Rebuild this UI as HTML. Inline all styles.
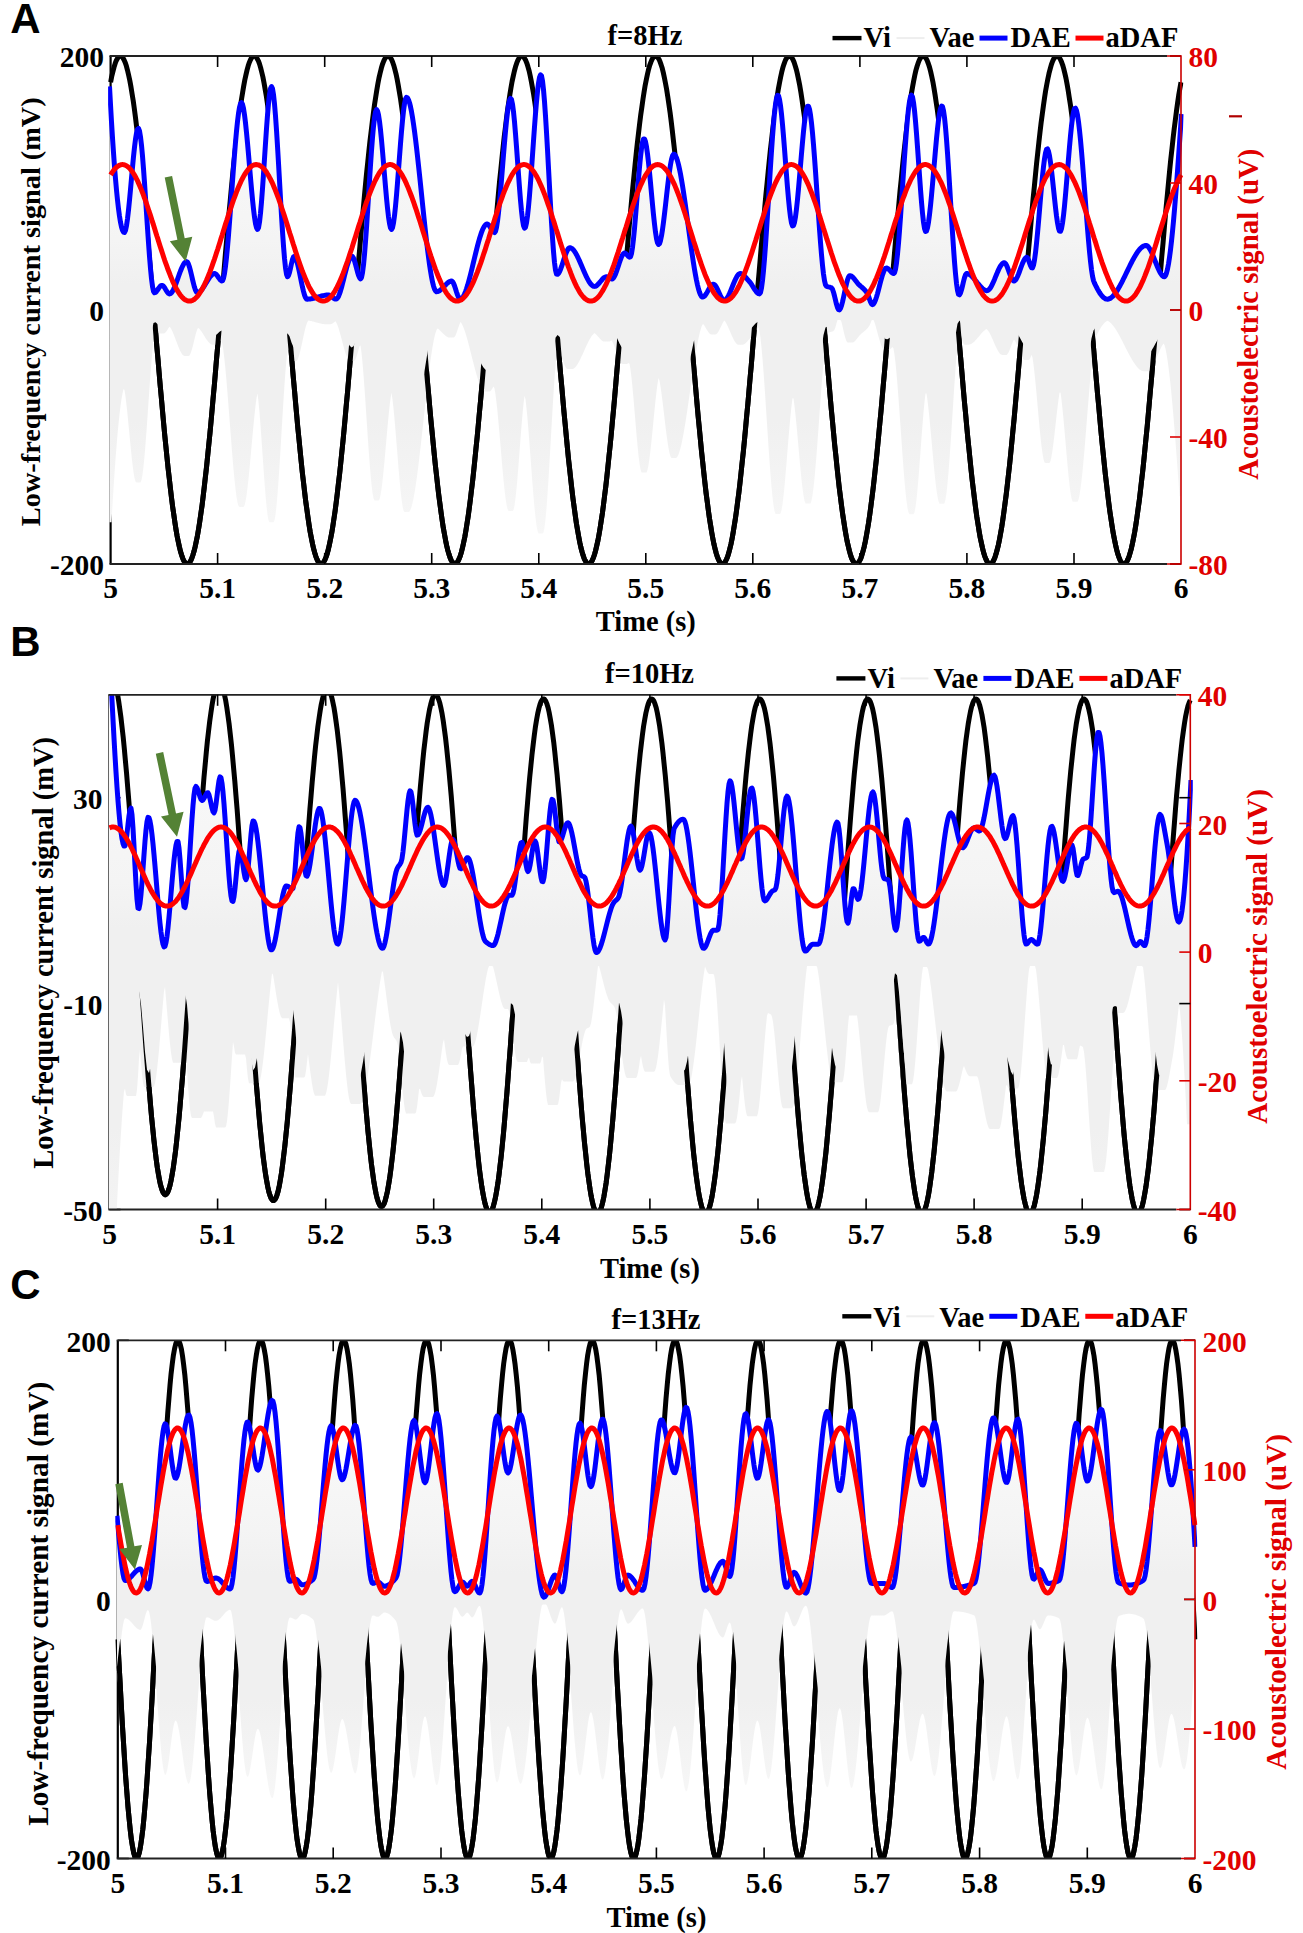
<!DOCTYPE html><html><head><meta charset="utf-8"><style>html,body{margin:0;padding:0;background:#fff;width:1303px;height:1933px;overflow:hidden}</style></head><body><svg width="1303" height="1933" viewBox="0 0 1303 1933" style="display:block">
<rect width="1303" height="1933" fill="#fff"/>
<clipPath id="clipA"><rect x="108.1" y="56.0" width="1075.4" height="508.0"/></clipPath>
<line x1="110.6" y1="56.0" x2="110.6" y2="564.0" stroke="#000" stroke-width="2.2"/>
<line x1="110.6" y1="56.0" x2="121.6" y2="56.0" stroke="#000" stroke-width="1.6"/>
<line x1="110.6" y1="310.0" x2="121.6" y2="310.0" stroke="#000" stroke-width="1.6"/>
<line x1="110.6" y1="564.0" x2="121.6" y2="564.0" stroke="#000" stroke-width="1.6"/>
<g clip-path="url(#clipA)">
<polyline points="110.6,82.2 111.7,76.5 112.9,71.6 114.0,67.3 115.1,63.7 116.2,60.7 117.4,58.5 118.5,57.0 119.6,56.1 120.8,56.0 121.9,56.7 123.0,58.0 124.1,60.0 125.3,62.7 126.4,66.1 127.5,70.3 128.6,75.0 129.8,80.5 130.9,86.5 132.0,93.3 133.2,100.6 134.3,108.5 135.4,116.9 136.5,125.9 137.7,135.5 138.8,145.5 139.9,156.0 141.1,166.9 142.2,178.2 143.3,189.9 144.4,201.9 145.6,214.2 146.7,226.8 147.8,239.6 148.9,252.6 150.1,265.8 151.2,279.1 152.3,292.5 153.5,305.9 154.6,319.4 155.7,332.8 156.8,346.2 158.0,359.4 159.1,372.6 160.2,385.5 161.4,398.2 162.5,410.7 163.6,422.9 164.7,434.8 165.9,446.4 167.0,457.5 168.1,468.2 169.3,478.5 170.4,488.4 171.5,497.7 172.6,506.5 173.8,514.7 174.9,522.4 176.0,529.5 177.1,535.9 178.3,541.8 179.4,546.9 180.5,551.5 181.7,555.3 182.8,558.4 183.9,560.9 185.0,562.6 186.2,563.7 187.3,564.0 188.4,563.6 189.6,562.5 190.7,560.7 191.8,558.2 192.9,555.0 194.1,551.1 195.2,546.5 196.3,541.3 197.5,535.4 198.6,528.9 199.7,521.8 200.8,514.1 202.0,505.8 203.1,496.9 204.2,487.6 205.3,477.7 206.5,467.4 207.6,456.6 208.7,445.4 209.9,433.8 211.0,421.9 212.1,409.7 213.2,397.2 214.4,384.4 215.5,371.5 216.6,358.3 217.8,345.1 218.9,331.7 220.0,318.3 221.1,304.8 222.3,291.4 223.4,278.0 224.5,264.7 225.6,251.5 226.8,238.5 227.9,225.7 229.0,213.1 230.2,200.9 231.3,188.9 232.4,177.2 233.5,165.9 234.7,155.1 235.8,144.6 236.9,134.7 238.1,125.2 239.2,116.2 240.3,107.8 241.4,99.9 242.6,92.7 243.7,86.0 244.8,80.0 246.0,74.6 247.1,69.9 248.2,65.8 249.3,62.5 250.5,59.8 251.6,57.8 252.7,56.6 253.8,56.0 255.0,56.2 256.1,57.1 257.2,58.7 258.4,60.9 259.5,63.9 260.6,67.6 261.7,72.0 262.9,77.0 264.0,82.7 265.1,89.0 266.3,95.9 267.4,103.5 268.5,111.6 269.6,120.3 270.8,129.5 271.9,139.2 273.0,149.4 274.1,160.0 275.3,171.1 276.4,182.5 277.5,194.3 278.7,206.5 279.8,218.9 280.9,231.6 282.0,244.5 283.2,257.6 284.3,270.8 285.4,284.1 286.6,297.5 287.7,311.0 288.8,324.4 289.9,337.8 291.1,351.2 292.2,364.4 293.3,377.4 294.5,390.3 295.6,403.0 296.7,415.3 297.8,427.4 299.0,439.2 300.1,450.6 301.2,461.6 302.3,472.2 303.5,482.3 304.6,491.9 305.7,501.1 306.9,509.6 308.0,517.7 309.1,525.1 310.2,532.0 311.4,538.2 312.5,543.8 313.6,548.7 314.8,553.0 315.9,556.6 317.0,559.4 318.1,561.6 319.3,563.1 320.4,563.9 321.5,563.9 322.6,563.3 323.8,561.9 324.9,559.9 326.0,557.1 327.2,553.6 328.3,549.5 329.4,544.6 330.5,539.2 331.7,533.1 332.8,526.3 333.9,519.0 335.1,511.0 336.2,502.5 337.3,493.5 338.4,483.9 339.6,473.9 340.7,463.4 341.8,452.4 343.0,441.1 344.1,429.4 345.2,417.4 346.3,405.0 347.5,392.4 348.6,379.6 349.7,366.6 350.8,353.4 352.0,340.1 353.1,326.7 354.2,313.2 355.4,299.8 356.5,286.3 357.6,273.0 358.7,259.7 359.9,246.6 361.0,233.7 362.1,221.0 363.3,208.5 364.4,196.3 365.5,184.5 366.6,172.9 367.8,161.8 368.9,151.1 370.0,140.8 371.2,131.0 372.3,121.7 373.4,113.0 374.5,104.8 375.7,97.1 376.8,90.1 377.9,83.7 379.0,77.9 380.2,72.8 381.3,68.3 382.4,64.5 383.6,61.4 384.7,59.0 385.8,57.3 386.9,56.3 388.1,56.0 389.2,56.4 390.3,57.6 391.5,59.4 392.6,62.0 393.7,65.2 394.8,69.2 396.0,73.8 397.1,79.0 398.2,85.0 399.3,91.5 400.5,98.7 401.6,106.4 402.7,114.8 403.9,123.6 405.0,133.0 406.1,142.9 407.2,153.3 408.4,164.1 409.5,175.3 410.6,186.9 411.8,198.8 412.9,211.1 414.0,223.6 415.1,236.4 416.3,249.4 417.4,262.5 418.5,275.8 419.7,289.1 420.8,302.6 421.9,316.0 423.0,329.5 424.2,342.8 425.3,356.1 426.4,369.3 427.5,382.3 428.7,395.1 429.8,407.6 430.9,419.9 432.1,431.9 433.2,443.5 434.3,454.8 435.4,465.6 436.6,476.0 437.7,486.0 438.8,495.4 440.0,504.3 441.1,512.7 442.2,520.5 443.3,527.8 444.5,534.4 445.6,540.4 446.7,545.7 447.8,550.4 449.0,554.4 450.1,557.7 451.2,560.3 452.4,562.3 453.5,563.5 454.6,564.0 455.7,563.8 456.9,562.9 458.0,561.2 459.1,558.9 460.3,555.9 461.4,552.1 462.5,547.7 463.6,542.7 464.8,537.0 465.9,530.6 467.0,523.6 468.2,516.0 469.3,507.9 470.4,499.2 471.5,489.9 472.7,480.2 473.8,470.0 474.9,459.3 476.0,448.2 477.2,436.8 478.3,424.9 479.4,412.8 480.6,400.3 481.7,387.6 482.8,374.7 483.9,361.6 485.1,348.4 486.2,335.0 487.3,321.6 488.5,308.2 489.6,294.7 490.7,281.3 491.8,268.0 493.0,254.8 494.1,241.8 495.2,228.9 496.4,216.3 497.5,203.9 498.6,191.8 499.7,180.1 500.9,168.7 502.0,157.7 503.1,147.2 504.2,137.1 505.4,127.5 506.5,118.4 507.6,109.8 508.8,101.8 509.9,94.4 511.0,87.6 512.1,81.4 513.3,75.9 514.4,71.0 515.5,66.8 516.7,63.2 517.8,60.4 518.9,58.3 520.0,56.8 521.2,56.1 522.3,56.1 523.4,56.8 524.5,58.2 525.7,60.3 526.8,63.1 527.9,66.6 529.1,70.8 530.2,75.7 531.3,81.2 532.4,87.4 533.6,94.1 534.7,101.5 535.8,109.5 537.0,118.0 538.1,127.1 539.2,136.7 540.3,146.8 541.5,157.3 542.6,168.3 543.7,179.6 544.9,191.3 546.0,203.4 547.1,215.8 548.2,228.4 549.4,241.2 550.5,254.3 551.6,267.5 552.7,280.8 553.9,294.2 555.0,307.6 556.1,321.1 557.3,334.5 558.4,347.8 559.5,361.1 560.6,374.2 561.8,387.1 562.9,399.8 564.0,412.3 565.2,424.4 566.3,436.3 567.4,447.8 568.5,458.9 569.7,469.6 570.8,479.8 571.9,489.6 573.0,498.8 574.2,507.5 575.3,515.7 576.4,523.3 577.6,530.3 578.7,536.7 579.8,542.5 580.9,547.5 582.1,552.0 583.2,555.7 584.3,558.8 585.5,561.1 586.6,562.8 587.7,563.8 588.8,564.0 590.0,563.5 591.1,562.3 592.2,560.4 593.4,557.8 594.5,554.5 595.6,550.6 596.7,545.9 597.9,540.6 599.0,534.6 600.1,528.1 601.2,520.8 602.4,513.1 603.5,504.7 604.6,495.8 605.8,486.4 606.9,476.4 608.0,466.0 609.1,455.2 610.3,444.0 611.4,432.4 612.5,420.4 613.7,408.1 614.8,395.6 615.9,382.8 617.0,369.8 618.2,356.7 619.3,343.4 620.4,330.0 621.5,316.6 622.7,303.1 623.8,289.7 624.9,276.3 626.1,263.0 627.2,249.9 628.3,236.9 629.4,224.1 630.6,211.6 631.7,199.3 632.8,187.4 634.0,175.8 635.1,164.6 636.2,153.7 637.3,143.4 638.5,133.4 639.6,124.0 640.7,115.1 641.9,106.8 643.0,99.0 644.1,91.8 645.2,85.2 646.4,79.3 647.5,74.0 648.6,69.3 649.7,65.4 650.9,62.1 652.0,59.5 653.1,57.6 654.3,56.5 655.4,56.0 656.5,56.3 657.6,57.2 658.8,58.9 659.9,61.3 661.0,64.4 662.2,68.1 663.3,72.6 664.4,77.7 665.5,83.4 666.7,89.8 667.8,96.8 668.9,104.4 670.1,112.6 671.2,121.4 672.3,130.6 673.4,140.4 674.6,150.7 675.7,161.4 676.8,172.5 677.9,184.0 679.1,195.8 680.2,208.0 681.3,220.5 682.5,233.2 683.6,246.1 684.7,259.2 685.8,272.4 687.0,285.8 688.1,299.2 689.2,312.7 690.4,326.1 691.5,339.5 692.6,352.8 693.7,366.0 694.9,379.1 696.0,391.9 697.1,404.5 698.2,416.9 699.4,428.9 700.5,440.6 701.6,452.0 702.8,462.9 703.9,473.5 705.0,483.5 706.1,493.1 707.3,502.2 708.4,510.7 709.5,518.6 710.7,526.0 711.8,532.8 712.9,538.9 714.0,544.4 715.2,549.3 716.3,553.5 717.4,557.0 718.6,559.8 719.7,561.9 720.8,563.2 721.9,563.9 723.1,563.9 724.2,563.2 725.3,561.7 726.4,559.5 727.6,556.7 728.7,553.1 729.8,548.9 731.0,544.0 732.1,538.4 733.2,532.2 734.3,525.4 735.5,518.0 736.6,510.0 737.7,501.4 738.9,492.3 740.0,482.7 741.1,472.6 742.2,462.0 743.4,451.0 744.5,439.7 745.6,427.9 746.7,415.8 747.9,403.5 749.0,390.8 750.1,378.0 751.3,364.9 752.4,351.7 753.5,338.4 754.6,325.0 755.8,311.5 756.9,298.1 758.0,284.7 759.2,271.3 760.3,258.1 761.4,245.0 762.5,232.1 763.7,219.4 764.8,207.0 765.9,194.8 767.1,183.0 768.2,171.5 769.3,160.4 770.4,149.8 771.6,139.6 772.7,129.8 773.8,120.6 774.9,111.9 776.1,103.8 777.2,96.2 778.3,89.3 779.5,82.9 780.6,77.2 781.7,72.2 782.8,67.8 784.0,64.1 785.1,61.0 786.2,58.7 787.4,57.1 788.5,56.2 789.6,56.0 790.7,56.5 791.9,57.8 793.0,59.7 794.1,62.3 795.2,65.7 796.4,69.7 797.5,74.4 798.6,79.8 799.8,85.8 800.9,92.4 802.0,99.6 803.1,107.5 804.3,115.8 805.4,124.8 806.5,134.3 807.7,144.2 808.8,154.6 809.9,165.5 811.0,176.7 812.2,188.4 813.3,200.4 814.4,212.6 815.6,225.2 816.7,238.0 817.8,251.0 818.9,264.2 820.1,277.4 821.2,290.8 822.3,304.3 823.4,317.7 824.6,331.1 825.7,344.5 826.8,357.8 828.0,370.9 829.1,383.9 830.2,396.7 831.3,409.2 832.5,421.4 833.6,433.3 834.7,444.9 835.9,456.1 837.0,466.9 838.1,477.3 839.2,487.2 840.4,496.6 841.5,505.4 842.6,513.7 843.8,521.5 844.9,528.6 846.0,535.2 847.1,541.1 848.3,546.3 849.4,550.9 850.5,554.9 851.6,558.1 852.8,560.6 853.9,562.5 855.0,563.6 856.2,564.0 857.3,563.7 858.4,562.7 859.5,561.0 860.7,558.6 861.8,555.4 862.9,551.6 864.1,547.1 865.2,542.0 866.3,536.2 867.4,529.8 868.6,522.7 869.7,515.1 870.8,506.8 871.9,498.1 873.1,488.8 874.2,479.0 875.3,468.7 876.5,458.0 877.6,446.8 878.7,435.3 879.8,423.4 881.0,411.2 882.1,398.8 883.2,386.0 884.4,373.1 885.5,360.0 886.6,346.7 887.7,333.4 888.9,319.9 890.0,306.5 891.1,293.0 892.3,279.7 893.4,266.3 894.5,253.2 895.6,240.1 896.8,227.3 897.9,214.7 899.0,202.4 900.1,190.3 901.3,178.7 902.4,167.3 903.5,156.4 904.7,145.9 905.8,135.9 906.9,126.3 908.0,117.3 909.2,108.8 910.3,100.9 911.4,93.5 912.6,86.8 913.7,80.7 914.8,75.2 915.9,70.4 917.1,66.3 918.2,62.9 919.3,60.1 920.4,58.0 921.6,56.7 922.7,56.1 923.8,56.1 925.0,56.9 926.1,58.4 927.2,60.6 928.3,63.5 929.5,67.1 930.6,71.4 931.7,76.3 932.9,81.9 934.0,88.2 935.1,95.0 936.2,102.5 937.4,110.5 938.5,119.1 939.6,128.3 940.8,137.9 941.9,148.1 943.0,158.7 944.1,169.7 945.3,181.1 946.4,192.8 947.5,204.9 948.6,217.3 949.8,230.0 950.9,242.8 952.0,255.9 953.2,269.1 954.3,282.5 955.4,295.9 956.5,309.3 957.7,322.8 958.8,336.2 959.9,349.5 961.1,362.7 962.2,375.8 963.3,388.7 964.4,401.4 965.6,413.8 966.7,425.9 967.8,437.7 969.0,449.2 970.1,460.2 971.2,470.9 972.3,481.0 973.5,490.7 974.6,499.9 975.7,508.6 976.8,516.7 978.0,524.2 979.1,531.2 980.2,537.5 981.4,543.1 982.5,548.1 983.6,552.5 984.7,556.1 985.9,559.1 987.0,561.4 988.1,563.0 989.3,563.8 990.4,564.0 991.5,563.4 992.6,562.1 993.8,560.1 994.9,557.5 996.0,554.1 997.1,550.0 998.3,545.3 999.4,539.9 1000.5,533.9 1001.7,527.2 1002.8,519.9 1003.9,512.0 1005.0,503.6 1006.2,494.6 1007.3,485.1 1008.4,475.2 1009.6,464.7 1010.7,453.8 1011.8,442.5 1012.9,430.9 1014.1,418.9 1015.2,406.6 1016.3,394.0 1017.5,381.2 1018.6,368.2 1019.7,355.0 1020.8,341.7 1022.0,328.3 1023.1,314.9 1024.2,301.4 1025.3,288.0 1026.5,274.7 1027.6,261.4 1028.7,248.3 1029.9,235.3 1031.0,222.6 1032.1,210.0 1033.2,197.8 1034.4,185.9 1035.5,174.4 1036.6,163.2 1037.8,152.4 1038.9,142.1 1040.0,132.2 1041.1,122.9 1042.3,114.0 1043.4,105.8 1044.5,98.1 1045.6,90.9 1046.8,84.4 1047.9,78.6 1049.0,73.4 1050.2,68.8 1051.3,64.9 1052.4,61.7 1053.5,59.2 1054.7,57.5 1055.8,56.4 1056.9,56.0 1058.1,56.3 1059.2,57.4 1060.3,59.2 1061.4,61.6 1062.6,64.8 1063.7,68.6 1064.8,73.2 1066.0,78.4 1067.1,84.2 1068.2,90.7 1069.3,97.8 1070.5,105.4 1071.6,113.7 1072.7,122.5 1073.8,131.8 1075.0,141.7 1076.1,152.0 1077.2,162.7 1078.4,173.9 1079.5,185.4 1080.6,197.3 1081.7,209.5 1082.9,222.0 1084.0,234.8 1085.1,247.7 1086.3,260.8 1087.4,274.1 1088.5,287.5 1089.6,300.9 1090.8,314.4 1091.9,327.8 1093.0,341.2 1094.1,354.5 1095.3,367.7 1096.4,380.7 1097.5,393.5 1098.7,406.1 1099.8,418.4 1100.9,430.4 1102.0,442.1 1103.2,453.4 1104.3,464.3 1105.4,474.7 1106.6,484.7 1107.7,494.3 1108.8,503.3 1109.9,511.7 1111.1,519.6 1112.2,526.9 1113.3,533.6 1114.5,539.7 1115.6,545.1 1116.7,549.8 1117.8,553.9 1119.0,557.3 1120.1,560.1 1121.2,562.1 1122.3,563.4 1123.5,564.0 1124.6,563.8 1125.7,563.0 1126.9,561.5 1128.0,559.2 1129.1,556.3 1130.2,552.6 1131.4,548.3 1132.5,543.3 1133.6,537.7 1134.8,531.4 1135.9,524.5 1137.0,517.0 1138.1,508.9 1139.3,500.3 1140.4,491.1 1141.5,481.4 1142.7,471.3 1143.8,460.7 1144.9,449.6 1146.0,438.2 1147.2,426.4 1148.3,414.3 1149.4,401.9 1150.5,389.2 1151.7,376.3 1152.8,363.3 1153.9,350.0 1155.1,336.7 1156.2,323.3 1157.3,309.9 1158.4,296.4 1159.6,283.0 1160.7,269.7 1161.8,256.4 1163.0,243.4 1164.1,230.5 1165.2,217.8 1166.3,205.4 1167.5,193.3 1168.6,181.5 1169.7,170.1 1170.8,159.1 1172.0,148.5 1173.1,138.3 1174.2,128.7 1175.4,119.5 1176.5,110.9 1177.6,102.8 1178.7,95.3 1179.9,88.4 1181.0,82.2" fill="none" stroke="#000" stroke-width="5" stroke-linejoin="round"/>
<linearGradient id="gA" gradientUnits="userSpaceOnUse" x1="0" y1="74.9" x2="0" y2="533.4"><stop offset="0" stop-color="#fbfbfb"/><stop offset="0.360" stop-color="#f4f4f4"/><stop offset="0.458" stop-color="#f0f0f0"/><stop offset="0.756" stop-color="#f0f0f0"/><stop offset="1" stop-color="#f7f7f7"/></linearGradient>
<polygon points="109.5,86.5 110.5,104.7 111.5,121.9 112.5,137.9 113.5,152.7 114.5,166.4 115.5,178.9 116.5,190.1 117.5,200.1 118.5,208.8 119.5,216.2 120.5,222.3 121.5,227.0 122.5,230.3 123.5,232.1 124.5,232.5 125.5,230.4 126.5,225.7 127.5,218.8 128.5,210.1 129.5,200.2 130.5,189.4 131.5,178.3 132.5,167.2 133.5,156.7 134.5,147.3 135.5,139.2 136.5,133.1 137.5,129.4 138.5,128.5 139.5,131.0 140.5,136.8 141.5,145.3 142.5,156.1 143.5,168.8 144.5,182.8 145.5,197.6 146.5,212.9 147.5,228.1 148.5,242.7 149.5,256.4 150.5,268.5 151.5,278.7 152.5,286.5 153.5,291.3 154.5,292.8 155.5,292.4 156.5,291.4 157.5,290.0 158.5,288.5 159.5,287.1 160.5,286.0 161.5,285.4 162.5,285.5 163.5,286.3 164.5,287.6 165.5,289.3 166.5,290.9 167.5,292.4 168.5,293.5 169.5,293.9 170.5,293.6 171.5,292.7 172.5,291.3 173.5,289.4 174.5,287.2 175.5,284.8 176.5,282.1 177.5,279.3 178.5,276.5 179.5,273.7 180.5,271.0 181.5,268.5 182.5,266.3 183.5,264.4 184.5,262.9 185.5,262.0 186.5,261.6 187.5,262.2 188.5,264.2 189.5,267.1 190.5,270.9 191.5,275.0 192.5,279.4 193.5,283.5 194.5,287.3 195.5,290.2 196.5,292.2 197.5,292.8 198.5,292.6 199.5,292.0 200.5,291.1 201.5,290.0 202.5,288.7 203.5,287.2 204.5,285.6 205.5,284.0 206.5,282.3 207.5,280.7 208.5,279.1 209.5,277.6 210.5,276.3 211.5,275.2 212.5,274.3 213.5,273.7 214.5,273.5 215.5,273.8 216.5,274.7 217.5,276.0 218.5,277.5 219.5,278.9 220.5,280.1 221.5,280.9 222.5,280.8 223.5,278.3 224.5,273.4 225.5,266.3 226.5,257.4 227.5,246.9 228.5,235.2 229.5,222.4 230.5,209.0 231.5,195.3 232.5,181.4 233.5,167.8 234.5,154.7 235.5,142.4 236.5,131.3 237.5,121.5 238.5,113.5 239.5,107.4 240.5,103.7 241.5,102.6 242.5,104.3 243.5,108.4 244.5,114.8 245.5,122.9 246.5,132.4 247.5,143.0 248.5,154.3 249.5,166.0 250.5,177.7 251.5,189.0 252.5,199.6 253.5,209.1 254.5,217.2 255.5,223.6 256.5,227.7 257.5,229.4 258.5,227.7 259.5,222.1 260.5,213.3 261.5,202.0 262.5,188.6 263.5,174.0 264.5,158.7 265.5,143.4 266.5,128.7 267.5,115.2 268.5,103.6 269.5,94.5 270.5,88.6 271.5,86.5 272.5,88.6 273.5,94.6 274.5,103.9 275.5,115.9 276.5,130.1 277.5,146.1 278.5,163.1 279.5,180.7 280.5,198.4 281.5,215.5 282.5,231.5 283.5,246.0 284.5,258.3 285.5,267.8 286.5,274.2 287.5,276.7 288.5,275.6 289.5,272.5 290.5,268.1 291.5,263.5 292.5,259.4 293.5,256.8 294.5,256.4 295.5,257.7 296.5,260.2 297.5,263.7 298.5,267.9 299.5,272.6 300.5,277.5 301.5,282.5 302.5,287.2 303.5,291.4 304.5,295.0 305.5,297.6 306.5,299.0 307.5,299.2 308.5,299.1 309.5,299.0 310.5,298.9 311.5,298.7 312.5,298.5 313.5,298.3 314.5,298.0 315.5,297.7 316.5,297.5 317.5,297.2 318.5,296.9 319.5,296.6 320.5,296.3 321.5,296.0 322.5,295.8 323.5,295.6 324.5,295.4 325.5,295.2 326.5,295.1 327.5,295.0 328.5,295.0 329.5,295.2 330.5,295.7 331.5,296.5 332.5,297.3 333.5,298.1 334.5,298.8 335.5,299.1 336.5,299.1 337.5,298.1 338.5,296.4 339.5,293.9 340.5,290.9 341.5,287.5 342.5,283.7 343.5,279.8 344.5,275.7 345.5,271.8 346.5,268.0 347.5,264.6 348.5,261.6 349.5,259.1 350.5,257.4 351.5,256.4 352.5,256.5 353.5,258.1 354.5,260.8 355.5,264.3 356.5,268.1 357.5,271.9 358.5,275.2 359.5,277.6 360.5,278.8 361.5,277.6 362.5,272.8 363.5,264.9 364.5,254.4 365.5,241.8 366.5,227.7 367.5,212.4 368.5,196.6 369.5,180.7 370.5,165.2 371.5,150.7 372.5,137.5 373.5,126.4 374.5,117.7 375.5,111.9 376.5,109.6 377.5,110.9 378.5,114.9 379.5,121.4 380.5,129.9 381.5,139.9 382.5,151.1 383.5,162.9 384.5,174.9 385.5,186.8 386.5,198.0 387.5,208.1 388.5,216.8 389.5,223.5 390.5,227.9 391.5,229.4 392.5,227.7 393.5,223.0 394.5,215.7 395.5,206.2 396.5,195.2 397.5,182.9 398.5,169.9 399.5,156.8 400.5,143.8 401.5,131.5 402.5,120.5 403.5,111.0 404.5,103.7 405.5,99.0 406.5,97.3 407.5,97.9 408.5,99.8 409.5,102.7 410.5,106.7 411.5,111.6 412.5,117.4 413.5,124.0 414.5,131.2 415.5,139.0 416.5,147.4 417.5,156.2 418.5,165.4 419.5,174.8 420.5,184.3 421.5,194.0 422.5,203.7 423.5,213.3 424.5,222.7 425.5,231.9 426.5,240.7 427.5,249.1 428.5,257.0 429.5,264.4 430.5,271.0 431.5,276.8 432.5,281.9 433.5,285.9 434.5,289.0 435.5,290.9 436.5,291.7 437.5,291.6 438.5,291.2 439.5,290.7 440.5,289.9 441.5,289.0 442.5,288.0 443.5,287.0 444.5,285.9 445.5,284.9 446.5,283.9 447.5,283.0 448.5,282.2 449.5,281.6 450.5,281.2 451.5,281.0 452.5,281.6 453.5,283.3 454.5,285.8 455.5,288.8 456.5,292.0 457.5,294.9 458.5,297.3 459.5,298.9 460.5,299.2 461.5,298.7 462.5,297.6 463.5,296.1 464.5,294.0 465.5,291.6 466.5,288.8 467.5,285.6 468.5,282.1 469.5,278.4 470.5,274.6 471.5,270.5 472.5,266.4 473.5,262.2 474.5,258.0 475.5,253.9 476.5,249.8 477.5,245.9 478.5,242.1 479.5,238.6 480.5,235.4 481.5,232.4 482.5,229.8 483.5,227.7 484.5,226.0 485.5,224.8 486.5,224.1 487.5,224.1 488.5,224.8 489.5,226.1 490.5,227.7 491.5,229.4 492.5,231.0 493.5,232.1 494.5,232.6 495.5,231.4 496.5,227.4 497.5,221.1 498.5,212.8 499.5,202.9 500.5,191.7 501.5,179.7 502.5,167.3 503.5,154.9 504.5,142.7 505.5,131.3 506.5,121.0 507.5,112.1 508.5,105.1 509.5,100.4 510.5,98.4 511.5,99.5 512.5,104.2 513.5,111.8 514.5,121.8 515.5,133.7 516.5,146.7 517.5,160.5 518.5,174.4 519.5,187.8 520.5,200.2 521.5,211.0 522.5,219.7 523.5,225.6 524.5,228.2 525.5,227.2 526.5,223.0 527.5,216.0 528.5,206.7 529.5,195.5 530.5,182.9 531.5,169.2 532.5,155.1 533.5,140.8 534.5,126.9 535.5,113.7 536.5,101.7 537.5,91.4 538.5,83.2 539.5,77.5 540.5,74.9 541.5,75.8 542.5,80.9 543.5,89.7 544.5,101.5 545.5,115.8 546.5,132.1 547.5,149.7 548.5,168.1 549.5,186.7 550.5,204.9 551.5,222.1 552.5,237.9 553.5,251.5 554.5,262.5 555.5,270.2 556.5,274.1 557.5,274.3 558.5,273.4 559.5,271.7 560.5,269.4 561.5,266.7 562.5,263.7 563.5,260.6 564.5,257.6 565.5,254.6 566.5,252.1 567.5,250.0 568.5,248.5 569.5,247.7 570.5,247.8 571.5,248.2 572.5,249.0 573.5,250.0 574.5,251.4 575.5,252.9 576.5,254.7 577.5,256.6 578.5,258.7 579.5,260.9 580.5,263.2 581.5,265.5 582.5,267.9 583.5,270.2 584.5,272.5 585.5,274.7 586.5,276.9 587.5,278.8 588.5,280.7 589.5,282.3 590.5,283.7 591.5,284.8 592.5,285.7 593.5,286.2 594.5,286.4 595.5,286.2 596.5,285.7 597.5,284.9 598.5,283.8 599.5,282.7 600.5,281.5 601.5,280.3 602.5,279.1 603.5,278.1 604.5,277.4 605.5,276.9 606.5,276.7 607.5,276.9 608.5,277.4 609.5,278.0 610.5,278.6 611.5,278.9 612.5,278.9 613.5,278.0 614.5,276.3 615.5,274.1 616.5,271.4 617.5,268.5 618.5,265.4 619.5,262.3 620.5,259.5 621.5,256.9 622.5,254.9 623.5,253.6 624.5,253.0 625.5,253.3 626.5,254.2 627.5,255.4 628.5,256.5 629.5,257.2 630.5,256.9 631.5,253.5 632.5,247.3 633.5,238.7 634.5,228.4 635.5,216.7 636.5,204.3 637.5,191.5 638.5,179.1 639.5,167.4 640.5,157.1 641.5,148.5 642.5,142.3 643.5,138.9 644.5,138.9 645.5,141.6 646.5,146.8 647.5,153.9 648.5,162.5 649.5,172.3 650.5,182.8 651.5,193.7 652.5,204.5 653.5,214.7 654.5,224.1 655.5,232.2 656.5,238.6 657.5,242.8 658.5,244.5 659.5,243.6 660.5,240.6 661.5,235.8 662.5,229.5 663.5,222.1 664.5,213.9 665.5,205.2 666.5,196.2 667.5,187.4 668.5,179.0 669.5,171.3 670.5,164.6 671.5,159.4 672.5,155.8 673.5,154.2 674.5,154.5 675.5,155.8 676.5,157.9 677.5,160.9 678.5,164.6 679.5,169.1 680.5,174.1 681.5,179.7 682.5,185.7 683.5,192.1 684.5,198.9 685.5,205.9 686.5,213.1 687.5,220.5 688.5,227.9 689.5,235.2 690.5,242.5 691.5,249.6 692.5,256.5 693.5,263.1 694.5,269.3 695.5,275.0 696.5,280.3 697.5,285.0 698.5,289.0 699.5,292.3 700.5,294.8 701.5,296.4 702.5,297.1 703.5,296.9 704.5,296.1 705.5,294.9 706.5,293.4 707.5,291.6 708.5,289.8 709.5,288.1 710.5,286.5 711.5,285.3 712.5,284.5 713.5,284.2 714.5,284.7 715.5,285.8 716.5,287.4 717.5,289.4 718.5,291.6 719.5,293.8 720.5,295.9 721.5,297.8 722.5,299.2 723.5,300.1 724.5,300.3 725.5,299.8 726.5,298.8 727.5,297.4 728.5,295.6 729.5,293.5 730.5,291.2 731.5,288.8 732.5,286.3 733.5,283.8 734.5,281.4 735.5,279.2 736.5,277.3 737.5,275.6 738.5,274.4 739.5,273.7 740.5,273.5 741.5,273.8 742.5,274.3 743.5,275.1 744.5,276.1 745.5,277.2 746.5,278.3 747.5,279.5 748.5,280.6 749.5,281.7 750.5,282.9 751.5,284.4 752.5,286.0 753.5,287.6 754.5,289.2 755.5,290.6 756.5,291.9 757.5,292.9 758.5,293.6 759.5,293.9 760.5,292.5 761.5,287.9 762.5,280.5 763.5,270.7 764.5,258.8 765.5,245.2 766.5,230.4 767.5,214.7 768.5,198.6 769.5,182.3 770.5,166.3 771.5,151.0 772.5,136.8 773.5,124.1 774.5,113.1 775.5,104.5 776.5,98.4 777.5,95.4 778.5,95.7 779.5,99.3 780.5,105.6 781.5,114.1 782.5,124.5 783.5,136.3 784.5,148.9 785.5,162.0 786.5,175.0 787.5,187.5 788.5,199.0 789.5,209.0 790.5,217.2 791.5,223.0 792.5,225.9 793.5,225.6 794.5,222.4 795.5,216.7 796.5,208.9 797.5,199.5 798.5,188.8 799.5,177.3 800.5,165.5 801.5,153.6 802.5,142.2 803.5,131.6 804.5,122.3 805.5,114.7 806.5,109.2 807.5,106.3 808.5,106.3 809.5,109.3 810.5,115.0 811.5,123.0 812.5,133.0 813.5,144.6 814.5,157.5 815.5,171.3 816.5,185.8 817.5,200.4 818.5,215.0 819.5,229.1 820.5,242.4 821.5,254.6 822.5,265.3 823.5,274.1 824.5,280.7 825.5,284.8 826.5,286.2 827.5,286.6 828.5,286.9 829.5,287.1 830.5,287.5 831.5,287.9 832.5,289.3 833.5,292.2 834.5,296.0 835.5,300.2 836.5,304.3 837.5,306.0 838.5,306.0 839.5,306.0 840.5,306.0 841.5,305.7 842.5,301.9 843.5,297.5 844.5,292.8 845.5,288.1 846.5,283.7 847.5,279.9 848.5,277.2 849.5,275.7 850.5,275.7 851.5,276.1 852.5,276.9 853.5,278.0 854.5,279.2 855.5,280.5 856.5,281.8 857.5,283.1 858.5,284.2 859.5,285.2 860.5,286.1 861.5,286.9 862.5,287.8 863.5,288.8 864.5,289.8 865.5,290.9 866.5,292.1 867.5,293.7 868.5,296.1 869.5,299.1 870.5,301.9 871.5,303.9 872.5,304.6 873.5,304.0 874.5,302.4 875.5,300.0 876.5,297.0 877.5,293.6 878.5,289.8 879.5,285.9 880.5,282.0 881.5,278.3 882.5,274.9 883.5,272.1 884.5,269.8 885.5,268.4 886.5,268.0 887.5,268.3 888.5,269.1 889.5,270.0 890.5,271.1 891.5,272.2 892.5,273.0 893.5,273.5 894.5,272.9 895.5,269.3 896.5,263.0 897.5,254.2 898.5,243.3 899.5,230.8 900.5,217.1 901.5,202.4 902.5,187.3 903.5,172.2 904.5,157.3 905.5,143.2 906.5,130.1 907.5,118.6 908.5,108.9 909.5,101.5 910.5,96.8 911.5,95.1 912.5,97.0 913.5,102.4 914.5,110.6 915.5,121.2 916.5,133.5 917.5,147.0 918.5,161.2 919.5,175.5 920.5,189.2 921.5,202.0 922.5,213.1 923.5,222.1 924.5,228.4 925.5,231.4 926.5,230.9 927.5,227.7 928.5,222.2 929.5,214.7 930.5,205.7 931.5,195.5 932.5,184.4 933.5,172.8 934.5,161.2 935.5,149.7 936.5,138.8 937.5,128.9 938.5,120.3 939.5,113.4 940.5,108.6 941.5,106.1 942.5,106.6 943.5,110.5 944.5,117.6 945.5,127.3 946.5,139.2 947.5,153.0 948.5,168.1 949.5,184.0 950.5,200.5 951.5,216.9 952.5,232.8 953.5,247.9 954.5,261.7 955.5,273.6 956.5,283.3 957.5,290.4 958.5,294.3 959.5,294.8 960.5,293.0 961.5,289.8 962.5,285.8 963.5,281.5 964.5,277.6 965.5,274.8 966.5,273.5 967.5,273.6 968.5,273.9 969.5,274.4 970.5,275.1 971.5,276.0 972.5,277.0 973.5,278.1 974.5,279.2 975.5,280.5 976.5,281.7 977.5,283.0 978.5,284.2 979.5,285.4 980.5,286.6 981.5,287.6 982.5,288.6 983.5,289.4 984.5,290.0 985.5,290.4 986.5,290.7 987.5,290.6 988.5,290.1 989.5,289.1 990.5,287.7 991.5,286.0 992.5,283.9 993.5,281.7 994.5,279.4 995.5,276.9 996.5,274.5 997.5,272.1 998.5,269.9 999.5,267.8 1000.5,266.0 1001.5,264.6 1002.5,263.5 1003.5,262.8 1004.5,262.8 1005.5,263.6 1006.5,265.3 1007.5,267.6 1008.5,270.3 1009.5,273.1 1010.5,275.8 1011.5,278.2 1012.5,280.0 1013.5,280.9 1014.5,280.9 1015.5,280.0 1016.5,278.5 1017.5,276.5 1018.5,274.1 1019.5,271.5 1020.5,268.7 1021.5,266.0 1022.5,263.4 1023.5,261.2 1024.5,259.3 1025.5,258.0 1026.5,257.3 1027.5,257.8 1028.5,259.9 1029.5,262.9 1030.5,265.7 1031.5,267.7 1032.5,267.9 1033.5,265.2 1034.5,260.0 1035.5,252.7 1036.5,243.6 1037.5,233.2 1038.5,222.0 1039.5,210.2 1040.5,198.4 1041.5,187.0 1042.5,176.3 1043.5,166.8 1044.5,158.9 1045.5,153.0 1046.5,149.5 1047.5,148.9 1048.5,151.2 1049.5,155.8 1050.5,162.3 1051.5,170.3 1052.5,179.2 1053.5,188.8 1054.5,198.3 1055.5,207.5 1056.5,215.9 1057.5,222.9 1058.5,228.1 1059.5,231.1 1060.5,231.3 1061.5,228.6 1062.5,223.1 1063.5,215.4 1064.5,205.9 1065.5,195.1 1066.5,183.3 1067.5,171.0 1068.5,158.7 1069.5,146.8 1070.5,135.7 1071.5,125.9 1072.5,117.9 1073.5,111.9 1074.5,108.6 1075.5,108.2 1076.5,110.5 1077.5,115.1 1078.5,121.8 1079.5,130.2 1080.5,140.1 1081.5,151.2 1082.5,163.3 1083.5,176.1 1084.5,189.2 1085.5,202.5 1086.5,215.6 1087.5,228.3 1088.5,240.4 1089.5,251.4 1090.5,261.3 1091.5,269.6 1092.5,276.1 1093.5,280.6 1094.5,283.1 1095.5,285.2 1096.5,287.2 1097.5,289.1 1098.5,290.9 1099.5,292.5 1100.5,294.0 1101.5,295.3 1102.5,296.5 1103.5,297.5 1104.5,298.2 1105.5,298.8 1106.5,299.1 1107.5,299.2 1108.5,299.0 1109.5,298.7 1110.5,298.2 1111.5,297.4 1112.5,296.6 1113.5,295.5 1114.5,294.3 1115.5,293.0 1116.5,291.5 1117.5,290.0 1118.5,288.3 1119.5,286.6 1120.5,284.7 1121.5,282.8 1122.5,280.9 1123.5,278.8 1124.5,276.8 1125.5,274.7 1126.5,272.7 1127.5,270.6 1128.5,268.5 1129.5,266.5 1130.5,264.4 1131.5,262.5 1132.5,260.5 1133.5,258.7 1134.5,256.9 1135.5,255.2 1136.5,253.6 1137.5,252.1 1138.5,250.8 1139.5,249.5 1140.5,248.4 1141.5,247.5 1142.5,246.7 1143.5,246.1 1144.5,245.7 1145.5,245.5 1146.5,245.6 1147.5,246.1 1148.5,247.1 1149.5,248.5 1150.5,250.2 1151.5,252.3 1152.5,254.5 1153.5,256.9 1154.5,259.4 1155.5,262.0 1156.5,264.5 1157.5,267.0 1158.5,269.3 1159.5,271.4 1160.5,273.2 1161.5,274.7 1162.5,275.9 1163.5,276.5 1164.5,276.7 1165.5,275.6 1166.5,273.0 1167.5,269.1 1168.5,263.9 1169.5,257.4 1170.5,249.8 1171.5,241.1 1172.5,231.4 1173.5,220.9 1174.5,209.5 1175.5,197.4 1176.5,184.7 1177.5,171.3 1178.5,157.5 1179.5,143.3 1180.5,128.8 1181.5,114.0 1181.5,496.2 1180.5,496.2 1179.5,496.2 1178.5,482.2 1177.5,468.4 1176.5,454.9 1175.5,441.7 1174.5,429.1 1173.5,417.0 1172.5,405.5 1171.5,394.7 1170.5,384.6 1169.5,375.5 1168.5,367.2 1167.5,360.0 1166.5,353.8 1165.5,348.8 1164.5,345.1 1163.5,343.5 1162.5,344.9 1161.5,346.7 1160.5,348.7 1159.5,350.9 1158.5,353.2 1157.5,355.6 1156.5,358.0 1155.5,360.4 1154.5,362.7 1153.5,364.9 1152.5,366.8 1151.5,368.4 1150.5,369.8 1149.5,370.7 1148.5,371.2 1147.5,371.2 1146.5,371.2 1145.5,371.2 1144.5,371.2 1143.5,371.2 1142.5,371.1 1141.5,370.7 1140.5,370.1 1139.5,369.4 1138.5,368.5 1137.5,367.4 1136.5,366.3 1135.5,365.0 1134.5,363.6 1133.5,362.0 1132.5,360.4 1131.5,358.7 1130.5,357.0 1129.5,355.2 1128.5,353.3 1127.5,351.4 1126.5,349.4 1125.5,347.4 1124.5,345.5 1123.5,343.5 1122.5,341.5 1121.5,339.6 1120.5,337.7 1119.5,335.8 1118.5,334.0 1117.5,332.3 1116.5,330.6 1115.5,329.0 1114.5,327.5 1113.5,326.2 1112.5,324.9 1111.5,323.8 1110.5,322.8 1109.5,321.9 1108.5,321.2 1107.5,320.7 1106.5,321.2 1105.5,321.9 1104.5,322.8 1103.5,323.9 1102.5,325.2 1101.5,326.6 1100.5,328.2 1099.5,329.9 1098.5,331.7 1097.5,333.6 1096.5,335.6 1095.5,337.9 1094.5,342.2 1093.5,348.4 1092.5,356.3 1091.5,365.6 1090.5,376.2 1089.5,387.6 1088.5,399.7 1087.5,412.1 1086.5,424.8 1085.5,437.2 1084.5,449.4 1083.5,460.8 1082.5,471.4 1081.5,480.8 1080.5,488.8 1079.5,495.1 1078.5,499.5 1077.5,501.7 1076.5,501.7 1075.5,501.7 1074.5,501.7 1073.5,501.7 1072.5,501.4 1071.5,498.2 1070.5,492.5 1069.5,484.9 1068.5,475.5 1067.5,465.0 1066.5,453.7 1065.5,442.0 1064.5,430.4 1063.5,419.2 1062.5,408.9 1061.5,399.8 1060.5,392.5 1059.5,392.8 1058.5,399.4 1057.5,407.4 1056.5,416.1 1055.5,425.2 1054.5,434.2 1053.5,442.7 1052.5,450.3 1051.5,456.5 1050.5,460.9 1049.5,463.0 1048.5,463.0 1047.5,463.0 1046.5,463.0 1045.5,463.0 1044.5,462.4 1043.5,459.2 1042.5,453.6 1041.5,446.1 1040.5,437.0 1039.5,426.9 1038.5,416.0 1037.5,404.8 1036.5,393.6 1035.5,382.9 1034.5,373.1 1033.5,364.5 1032.5,357.5 1031.5,354.8 1030.5,357.6 1029.5,359.6 1028.5,360.0 1027.5,360.0 1026.5,360.0 1025.5,360.0 1024.5,360.0 1023.5,359.4 1022.5,358.2 1021.5,356.4 1020.5,354.2 1019.5,351.8 1018.5,349.2 1017.5,346.6 1016.5,344.1 1015.5,341.8 1014.5,339.9 1013.5,340.2 1012.5,342.5 1011.5,345.0 1010.5,347.7 1009.5,350.3 1008.5,352.5 1007.5,354.1 1006.5,354.9 1005.5,354.9 1004.5,354.9 1003.5,354.9 1002.5,354.9 1001.5,354.8 1000.5,354.2 999.5,353.2 998.5,351.8 997.5,350.1 996.5,348.1 995.5,346.0 994.5,343.7 993.5,341.4 992.5,339.1 991.5,336.9 990.5,334.8 989.5,332.8 988.5,331.2 987.5,329.9 986.5,329.0 985.5,329.6 984.5,330.4 983.5,331.3 982.5,332.3 981.5,333.3 980.5,334.5 979.5,335.7 978.5,336.9 977.5,338.1 976.5,339.2 975.5,340.3 974.5,341.4 973.5,342.3 972.5,343.1 971.5,343.8 970.5,344.3 969.5,344.6 968.5,344.7 967.5,344.7 966.5,344.7 965.5,344.7 964.5,344.7 963.5,343.5 962.5,340.8 961.5,337.1 960.5,333.0 959.5,329.2 958.5,335.3 957.5,344.6 956.5,355.9 955.5,369.0 954.5,383.3 953.5,398.5 952.5,414.1 951.5,429.7 950.5,444.8 949.5,459.2 948.5,472.2 947.5,483.6 946.5,492.8 945.5,499.5 944.5,503.3 943.5,503.7 942.5,503.7 941.5,503.7 940.5,503.7 939.5,503.7 938.5,501.3 937.5,496.7 936.5,490.2 935.5,482.0 934.5,472.6 933.5,462.3 932.5,451.4 931.5,440.3 930.5,429.3 929.5,418.8 928.5,409.1 927.5,400.5 926.5,393.4 925.5,393.5 924.5,402.0 923.5,412.6 922.5,424.7 921.5,437.8 920.5,451.4 919.5,464.8 918.5,477.7 917.5,489.4 916.5,499.4 915.5,507.3 914.5,512.3 913.5,514.2 912.5,514.2 911.5,514.2 910.5,514.2 909.5,514.2 908.5,512.6 907.5,508.1 906.5,501.1 905.5,491.9 904.5,480.9 903.5,468.5 902.5,455.1 901.5,440.9 900.5,426.5 899.5,412.2 898.5,398.3 897.5,385.2 896.5,373.4 895.5,363.0 894.5,354.7 893.5,348.6 892.5,346.9 891.5,348.0 890.5,348.9 889.5,349.6 888.5,349.9 887.5,349.9 886.5,349.9 885.5,349.9 884.5,349.9 883.5,349.5 882.5,348.2 881.5,346.0 880.5,343.3 879.5,340.1 878.5,336.6 877.5,332.9 876.5,329.2 875.5,325.6 874.5,322.3 873.5,320.0 872.5,320.0 871.5,320.4 870.5,323.2 869.5,325.5 868.5,327.0 867.5,328.2 866.5,329.2 865.5,330.2 864.5,331.1 863.5,331.9 862.5,332.7 861.5,333.6 860.5,334.5 859.5,335.6 858.5,336.8 857.5,338.0 856.5,339.3 855.5,340.4 854.5,341.4 853.5,342.2 852.5,342.6 851.5,342.6 850.5,342.6 849.5,342.6 848.5,342.6 847.5,342.5 846.5,341.2 845.5,338.6 844.5,335.0 843.5,330.8 842.5,326.3 841.5,321.9 840.5,320.0 839.5,320.0 838.5,320.0 837.5,320.0 836.5,323.3 835.5,326.9 834.5,329.7 833.5,331.0 832.5,331.4 831.5,331.7 830.5,332.0 829.5,332.2 828.5,332.6 827.5,333.9 826.5,337.8 825.5,344.1 824.5,352.5 823.5,362.6 822.5,374.2 821.5,386.8 820.5,400.3 819.5,414.1 818.5,428.0 817.5,441.7 816.5,454.9 815.5,467.1 814.5,478.2 813.5,487.7 812.5,495.3 811.5,500.7 810.5,503.5 809.5,503.5 808.5,503.5 807.5,503.5 806.5,503.5 805.5,503.5 804.5,500.7 803.5,495.5 802.5,488.3 801.5,479.5 800.5,469.5 799.5,458.6 798.5,447.3 797.5,436.0 796.5,425.1 795.5,415.0 794.5,406.0 793.5,398.6 792.5,398.2 791.5,405.9 790.5,415.5 789.5,426.4 788.5,438.3 787.5,450.6 786.5,463.0 785.5,475.0 784.5,486.2 783.5,496.1 782.5,504.2 781.5,510.2 780.5,513.6 779.5,513.9 778.5,513.9 777.5,513.9 776.5,513.9 775.5,513.9 774.5,511.0 773.5,505.3 772.5,497.0 771.5,486.7 770.5,474.5 769.5,461.0 768.5,446.5 767.5,431.3 766.5,415.9 765.5,400.5 764.5,385.6 763.5,371.5 762.5,358.7 761.5,347.4 760.5,338.0 759.5,331.0 758.5,327.2 757.5,328.4 756.5,329.8 755.5,331.3 754.5,332.8 753.5,334.3 752.5,335.7 751.5,336.9 750.5,337.9 749.5,339.0 748.5,340.1 747.5,341.2 746.5,342.2 745.5,343.2 744.5,343.9 743.5,344.4 742.5,344.7 741.5,344.7 740.5,344.7 739.5,344.7 738.5,344.7 737.5,344.5 736.5,343.8 735.5,342.6 734.5,341.1 733.5,339.2 732.5,337.1 731.5,334.9 730.5,332.5 729.5,330.2 728.5,327.9 727.5,325.7 726.5,323.7 725.5,322.0 724.5,320.6 723.5,321.6 722.5,323.4 721.5,325.4 720.5,327.5 719.5,329.6 718.5,331.5 717.5,333.0 716.5,334.1 715.5,334.5 714.5,334.5 713.5,334.5 712.5,334.5 711.5,334.5 710.5,334.3 709.5,333.5 708.5,332.3 707.5,330.8 706.5,329.2 705.5,327.4 704.5,325.8 703.5,324.3 702.5,324.5 701.5,326.8 700.5,330.0 699.5,333.8 698.5,338.2 697.5,343.2 696.5,348.7 695.5,354.6 694.5,360.8 693.5,367.4 692.5,374.1 691.5,381.0 690.5,388.0 689.5,395.0 688.5,402.0 687.5,408.9 686.5,415.5 685.5,422.0 684.5,428.1 683.5,433.8 682.5,439.1 681.5,443.9 680.5,448.1 679.5,451.6 678.5,454.5 677.5,456.5 676.5,457.7 675.5,458.0 674.5,458.0 673.5,458.0 672.5,458.0 671.5,458.0 670.5,456.5 669.5,453.1 668.5,448.1 667.5,441.8 666.5,434.5 665.5,426.5 664.5,418.1 663.5,409.6 662.5,401.3 661.5,393.5 660.5,386.4 659.5,380.5 658.5,377.9 657.5,383.9 656.5,391.6 655.5,400.5 654.5,410.3 653.5,420.5 652.5,430.8 651.5,440.8 650.5,450.1 649.5,458.3 648.5,465.1 647.5,470.0 646.5,472.6 645.5,472.6 644.5,472.6 643.5,472.6 642.5,472.6 641.5,472.5 640.5,469.3 639.5,463.4 638.5,455.3 637.5,445.4 636.5,434.4 635.5,422.5 634.5,410.5 633.5,398.6 632.5,387.5 631.5,377.7 630.5,369.6 629.5,363.7 628.5,363.0 627.5,363.8 626.5,364.1 625.5,364.1 624.5,364.1 623.5,364.1 622.5,364.1 621.5,363.6 620.5,362.3 619.5,360.4 618.5,358.0 617.5,355.3 616.5,352.4 615.5,349.5 614.5,346.7 613.5,344.1 612.5,342.0 611.5,340.4 610.5,340.9 609.5,341.4 608.5,341.6 607.5,341.6 606.5,341.6 605.5,341.6 604.5,341.6 603.5,341.5 602.5,341.0 601.5,340.3 600.5,339.3 599.5,338.2 598.5,337.1 597.5,335.9 596.5,334.8 595.5,333.9 594.5,333.1 593.5,333.9 592.5,335.0 591.5,336.3 590.5,337.9 589.5,339.6 588.5,341.5 587.5,343.5 586.5,345.6 585.5,347.8 584.5,350.0 583.5,352.3 582.5,354.5 581.5,356.6 580.5,358.7 579.5,360.7 578.5,362.5 577.5,364.2 576.5,365.7 575.5,367.0 574.5,368.0 573.5,368.7 572.5,369.1 571.5,369.1 570.5,369.1 569.5,369.1 568.5,369.1 567.5,369.1 566.5,368.5 565.5,367.0 564.5,365.0 563.5,362.6 562.5,359.8 561.5,356.9 560.5,354.0 559.5,351.1 558.5,348.6 557.5,347.8 556.5,355.1 555.5,365.5 554.5,378.5 553.5,393.5 552.5,409.9 551.5,427.2 550.5,444.8 549.5,462.3 548.5,479.0 547.5,494.5 546.5,508.1 545.5,519.3 544.5,527.6 543.5,532.5 542.5,533.4 541.5,533.4 540.5,533.4 539.5,533.4 538.5,533.4 537.5,530.8 536.5,525.5 535.5,517.7 534.5,507.9 533.5,496.5 532.5,484.0 531.5,470.7 530.5,457.2 529.5,443.7 528.5,430.8 527.5,418.8 526.5,408.2 525.5,399.3 524.5,395.8 523.5,404.0 522.5,414.3 521.5,426.1 520.5,438.8 519.5,452.0 518.5,465.1 517.5,477.5 516.5,488.8 515.5,498.3 514.5,505.5 513.5,510.0 512.5,511.1 511.5,511.1 510.5,511.1 509.5,511.1 508.5,511.1 507.5,509.1 506.5,504.6 505.5,498.0 504.5,489.6 503.5,479.8 502.5,468.9 501.5,457.4 500.5,445.5 499.5,433.7 498.5,422.4 497.5,411.8 496.5,402.4 495.5,394.5 494.5,388.4 493.5,386.6 492.5,388.2 491.5,389.7 490.5,391.0 489.5,391.6 488.5,391.6 487.5,391.6 486.5,391.6 485.5,391.6 484.5,391.6 483.5,391.0 482.5,389.8 481.5,388.2 480.5,386.1 479.5,383.7 478.5,380.9 477.5,377.8 476.5,374.5 475.5,370.9 474.5,367.2 473.5,363.3 472.5,359.4 471.5,355.4 470.5,351.4 469.5,347.5 468.5,343.7 467.5,340.0 466.5,336.5 465.5,333.2 464.5,330.2 463.5,327.5 462.5,325.2 461.5,323.2 460.5,322.0 459.5,324.3 458.5,327.1 457.5,330.1 456.5,333.0 455.5,335.4 454.5,337.0 453.5,337.5 452.5,337.5 451.5,337.5 450.5,337.5 449.5,337.5 448.5,337.4 447.5,337.0 446.5,336.4 445.5,335.7 444.5,334.8 443.5,333.9 442.5,332.9 441.5,331.9 440.5,330.9 439.5,329.9 438.5,329.1 437.5,328.4 436.5,330.0 435.5,332.9 434.5,336.7 433.5,341.5 432.5,347.1 431.5,353.4 430.5,360.3 429.5,367.8 428.5,375.8 427.5,384.2 426.5,392.9 425.5,401.9 424.5,411.0 423.5,420.2 422.5,429.4 421.5,438.5 420.5,447.4 419.5,456.1 418.5,464.5 417.5,472.4 416.5,479.9 415.5,486.7 414.5,493.0 413.5,498.5 412.5,503.1 411.5,506.9 410.5,509.7 409.5,511.5 408.5,512.1 407.5,512.1 406.5,512.1 405.5,512.1 404.5,512.1 403.5,510.5 402.5,506.0 401.5,499.0 400.5,490.1 399.5,479.5 398.5,467.9 397.5,455.6 396.5,443.1 395.5,430.7 394.5,419.1 393.5,408.6 392.5,399.6 391.5,392.7 390.5,398.6 389.5,406.8 388.5,416.4 387.5,427.1 386.5,438.3 385.5,449.8 384.5,461.0 383.5,471.6 382.5,481.1 381.5,489.1 380.5,495.3 379.5,499.2 378.5,500.4 377.5,500.4 376.5,500.4 375.5,500.4 374.5,500.4 373.5,498.2 372.5,492.7 371.5,484.4 370.5,473.8 369.5,461.4 368.5,447.6 367.5,432.9 366.5,417.7 365.5,402.7 364.5,388.2 363.5,374.7 362.5,362.8 361.5,352.8 360.5,345.4 359.5,346.2 358.5,349.8 357.5,353.4 356.5,356.7 355.5,359.3 354.5,360.8 353.5,360.9 352.5,360.9 351.5,360.9 350.5,360.9 349.5,360.9 348.5,360.0 347.5,358.3 346.5,356.0 345.5,353.2 344.5,349.9 343.5,346.3 342.5,342.5 341.5,338.7 340.5,335.0 339.5,331.4 338.5,328.1 337.5,325.3 336.5,322.9 335.5,321.3 334.5,322.1 333.5,322.8 332.5,323.6 331.5,324.1 330.5,324.2 329.5,324.2 328.5,324.2 327.5,324.2 326.5,324.2 325.5,324.2 324.5,324.2 323.5,324.0 322.5,323.9 321.5,323.7 320.5,323.5 319.5,323.3 318.5,323.0 317.5,322.7 316.5,322.5 315.5,322.2 314.5,321.9 313.5,321.6 312.5,321.4 311.5,321.1 310.5,320.9 309.5,320.7 308.5,320.5 307.5,321.8 306.5,324.3 305.5,327.6 304.5,331.7 303.5,336.2 302.5,340.9 301.5,345.6 300.5,350.0 299.5,354.0 298.5,357.3 297.5,359.7 296.5,360.9 295.5,360.9 294.5,360.9 293.5,360.9 292.5,360.9 291.5,360.6 290.5,358.1 289.5,354.2 288.5,349.8 287.5,350.1 286.5,359.2 285.5,370.8 284.5,384.5 283.5,399.8 282.5,416.1 281.5,432.8 280.5,449.6 279.5,465.7 278.5,480.9 277.5,494.4 276.5,505.8 275.5,514.7 274.5,520.3 273.5,522.3 272.5,522.3 271.5,522.3 270.5,522.3 269.5,522.3 268.5,520.3 267.5,514.7 266.5,506.1 265.5,495.1 264.5,482.3 263.5,468.3 262.5,453.7 261.5,439.2 260.5,425.3 259.5,412.6 258.5,401.8 257.5,393.5 256.5,398.1 255.5,405.8 254.5,414.9 253.5,424.9 252.5,435.7 251.5,446.8 250.5,457.9 249.5,468.7 248.5,478.7 247.5,487.8 246.5,495.5 245.5,501.5 244.5,505.4 243.5,507.0 242.5,507.0 241.5,507.0 240.5,507.0 239.5,507.0 238.5,506.0 237.5,502.4 236.5,496.7 235.5,489.1 234.5,479.8 233.5,469.2 232.5,457.5 231.5,445.1 230.5,432.1 229.5,419.0 228.5,405.9 227.5,393.2 226.5,381.1 225.5,369.9 224.5,360.0 223.5,351.5 222.5,344.8 221.5,340.1 220.5,340.9 219.5,342.3 218.5,343.5 217.5,344.4 216.5,344.7 215.5,344.7 214.5,344.7 213.5,344.7 212.5,344.7 211.5,344.5 210.5,343.9 209.5,343.1 208.5,342.0 207.5,340.8 206.5,339.4 205.5,337.9 204.5,336.3 203.5,334.7 202.5,333.1 201.5,331.6 200.5,330.2 199.5,329.0 198.5,327.9 197.5,328.8 196.5,331.6 195.5,335.1 194.5,339.1 193.5,343.2 192.5,347.2 191.5,350.7 190.5,353.6 189.5,355.4 188.5,356.0 187.5,356.0 186.5,356.0 185.5,356.0 184.5,356.0 183.5,355.6 182.5,354.7 181.5,353.3 180.5,351.5 179.5,349.4 178.5,347.1 177.5,344.5 176.5,341.8 175.5,339.2 174.5,336.5 173.5,334.0 172.5,331.6 171.5,329.5 170.5,327.8 169.5,326.7 168.5,328.1 167.5,329.7 166.5,331.3 165.5,332.5 164.5,333.3 163.5,333.4 162.5,333.4 161.5,333.4 160.5,333.4 159.5,333.4 158.5,332.8 157.5,331.7 156.5,330.4 155.5,329.0 154.5,332.4 153.5,339.7 152.5,349.4 151.5,360.9 150.5,373.9 149.5,387.8 148.5,402.2 147.5,416.8 146.5,430.9 145.5,444.2 144.5,456.2 143.5,466.5 142.5,474.6 141.5,480.0 140.5,482.4 139.5,482.4 138.5,482.4 137.5,482.4 136.5,482.4 135.5,481.6 134.5,478.0 133.5,472.2 132.5,464.6 131.5,455.6 130.5,445.6 129.5,435.1 128.5,424.6 127.5,414.4 126.5,404.9 125.5,396.7 124.5,390.1 123.5,388.9 122.5,393.4 121.5,399.1 120.5,406.1 119.5,414.4 118.5,423.9 117.5,434.6 116.5,446.4 115.5,459.4 114.5,473.5 113.5,488.7 112.5,505.0 111.5,522.3 110.5,522.3 109.5,522.3" fill="url(#gA)" stroke="none"/>
<clipPath id="vcA"><polygon points="106.5,466.4 109.5,466.4 111.5,441.7 113.5,420.1 115.5,401.8 117.5,386.9 119.5,375.7 121.5,368.1 123.5,364.5 125.5,365.7 127.5,373.9 129.5,386.9 131.5,402.2 133.5,417.3 135.5,429.5 137.5,436.4 139.5,435.3 141.5,425.3 143.5,408.9 145.5,388.7 147.5,367.3 149.5,347.5 151.5,331.9 153.5,323.1 155.5,322.3 157.5,324.0 159.5,326.0 161.5,327.2 163.5,326.6 165.5,324.5 167.5,322.3 169.5,321.3 171.5,322.1 173.5,324.4 175.5,327.7 177.5,331.5 179.5,335.4 181.5,339.0 183.5,341.9 185.5,343.6 187.5,343.5 189.5,340.0 191.5,334.5 193.5,328.5 195.5,323.8 197.5,322.0 199.5,322.6 201.5,324.0 203.5,325.9 205.5,328.2 207.5,330.5 209.5,332.7 211.5,334.4 213.5,335.4 215.5,335.3 217.5,333.8 219.5,331.8 221.5,330.4 223.5,332.2 225.5,340.6 227.5,354.2 229.5,371.3 231.5,390.3 233.5,409.5 235.5,427.3 237.5,441.9 239.5,451.8 241.5,455.2 243.5,451.1 245.5,441.0 247.5,426.9 249.5,410.8 251.5,394.7 253.5,380.6 255.5,370.5 257.5,366.4 259.5,371.5 261.5,385.6 263.5,405.2 265.5,426.6 267.5,446.4 269.5,460.8 271.5,466.4 273.5,460.8 275.5,445.9 277.5,424.8 279.5,400.5 281.5,376.2 283.5,354.8 285.5,339.5 287.5,333.3 289.5,336.3 291.5,342.6 293.5,347.2 295.5,346.6 297.5,342.4 299.5,336.2 301.5,329.3 303.5,323.0 305.5,318.7 307.5,318.0 309.5,318.0 311.5,318.0 313.5,318.2 315.5,318.6 317.5,319.0 319.5,319.4 321.5,319.8 323.5,320.1 325.5,320.3 327.5,320.5 329.5,320.4 331.5,319.5 333.5,318.3 335.5,318.0 337.5,318.3 339.5,321.2 341.5,325.8 343.5,331.2 345.5,336.7 347.5,341.8 349.5,345.6 351.5,347.5 353.5,346.3 355.5,342.0 357.5,336.7 359.5,332.7 361.5,332.7 363.5,341.6 365.5,357.7 367.5,378.3 369.5,400.5 371.5,421.5 373.5,438.5 375.5,448.7 377.5,449.4 379.5,442.0 381.5,429.0 383.5,413.0 385.5,396.3 387.5,381.3 389.5,370.5 391.5,366.4 393.5,370.9 395.5,382.6 397.5,399.0 399.5,417.3 401.5,434.9 403.5,449.3 405.5,457.7 407.5,458.4 409.5,455.1 411.5,448.9 413.5,440.2 415.5,429.7 417.5,417.7 419.5,404.7 421.5,391.2 423.5,377.7 425.5,364.7 427.5,352.6 429.5,342.0 431.5,333.2 433.5,326.8 435.5,323.3 437.5,322.9 439.5,323.5 441.5,324.7 443.5,326.1 445.5,327.6 447.5,328.9 449.5,329.9 451.5,330.3 453.5,328.7 455.5,324.8 457.5,320.5 459.5,318.0 461.5,318.0 463.5,319.7 465.5,322.9 467.5,327.1 469.5,332.1 471.5,337.6 473.5,343.4 475.5,349.3 477.5,354.9 479.5,360.0 481.5,364.3 483.5,367.6 485.5,369.7 487.5,370.2 489.5,368.7 491.5,366.4 493.5,364.5 495.5,365.0 497.5,372.2 499.5,385.0 501.5,401.2 503.5,418.6 505.5,435.1 507.5,448.5 509.5,456.7 511.5,457.3 513.5,448.7 515.5,433.4 517.5,414.6 519.5,395.5 521.5,379.3 523.5,369.1 525.5,368.0 527.5,375.8 529.5,390.2 531.5,408.5 533.5,428.4 535.5,447.4 537.5,463.0 539.5,472.7 541.5,473.9 543.5,464.2 545.5,445.9 547.5,422.2 549.5,396.3 551.5,371.5 553.5,350.9 555.5,337.8 557.5,335.0 559.5,336.8 561.5,340.3 563.5,344.6 565.5,348.7 567.5,352.0 569.5,353.6 571.5,353.2 573.5,352.0 575.5,349.9 577.5,347.4 579.5,344.4 581.5,341.1 583.5,337.9 585.5,334.7 587.5,331.8 589.5,329.4 591.5,327.6 593.5,326.6 595.5,326.7 597.5,327.6 599.5,329.1 601.5,330.8 603.5,332.3 605.5,333.2 607.5,333.1 609.5,332.4 611.5,331.7 613.5,332.4 615.5,335.1 617.5,339.1 619.5,343.4 621.5,347.1 623.5,349.5 625.5,349.7 627.5,348.2 629.5,347.0 631.5,349.5 633.5,359.9 635.5,375.3 637.5,392.9 639.5,409.8 641.5,423.0 643.5,429.7 645.5,427.9 647.5,419.3 649.5,406.4 651.5,391.4 653.5,376.7 655.5,364.5 657.5,357.1 659.5,356.5 661.5,361.9 663.5,371.5 665.5,383.4 667.5,395.8 669.5,407.1 671.5,415.4 673.5,419.0 675.5,418.0 677.5,414.4 679.5,408.7 681.5,401.2 683.5,392.5 685.5,382.9 687.5,372.7 689.5,362.3 691.5,352.3 693.5,342.8 695.5,334.5 697.5,327.5 699.5,322.4 701.5,319.5 703.5,319.2 705.5,320.6 707.5,322.9 709.5,325.3 711.5,327.3 713.5,328.1 715.5,326.9 717.5,324.4 719.5,321.3 721.5,318.6 723.5,318.0 725.5,318.0 727.5,318.8 729.5,321.6 731.5,324.9 733.5,328.3 735.5,331.5 737.5,334.0 739.5,335.4 741.5,335.4 743.5,334.4 745.5,333.0 747.5,331.4 749.5,329.8 751.5,327.9 753.5,325.7 755.5,323.5 757.5,321.9 759.5,321.3 761.5,325.5 763.5,337.5 765.5,355.3 767.5,376.7 769.5,399.4 771.5,421.3 773.5,440.2 775.5,453.9 777.5,460.2 779.5,457.5 781.5,447.1 783.5,431.6 785.5,413.6 787.5,395.8 789.5,380.7 791.5,370.9 793.5,369.0 795.5,375.3 797.5,387.3 799.5,402.9 801.5,419.5 803.5,434.9 805.5,446.7 807.5,452.6 809.5,450.5 811.5,440.9 813.5,425.8 815.5,407.1 817.5,386.7 819.5,366.6 821.5,348.8 823.5,335.1 825.5,327.6 827.5,326.4 829.5,326.0 831.5,325.4 833.5,322.5 835.5,318.0 837.5,318.0 839.5,318.0 841.5,318.0 843.5,318.7 845.5,325.3 847.5,331.0 849.5,334.0 851.5,333.7 853.5,332.4 855.5,330.6 857.5,328.8 859.5,327.4 861.5,326.1 863.5,324.9 865.5,323.4 867.5,321.4 869.5,318.0 871.5,318.0 873.5,318.0 875.5,318.0 877.5,321.5 879.5,326.9 881.5,332.2 883.5,336.6 885.5,339.1 887.5,339.2 889.5,338.0 891.5,336.5 893.5,335.6 895.5,338.5 897.5,349.1 899.5,365.4 901.5,385.3 903.5,406.5 905.5,426.8 907.5,444.0 909.5,456.0 911.5,460.4 913.5,455.3 915.5,442.2 917.5,424.1 919.5,404.2 921.5,385.6 923.5,371.5 925.5,365.0 927.5,367.6 929.5,376.7 931.5,390.2 933.5,406.0 935.5,422.2 937.5,436.7 939.5,447.6 941.5,452.7 943.5,449.6 945.5,437.9 947.5,419.9 949.5,398.2 951.5,375.2 953.5,353.5 955.5,335.5 957.5,323.7 959.5,320.6 961.5,324.1 963.5,330.0 965.5,334.7 967.5,335.5 969.5,334.9 971.5,333.8 973.5,332.3 975.5,330.7 977.5,328.9 979.5,327.2 981.5,325.7 983.5,324.5 985.5,323.7 987.5,323.6 989.5,324.6 991.5,326.8 993.5,329.8 995.5,333.1 997.5,336.5 999.5,339.5 1001.5,341.8 1003.5,343.0 1005.5,342.5 1007.5,339.7 1009.5,335.8 1011.5,332.3 1013.5,330.4 1015.5,331.0 1017.5,333.5 1019.5,337.0 1021.5,340.8 1023.5,344.2 1025.5,346.4 1027.5,346.5 1029.5,343.0 1031.5,339.6 1033.5,341.4 1035.5,350.1 1037.5,363.7 1039.5,379.8 1041.5,396.1 1043.5,410.3 1045.5,419.9 1047.5,422.7 1049.5,418.0 1051.5,407.8 1053.5,394.9 1055.5,381.7 1057.5,371.0 1059.5,365.2 1061.5,367.0 1063.5,376.2 1065.5,390.4 1067.5,407.3 1069.5,424.2 1071.5,438.8 1073.5,448.7 1075.5,451.3 1077.5,446.4 1079.5,435.9 1081.5,421.1 1083.5,403.8 1085.5,385.3 1087.5,367.2 1089.5,351.0 1091.5,338.3 1093.5,330.6 1095.5,327.4 1097.5,324.6 1099.5,322.2 1101.5,320.3 1103.5,318.8 1105.5,318.0 1107.5,318.0 1109.5,318.0 1111.5,318.8 1113.5,320.1 1115.5,321.9 1117.5,324.0 1119.5,326.4 1121.5,329.0 1123.5,331.8 1125.5,334.7 1127.5,337.6 1129.5,340.5 1131.5,343.3 1133.5,345.9 1135.5,348.4 1137.5,350.5 1139.5,352.3 1141.5,353.7 1143.5,354.7 1145.5,355.1 1147.5,354.7 1149.5,353.1 1151.5,350.4 1153.5,347.2 1155.5,343.6 1157.5,340.1 1159.5,337.0 1161.5,334.7 1163.5,333.4 1165.5,334.1 1167.5,338.6 1169.5,346.8 1171.5,358.2 1173.5,372.4 1175.5,388.8 1177.5,407.1 1179.5,426.7 1181.5,447.2 1184.5,447.2 1184.5,567.0 106.5,567.0"/></clipPath>
<polyline clip-path="url(#vcA)" points="110.6,82.2 111.7,76.5 112.9,71.6 114.0,67.3 115.1,63.7 116.2,60.7 117.4,58.5 118.5,57.0 119.6,56.1 120.8,56.0 121.9,56.7 123.0,58.0 124.1,60.0 125.3,62.7 126.4,66.1 127.5,70.3 128.6,75.0 129.8,80.5 130.9,86.5 132.0,93.3 133.2,100.6 134.3,108.5 135.4,116.9 136.5,125.9 137.7,135.5 138.8,145.5 139.9,156.0 141.1,166.9 142.2,178.2 143.3,189.9 144.4,201.9 145.6,214.2 146.7,226.8 147.8,239.6 148.9,252.6 150.1,265.8 151.2,279.1 152.3,292.5 153.5,305.9 154.6,319.4 155.7,332.8 156.8,346.2 158.0,359.4 159.1,372.6 160.2,385.5 161.4,398.2 162.5,410.7 163.6,422.9 164.7,434.8 165.9,446.4 167.0,457.5 168.1,468.2 169.3,478.5 170.4,488.4 171.5,497.7 172.6,506.5 173.8,514.7 174.9,522.4 176.0,529.5 177.1,535.9 178.3,541.8 179.4,546.9 180.5,551.5 181.7,555.3 182.8,558.4 183.9,560.9 185.0,562.6 186.2,563.7 187.3,564.0 188.4,563.6 189.6,562.5 190.7,560.7 191.8,558.2 192.9,555.0 194.1,551.1 195.2,546.5 196.3,541.3 197.5,535.4 198.6,528.9 199.7,521.8 200.8,514.1 202.0,505.8 203.1,496.9 204.2,487.6 205.3,477.7 206.5,467.4 207.6,456.6 208.7,445.4 209.9,433.8 211.0,421.9 212.1,409.7 213.2,397.2 214.4,384.4 215.5,371.5 216.6,358.3 217.8,345.1 218.9,331.7 220.0,318.3 221.1,304.8 222.3,291.4 223.4,278.0 224.5,264.7 225.6,251.5 226.8,238.5 227.9,225.7 229.0,213.1 230.2,200.9 231.3,188.9 232.4,177.2 233.5,165.9 234.7,155.1 235.8,144.6 236.9,134.7 238.1,125.2 239.2,116.2 240.3,107.8 241.4,99.9 242.6,92.7 243.7,86.0 244.8,80.0 246.0,74.6 247.1,69.9 248.2,65.8 249.3,62.5 250.5,59.8 251.6,57.8 252.7,56.6 253.8,56.0 255.0,56.2 256.1,57.1 257.2,58.7 258.4,60.9 259.5,63.9 260.6,67.6 261.7,72.0 262.9,77.0 264.0,82.7 265.1,89.0 266.3,95.9 267.4,103.5 268.5,111.6 269.6,120.3 270.8,129.5 271.9,139.2 273.0,149.4 274.1,160.0 275.3,171.1 276.4,182.5 277.5,194.3 278.7,206.5 279.8,218.9 280.9,231.6 282.0,244.5 283.2,257.6 284.3,270.8 285.4,284.1 286.6,297.5 287.7,311.0 288.8,324.4 289.9,337.8 291.1,351.2 292.2,364.4 293.3,377.4 294.5,390.3 295.6,403.0 296.7,415.3 297.8,427.4 299.0,439.2 300.1,450.6 301.2,461.6 302.3,472.2 303.5,482.3 304.6,491.9 305.7,501.1 306.9,509.6 308.0,517.7 309.1,525.1 310.2,532.0 311.4,538.2 312.5,543.8 313.6,548.7 314.8,553.0 315.9,556.6 317.0,559.4 318.1,561.6 319.3,563.1 320.4,563.9 321.5,563.9 322.6,563.3 323.8,561.9 324.9,559.9 326.0,557.1 327.2,553.6 328.3,549.5 329.4,544.6 330.5,539.2 331.7,533.1 332.8,526.3 333.9,519.0 335.1,511.0 336.2,502.5 337.3,493.5 338.4,483.9 339.6,473.9 340.7,463.4 341.8,452.4 343.0,441.1 344.1,429.4 345.2,417.4 346.3,405.0 347.5,392.4 348.6,379.6 349.7,366.6 350.8,353.4 352.0,340.1 353.1,326.7 354.2,313.2 355.4,299.8 356.5,286.3 357.6,273.0 358.7,259.7 359.9,246.6 361.0,233.7 362.1,221.0 363.3,208.5 364.4,196.3 365.5,184.5 366.6,172.9 367.8,161.8 368.9,151.1 370.0,140.8 371.2,131.0 372.3,121.7 373.4,113.0 374.5,104.8 375.7,97.1 376.8,90.1 377.9,83.7 379.0,77.9 380.2,72.8 381.3,68.3 382.4,64.5 383.6,61.4 384.7,59.0 385.8,57.3 386.9,56.3 388.1,56.0 389.2,56.4 390.3,57.6 391.5,59.4 392.6,62.0 393.7,65.2 394.8,69.2 396.0,73.8 397.1,79.0 398.2,85.0 399.3,91.5 400.5,98.7 401.6,106.4 402.7,114.8 403.9,123.6 405.0,133.0 406.1,142.9 407.2,153.3 408.4,164.1 409.5,175.3 410.6,186.9 411.8,198.8 412.9,211.1 414.0,223.6 415.1,236.4 416.3,249.4 417.4,262.5 418.5,275.8 419.7,289.1 420.8,302.6 421.9,316.0 423.0,329.5 424.2,342.8 425.3,356.1 426.4,369.3 427.5,382.3 428.7,395.1 429.8,407.6 430.9,419.9 432.1,431.9 433.2,443.5 434.3,454.8 435.4,465.6 436.6,476.0 437.7,486.0 438.8,495.4 440.0,504.3 441.1,512.7 442.2,520.5 443.3,527.8 444.5,534.4 445.6,540.4 446.7,545.7 447.8,550.4 449.0,554.4 450.1,557.7 451.2,560.3 452.4,562.3 453.5,563.5 454.6,564.0 455.7,563.8 456.9,562.9 458.0,561.2 459.1,558.9 460.3,555.9 461.4,552.1 462.5,547.7 463.6,542.7 464.8,537.0 465.9,530.6 467.0,523.6 468.2,516.0 469.3,507.9 470.4,499.2 471.5,489.9 472.7,480.2 473.8,470.0 474.9,459.3 476.0,448.2 477.2,436.8 478.3,424.9 479.4,412.8 480.6,400.3 481.7,387.6 482.8,374.7 483.9,361.6 485.1,348.4 486.2,335.0 487.3,321.6 488.5,308.2 489.6,294.7 490.7,281.3 491.8,268.0 493.0,254.8 494.1,241.8 495.2,228.9 496.4,216.3 497.5,203.9 498.6,191.8 499.7,180.1 500.9,168.7 502.0,157.7 503.1,147.2 504.2,137.1 505.4,127.5 506.5,118.4 507.6,109.8 508.8,101.8 509.9,94.4 511.0,87.6 512.1,81.4 513.3,75.9 514.4,71.0 515.5,66.8 516.7,63.2 517.8,60.4 518.9,58.3 520.0,56.8 521.2,56.1 522.3,56.1 523.4,56.8 524.5,58.2 525.7,60.3 526.8,63.1 527.9,66.6 529.1,70.8 530.2,75.7 531.3,81.2 532.4,87.4 533.6,94.1 534.7,101.5 535.8,109.5 537.0,118.0 538.1,127.1 539.2,136.7 540.3,146.8 541.5,157.3 542.6,168.3 543.7,179.6 544.9,191.3 546.0,203.4 547.1,215.8 548.2,228.4 549.4,241.2 550.5,254.3 551.6,267.5 552.7,280.8 553.9,294.2 555.0,307.6 556.1,321.1 557.3,334.5 558.4,347.8 559.5,361.1 560.6,374.2 561.8,387.1 562.9,399.8 564.0,412.3 565.2,424.4 566.3,436.3 567.4,447.8 568.5,458.9 569.7,469.6 570.8,479.8 571.9,489.6 573.0,498.8 574.2,507.5 575.3,515.7 576.4,523.3 577.6,530.3 578.7,536.7 579.8,542.5 580.9,547.5 582.1,552.0 583.2,555.7 584.3,558.8 585.5,561.1 586.6,562.8 587.7,563.8 588.8,564.0 590.0,563.5 591.1,562.3 592.2,560.4 593.4,557.8 594.5,554.5 595.6,550.6 596.7,545.9 597.9,540.6 599.0,534.6 600.1,528.1 601.2,520.8 602.4,513.1 603.5,504.7 604.6,495.8 605.8,486.4 606.9,476.4 608.0,466.0 609.1,455.2 610.3,444.0 611.4,432.4 612.5,420.4 613.7,408.1 614.8,395.6 615.9,382.8 617.0,369.8 618.2,356.7 619.3,343.4 620.4,330.0 621.5,316.6 622.7,303.1 623.8,289.7 624.9,276.3 626.1,263.0 627.2,249.9 628.3,236.9 629.4,224.1 630.6,211.6 631.7,199.3 632.8,187.4 634.0,175.8 635.1,164.6 636.2,153.7 637.3,143.4 638.5,133.4 639.6,124.0 640.7,115.1 641.9,106.8 643.0,99.0 644.1,91.8 645.2,85.2 646.4,79.3 647.5,74.0 648.6,69.3 649.7,65.4 650.9,62.1 652.0,59.5 653.1,57.6 654.3,56.5 655.4,56.0 656.5,56.3 657.6,57.2 658.8,58.9 659.9,61.3 661.0,64.4 662.2,68.1 663.3,72.6 664.4,77.7 665.5,83.4 666.7,89.8 667.8,96.8 668.9,104.4 670.1,112.6 671.2,121.4 672.3,130.6 673.4,140.4 674.6,150.7 675.7,161.4 676.8,172.5 677.9,184.0 679.1,195.8 680.2,208.0 681.3,220.5 682.5,233.2 683.6,246.1 684.7,259.2 685.8,272.4 687.0,285.8 688.1,299.2 689.2,312.7 690.4,326.1 691.5,339.5 692.6,352.8 693.7,366.0 694.9,379.1 696.0,391.9 697.1,404.5 698.2,416.9 699.4,428.9 700.5,440.6 701.6,452.0 702.8,462.9 703.9,473.5 705.0,483.5 706.1,493.1 707.3,502.2 708.4,510.7 709.5,518.6 710.7,526.0 711.8,532.8 712.9,538.9 714.0,544.4 715.2,549.3 716.3,553.5 717.4,557.0 718.6,559.8 719.7,561.9 720.8,563.2 721.9,563.9 723.1,563.9 724.2,563.2 725.3,561.7 726.4,559.5 727.6,556.7 728.7,553.1 729.8,548.9 731.0,544.0 732.1,538.4 733.2,532.2 734.3,525.4 735.5,518.0 736.6,510.0 737.7,501.4 738.9,492.3 740.0,482.7 741.1,472.6 742.2,462.0 743.4,451.0 744.5,439.7 745.6,427.9 746.7,415.8 747.9,403.5 749.0,390.8 750.1,378.0 751.3,364.9 752.4,351.7 753.5,338.4 754.6,325.0 755.8,311.5 756.9,298.1 758.0,284.7 759.2,271.3 760.3,258.1 761.4,245.0 762.5,232.1 763.7,219.4 764.8,207.0 765.9,194.8 767.1,183.0 768.2,171.5 769.3,160.4 770.4,149.8 771.6,139.6 772.7,129.8 773.8,120.6 774.9,111.9 776.1,103.8 777.2,96.2 778.3,89.3 779.5,82.9 780.6,77.2 781.7,72.2 782.8,67.8 784.0,64.1 785.1,61.0 786.2,58.7 787.4,57.1 788.5,56.2 789.6,56.0 790.7,56.5 791.9,57.8 793.0,59.7 794.1,62.3 795.2,65.7 796.4,69.7 797.5,74.4 798.6,79.8 799.8,85.8 800.9,92.4 802.0,99.6 803.1,107.5 804.3,115.8 805.4,124.8 806.5,134.3 807.7,144.2 808.8,154.6 809.9,165.5 811.0,176.7 812.2,188.4 813.3,200.4 814.4,212.6 815.6,225.2 816.7,238.0 817.8,251.0 818.9,264.2 820.1,277.4 821.2,290.8 822.3,304.3 823.4,317.7 824.6,331.1 825.7,344.5 826.8,357.8 828.0,370.9 829.1,383.9 830.2,396.7 831.3,409.2 832.5,421.4 833.6,433.3 834.7,444.9 835.9,456.1 837.0,466.9 838.1,477.3 839.2,487.2 840.4,496.6 841.5,505.4 842.6,513.7 843.8,521.5 844.9,528.6 846.0,535.2 847.1,541.1 848.3,546.3 849.4,550.9 850.5,554.9 851.6,558.1 852.8,560.6 853.9,562.5 855.0,563.6 856.2,564.0 857.3,563.7 858.4,562.7 859.5,561.0 860.7,558.6 861.8,555.4 862.9,551.6 864.1,547.1 865.2,542.0 866.3,536.2 867.4,529.8 868.6,522.7 869.7,515.1 870.8,506.8 871.9,498.1 873.1,488.8 874.2,479.0 875.3,468.7 876.5,458.0 877.6,446.8 878.7,435.3 879.8,423.4 881.0,411.2 882.1,398.8 883.2,386.0 884.4,373.1 885.5,360.0 886.6,346.7 887.7,333.4 888.9,319.9 890.0,306.5 891.1,293.0 892.3,279.7 893.4,266.3 894.5,253.2 895.6,240.1 896.8,227.3 897.9,214.7 899.0,202.4 900.1,190.3 901.3,178.7 902.4,167.3 903.5,156.4 904.7,145.9 905.8,135.9 906.9,126.3 908.0,117.3 909.2,108.8 910.3,100.9 911.4,93.5 912.6,86.8 913.7,80.7 914.8,75.2 915.9,70.4 917.1,66.3 918.2,62.9 919.3,60.1 920.4,58.0 921.6,56.7 922.7,56.1 923.8,56.1 925.0,56.9 926.1,58.4 927.2,60.6 928.3,63.5 929.5,67.1 930.6,71.4 931.7,76.3 932.9,81.9 934.0,88.2 935.1,95.0 936.2,102.5 937.4,110.5 938.5,119.1 939.6,128.3 940.8,137.9 941.9,148.1 943.0,158.7 944.1,169.7 945.3,181.1 946.4,192.8 947.5,204.9 948.6,217.3 949.8,230.0 950.9,242.8 952.0,255.9 953.2,269.1 954.3,282.5 955.4,295.9 956.5,309.3 957.7,322.8 958.8,336.2 959.9,349.5 961.1,362.7 962.2,375.8 963.3,388.7 964.4,401.4 965.6,413.8 966.7,425.9 967.8,437.7 969.0,449.2 970.1,460.2 971.2,470.9 972.3,481.0 973.5,490.7 974.6,499.9 975.7,508.6 976.8,516.7 978.0,524.2 979.1,531.2 980.2,537.5 981.4,543.1 982.5,548.1 983.6,552.5 984.7,556.1 985.9,559.1 987.0,561.4 988.1,563.0 989.3,563.8 990.4,564.0 991.5,563.4 992.6,562.1 993.8,560.1 994.9,557.5 996.0,554.1 997.1,550.0 998.3,545.3 999.4,539.9 1000.5,533.9 1001.7,527.2 1002.8,519.9 1003.9,512.0 1005.0,503.6 1006.2,494.6 1007.3,485.1 1008.4,475.2 1009.6,464.7 1010.7,453.8 1011.8,442.5 1012.9,430.9 1014.1,418.9 1015.2,406.6 1016.3,394.0 1017.5,381.2 1018.6,368.2 1019.7,355.0 1020.8,341.7 1022.0,328.3 1023.1,314.9 1024.2,301.4 1025.3,288.0 1026.5,274.7 1027.6,261.4 1028.7,248.3 1029.9,235.3 1031.0,222.6 1032.1,210.0 1033.2,197.8 1034.4,185.9 1035.5,174.4 1036.6,163.2 1037.8,152.4 1038.9,142.1 1040.0,132.2 1041.1,122.9 1042.3,114.0 1043.4,105.8 1044.5,98.1 1045.6,90.9 1046.8,84.4 1047.9,78.6 1049.0,73.4 1050.2,68.8 1051.3,64.9 1052.4,61.7 1053.5,59.2 1054.7,57.5 1055.8,56.4 1056.9,56.0 1058.1,56.3 1059.2,57.4 1060.3,59.2 1061.4,61.6 1062.6,64.8 1063.7,68.6 1064.8,73.2 1066.0,78.4 1067.1,84.2 1068.2,90.7 1069.3,97.8 1070.5,105.4 1071.6,113.7 1072.7,122.5 1073.8,131.8 1075.0,141.7 1076.1,152.0 1077.2,162.7 1078.4,173.9 1079.5,185.4 1080.6,197.3 1081.7,209.5 1082.9,222.0 1084.0,234.8 1085.1,247.7 1086.3,260.8 1087.4,274.1 1088.5,287.5 1089.6,300.9 1090.8,314.4 1091.9,327.8 1093.0,341.2 1094.1,354.5 1095.3,367.7 1096.4,380.7 1097.5,393.5 1098.7,406.1 1099.8,418.4 1100.9,430.4 1102.0,442.1 1103.2,453.4 1104.3,464.3 1105.4,474.7 1106.6,484.7 1107.7,494.3 1108.8,503.3 1109.9,511.7 1111.1,519.6 1112.2,526.9 1113.3,533.6 1114.5,539.7 1115.6,545.1 1116.7,549.8 1117.8,553.9 1119.0,557.3 1120.1,560.1 1121.2,562.1 1122.3,563.4 1123.5,564.0 1124.6,563.8 1125.7,563.0 1126.9,561.5 1128.0,559.2 1129.1,556.3 1130.2,552.6 1131.4,548.3 1132.5,543.3 1133.6,537.7 1134.8,531.4 1135.9,524.5 1137.0,517.0 1138.1,508.9 1139.3,500.3 1140.4,491.1 1141.5,481.4 1142.7,471.3 1143.8,460.7 1144.9,449.6 1146.0,438.2 1147.2,426.4 1148.3,414.3 1149.4,401.9 1150.5,389.2 1151.7,376.3 1152.8,363.3 1153.9,350.0 1155.1,336.7 1156.2,323.3 1157.3,309.9 1158.4,296.4 1159.6,283.0 1160.7,269.7 1161.8,256.4 1163.0,243.4 1164.1,230.5 1165.2,217.8 1166.3,205.4 1167.5,193.3 1168.6,181.5 1169.7,170.1 1170.8,159.1 1172.0,148.5 1173.1,138.3 1174.2,128.7 1175.4,119.5 1176.5,110.9 1177.6,102.8 1178.7,95.3 1179.9,88.4 1181.0,82.2" fill="none" stroke="#000" stroke-width="5" stroke-linejoin="round"/>
<polyline points="109.5,86.5 110.5,104.7 111.5,121.9 112.5,137.9 113.5,152.7 114.5,166.4 115.5,178.9 116.5,190.1 117.5,200.1 118.5,208.8 119.5,216.2 120.5,222.3 121.5,227.0 122.5,230.3 123.5,232.1 124.5,232.5 125.5,230.4 126.5,225.7 127.5,218.8 128.5,210.1 129.5,200.2 130.5,189.4 131.5,178.3 132.5,167.2 133.5,156.7 134.5,147.3 135.5,139.2 136.5,133.1 137.5,129.4 138.5,128.5 139.5,131.0 140.5,136.8 141.5,145.3 142.5,156.1 143.5,168.8 144.5,182.8 145.5,197.6 146.5,212.9 147.5,228.1 148.5,242.7 149.5,256.4 150.5,268.5 151.5,278.7 152.5,286.5 153.5,291.3 154.5,292.8 155.5,292.4 156.5,291.4 157.5,290.0 158.5,288.5 159.5,287.1 160.5,286.0 161.5,285.4 162.5,285.5 163.5,286.3 164.5,287.6 165.5,289.3 166.5,290.9 167.5,292.4 168.5,293.5 169.5,293.9 170.5,293.6 171.5,292.7 172.5,291.3 173.5,289.4 174.5,287.2 175.5,284.8 176.5,282.1 177.5,279.3 178.5,276.5 179.5,273.7 180.5,271.0 181.5,268.5 182.5,266.3 183.5,264.4 184.5,262.9 185.5,262.0 186.5,261.6 187.5,262.2 188.5,264.2 189.5,267.1 190.5,270.9 191.5,275.0 192.5,279.4 193.5,283.5 194.5,287.3 195.5,290.2 196.5,292.2 197.5,292.8 198.5,292.6 199.5,292.0 200.5,291.1 201.5,290.0 202.5,288.7 203.5,287.2 204.5,285.6 205.5,284.0 206.5,282.3 207.5,280.7 208.5,279.1 209.5,277.6 210.5,276.3 211.5,275.2 212.5,274.3 213.5,273.7 214.5,273.5 215.5,273.8 216.5,274.7 217.5,276.0 218.5,277.5 219.5,278.9 220.5,280.1 221.5,280.9 222.5,280.8 223.5,278.3 224.5,273.4 225.5,266.3 226.5,257.4 227.5,246.9 228.5,235.2 229.5,222.4 230.5,209.0 231.5,195.3 232.5,181.4 233.5,167.8 234.5,154.7 235.5,142.4 236.5,131.3 237.5,121.5 238.5,113.5 239.5,107.4 240.5,103.7 241.5,102.6 242.5,104.3 243.5,108.4 244.5,114.8 245.5,122.9 246.5,132.4 247.5,143.0 248.5,154.3 249.5,166.0 250.5,177.7 251.5,189.0 252.5,199.6 253.5,209.1 254.5,217.2 255.5,223.6 256.5,227.7 257.5,229.4 258.5,227.7 259.5,222.1 260.5,213.3 261.5,202.0 262.5,188.6 263.5,174.0 264.5,158.7 265.5,143.4 266.5,128.7 267.5,115.2 268.5,103.6 269.5,94.5 270.5,88.6 271.5,86.5 272.5,88.6 273.5,94.6 274.5,103.9 275.5,115.9 276.5,130.1 277.5,146.1 278.5,163.1 279.5,180.7 280.5,198.4 281.5,215.5 282.5,231.5 283.5,246.0 284.5,258.3 285.5,267.8 286.5,274.2 287.5,276.7 288.5,275.6 289.5,272.5 290.5,268.1 291.5,263.5 292.5,259.4 293.5,256.8 294.5,256.4 295.5,257.7 296.5,260.2 297.5,263.7 298.5,267.9 299.5,272.6 300.5,277.5 301.5,282.5 302.5,287.2 303.5,291.4 304.5,295.0 305.5,297.6 306.5,299.0 307.5,299.2 308.5,299.1 309.5,299.0 310.5,298.9 311.5,298.7 312.5,298.5 313.5,298.3 314.5,298.0 315.5,297.7 316.5,297.5 317.5,297.2 318.5,296.9 319.5,296.6 320.5,296.3 321.5,296.0 322.5,295.8 323.5,295.6 324.5,295.4 325.5,295.2 326.5,295.1 327.5,295.0 328.5,295.0 329.5,295.2 330.5,295.7 331.5,296.5 332.5,297.3 333.5,298.1 334.5,298.8 335.5,299.1 336.5,299.1 337.5,298.1 338.5,296.4 339.5,293.9 340.5,290.9 341.5,287.5 342.5,283.7 343.5,279.8 344.5,275.7 345.5,271.8 346.5,268.0 347.5,264.6 348.5,261.6 349.5,259.1 350.5,257.4 351.5,256.4 352.5,256.5 353.5,258.1 354.5,260.8 355.5,264.3 356.5,268.1 357.5,271.9 358.5,275.2 359.5,277.6 360.5,278.8 361.5,277.6 362.5,272.8 363.5,264.9 364.5,254.4 365.5,241.8 366.5,227.7 367.5,212.4 368.5,196.6 369.5,180.7 370.5,165.2 371.5,150.7 372.5,137.5 373.5,126.4 374.5,117.7 375.5,111.9 376.5,109.6 377.5,110.9 378.5,114.9 379.5,121.4 380.5,129.9 381.5,139.9 382.5,151.1 383.5,162.9 384.5,174.9 385.5,186.8 386.5,198.0 387.5,208.1 388.5,216.8 389.5,223.5 390.5,227.9 391.5,229.4 392.5,227.7 393.5,223.0 394.5,215.7 395.5,206.2 396.5,195.2 397.5,182.9 398.5,169.9 399.5,156.8 400.5,143.8 401.5,131.5 402.5,120.5 403.5,111.0 404.5,103.7 405.5,99.0 406.5,97.3 407.5,97.9 408.5,99.8 409.5,102.7 410.5,106.7 411.5,111.6 412.5,117.4 413.5,124.0 414.5,131.2 415.5,139.0 416.5,147.4 417.5,156.2 418.5,165.4 419.5,174.8 420.5,184.3 421.5,194.0 422.5,203.7 423.5,213.3 424.5,222.7 425.5,231.9 426.5,240.7 427.5,249.1 428.5,257.0 429.5,264.4 430.5,271.0 431.5,276.8 432.5,281.9 433.5,285.9 434.5,289.0 435.5,290.9 436.5,291.7 437.5,291.6 438.5,291.2 439.5,290.7 440.5,289.9 441.5,289.0 442.5,288.0 443.5,287.0 444.5,285.9 445.5,284.9 446.5,283.9 447.5,283.0 448.5,282.2 449.5,281.6 450.5,281.2 451.5,281.0 452.5,281.6 453.5,283.3 454.5,285.8 455.5,288.8 456.5,292.0 457.5,294.9 458.5,297.3 459.5,298.9 460.5,299.2 461.5,298.7 462.5,297.6 463.5,296.1 464.5,294.0 465.5,291.6 466.5,288.8 467.5,285.6 468.5,282.1 469.5,278.4 470.5,274.6 471.5,270.5 472.5,266.4 473.5,262.2 474.5,258.0 475.5,253.9 476.5,249.8 477.5,245.9 478.5,242.1 479.5,238.6 480.5,235.4 481.5,232.4 482.5,229.8 483.5,227.7 484.5,226.0 485.5,224.8 486.5,224.1 487.5,224.1 488.5,224.8 489.5,226.1 490.5,227.7 491.5,229.4 492.5,231.0 493.5,232.1 494.5,232.6 495.5,231.4 496.5,227.4 497.5,221.1 498.5,212.8 499.5,202.9 500.5,191.7 501.5,179.7 502.5,167.3 503.5,154.9 504.5,142.7 505.5,131.3 506.5,121.0 507.5,112.1 508.5,105.1 509.5,100.4 510.5,98.4 511.5,99.5 512.5,104.2 513.5,111.8 514.5,121.8 515.5,133.7 516.5,146.7 517.5,160.5 518.5,174.4 519.5,187.8 520.5,200.2 521.5,211.0 522.5,219.7 523.5,225.6 524.5,228.2 525.5,227.2 526.5,223.0 527.5,216.0 528.5,206.7 529.5,195.5 530.5,182.9 531.5,169.2 532.5,155.1 533.5,140.8 534.5,126.9 535.5,113.7 536.5,101.7 537.5,91.4 538.5,83.2 539.5,77.5 540.5,74.9 541.5,75.8 542.5,80.9 543.5,89.7 544.5,101.5 545.5,115.8 546.5,132.1 547.5,149.7 548.5,168.1 549.5,186.7 550.5,204.9 551.5,222.1 552.5,237.9 553.5,251.5 554.5,262.5 555.5,270.2 556.5,274.1 557.5,274.3 558.5,273.4 559.5,271.7 560.5,269.4 561.5,266.7 562.5,263.7 563.5,260.6 564.5,257.6 565.5,254.6 566.5,252.1 567.5,250.0 568.5,248.5 569.5,247.7 570.5,247.8 571.5,248.2 572.5,249.0 573.5,250.0 574.5,251.4 575.5,252.9 576.5,254.7 577.5,256.6 578.5,258.7 579.5,260.9 580.5,263.2 581.5,265.5 582.5,267.9 583.5,270.2 584.5,272.5 585.5,274.7 586.5,276.9 587.5,278.8 588.5,280.7 589.5,282.3 590.5,283.7 591.5,284.8 592.5,285.7 593.5,286.2 594.5,286.4 595.5,286.2 596.5,285.7 597.5,284.9 598.5,283.8 599.5,282.7 600.5,281.5 601.5,280.3 602.5,279.1 603.5,278.1 604.5,277.4 605.5,276.9 606.5,276.7 607.5,276.9 608.5,277.4 609.5,278.0 610.5,278.6 611.5,278.9 612.5,278.9 613.5,278.0 614.5,276.3 615.5,274.1 616.5,271.4 617.5,268.5 618.5,265.4 619.5,262.3 620.5,259.5 621.5,256.9 622.5,254.9 623.5,253.6 624.5,253.0 625.5,253.3 626.5,254.2 627.5,255.4 628.5,256.5 629.5,257.2 630.5,256.9 631.5,253.5 632.5,247.3 633.5,238.7 634.5,228.4 635.5,216.7 636.5,204.3 637.5,191.5 638.5,179.1 639.5,167.4 640.5,157.1 641.5,148.5 642.5,142.3 643.5,138.9 644.5,138.9 645.5,141.6 646.5,146.8 647.5,153.9 648.5,162.5 649.5,172.3 650.5,182.8 651.5,193.7 652.5,204.5 653.5,214.7 654.5,224.1 655.5,232.2 656.5,238.6 657.5,242.8 658.5,244.5 659.5,243.6 660.5,240.6 661.5,235.8 662.5,229.5 663.5,222.1 664.5,213.9 665.5,205.2 666.5,196.2 667.5,187.4 668.5,179.0 669.5,171.3 670.5,164.6 671.5,159.4 672.5,155.8 673.5,154.2 674.5,154.5 675.5,155.8 676.5,157.9 677.5,160.9 678.5,164.6 679.5,169.1 680.5,174.1 681.5,179.7 682.5,185.7 683.5,192.1 684.5,198.9 685.5,205.9 686.5,213.1 687.5,220.5 688.5,227.9 689.5,235.2 690.5,242.5 691.5,249.6 692.5,256.5 693.5,263.1 694.5,269.3 695.5,275.0 696.5,280.3 697.5,285.0 698.5,289.0 699.5,292.3 700.5,294.8 701.5,296.4 702.5,297.1 703.5,296.9 704.5,296.1 705.5,294.9 706.5,293.4 707.5,291.6 708.5,289.8 709.5,288.1 710.5,286.5 711.5,285.3 712.5,284.5 713.5,284.2 714.5,284.7 715.5,285.8 716.5,287.4 717.5,289.4 718.5,291.6 719.5,293.8 720.5,295.9 721.5,297.8 722.5,299.2 723.5,300.1 724.5,300.3 725.5,299.8 726.5,298.8 727.5,297.4 728.5,295.6 729.5,293.5 730.5,291.2 731.5,288.8 732.5,286.3 733.5,283.8 734.5,281.4 735.5,279.2 736.5,277.3 737.5,275.6 738.5,274.4 739.5,273.7 740.5,273.5 741.5,273.8 742.5,274.3 743.5,275.1 744.5,276.1 745.5,277.2 746.5,278.3 747.5,279.5 748.5,280.6 749.5,281.7 750.5,282.9 751.5,284.4 752.5,286.0 753.5,287.6 754.5,289.2 755.5,290.6 756.5,291.9 757.5,292.9 758.5,293.6 759.5,293.9 760.5,292.5 761.5,287.9 762.5,280.5 763.5,270.7 764.5,258.8 765.5,245.2 766.5,230.4 767.5,214.7 768.5,198.6 769.5,182.3 770.5,166.3 771.5,151.0 772.5,136.8 773.5,124.1 774.5,113.1 775.5,104.5 776.5,98.4 777.5,95.4 778.5,95.7 779.5,99.3 780.5,105.6 781.5,114.1 782.5,124.5 783.5,136.3 784.5,148.9 785.5,162.0 786.5,175.0 787.5,187.5 788.5,199.0 789.5,209.0 790.5,217.2 791.5,223.0 792.5,225.9 793.5,225.6 794.5,222.4 795.5,216.7 796.5,208.9 797.5,199.5 798.5,188.8 799.5,177.3 800.5,165.5 801.5,153.6 802.5,142.2 803.5,131.6 804.5,122.3 805.5,114.7 806.5,109.2 807.5,106.3 808.5,106.3 809.5,109.3 810.5,115.0 811.5,123.0 812.5,133.0 813.5,144.6 814.5,157.5 815.5,171.3 816.5,185.8 817.5,200.4 818.5,215.0 819.5,229.1 820.5,242.4 821.5,254.6 822.5,265.3 823.5,274.1 824.5,280.7 825.5,284.8 826.5,286.2 827.5,286.6 828.5,286.9 829.5,287.1 830.5,287.5 831.5,287.9 832.5,289.3 833.5,292.2 834.5,296.0 835.5,300.2 836.5,304.3 837.5,307.6 838.5,309.6 839.5,309.9 840.5,308.4 841.5,305.7 842.5,301.9 843.5,297.5 844.5,292.8 845.5,288.1 846.5,283.7 847.5,279.9 848.5,277.2 849.5,275.7 850.5,275.7 851.5,276.1 852.5,276.9 853.5,278.0 854.5,279.2 855.5,280.5 856.5,281.8 857.5,283.1 858.5,284.2 859.5,285.2 860.5,286.1 861.5,286.9 862.5,287.8 863.5,288.8 864.5,289.8 865.5,290.9 866.5,292.1 867.5,293.7 868.5,296.1 869.5,299.1 870.5,301.9 871.5,303.9 872.5,304.6 873.5,304.0 874.5,302.4 875.5,300.0 876.5,297.0 877.5,293.6 878.5,289.8 879.5,285.9 880.5,282.0 881.5,278.3 882.5,274.9 883.5,272.1 884.5,269.8 885.5,268.4 886.5,268.0 887.5,268.3 888.5,269.1 889.5,270.0 890.5,271.1 891.5,272.2 892.5,273.0 893.5,273.5 894.5,272.9 895.5,269.3 896.5,263.0 897.5,254.2 898.5,243.3 899.5,230.8 900.5,217.1 901.5,202.4 902.5,187.3 903.5,172.2 904.5,157.3 905.5,143.2 906.5,130.1 907.5,118.6 908.5,108.9 909.5,101.5 910.5,96.8 911.5,95.1 912.5,97.0 913.5,102.4 914.5,110.6 915.5,121.2 916.5,133.5 917.5,147.0 918.5,161.2 919.5,175.5 920.5,189.2 921.5,202.0 922.5,213.1 923.5,222.1 924.5,228.4 925.5,231.4 926.5,230.9 927.5,227.7 928.5,222.2 929.5,214.7 930.5,205.7 931.5,195.5 932.5,184.4 933.5,172.8 934.5,161.2 935.5,149.7 936.5,138.8 937.5,128.9 938.5,120.3 939.5,113.4 940.5,108.6 941.5,106.1 942.5,106.6 943.5,110.5 944.5,117.6 945.5,127.3 946.5,139.2 947.5,153.0 948.5,168.1 949.5,184.0 950.5,200.5 951.5,216.9 952.5,232.8 953.5,247.9 954.5,261.7 955.5,273.6 956.5,283.3 957.5,290.4 958.5,294.3 959.5,294.8 960.5,293.0 961.5,289.8 962.5,285.8 963.5,281.5 964.5,277.6 965.5,274.8 966.5,273.5 967.5,273.6 968.5,273.9 969.5,274.4 970.5,275.1 971.5,276.0 972.5,277.0 973.5,278.1 974.5,279.2 975.5,280.5 976.5,281.7 977.5,283.0 978.5,284.2 979.5,285.4 980.5,286.6 981.5,287.6 982.5,288.6 983.5,289.4 984.5,290.0 985.5,290.4 986.5,290.7 987.5,290.6 988.5,290.1 989.5,289.1 990.5,287.7 991.5,286.0 992.5,283.9 993.5,281.7 994.5,279.4 995.5,276.9 996.5,274.5 997.5,272.1 998.5,269.9 999.5,267.8 1000.5,266.0 1001.5,264.6 1002.5,263.5 1003.5,262.8 1004.5,262.8 1005.5,263.6 1006.5,265.3 1007.5,267.6 1008.5,270.3 1009.5,273.1 1010.5,275.8 1011.5,278.2 1012.5,280.0 1013.5,280.9 1014.5,280.9 1015.5,280.0 1016.5,278.5 1017.5,276.5 1018.5,274.1 1019.5,271.5 1020.5,268.7 1021.5,266.0 1022.5,263.4 1023.5,261.2 1024.5,259.3 1025.5,258.0 1026.5,257.3 1027.5,257.8 1028.5,259.9 1029.5,262.9 1030.5,265.7 1031.5,267.7 1032.5,267.9 1033.5,265.2 1034.5,260.0 1035.5,252.7 1036.5,243.6 1037.5,233.2 1038.5,222.0 1039.5,210.2 1040.5,198.4 1041.5,187.0 1042.5,176.3 1043.5,166.8 1044.5,158.9 1045.5,153.0 1046.5,149.5 1047.5,148.9 1048.5,151.2 1049.5,155.8 1050.5,162.3 1051.5,170.3 1052.5,179.2 1053.5,188.8 1054.5,198.3 1055.5,207.5 1056.5,215.9 1057.5,222.9 1058.5,228.1 1059.5,231.1 1060.5,231.3 1061.5,228.6 1062.5,223.1 1063.5,215.4 1064.5,205.9 1065.5,195.1 1066.5,183.3 1067.5,171.0 1068.5,158.7 1069.5,146.8 1070.5,135.7 1071.5,125.9 1072.5,117.9 1073.5,111.9 1074.5,108.6 1075.5,108.2 1076.5,110.5 1077.5,115.1 1078.5,121.8 1079.5,130.2 1080.5,140.1 1081.5,151.2 1082.5,163.3 1083.5,176.1 1084.5,189.2 1085.5,202.5 1086.5,215.6 1087.5,228.3 1088.5,240.4 1089.5,251.4 1090.5,261.3 1091.5,269.6 1092.5,276.1 1093.5,280.6 1094.5,283.1 1095.5,285.2 1096.5,287.2 1097.5,289.1 1098.5,290.9 1099.5,292.5 1100.5,294.0 1101.5,295.3 1102.5,296.5 1103.5,297.5 1104.5,298.2 1105.5,298.8 1106.5,299.1 1107.5,299.2 1108.5,299.0 1109.5,298.7 1110.5,298.2 1111.5,297.4 1112.5,296.6 1113.5,295.5 1114.5,294.3 1115.5,293.0 1116.5,291.5 1117.5,290.0 1118.5,288.3 1119.5,286.6 1120.5,284.7 1121.5,282.8 1122.5,280.9 1123.5,278.8 1124.5,276.8 1125.5,274.7 1126.5,272.7 1127.5,270.6 1128.5,268.5 1129.5,266.5 1130.5,264.4 1131.5,262.5 1132.5,260.5 1133.5,258.7 1134.5,256.9 1135.5,255.2 1136.5,253.6 1137.5,252.1 1138.5,250.8 1139.5,249.5 1140.5,248.4 1141.5,247.5 1142.5,246.7 1143.5,246.1 1144.5,245.7 1145.5,245.5 1146.5,245.6 1147.5,246.1 1148.5,247.1 1149.5,248.5 1150.5,250.2 1151.5,252.3 1152.5,254.5 1153.5,256.9 1154.5,259.4 1155.5,262.0 1156.5,264.5 1157.5,267.0 1158.5,269.3 1159.5,271.4 1160.5,273.2 1161.5,274.7 1162.5,275.9 1163.5,276.5 1164.5,276.7 1165.5,275.6 1166.5,273.0 1167.5,269.1 1168.5,263.9 1169.5,257.4 1170.5,249.8 1171.5,241.1 1172.5,231.4 1173.5,220.9 1174.5,209.5 1175.5,197.4 1176.5,184.7 1177.5,171.3 1178.5,157.5 1179.5,143.3 1180.5,128.8 1181.5,114.0" fill="none" stroke="#0000ff" stroke-width="5" stroke-linejoin="round"/>
<polyline points="110.6,174.9 111.7,173.1 112.9,171.4 114.0,169.9 115.1,168.6 116.2,167.5 117.4,166.5 118.5,165.8 119.6,165.2 120.8,164.8 121.9,164.6 123.0,164.6 124.1,164.8 125.3,165.2 126.4,165.7 127.5,166.5 128.6,167.4 129.8,168.5 130.9,169.9 132.0,171.3 133.2,173.0 134.3,174.8 135.4,176.8 136.5,178.9 137.7,181.2 138.8,183.7 139.9,186.2 141.1,188.9 142.2,191.8 143.3,194.7 144.4,197.8 145.6,200.9 146.7,204.2 147.8,207.5 148.9,210.9 150.1,214.3 151.2,217.8 152.3,221.4 153.5,224.9 154.6,228.5 155.7,232.2 156.8,235.8 158.0,239.4 159.1,243.0 160.2,246.5 161.4,250.1 162.5,253.5 163.6,256.9 164.7,260.3 165.9,263.6 167.0,266.7 168.1,269.8 169.3,272.8 170.4,275.7 171.5,278.4 172.6,281.1 173.8,283.6 174.9,285.9 176.0,288.1 177.1,290.2 178.3,292.0 179.4,293.8 180.5,295.3 181.7,296.7 182.8,297.9 183.9,298.9 185.0,299.7 186.2,300.3 187.3,300.8 188.4,301.0 189.6,301.1 190.7,301.0 191.8,300.7 192.9,300.2 194.1,299.5 195.2,298.6 196.3,297.5 197.5,296.3 198.6,294.8 199.7,293.2 200.8,291.5 202.0,289.5 203.1,287.4 204.2,285.2 205.3,282.8 206.5,280.3 207.6,277.6 208.7,274.8 209.9,271.9 211.0,268.9 212.1,265.8 213.2,262.6 214.4,259.3 215.5,255.9 216.6,252.5 217.8,249.0 218.9,245.4 220.0,241.9 221.1,238.3 222.3,234.7 223.4,231.0 224.5,227.4 225.6,223.8 226.8,220.3 227.9,216.7 229.0,213.3 230.2,209.8 231.3,206.4 232.4,203.2 233.5,199.9 234.7,196.8 235.8,193.8 236.9,190.9 238.1,188.1 239.2,185.4 240.3,182.9 241.4,180.5 242.6,178.3 243.7,176.2 244.8,174.2 246.0,172.5 247.1,170.9 248.2,169.4 249.3,168.2 250.5,167.1 251.6,166.2 252.7,165.5 253.8,165.0 255.0,164.7 256.1,164.6 257.2,164.7 258.4,164.9 259.5,165.4 260.6,166.0 261.7,166.8 262.9,167.8 264.0,169.0 265.1,170.4 266.3,171.9 267.4,173.7 268.5,175.5 269.6,177.6 270.8,179.8 271.9,182.1 273.0,184.6 274.1,187.2 275.3,190.0 276.4,192.9 277.5,195.8 278.7,198.9 279.8,202.1 280.9,205.4 282.0,208.7 283.2,212.2 284.3,215.6 285.4,219.1 286.6,222.7 287.7,226.3 288.8,229.9 289.9,233.5 291.1,237.1 292.2,240.7 293.3,244.3 294.5,247.9 295.6,251.4 296.7,254.8 297.8,258.2 299.0,261.5 300.1,264.8 301.2,267.9 302.3,271.0 303.5,273.9 304.6,276.7 305.7,279.4 306.9,282.0 308.0,284.5 309.1,286.8 310.2,288.9 311.4,290.9 312.5,292.7 313.6,294.4 314.8,295.8 315.9,297.1 317.0,298.3 318.1,299.2 319.3,300.0 320.4,300.5 321.5,300.9 322.6,301.1 323.8,301.1 324.9,300.9 326.0,300.5 327.2,299.9 328.3,299.2 329.4,298.2 330.5,297.1 331.7,295.8 332.8,294.3 333.9,292.6 335.1,290.8 336.2,288.8 337.3,286.6 338.4,284.3 339.6,281.9 340.7,279.3 341.8,276.6 343.0,273.7 344.1,270.8 345.2,267.7 346.3,264.6 347.5,261.3 348.6,258.0 349.7,254.6 350.8,251.2 352.0,247.7 353.1,244.1 354.2,240.5 355.4,236.9 356.5,233.3 357.6,229.7 358.7,226.1 359.9,222.5 361.0,218.9 362.1,215.4 363.3,212.0 364.4,208.5 365.5,205.2 366.6,201.9 367.8,198.8 368.9,195.7 370.0,192.7 371.2,189.8 372.3,187.1 373.4,184.5 374.5,182.0 375.7,179.6 376.8,177.5 377.9,175.4 379.0,173.5 380.2,171.8 381.3,170.3 382.4,168.9 383.6,167.8 384.7,166.8 385.8,166.0 386.9,165.3 388.1,164.9 389.2,164.6 390.3,164.6 391.5,164.7 392.6,165.1 393.7,165.6 394.8,166.3 396.0,167.2 397.1,168.3 398.2,169.5 399.3,170.9 400.5,172.6 401.6,174.3 402.7,176.3 403.9,178.4 405.0,180.6 406.1,183.0 407.2,185.6 408.4,188.3 409.5,191.1 410.6,194.0 411.8,197.0 412.9,200.1 414.0,203.3 415.1,206.6 416.3,210.0 417.4,213.4 418.5,216.9 419.7,220.5 420.8,224.0 421.9,227.6 423.0,231.3 424.2,234.9 425.3,238.5 426.4,242.1 427.5,245.6 428.7,249.2 429.8,252.7 430.9,256.1 432.1,259.5 433.2,262.7 434.3,266.0 435.4,269.1 436.6,272.1 437.7,275.0 438.8,277.8 440.0,280.4 441.1,283.0 442.2,285.3 443.3,287.6 444.5,289.7 445.6,291.6 446.7,293.3 447.8,294.9 449.0,296.3 450.1,297.6 451.2,298.6 452.4,299.5 453.5,300.2 454.6,300.7 455.7,301.0 456.9,301.1 458.0,301.0 459.1,300.8 460.3,300.3 461.4,299.7 462.5,298.8 463.6,297.8 464.8,296.6 465.9,295.2 467.0,293.7 468.2,291.9 469.3,290.0 470.4,288.0 471.5,285.8 472.7,283.4 473.8,280.9 474.9,278.3 476.0,275.5 477.2,272.6 478.3,269.7 479.4,266.6 480.6,263.4 481.7,260.1 482.8,256.7 483.9,253.3 485.1,249.9 486.2,246.3 487.3,242.8 488.5,239.2 489.6,235.6 490.7,232.0 491.8,228.3 493.0,224.7 494.1,221.2 495.2,217.6 496.4,214.1 497.5,210.7 498.6,207.3 499.7,204.0 500.9,200.7 502.0,197.6 503.1,194.5 504.2,191.6 505.4,188.8 506.5,186.1 507.6,183.5 508.8,181.1 509.9,178.8 511.0,176.7 512.1,174.7 513.3,172.9 514.4,171.2 515.5,169.8 516.7,168.5 517.8,167.4 518.9,166.4 520.0,165.7 521.2,165.1 522.3,164.8 523.4,164.6 524.5,164.6 525.7,164.8 526.8,165.2 527.9,165.8 529.1,166.6 530.2,167.6 531.3,168.7 532.4,170.0 533.6,171.5 534.7,173.2 535.8,175.0 537.0,177.1 538.1,179.2 539.2,181.5 540.3,184.0 541.5,186.6 542.6,189.3 543.7,192.1 544.9,195.1 546.0,198.2 547.1,201.3 548.2,204.6 549.4,207.9 550.5,211.3 551.6,214.8 552.7,218.3 553.9,221.8 555.0,225.4 556.1,229.0 557.3,232.6 558.4,236.2 559.5,239.8 560.6,243.4 561.8,247.0 562.9,250.5 564.0,254.0 565.2,257.4 566.3,260.7 567.4,264.0 568.5,267.1 569.7,270.2 570.8,273.2 571.9,276.0 573.0,278.8 574.2,281.4 575.3,283.9 576.4,286.2 577.6,288.4 578.7,290.4 579.8,292.3 580.9,294.0 582.1,295.5 583.2,296.8 584.3,298.0 585.5,299.0 586.6,299.8 587.7,300.4 588.8,300.8 590.0,301.1 591.1,301.1 592.2,301.0 593.4,300.6 594.5,300.1 595.6,299.4 596.7,298.5 597.9,297.4 599.0,296.1 600.1,294.7 601.2,293.0 602.4,291.2 603.5,289.3 604.6,287.2 605.8,284.9 606.9,282.5 608.0,280.0 609.1,277.3 610.3,274.5 611.4,271.5 612.5,268.5 613.7,265.4 614.8,262.2 615.9,258.8 617.0,255.5 618.2,252.0 619.3,248.5 620.4,245.0 621.5,241.4 622.7,237.8 623.8,234.2 624.9,230.6 626.1,227.0 627.2,223.4 628.3,219.8 629.4,216.3 630.6,212.8 631.7,209.4 632.8,206.0 634.0,202.7 635.1,199.5 636.2,196.4 637.3,193.4 638.5,190.5 639.6,187.8 640.7,185.1 641.9,182.6 643.0,180.2 644.1,178.0 645.2,175.9 646.4,174.0 647.5,172.3 648.6,170.7 649.7,169.3 650.9,168.0 652.0,167.0 653.1,166.1 654.3,165.5 655.4,165.0 656.5,164.7 657.6,164.6 658.8,164.7 659.9,165.0 661.0,165.4 662.2,166.1 663.3,166.9 664.4,168.0 665.5,169.2 666.7,170.6 667.8,172.1 668.9,173.9 670.1,175.8 671.2,177.8 672.3,180.1 673.4,182.4 674.6,184.9 675.7,187.6 676.8,190.3 677.9,193.2 679.1,196.2 680.2,199.3 681.3,202.5 682.5,205.8 683.6,209.2 684.7,212.6 685.8,216.1 687.0,219.6 688.1,223.2 689.2,226.7 690.4,230.4 691.5,234.0 692.6,237.6 693.7,241.2 694.9,244.8 696.0,248.3 697.1,251.8 698.2,255.2 699.4,258.6 700.5,261.9 701.6,265.2 702.8,268.3 703.9,271.3 705.0,274.3 706.1,277.1 707.3,279.8 708.4,282.3 709.5,284.8 710.7,287.0 711.8,289.1 712.9,291.1 714.0,292.9 715.2,294.5 716.3,296.0 717.4,297.3 718.6,298.4 719.7,299.3 720.8,300.0 721.9,300.6 723.1,300.9 724.2,301.1 725.3,301.1 726.4,300.8 727.6,300.4 728.7,299.8 729.8,299.0 731.0,298.1 732.1,296.9 733.2,295.6 734.3,294.1 735.5,292.4 736.6,290.5 737.7,288.5 738.9,286.3 740.0,284.0 741.1,281.6 742.2,279.0 743.4,276.2 744.5,273.4 745.6,270.4 746.7,267.3 747.9,264.2 749.0,260.9 750.1,257.6 751.3,254.2 752.4,250.7 753.5,247.2 754.6,243.7 755.8,240.1 756.9,236.5 758.0,232.9 759.2,229.2 760.3,225.6 761.4,222.1 762.5,218.5 763.7,215.0 764.8,211.5 765.9,208.1 767.1,204.8 768.2,201.5 769.3,198.4 770.4,195.3 771.6,192.3 772.7,189.5 773.8,186.7 774.9,184.1 776.1,181.7 777.2,179.4 778.3,177.2 779.5,175.2 780.6,173.3 781.7,171.6 782.8,170.1 784.0,168.8 785.1,167.6 786.2,166.7 787.4,165.9 788.5,165.3 789.6,164.8 790.7,164.6 791.9,164.6 793.0,164.8 794.1,165.1 795.2,165.7 796.4,166.4 797.5,167.3 798.6,168.4 799.8,169.7 800.9,171.1 802.0,172.8 803.1,174.6 804.3,176.5 805.4,178.7 806.5,180.9 807.7,183.3 808.8,185.9 809.9,188.6 811.0,191.4 812.2,194.3 813.3,197.4 814.4,200.5 815.6,203.7 816.7,207.1 817.8,210.4 818.9,213.9 820.1,217.4 821.2,220.9 822.3,224.5 823.4,228.1 824.6,231.7 825.7,235.3 826.8,238.9 828.0,242.5 829.1,246.1 830.2,249.6 831.3,253.1 832.5,256.5 833.6,259.9 834.7,263.2 835.9,266.3 837.0,269.5 838.1,272.4 839.2,275.3 840.4,278.1 841.5,280.7 842.6,283.3 843.8,285.6 844.9,287.8 846.0,289.9 847.1,291.8 848.3,293.5 849.4,295.1 850.5,296.5 851.6,297.7 852.8,298.8 853.9,299.6 855.0,300.3 856.2,300.7 857.3,301.0 858.4,301.1 859.5,301.0 860.7,300.7 861.8,300.2 862.9,299.6 864.1,298.7 865.2,297.7 866.3,296.4 867.4,295.0 868.6,293.5 869.7,291.7 870.8,289.8 871.9,287.7 873.1,285.5 874.2,283.1 875.3,280.6 876.5,278.0 877.6,275.2 878.7,272.3 879.8,269.3 881.0,266.2 882.1,263.0 883.2,259.7 884.4,256.3 885.5,252.9 886.6,249.4 887.7,245.9 888.9,242.3 890.0,238.7 891.1,235.1 892.3,231.5 893.4,227.9 894.5,224.3 895.6,220.7 896.8,217.2 897.9,213.7 899.0,210.2 900.1,206.9 901.3,203.6 902.4,200.3 903.5,197.2 904.7,194.2 905.8,191.2 906.9,188.4 908.0,185.8 909.2,183.2 910.3,180.8 911.4,178.5 912.6,176.4 913.7,174.5 914.8,172.7 915.9,171.1 917.1,169.6 918.2,168.3 919.3,167.2 920.4,166.3 921.6,165.6 922.7,165.1 923.8,164.7 925.0,164.6 926.1,164.6 927.2,164.9 928.3,165.3 929.5,165.9 930.6,166.7 931.7,167.7 932.9,168.9 934.0,170.2 935.1,171.7 936.2,173.4 937.4,175.3 938.5,177.3 939.6,179.5 940.8,181.8 941.9,184.3 943.0,186.9 944.1,189.6 945.3,192.5 946.4,195.5 947.5,198.5 948.6,201.7 949.8,205.0 950.9,208.3 952.0,211.7 953.2,215.2 954.3,218.7 955.4,222.3 956.5,225.8 957.7,229.4 958.8,233.1 959.9,236.7 961.1,240.3 962.2,243.9 963.3,247.4 964.4,250.9 965.6,254.4 966.7,257.8 967.8,261.1 969.0,264.4 970.1,267.5 971.2,270.6 972.3,273.5 973.5,276.4 974.6,279.1 975.7,281.7 976.8,284.2 978.0,286.5 979.1,288.6 980.2,290.6 981.4,292.5 982.5,294.2 983.6,295.7 984.7,297.0 985.9,298.1 987.0,299.1 988.1,299.9 989.3,300.5 990.4,300.9 991.5,301.1 992.6,301.1 993.8,300.9 994.9,300.6 996.0,300.0 997.1,299.3 998.3,298.3 999.4,297.2 1000.5,295.9 1001.7,294.5 1002.8,292.8 1003.9,291.0 1005.0,289.0 1006.2,286.9 1007.3,284.6 1008.4,282.2 1009.6,279.6 1010.7,276.9 1011.8,274.1 1012.9,271.2 1014.1,268.1 1015.2,265.0 1016.3,261.7 1017.5,258.4 1018.6,255.0 1019.7,251.6 1020.8,248.1 1022.0,244.5 1023.1,241.0 1024.2,237.4 1025.3,233.8 1026.5,230.1 1027.6,226.5 1028.7,222.9 1029.9,219.4 1031.0,215.9 1032.1,212.4 1033.2,209.0 1034.4,205.6 1035.5,202.3 1036.6,199.1 1037.8,196.1 1038.9,193.1 1040.0,190.2 1041.1,187.4 1042.3,184.8 1043.4,182.3 1044.5,179.9 1045.6,177.7 1046.8,175.7 1047.9,173.8 1049.0,172.0 1050.2,170.5 1051.3,169.1 1052.4,167.9 1053.5,166.9 1054.7,166.0 1055.8,165.4 1056.9,164.9 1058.1,164.7 1059.2,164.6 1060.3,164.7 1061.4,165.0 1062.6,165.5 1063.7,166.2 1064.8,167.1 1066.0,168.1 1067.1,169.3 1068.2,170.8 1069.3,172.3 1070.5,174.1 1071.6,176.0 1072.7,178.1 1073.8,180.3 1075.0,182.7 1076.1,185.3 1077.2,187.9 1078.4,190.7 1079.5,193.6 1080.6,196.6 1081.7,199.7 1082.9,202.9 1084.0,206.2 1085.1,209.6 1086.3,213.0 1087.4,216.5 1088.5,220.0 1089.6,223.6 1090.8,227.2 1091.9,230.8 1093.0,234.4 1094.1,238.0 1095.3,241.6 1096.4,245.2 1097.5,248.7 1098.7,252.2 1099.8,255.7 1100.9,259.0 1102.0,262.3 1103.2,265.6 1104.3,268.7 1105.4,271.7 1106.6,274.6 1107.7,277.4 1108.8,280.1 1109.9,282.6 1111.1,285.0 1112.2,287.3 1113.3,289.4 1114.5,291.3 1115.6,293.1 1116.7,294.7 1117.8,296.2 1119.0,297.4 1120.1,298.5 1121.2,299.4 1122.3,300.1 1123.5,300.6 1124.6,301.0 1125.7,301.1 1126.9,301.1 1128.0,300.8 1129.1,300.4 1130.2,299.7 1131.4,298.9 1132.5,297.9 1133.6,296.8 1134.8,295.4 1135.9,293.9 1137.0,292.2 1138.1,290.3 1139.3,288.3 1140.4,286.1 1141.5,283.7 1142.7,281.2 1143.8,278.6 1144.9,275.9 1146.0,273.0 1147.2,270.0 1148.3,267.0 1149.4,263.8 1150.5,260.5 1151.7,257.2 1152.8,253.8 1153.9,250.3 1155.1,246.8 1156.2,243.2 1157.3,239.6 1158.4,236.0 1159.6,232.4 1160.7,228.8 1161.8,225.2 1163.0,221.6 1164.1,218.1 1165.2,214.6 1166.3,211.1 1167.5,207.7 1168.6,204.4 1169.7,201.1 1170.8,198.0 1172.0,194.9 1173.1,192.0 1174.2,189.1 1175.4,186.4 1176.5,183.8 1177.6,181.4 1178.7,179.1 1179.9,176.9 1181.0,174.9" fill="none" stroke="#ff0000" stroke-width="5" stroke-linejoin="round"/>
</g>
<polygon points="164.7,177.5 177.4,239.8 169.8,241.3 185.6,261.6 192.3,236.8 184.7,238.3 172.1,176.1" fill="#548235"/>
<path d="M109.5,56.0 L1167.0,56.0" fill="none" stroke="#222" stroke-width="1.8"/>
<path d="M109.5,564.0 L1167.0,564.0" fill="none" stroke="#222" stroke-width="1.8"/>
<path d="M1167.0,56.0 L1181.0,56.0 L1181.0,564.0 L1167.0,564.0" fill="none" stroke="#c00" stroke-width="1.6"/>
<line x1="217.6" y1="564.0" x2="217.6" y2="553.0" stroke="#000" stroke-width="1.6"/>
<line x1="217.6" y1="56.0" x2="217.6" y2="67.0" stroke="#000" stroke-width="1.6"/>
<line x1="324.7" y1="564.0" x2="324.7" y2="553.0" stroke="#000" stroke-width="1.6"/>
<line x1="324.7" y1="56.0" x2="324.7" y2="67.0" stroke="#000" stroke-width="1.6"/>
<line x1="431.7" y1="564.0" x2="431.7" y2="553.0" stroke="#000" stroke-width="1.6"/>
<line x1="431.7" y1="56.0" x2="431.7" y2="67.0" stroke="#000" stroke-width="1.6"/>
<line x1="538.8" y1="564.0" x2="538.8" y2="553.0" stroke="#000" stroke-width="1.6"/>
<line x1="538.8" y1="56.0" x2="538.8" y2="67.0" stroke="#000" stroke-width="1.6"/>
<line x1="645.8" y1="564.0" x2="645.8" y2="553.0" stroke="#000" stroke-width="1.6"/>
<line x1="645.8" y1="56.0" x2="645.8" y2="67.0" stroke="#000" stroke-width="1.6"/>
<line x1="752.8" y1="564.0" x2="752.8" y2="553.0" stroke="#000" stroke-width="1.6"/>
<line x1="752.8" y1="56.0" x2="752.8" y2="67.0" stroke="#000" stroke-width="1.6"/>
<line x1="859.9" y1="564.0" x2="859.9" y2="553.0" stroke="#000" stroke-width="1.6"/>
<line x1="859.9" y1="56.0" x2="859.9" y2="67.0" stroke="#000" stroke-width="1.6"/>
<line x1="966.9" y1="564.0" x2="966.9" y2="553.0" stroke="#000" stroke-width="1.6"/>
<line x1="966.9" y1="56.0" x2="966.9" y2="67.0" stroke="#000" stroke-width="1.6"/>
<line x1="1074.0" y1="564.0" x2="1074.0" y2="553.0" stroke="#000" stroke-width="1.6"/>
<line x1="1074.0" y1="56.0" x2="1074.0" y2="67.0" stroke="#000" stroke-width="1.6"/>
<line x1="1181.0" y1="56.0" x2="1170.0" y2="56.0" stroke="#000" stroke-width="1.6"/>
<line x1="1181.0" y1="310.0" x2="1170.0" y2="310.0" stroke="#000" stroke-width="1.6"/>
<line x1="1181.0" y1="564.0" x2="1170.0" y2="564.0" stroke="#000" stroke-width="1.6"/>
<line x1="1181.0" y1="56.0" x2="1170.0" y2="56.0" stroke="#d00" stroke-width="1.6"/>
<line x1="1181.0" y1="183.0" x2="1170.0" y2="183.0" stroke="#d00" stroke-width="1.6"/>
<line x1="1181.0" y1="310.0" x2="1170.0" y2="310.0" stroke="#d00" stroke-width="1.6"/>
<line x1="1181.0" y1="437.0" x2="1170.0" y2="437.0" stroke="#d00" stroke-width="1.6"/>
<line x1="1181.0" y1="564.0" x2="1170.0" y2="564.0" stroke="#d00" stroke-width="1.6"/>
<text x="110.6" y="598.0" font-family="'Liberation Serif', serif" font-weight="bold" font-size="29.5" text-anchor="middle">5</text>
<text x="217.6" y="598.0" font-family="'Liberation Serif', serif" font-weight="bold" font-size="29.5" text-anchor="middle">5.1</text>
<text x="324.7" y="598.0" font-family="'Liberation Serif', serif" font-weight="bold" font-size="29.5" text-anchor="middle">5.2</text>
<text x="431.7" y="598.0" font-family="'Liberation Serif', serif" font-weight="bold" font-size="29.5" text-anchor="middle">5.3</text>
<text x="538.8" y="598.0" font-family="'Liberation Serif', serif" font-weight="bold" font-size="29.5" text-anchor="middle">5.4</text>
<text x="645.8" y="598.0" font-family="'Liberation Serif', serif" font-weight="bold" font-size="29.5" text-anchor="middle">5.5</text>
<text x="752.8" y="598.0" font-family="'Liberation Serif', serif" font-weight="bold" font-size="29.5" text-anchor="middle">5.6</text>
<text x="859.9" y="598.0" font-family="'Liberation Serif', serif" font-weight="bold" font-size="29.5" text-anchor="middle">5.7</text>
<text x="966.9" y="598.0" font-family="'Liberation Serif', serif" font-weight="bold" font-size="29.5" text-anchor="middle">5.8</text>
<text x="1074.0" y="598.0" font-family="'Liberation Serif', serif" font-weight="bold" font-size="29.5" text-anchor="middle">5.9</text>
<text x="1181.0" y="598.0" font-family="'Liberation Serif', serif" font-weight="bold" font-size="29.5" text-anchor="middle">6</text>
<text x="104.1" y="67.3" font-family="'Liberation Serif', serif" font-weight="bold" font-size="29.5" text-anchor="end">200</text>
<text x="104.1" y="321.3" font-family="'Liberation Serif', serif" font-weight="bold" font-size="29.5" text-anchor="end">0</text>
<text x="104.1" y="575.3" font-family="'Liberation Serif', serif" font-weight="bold" font-size="29.5" text-anchor="end">-200</text>
<text x="1188.5" y="67.3" font-family="'Liberation Serif', serif" font-weight="bold" font-size="29.5" fill="#e00000">80</text>
<text x="1188.5" y="194.3" font-family="'Liberation Serif', serif" font-weight="bold" font-size="29.5" fill="#e00000">40</text>
<text x="1188.5" y="321.3" font-family="'Liberation Serif', serif" font-weight="bold" font-size="29.5" fill="#e00000">0</text>
<text x="1188.5" y="448.3" font-family="'Liberation Serif', serif" font-weight="bold" font-size="29.5" fill="#e00000">-40</text>
<text x="1188.5" y="575.3" font-family="'Liberation Serif', serif" font-weight="bold" font-size="29.5" fill="#e00000">-80</text>
<text x="645" y="44.5" font-family="'Liberation Serif', serif" font-weight="bold" font-size="28.5" text-anchor="middle">f=8Hz</text>
<text x="645.8" y="631" font-family="'Liberation Serif', serif" font-weight="bold" font-size="28.5" text-anchor="middle">Time (s)</text>
<text transform="translate(40.3,311.7) rotate(-90)" font-family="'Liberation Serif', serif" font-weight="bold" font-size="28.3" text-anchor="middle">Low-frequency current signal (mV)</text>
<text transform="translate(1257.6,314.2) rotate(-90)" font-family="'Liberation Serif', serif" font-weight="bold" font-size="28.8" fill="#e00000" text-anchor="middle">Acoustoelectric signal (uV)</text>
<line x1="832.5" y1="38.1" x2="861.5" y2="38.1" stroke="#000" stroke-width="4.4"/>
<text x="863.5" y="47.0" font-family="'Liberation Serif', serif" font-weight="bold" font-size="28.5">Vi</text>
<line x1="896.5" y1="38.1" x2="924.5" y2="38.1" stroke="#eee" stroke-width="2"/>
<text x="929.5" y="47.0" font-family="'Liberation Serif', serif" font-weight="bold" font-size="28.5">Vae</text>
<line x1="979.5" y1="38.1" x2="1007.5" y2="38.1" stroke="#00f" stroke-width="5"/>
<text x="1010.5" y="47.0" font-family="'Liberation Serif', serif" font-weight="bold" font-size="28.5">DAE</text>
<line x1="1075.5" y1="38.1" x2="1103.5" y2="38.1" stroke="#f00" stroke-width="5"/>
<text x="1105.5" y="47.0" font-family="'Liberation Serif', serif" font-weight="bold" font-size="28.5">aDAF</text>
<text x="10.2" y="32.5" font-family="'Liberation Sans', sans-serif" font-weight="bold" font-size="42">A</text>
<clipPath id="clipB"><rect x="107.0" y="694.8" width="1085.8" height="514.7"/></clipPath>
<line x1="109.5" y1="694.8" x2="109.5" y2="1209.5" stroke="#000" stroke-width="2.2"/>
<line x1="109.5" y1="797.7" x2="120.5" y2="797.7" stroke="#000" stroke-width="1.6"/>
<line x1="109.5" y1="1003.6" x2="120.5" y2="1003.6" stroke="#000" stroke-width="1.6"/>
<line x1="109.5" y1="1209.5" x2="120.5" y2="1209.5" stroke="#000" stroke-width="1.6"/>
<g clip-path="url(#clipB)">
<polyline points="109.5,678.2 110.6,677.1 111.8,677.2 112.9,678.3 114.1,680.6 115.2,684.0 116.3,688.5 117.5,694.1 118.6,700.7 119.7,708.4 120.9,717.1 122.0,726.7 123.2,737.2 124.3,748.6 125.4,760.8 126.6,773.7 127.7,787.4 128.9,801.7 130.0,816.6 131.1,832.1 132.3,848.0 133.4,864.2 134.6,880.8 135.7,897.6 136.8,914.6 138.0,931.7 139.1,948.8 140.2,965.8 141.4,982.7 142.5,999.4 143.7,1015.8 144.8,1031.9 145.9,1047.6 147.1,1062.8 148.2,1077.4 149.4,1091.4 150.5,1104.7 151.6,1117.3 152.8,1129.1 153.9,1140.0 155.1,1150.1 156.2,1159.2 157.3,1167.3 158.5,1174.5 159.6,1180.6 160.7,1185.6 161.9,1189.5 163.0,1192.4 164.2,1194.1 165.3,1194.7 166.4,1194.1 167.6,1192.5 168.7,1189.7 169.9,1185.8 171.0,1180.8 172.1,1174.8 173.3,1167.7 174.4,1159.6 175.6,1150.6 176.7,1140.6 177.8,1129.7 179.0,1118.0 180.1,1105.5 181.2,1092.3 182.4,1078.3 183.5,1063.8 184.7,1048.7 185.8,1033.2 186.9,1017.2 188.1,1000.9 189.2,984.3 190.4,967.5 191.5,950.6 192.6,933.6 193.8,916.6 194.9,899.8 196.1,883.1 197.2,866.7 198.3,850.6 199.5,834.8 200.6,819.6 201.7,804.8 202.9,790.7 204.0,777.1 205.2,764.3 206.3,752.3 207.4,741.1 208.6,730.8 209.7,721.4 210.9,712.9 212.0,705.4 213.1,699.0 214.3,693.6 215.4,689.3 216.6,686.1 217.7,684.0 218.8,683.0 220.0,683.2 221.1,684.4 222.2,686.8 223.4,690.4 224.5,695.0 225.7,700.6 226.8,707.4 227.9,715.1 229.1,723.9 230.2,733.6 231.4,744.2 232.5,755.7 233.6,768.0 234.8,781.0 235.9,794.7 237.1,809.1 238.2,824.1 239.3,839.6 240.5,855.5 241.6,871.8 242.7,888.4 243.9,905.2 245.0,922.2 246.2,939.3 247.3,956.4 248.4,973.4 249.6,990.3 250.7,1007.0 251.9,1023.4 253.0,1039.4 254.1,1055.0 255.3,1070.2 256.4,1084.7 257.6,1098.6 258.7,1111.9 259.8,1124.4 261.0,1136.1 262.1,1147.0 263.2,1156.9 264.4,1166.0 265.5,1174.0 266.7,1181.0 267.8,1187.0 268.9,1192.0 270.1,1195.8 271.2,1198.5 272.4,1200.1 273.5,1200.6 274.6,1199.9 275.8,1198.2 276.9,1195.3 278.1,1191.3 279.2,1186.2 280.3,1180.1 281.5,1172.9 282.6,1164.7 283.7,1155.5 284.9,1145.5 286.0,1134.5 287.2,1122.7 288.3,1110.1 289.4,1096.8 290.6,1082.8 291.7,1068.2 292.9,1053.1 294.0,1037.5 295.1,1021.5 296.3,1005.1 297.4,988.5 298.6,971.7 299.7,954.8 300.8,937.8 302.0,920.9 303.1,904.0 304.2,887.4 305.4,871.0 306.5,854.9 307.7,839.2 308.8,824.0 309.9,809.3 311.1,795.2 312.2,781.8 313.4,769.0 314.5,757.1 315.6,746.0 316.8,735.7 317.9,726.4 319.1,718.0 320.2,710.6 321.3,704.3 322.5,699.0 323.6,694.8 324.7,691.7 325.9,689.7 327.0,688.9 328.2,689.2 329.3,690.5 330.4,693.1 331.6,696.7 332.7,701.4 333.9,707.2 335.0,714.0 336.1,721.9 337.3,730.7 338.4,740.5 339.6,751.2 340.7,762.8 341.8,775.1 343.0,788.3 344.1,802.1 345.2,816.5 346.4,831.5 347.5,847.1 348.7,863.0 349.8,879.4 350.9,896.0 352.1,912.8 353.2,929.8 354.4,946.9 355.5,964.0 356.6,981.0 357.8,997.9 358.9,1014.6 360.1,1030.9 361.2,1046.9 362.3,1062.5 363.5,1077.6 364.6,1092.1 365.7,1105.9 366.9,1119.1 368.0,1131.5 369.2,1143.2 370.3,1153.9 371.4,1163.8 372.6,1172.7 373.7,1180.7 374.9,1187.6 376.0,1193.5 377.1,1198.3 378.3,1202.0 379.4,1204.6 380.6,1206.1 381.7,1206.5 382.8,1205.7 384.0,1203.8 385.1,1200.8 386.2,1196.7 387.4,1191.5 388.5,1185.3 389.7,1178.0 390.8,1169.7 391.9,1160.5 393.1,1150.3 394.2,1139.3 395.4,1127.4 396.5,1114.7 397.6,1101.4 398.8,1087.3 399.9,1072.7 401.1,1057.5 402.2,1041.8 403.3,1025.8 404.5,1009.4 405.6,992.8 406.7,975.9 407.9,959.0 409.0,942.0 410.2,925.1 411.3,908.3 412.4,891.6 413.6,875.3 414.7,859.2 415.9,843.6 417.0,828.4 418.1,813.8 419.3,799.7 420.4,786.4 421.6,773.7 422.7,761.8 423.8,750.8 425.0,740.7 426.1,731.4 427.2,723.2 428.4,715.9 429.5,709.6 430.7,704.5 431.8,700.4 432.9,697.4 434.1,695.5 435.2,694.8 436.4,695.2 437.5,696.7 438.6,699.3 439.8,703.0 440.9,707.9 442.1,713.8 443.2,720.7 444.3,728.7 445.5,737.6 446.6,747.5 447.7,758.3 448.9,769.9 450.0,782.3 451.2,795.5 452.3,809.4 453.4,823.9 454.6,839.0 455.7,854.6 456.9,870.6 458.0,886.9 459.1,903.6 460.3,920.5 461.4,937.5 462.6,954.6 463.7,971.7 464.8,988.7 466.0,1005.5 467.1,1022.1 468.2,1038.5 469.4,1054.4 470.5,1069.9 471.7,1085.0 472.8,1099.4 473.9,1113.2 475.1,1126.3 476.2,1138.6 477.4,1150.2 478.5,1160.9 479.6,1170.7 480.8,1179.5 481.9,1187.3 483.1,1194.2 484.2,1199.9 485.3,1204.6 486.5,1208.3 487.6,1210.8 488.7,1212.1 489.9,1212.4 491.0,1211.5 492.2,1209.5 493.3,1206.4 494.4,1202.2 495.6,1196.9 496.7,1190.5 497.9,1183.2 499.0,1174.8 500.1,1165.4 501.3,1155.2 502.4,1144.0 503.6,1132.1 504.7,1119.3 505.8,1105.9 507.0,1091.8 508.1,1077.1 509.2,1061.9 510.4,1046.2 511.5,1030.1 512.7,1013.6 513.8,996.9 514.9,980.0 516.1,963.0 517.2,945.9 518.4,928.9 519.5,912.1 520.6,895.4 521.8,879.0 522.9,862.9 524.1,847.3 525.2,832.1 526.3,817.4 527.5,803.4 528.6,790.0 529.7,777.4 530.9,765.6 532.0,754.5 533.2,744.4 534.3,735.2 535.4,727.0 536.6,719.7 537.7,713.6 538.9,708.4 540.0,704.4 541.1,701.4 542.3,699.6 543.4,698.9 544.6,699.4 545.7,700.9 546.8,703.6 548.0,707.4 549.1,712.2 550.2,718.2 551.4,725.2 552.5,733.2 553.7,742.1 554.8,752.1 555.9,762.9 557.1,774.5 558.2,787.0 559.4,800.2 560.5,814.1 561.6,828.6 562.8,843.6 563.9,859.2 565.1,875.1 566.2,891.5 567.3,908.1 568.5,924.9 569.6,941.9 570.7,958.9 571.9,976.0 573.0,992.9 574.2,1009.7 575.3,1026.2 576.4,1042.4 577.6,1058.3 578.7,1073.7 579.9,1088.6 581.0,1102.9 582.1,1116.6 583.3,1129.5 584.4,1141.8 585.6,1153.1 586.7,1163.7 587.8,1173.3 589.0,1182.0 590.1,1189.7 591.2,1196.3 592.4,1201.9 593.5,1206.5 594.7,1209.9 595.8,1212.2 596.9,1213.4 598.1,1213.5 599.2,1212.5 600.4,1210.3 601.5,1207.0 602.6,1202.6 603.8,1197.2 604.9,1190.6 606.1,1183.1 607.2,1174.5 608.3,1165.1 609.5,1154.6 610.6,1143.4 611.7,1131.3 612.9,1118.4 614.0,1104.8 615.2,1090.6 616.3,1075.8 617.4,1060.4 618.6,1044.6 619.7,1028.4 620.9,1011.9 622.0,995.2 623.1,978.3 624.3,961.3 625.4,944.2 626.6,927.3 627.7,910.4 628.8,893.7 630.0,877.4 631.1,861.3 632.2,845.7 633.4,830.6 634.5,816.0 635.7,802.0 636.8,788.7 637.9,776.2 639.1,764.4 640.2,753.5 641.4,743.4 642.5,734.3 643.6,726.2 644.8,719.1 645.9,713.0 647.1,708.0 648.2,704.0 649.3,701.2 650.5,699.5 651.6,698.9 652.7,699.5 653.9,701.1 655.0,703.9 656.2,707.8 657.3,712.8 658.4,718.8 659.6,725.9 660.7,734.0 661.9,743.1 663.0,753.1 664.1,764.0 665.3,775.7 666.4,788.3 667.6,801.5 668.7,815.5 669.8,830.0 671.0,845.1 672.1,860.7 673.2,876.8 674.4,893.1 675.5,909.8 676.7,926.6 677.8,943.6 678.9,960.6 680.1,977.7 681.2,994.6 682.4,1011.3 683.5,1027.8 684.6,1044.0 685.8,1059.8 686.9,1075.2 688.1,1090.0 689.2,1104.3 690.3,1117.9 691.5,1130.8 692.6,1142.9 693.7,1154.2 694.9,1164.7 696.0,1174.2 697.2,1182.8 698.3,1190.4 699.4,1196.9 700.6,1202.4 701.7,1206.9 702.9,1210.2 704.0,1212.4 705.1,1213.5 706.3,1213.5 707.4,1212.3 708.6,1210.0 709.7,1206.6 710.8,1202.1 712.0,1196.6 713.1,1189.9 714.2,1182.3 715.4,1173.6 716.5,1164.1 717.7,1153.5 718.8,1142.2 719.9,1130.0 721.1,1117.1 722.2,1103.4 723.4,1089.1 724.5,1074.3 725.6,1058.9 726.8,1043.0 727.9,1026.8 729.1,1010.3 730.2,993.5 731.3,976.6 732.5,959.6 733.6,942.5 734.7,925.6 735.9,908.7 737.0,892.1 738.2,875.7 739.3,859.7 740.4,844.2 741.6,829.1 742.7,814.6 743.9,800.7 745.0,787.4 746.1,775.0 747.3,763.3 748.4,752.4 749.6,742.5 750.7,733.5 751.8,725.4 753.0,718.4 754.1,712.4 755.2,707.5 756.4,703.7 757.5,701.0 758.7,699.4 759.8,698.9 760.9,699.6 762.1,701.4 763.2,704.3 764.4,708.3 765.5,713.3 766.6,719.5 767.8,726.7 768.9,734.9 770.1,744.1 771.2,754.2 772.3,765.1 773.5,777.0 774.6,789.6 775.7,802.9 776.9,816.9 778.0,831.5 779.2,846.7 780.3,862.3 781.4,878.4 782.6,894.8 783.7,911.5 784.9,928.3 786.0,945.3 787.1,962.3 788.3,979.4 789.4,996.3 790.6,1013.0 791.7,1029.5 792.8,1045.6 794.0,1061.4 795.1,1076.7 796.2,1091.5 797.4,1105.7 798.5,1119.2 799.7,1132.0 800.8,1144.1 801.9,1155.3 803.1,1165.7 804.2,1175.1 805.4,1183.6 806.5,1191.1 807.6,1197.5 808.8,1202.9 809.9,1207.2 811.1,1210.5 812.2,1212.6 813.3,1213.5 814.5,1213.4 815.6,1212.1 816.7,1209.7 817.9,1206.2 819.0,1201.6 820.2,1195.9 821.3,1189.2 822.4,1181.5 823.6,1172.7 824.7,1163.0 825.9,1152.5 827.0,1141.0 828.1,1128.7 829.3,1115.7 830.4,1102.0 831.6,1087.7 832.7,1072.7 833.8,1057.3 835.0,1041.4 836.1,1025.2 837.2,1008.6 838.4,991.8 839.5,974.9 840.7,957.9 841.8,940.8 842.9,923.9 844.1,907.0 845.2,890.4 846.4,874.1 847.5,858.2 848.6,842.6 849.8,827.6 850.9,813.2 852.1,799.3 853.2,786.2 854.3,773.8 855.5,762.2 856.6,751.4 857.7,741.5 858.9,732.6 860.0,724.7 861.2,717.8 862.3,711.9 863.4,707.1 864.6,703.4 865.7,700.8 866.9,699.3 868.0,698.9 869.1,699.7 870.3,701.6 871.4,704.6 872.6,708.7 873.7,713.9 874.8,720.2 876.0,727.5 877.1,735.8 878.2,745.0 879.4,755.2 880.5,766.3 881.7,778.2 882.8,790.9 883.9,804.3 885.1,818.3 886.2,833.0 887.4,848.2 888.5,863.9 889.6,880.0 890.8,896.4 891.9,913.1 893.1,930.0 894.2,947.0 895.3,964.0 896.5,981.0 897.6,997.9 898.7,1014.7 899.9,1031.1 901.0,1047.2 902.2,1063.0 903.3,1078.2 904.4,1092.9 905.6,1107.1 906.7,1120.5 907.9,1133.3 909.0,1145.3 910.1,1156.4 911.3,1166.7 912.4,1176.0 913.6,1184.4 914.7,1191.8 915.8,1198.1 917.0,1203.4 918.1,1207.6 919.2,1210.7 920.4,1212.7 921.5,1213.6 922.7,1213.3 923.8,1211.9 924.9,1209.4 926.1,1205.8 927.2,1201.1 928.4,1195.3 929.5,1188.5 930.6,1180.6 931.8,1171.8 932.9,1162.0 934.1,1151.3 935.2,1139.8 936.3,1127.5 937.5,1114.4 938.6,1100.6 939.7,1086.2 940.9,1071.2 942.0,1055.7 943.2,1039.8 944.3,1023.5 945.4,1006.9 946.6,990.1 947.7,973.2 948.9,956.2 950.0,939.1 951.1,922.2 952.3,905.4 953.4,888.8 954.6,872.5 955.7,856.6 956.8,841.1 958.0,826.1 959.1,811.7 960.2,798.0 961.4,784.9 962.5,772.6 963.7,761.0 964.8,750.4 965.9,740.6 967.1,731.8 968.2,724.0 969.4,717.1 970.5,711.4 971.6,706.7 972.8,703.1 973.9,700.6 975.1,699.2 976.2,699.0 977.3,699.8 978.5,701.8 979.6,705.0 980.7,709.2 981.9,714.5 983.0,720.9 984.2,728.2 985.3,736.6 986.4,746.0 987.6,756.3 988.7,767.4 989.9,779.4 991.0,792.2 992.1,805.6 993.3,819.8 994.4,834.5 995.6,849.8 996.7,865.5 997.8,881.6 999.0,898.1 1000.1,914.8 1001.2,931.7 1002.4,948.7 1003.5,965.7 1004.7,982.7 1005.8,999.6 1006.9,1016.3 1008.1,1032.7 1009.2,1048.8 1010.4,1064.5 1011.5,1079.7 1012.6,1094.4 1013.8,1108.5 1014.9,1121.8 1016.1,1134.5 1017.2,1146.4 1018.3,1157.5 1019.5,1167.6 1020.6,1176.9 1021.7,1185.2 1022.9,1192.5 1024.0,1198.7 1025.2,1203.9 1026.3,1208.0 1027.4,1211.0 1028.6,1212.8 1029.7,1213.6 1030.9,1213.2 1032.0,1211.7 1033.1,1209.1 1034.3,1205.4 1035.4,1200.6 1036.6,1194.7 1037.7,1187.7 1038.8,1179.8 1040.0,1170.9 1041.1,1161.0 1042.2,1150.2 1043.4,1138.6 1044.5,1126.2 1045.7,1113.0 1046.8,1099.2 1047.9,1084.7 1049.1,1069.7 1050.2,1054.2 1051.4,1038.2 1052.5,1021.9 1053.6,1005.3 1054.8,988.4 1055.9,971.5 1057.1,954.5 1058.2,937.4 1059.3,920.5 1060.5,903.7 1061.6,887.2 1062.7,870.9 1063.9,855.0 1065.0,839.6 1066.2,824.7 1067.3,810.3 1068.4,796.6 1069.6,783.6 1070.7,771.4 1071.9,759.9 1073.0,749.4 1074.1,739.7 1075.3,731.0 1076.4,723.2 1077.6,716.5 1078.7,710.9 1079.8,706.3 1081.0,702.8 1082.1,700.4 1083.2,699.1 1084.4,699.0 1085.5,700.0 1086.7,702.1 1087.8,705.3 1088.9,709.7 1090.1,715.1 1091.2,721.5 1092.4,729.0 1093.5,737.5 1094.6,747.0 1095.8,757.4 1096.9,768.6 1098.1,780.7 1099.2,793.5 1100.3,807.0 1101.5,821.2 1102.6,836.0 1103.7,851.3 1104.9,867.1 1106.0,883.3 1107.2,899.8 1108.3,916.5 1109.4,933.4 1110.6,950.4 1111.7,967.5 1112.9,984.4 1114.0,1001.3 1115.1,1018.0 1116.3,1034.4 1117.4,1050.4 1118.6,1066.1 1119.7,1081.2 1120.8,1095.8 1122.0,1109.8 1123.1,1123.1 1124.2,1135.7 1125.4,1147.6 1126.5,1158.5 1127.7,1168.6 1128.8,1177.8 1129.9,1185.9 1131.1,1193.1 1132.2,1199.3 1133.4,1204.3 1134.5,1208.3 1135.6,1211.2 1136.8,1213.0 1137.9,1213.6 1139.1,1213.1 1140.2,1211.5 1141.3,1208.8 1142.5,1204.9 1143.6,1200.0 1144.7,1194.0 1145.9,1187.0 1147.0,1178.9 1148.2,1169.9 1149.3,1160.0 1150.4,1149.1 1151.6,1137.4 1152.7,1124.9 1153.9,1111.7 1155.0,1097.8 1156.1,1083.2 1157.3,1068.2 1158.4,1052.6 1159.6,1036.6 1160.7,1020.2 1161.8,1003.6 1163.0,986.8 1164.1,969.8 1165.2,952.7 1166.4,935.7 1167.5,918.8 1168.7,902.0 1169.8,885.5 1170.9,869.3 1172.1,853.5 1173.2,838.1 1174.4,823.2 1175.5,808.9 1176.6,795.3 1177.8,782.4 1178.9,770.2 1180.1,758.8 1181.2,748.4 1182.3,738.8 1183.5,730.1 1184.6,722.5 1185.7,715.9 1186.9,710.3 1188.0,705.9 1189.2,702.5 1190.3,700.2" fill="none" stroke="#000" stroke-width="5" stroke-linejoin="round"/>
<linearGradient id="gB" gradientUnits="userSpaceOnUse" x1="0" y1="694.8" x2="0" y2="1304.3"><stop offset="0" stop-color="#fbfbfb"/><stop offset="0.307" stop-color="#f4f4f4"/><stop offset="0.381" stop-color="#f0f0f0"/><stop offset="0.711" stop-color="#f0f0f0"/><stop offset="1" stop-color="#f7f7f7"/></linearGradient>
<polygon points="109.0,600.0 110.0,641.2 111.0,677.4 112.0,700.0 113.0,719.5 114.0,738.1 115.0,755.6 116.0,772.0 117.0,787.1 118.0,800.7 119.0,812.9 120.0,823.4 121.0,832.1 122.0,838.8 123.0,843.5 124.0,846.1 125.0,846.0 126.0,841.5 127.0,833.7 128.0,824.5 129.0,815.9 130.0,809.8 131.0,808.2 132.0,814.6 133.0,828.1 134.0,845.9 135.0,865.5 136.0,884.2 137.0,899.3 138.0,908.1 139.0,908.6 140.0,903.5 141.0,894.4 142.0,882.4 143.0,868.8 144.0,854.8 145.0,841.4 146.0,830.0 147.0,821.5 148.0,817.4 149.0,817.8 150.0,821.1 151.0,826.8 152.0,834.5 153.0,843.8 154.0,854.4 155.0,865.9 156.0,877.8 157.0,889.9 158.0,901.7 159.0,913.0 160.0,923.2 161.0,932.1 162.0,939.2 163.0,944.2 164.0,946.8 165.0,946.4 166.0,942.7 167.0,936.3 168.0,927.6 169.0,917.3 170.0,905.9 171.0,893.9 172.0,882.0 173.0,870.6 174.0,860.3 175.0,851.6 176.0,845.2 177.0,841.5 178.0,841.5 179.0,847.9 180.0,859.2 181.0,873.0 182.0,887.1 183.0,899.1 184.0,906.6 185.0,907.5 186.0,902.8 187.0,893.6 188.0,881.2 189.0,866.4 190.0,850.5 191.0,834.3 192.0,818.9 193.0,805.4 194.0,794.8 195.0,788.2 196.0,786.4 197.0,787.7 198.0,790.3 199.0,793.6 200.0,796.8 201.0,799.3 202.0,800.4 203.0,799.9 204.0,798.3 205.0,796.3 206.0,794.4 207.0,793.0 208.0,792.8 209.0,794.9 210.0,798.8 211.0,803.5 212.0,808.1 213.0,811.5 214.0,812.9 215.0,810.4 216.0,804.2 217.0,796.0 218.0,787.6 219.0,780.6 220.0,776.8 221.0,777.8 222.0,783.1 223.0,792.1 224.0,803.8 225.0,817.5 226.0,832.4 227.0,847.6 228.0,862.4 229.0,876.0 230.0,887.5 231.0,896.1 232.0,901.0 233.0,901.4 234.0,896.7 235.0,888.4 236.0,878.0 237.0,867.2 238.0,857.9 239.0,851.5 240.0,849.8 241.0,852.6 242.0,858.4 243.0,865.4 244.0,872.3 245.0,877.6 246.0,879.7 247.0,876.7 248.0,868.8 249.0,858.0 250.0,846.0 251.0,834.6 252.0,825.6 253.0,821.0 254.0,821.3 255.0,823.9 256.0,828.5 257.0,834.7 258.0,842.3 259.0,851.1 260.0,860.7 261.0,871.0 262.0,881.6 263.0,892.3 264.0,902.8 265.0,912.9 266.0,922.3 267.0,930.8 268.0,938.0 269.0,943.8 270.0,947.8 271.0,948.1 272.0,948.1 273.0,948.0 274.0,944.9 275.0,940.7 276.0,935.6 277.0,929.9 278.0,923.7 279.0,917.3 280.0,910.9 281.0,904.8 282.0,899.2 283.0,894.3 284.0,890.3 285.0,887.5 286.0,886.0 287.0,886.0 288.0,886.4 289.0,887.1 290.0,887.8 291.0,888.5 292.0,888.9 293.0,888.4 294.0,881.9 295.0,870.7 296.0,857.0 297.0,843.5 298.0,832.6 299.0,826.8 300.0,827.7 301.0,833.5 302.0,842.3 303.0,852.5 304.0,862.6 305.0,870.9 306.0,875.8 307.0,876.2 308.0,874.0 309.0,869.9 310.0,864.3 311.0,857.6 312.0,850.2 313.0,842.4 314.0,834.6 315.0,827.2 316.0,820.5 317.0,814.9 318.0,810.8 319.0,808.6 320.0,808.6 321.0,810.9 322.0,815.3 323.0,821.4 324.0,829.1 325.0,838.0 326.0,847.9 327.0,858.5 328.0,869.5 329.0,880.7 330.0,891.8 331.0,902.5 332.0,912.6 333.0,921.7 334.0,929.6 335.0,936.1 336.0,940.9 337.0,943.6 338.0,944.1 339.0,941.9 340.0,937.3 341.0,930.6 342.0,922.2 343.0,912.3 344.0,901.3 345.0,889.5 346.0,877.2 347.0,864.8 348.0,852.6 349.0,841.0 350.0,830.1 351.0,820.5 352.0,812.4 353.0,806.1 354.0,802.0 355.0,800.3 356.0,800.8 357.0,802.4 358.0,805.0 359.0,808.5 360.0,812.9 361.0,818.1 362.0,823.9 363.0,830.3 364.0,837.3 365.0,844.6 366.0,852.3 367.0,860.2 368.0,868.3 369.0,876.4 370.0,884.5 371.0,892.5 372.0,900.3 373.0,907.8 374.0,915.0 375.0,921.7 376.0,927.8 377.0,933.3 378.0,938.1 379.0,942.1 380.0,945.2 381.0,947.3 382.0,948.1 383.0,948.1 384.0,946.1 385.0,942.6 386.0,937.8 387.0,932.0 388.0,925.3 389.0,918.1 390.0,910.6 391.0,902.9 392.0,895.4 393.0,888.4 394.0,881.9 395.0,876.3 396.0,871.9 397.0,868.8 398.0,866.9 399.0,865.5 400.0,864.2 401.0,862.3 402.0,858.6 403.0,851.6 404.0,842.3 405.0,831.6 406.0,820.5 407.0,810.0 408.0,800.8 409.0,794.1 410.0,790.8 411.0,791.9 412.0,797.2 413.0,805.4 414.0,814.9 415.0,824.0 416.0,831.2 417.0,835.1 418.0,834.9 419.0,833.3 420.0,830.7 421.0,827.3 422.0,823.5 423.0,819.5 424.0,815.6 425.0,812.2 426.0,809.5 427.0,807.8 428.0,807.3 429.0,808.6 430.0,811.3 431.0,815.4 432.0,820.6 433.0,826.7 434.0,833.4 435.0,840.6 436.0,847.9 437.0,855.1 438.0,862.1 439.0,868.6 440.0,874.4 441.0,879.2 442.0,882.8 443.0,884.9 444.0,885.4 445.0,883.3 446.0,878.7 447.0,872.4 448.0,865.1 449.0,857.5 450.0,850.5 451.0,844.6 452.0,840.7 453.0,839.4 454.0,841.0 455.0,844.8 456.0,849.9 457.0,855.5 458.0,861.0 459.0,865.5 460.0,868.3 461.0,868.7 462.0,867.6 463.0,865.8 464.0,863.4 465.0,861.1 466.0,859.1 467.0,857.8 468.0,857.7 469.0,859.0 470.0,861.5 471.0,865.1 472.0,869.7 473.0,875.0 474.0,881.0 475.0,887.4 476.0,894.1 477.0,900.9 478.0,907.7 479.0,914.3 480.0,920.6 481.0,926.3 482.0,931.4 483.0,935.6 484.0,938.9 485.0,940.9 486.0,941.9 487.0,942.8 488.0,943.5 489.0,944.2 490.0,944.8 491.0,945.2 492.0,945.5 493.0,945.6 494.0,945.0 495.0,943.5 496.0,941.0 497.0,937.8 498.0,934.1 499.0,929.8 500.0,925.3 501.0,920.7 502.0,916.0 503.0,911.5 504.0,907.2 505.0,903.4 506.0,900.2 507.0,897.6 508.0,896.0 509.0,895.3 510.0,895.3 511.0,895.3 512.0,895.3 513.0,893.4 514.0,889.0 515.0,882.7 516.0,875.2 517.0,867.1 518.0,859.2 519.0,852.1 520.0,846.4 521.0,843.0 522.0,842.4 523.0,845.4 524.0,851.1 525.0,857.9 526.0,864.6 527.0,869.6 528.0,871.6 529.0,869.9 530.0,865.5 531.0,859.5 532.0,852.9 533.0,846.9 534.0,842.5 535.0,840.8 536.0,842.8 537.0,847.9 538.0,855.0 539.0,863.0 540.0,870.8 541.0,877.3 542.0,881.3 543.0,881.6 544.0,877.4 545.0,869.5 546.0,859.0 547.0,846.8 548.0,834.2 549.0,822.0 550.0,811.5 551.0,803.6 552.0,799.4 553.0,799.9 554.0,804.7 555.0,812.5 556.0,821.5 557.0,830.4 558.0,837.7 559.0,841.8 560.0,841.9 561.0,840.3 562.0,837.8 563.0,834.5 564.0,831.1 565.0,827.8 566.0,825.0 567.0,823.2 568.0,822.7 569.0,823.8 570.0,826.1 571.0,829.5 572.0,833.7 573.0,838.6 574.0,844.0 575.0,849.5 576.0,855.0 577.0,860.3 578.0,865.2 579.0,869.4 580.0,872.8 581.0,875.0 582.0,876.0 583.0,876.4 584.0,876.7 585.0,877.7 586.0,881.1 587.0,886.7 588.0,894.0 589.0,902.4 590.0,911.6 591.0,920.9 592.0,929.9 593.0,938.1 594.0,944.9 595.0,948.1 596.0,948.1 597.0,948.1 598.0,948.1 599.0,948.1 600.0,947.9 601.0,945.2 602.0,942.1 603.0,938.6 604.0,934.9 605.0,931.0 606.0,927.0 607.0,923.0 608.0,919.1 609.0,915.4 610.0,911.9 611.0,908.7 612.0,906.0 613.0,903.8 614.0,902.2 615.0,901.1 616.0,900.3 617.0,899.4 618.0,898.3 619.0,896.1 620.0,892.1 621.0,886.6 622.0,879.9 623.0,872.4 624.0,864.5 625.0,856.5 626.0,848.7 627.0,841.5 628.0,835.4 629.0,830.5 630.0,827.3 631.0,826.2 632.0,827.7 633.0,831.8 634.0,837.6 635.0,844.5 636.0,851.9 637.0,858.8 638.0,864.6 639.0,868.7 640.0,870.2 641.0,868.9 642.0,865.5 643.0,860.6 644.0,854.8 645.0,848.6 646.0,842.6 647.0,837.6 648.0,834.0 649.0,832.5 650.0,833.5 651.0,836.6 652.0,841.7 653.0,848.4 654.0,856.3 655.0,865.2 656.0,874.8 657.0,884.7 658.0,894.7 659.0,904.5 660.0,913.6 661.0,921.9 662.0,928.9 663.0,934.5 664.0,938.3 665.0,940.0 666.0,937.6 667.0,928.9 668.0,915.4 669.0,898.8 670.0,880.8 671.0,863.1 672.0,847.4 673.0,835.4 674.0,828.8 675.0,826.9 676.0,825.2 677.0,823.8 678.0,822.5 679.0,821.4 680.0,820.5 681.0,819.8 682.0,819.4 683.0,819.2 684.0,819.7 685.0,821.8 686.0,825.4 687.0,830.5 688.0,836.8 689.0,844.0 690.0,852.1 691.0,860.9 692.0,870.1 693.0,879.5 694.0,889.0 695.0,898.5 696.0,907.6 697.0,916.3 698.0,924.3 699.0,931.5 700.0,937.7 701.0,942.6 702.0,946.1 703.0,948.1 704.0,948.1 705.0,947.4 706.0,945.7 707.0,943.3 708.0,940.7 709.0,937.9 710.0,935.3 711.0,932.9 712.0,931.2 713.0,930.3 714.0,930.2 715.0,930.2 716.0,930.2 717.0,930.2 718.0,929.5 719.0,924.4 720.0,914.9 721.0,902.0 722.0,886.6 723.0,869.7 724.0,851.9 725.0,834.4 726.0,818.0 727.0,803.5 728.0,791.9 729.0,784.0 730.0,780.8 731.0,782.2 732.0,786.8 733.0,793.8 734.0,802.6 735.0,812.6 736.0,823.0 737.0,833.3 738.0,842.6 739.0,850.5 740.0,856.1 741.0,858.8 742.0,858.1 743.0,853.8 744.0,846.9 745.0,838.0 746.0,828.1 747.0,817.7 748.0,807.8 749.0,799.1 750.0,792.4 751.0,788.5 752.0,788.1 753.0,791.4 754.0,797.8 755.0,806.7 756.0,817.5 757.0,829.6 758.0,842.4 759.0,855.3 760.0,867.7 761.0,878.9 762.0,888.5 763.0,895.7 764.0,900.0 765.0,900.9 766.0,900.3 767.0,899.1 768.0,897.5 769.0,895.8 770.0,894.0 771.0,892.5 772.0,891.3 773.0,890.7 774.0,890.3 775.0,889.8 776.0,887.6 777.0,882.2 778.0,874.4 779.0,864.7 780.0,853.8 781.0,842.3 782.0,830.8 783.0,820.0 784.0,810.5 785.0,802.9 786.0,797.9 787.0,796.1 788.0,797.5 789.0,801.3 790.0,807.4 791.0,815.3 792.0,824.8 793.0,835.6 794.0,847.3 795.0,859.7 796.0,872.4 797.0,885.1 798.0,897.6 799.0,909.5 800.0,920.5 801.0,930.2 802.0,938.5 803.0,944.9 804.0,948.1 805.0,948.1 806.0,948.1 807.0,948.1 808.0,948.1 809.0,947.7 810.0,946.4 811.0,945.2 812.0,944.4 813.0,944.2 814.0,944.2 815.0,944.2 816.0,944.2 817.0,944.2 818.0,944.2 819.0,943.8 820.0,941.7 821.0,937.9 822.0,932.6 823.0,926.0 824.0,918.4 825.0,909.9 826.0,900.8 827.0,891.3 828.0,881.6 829.0,872.0 830.0,862.6 831.0,853.7 832.0,845.4 833.0,838.1 834.0,831.9 835.0,827.0 836.0,823.7 837.0,822.1 838.0,823.3 839.0,829.1 840.0,838.6 841.0,850.8 842.0,864.7 843.0,879.1 844.0,893.0 845.0,905.4 846.0,915.3 847.0,921.5 848.0,923.1 849.0,919.1 850.0,911.3 851.0,902.0 852.0,893.8 853.0,888.8 854.0,888.8 855.0,891.2 856.0,894.6 857.0,897.7 858.0,899.4 859.0,898.6 860.0,895.1 861.0,889.3 862.0,881.7 863.0,872.6 864.0,862.5 865.0,851.8 866.0,840.8 867.0,830.1 868.0,819.9 869.0,810.7 870.0,802.9 871.0,796.9 872.0,793.2 873.0,792.0 874.0,794.3 875.0,799.8 876.0,807.9 877.0,817.8 878.0,828.8 879.0,840.2 880.0,851.3 881.0,861.4 882.0,869.7 883.0,875.7 884.0,878.4 885.0,878.9 886.0,879.1 887.0,879.4 888.0,879.7 889.0,881.5 890.0,887.1 891.0,895.4 892.0,905.1 893.0,914.8 894.0,923.1 895.0,928.6 896.0,930.1 897.0,926.5 898.0,918.7 899.0,907.6 900.0,894.2 901.0,879.6 902.0,864.6 903.0,850.3 904.0,837.7 905.0,827.8 906.0,821.6 907.0,820.0 908.0,823.0 909.0,829.9 910.0,839.7 911.0,851.8 912.0,865.5 913.0,879.9 914.0,894.4 915.0,908.2 916.0,920.5 917.0,930.6 918.0,937.7 919.0,941.2 920.0,941.1 921.0,939.9 922.0,938.4 923.0,937.4 924.0,937.4 925.0,938.8 926.0,940.8 927.0,942.8 928.0,944.1 929.0,943.9 930.0,942.3 931.0,939.3 932.0,935.1 933.0,929.9 934.0,923.7 935.0,916.7 936.0,909.1 937.0,901.0 938.0,892.5 939.0,883.8 940.0,875.0 941.0,866.3 942.0,857.8 943.0,849.6 944.0,841.9 945.0,834.8 946.0,828.4 947.0,823.0 948.0,818.5 949.0,815.3 950.0,813.4 951.0,812.9 952.0,813.9 953.0,816.1 954.0,819.2 955.0,823.0 956.0,827.3 957.0,831.7 958.0,836.0 959.0,840.0 960.0,843.5 961.0,846.0 962.0,847.5 963.0,847.7 964.0,846.9 965.0,845.5 966.0,843.4 967.0,841.0 968.0,838.4 969.0,835.8 970.0,833.3 971.0,831.1 972.0,829.4 973.0,828.3 974.0,828.0 975.0,828.4 976.0,829.0 977.0,829.8 978.0,830.5 979.0,831.0 980.0,830.7 981.0,829.1 982.0,826.3 983.0,822.5 984.0,817.9 985.0,812.7 986.0,807.1 987.0,801.4 988.0,795.7 989.0,790.4 990.0,785.5 991.0,781.3 992.0,778.1 993.0,775.9 994.0,775.2 995.0,776.6 996.0,780.6 997.0,786.4 998.0,793.7 999.0,801.9 1000.0,810.3 1001.0,818.6 1002.0,826.1 1003.0,832.3 1004.0,836.7 1005.0,838.6 1006.0,838.0 1007.0,835.5 1008.0,831.8 1009.0,827.4 1010.0,823.0 1011.0,819.2 1012.0,816.6 1013.0,815.7 1014.0,818.2 1015.0,824.3 1016.0,833.4 1017.0,844.8 1018.0,857.9 1019.0,872.0 1020.0,886.5 1021.0,900.6 1022.0,913.9 1023.0,925.5 1024.0,934.8 1025.0,941.3 1026.0,944.1 1027.0,943.9 1028.0,942.8 1029.0,941.4 1030.0,940.2 1031.0,939.5 1032.0,939.7 1033.0,940.5 1034.0,941.5 1035.0,942.6 1036.0,943.6 1037.0,944.2 1038.0,943.9 1039.0,940.6 1040.0,934.6 1041.0,926.3 1042.0,916.2 1043.0,904.9 1044.0,892.7 1045.0,880.3 1046.0,868.0 1047.0,856.4 1048.0,846.1 1049.0,837.4 1050.0,830.9 1051.0,827.0 1052.0,826.3 1053.0,828.3 1054.0,832.3 1055.0,837.9 1056.0,844.6 1057.0,851.9 1058.0,859.4 1059.0,866.4 1060.0,872.6 1061.0,877.5 1062.0,880.6 1063.0,881.3 1064.0,879.7 1065.0,876.1 1066.0,871.1 1067.0,865.3 1068.0,859.4 1069.0,853.8 1070.0,849.2 1071.0,846.1 1072.0,845.1 1073.0,848.2 1074.0,854.8 1075.0,863.0 1076.0,870.5 1077.0,875.2 1078.0,875.5 1079.0,873.1 1080.0,869.3 1081.0,865.0 1082.0,861.3 1083.0,859.2 1084.0,858.7 1085.0,858.4 1086.0,858.0 1087.0,857.0 1088.0,852.2 1089.0,843.4 1090.0,831.6 1091.0,817.7 1092.0,802.4 1093.0,786.8 1094.0,771.6 1095.0,757.7 1096.0,746.0 1097.0,737.3 1098.0,732.5 1099.0,732.4 1100.0,736.2 1101.0,743.4 1102.0,753.3 1103.0,765.4 1104.0,779.3 1105.0,794.3 1106.0,809.9 1107.0,825.6 1108.0,840.8 1109.0,855.1 1110.0,867.8 1111.0,878.4 1112.0,886.5 1113.0,891.3 1114.0,892.6 1115.0,892.3 1116.0,891.9 1117.0,891.4 1118.0,891.2 1119.0,891.7 1120.0,893.0 1121.0,895.2 1122.0,897.9 1123.0,901.3 1124.0,905.1 1125.0,909.2 1126.0,913.5 1127.0,918.0 1128.0,922.5 1129.0,926.9 1130.0,931.0 1131.0,934.9 1132.0,938.3 1133.0,941.2 1134.0,943.5 1135.0,945.0 1136.0,945.7 1137.0,945.3 1138.0,944.0 1139.0,942.6 1140.0,941.6 1141.0,941.7 1142.0,942.9 1143.0,944.3 1144.0,945.5 1145.0,945.4 1146.0,942.6 1147.0,937.1 1148.0,929.3 1149.0,919.7 1150.0,908.6 1151.0,896.5 1152.0,883.9 1153.0,871.1 1154.0,858.7 1155.0,846.9 1156.0,836.4 1157.0,827.4 1158.0,820.5 1159.0,816.0 1160.0,814.4 1161.0,815.4 1162.0,818.2 1163.0,822.2 1164.0,827.2 1165.0,832.8 1166.0,838.4 1167.0,843.7 1168.0,849.5 1169.0,856.6 1170.0,864.7 1171.0,873.4 1172.0,882.3 1173.0,891.1 1174.0,899.5 1175.0,907.0 1176.0,913.4 1177.0,918.3 1178.0,921.2 1179.0,922.0 1180.0,920.4 1181.0,916.6 1182.0,910.8 1183.0,902.9 1184.0,893.2 1185.0,881.7 1186.0,868.5 1187.0,853.6 1188.0,837.2 1189.0,819.5 1190.0,800.3 1191.0,780.0 1191.0,1124.3 1190.0,1124.3 1189.0,1124.3 1188.0,1124.3 1187.0,1124.3 1186.0,1104.0 1185.0,1084.8 1184.0,1067.1 1183.0,1050.7 1182.0,1035.8 1181.0,1022.6 1180.0,1011.1 1179.0,1004.8 1178.0,1013.2 1177.0,1022.0 1176.0,1030.9 1175.0,1039.6 1174.0,1047.7 1173.0,1054.8 1172.0,1060.6 1171.0,1065.9 1170.0,1071.5 1169.0,1077.1 1168.0,1082.1 1167.0,1086.1 1166.0,1088.9 1165.0,1089.9 1164.0,1089.9 1163.0,1089.9 1162.0,1089.9 1161.0,1089.9 1160.0,1089.9 1159.0,1089.9 1158.0,1089.9 1157.0,1089.9 1156.0,1089.9 1155.0,1088.3 1154.0,1083.8 1153.0,1076.9 1152.0,1067.9 1151.0,1057.4 1150.0,1045.6 1149.0,1033.2 1148.0,1020.4 1147.0,1007.8 1146.0,995.7 1145.0,984.6 1144.0,975.0 1143.0,967.2 1142.0,966.1 1141.0,966.1 1140.0,966.1 1139.0,966.1 1138.0,966.1 1137.0,966.1 1136.0,969.4 1135.0,973.3 1134.0,977.4 1133.0,981.8 1132.0,986.3 1131.0,990.8 1130.0,995.1 1129.0,999.2 1128.0,1003.0 1127.0,1006.4 1126.0,1009.1 1125.0,1011.3 1124.0,1012.6 1123.0,1013.1 1122.0,1013.1 1121.0,1013.1 1120.0,1013.1 1119.0,1013.1 1118.0,1013.1 1117.0,1017.8 1116.0,1025.9 1115.0,1036.5 1114.0,1049.2 1113.0,1063.5 1112.0,1078.7 1111.0,1094.4 1110.0,1110.0 1109.0,1125.0 1108.0,1138.9 1107.0,1151.0 1106.0,1160.9 1105.0,1168.1 1104.0,1171.9 1103.0,1171.9 1102.0,1171.9 1101.0,1171.9 1100.0,1171.9 1099.0,1171.9 1098.0,1171.9 1097.0,1171.9 1096.0,1171.9 1095.0,1171.9 1094.0,1171.8 1093.0,1167.0 1092.0,1158.3 1091.0,1146.6 1090.0,1132.7 1089.0,1117.5 1088.0,1101.9 1087.0,1086.6 1086.0,1072.7 1085.0,1060.9 1084.0,1052.1 1083.0,1047.3 1082.0,1046.3 1081.0,1045.9 1080.0,1045.6 1079.0,1049.5 1078.0,1056.1 1077.0,1059.2 1076.0,1059.2 1075.0,1059.2 1074.0,1059.2 1073.0,1059.2 1072.0,1059.2 1071.0,1059.2 1070.0,1059.2 1069.0,1059.2 1068.0,1059.2 1067.0,1058.2 1066.0,1055.1 1065.0,1050.5 1064.0,1044.9 1063.0,1044.9 1062.0,1052.4 1061.0,1059.7 1060.0,1066.4 1059.0,1072.0 1058.0,1076.0 1057.0,1078.0 1056.0,1078.0 1055.0,1078.0 1054.0,1078.0 1053.0,1078.0 1052.0,1078.0 1051.0,1078.0 1050.0,1078.0 1049.0,1078.0 1048.0,1078.0 1047.0,1077.3 1046.0,1073.4 1045.0,1066.9 1044.0,1058.2 1043.0,1047.9 1042.0,1036.3 1041.0,1024.0 1040.0,1011.6 1039.0,999.4 1038.0,988.1 1037.0,978.0 1036.0,969.7 1035.0,966.1 1034.0,966.1 1033.0,966.1 1032.0,966.1 1031.0,966.1 1030.0,966.1 1029.0,969.5 1028.0,978.8 1027.0,990.4 1026.0,1003.7 1025.0,1017.8 1024.0,1032.3 1023.0,1046.4 1022.0,1059.5 1021.0,1070.9 1020.0,1080.0 1019.0,1086.1 1018.0,1088.6 1017.0,1088.6 1016.0,1088.6 1015.0,1088.6 1014.0,1088.6 1013.0,1088.6 1012.0,1088.6 1011.0,1088.6 1010.0,1088.6 1009.0,1088.6 1008.0,1087.7 1007.0,1085.1 1006.0,1085.7 1005.0,1094.0 1004.0,1102.4 1003.0,1110.6 1002.0,1117.9 1001.0,1123.7 1000.0,1127.7 999.0,1129.1 998.0,1129.1 997.0,1129.1 996.0,1129.1 995.0,1129.1 994.0,1129.1 993.0,1129.1 992.0,1129.1 991.0,1129.1 990.0,1129.1 989.0,1128.4 988.0,1126.2 987.0,1123.0 986.0,1118.8 985.0,1113.9 984.0,1108.6 983.0,1102.9 982.0,1097.2 981.0,1091.6 980.0,1086.4 979.0,1081.8 978.0,1078.0 977.0,1076.3 976.0,1076.3 975.0,1076.3 974.0,1076.3 973.0,1076.3 972.0,1076.3 971.0,1076.3 970.0,1076.3 969.0,1076.0 968.0,1074.9 967.0,1073.2 966.0,1071.0 965.0,1068.5 964.0,1065.9 963.0,1068.3 962.0,1072.6 961.0,1077.0 960.0,1081.3 959.0,1085.1 958.0,1088.2 957.0,1090.4 956.0,1091.4 955.0,1091.4 954.0,1091.4 953.0,1091.4 952.0,1091.4 951.0,1091.4 950.0,1091.4 949.0,1091.4 948.0,1091.4 947.0,1091.4 946.0,1090.9 945.0,1089.0 944.0,1085.8 943.0,1081.3 942.0,1075.9 941.0,1069.5 940.0,1062.4 939.0,1054.7 938.0,1046.5 937.0,1038.0 936.0,1029.3 935.0,1020.5 934.0,1011.8 933.0,1003.3 932.0,995.2 931.0,987.6 930.0,980.6 929.0,974.4 928.0,969.2 927.0,966.9 926.0,966.9 925.0,966.9 924.0,966.9 923.0,966.9 922.0,973.7 921.0,983.8 920.0,996.1 919.0,1009.9 918.0,1024.4 917.0,1038.8 916.0,1052.5 915.0,1064.6 914.0,1074.4 913.0,1081.3 912.0,1084.3 911.0,1084.3 910.0,1084.3 909.0,1084.3 908.0,1084.3 907.0,1084.3 906.0,1084.3 905.0,1084.3 904.0,1084.3 903.0,1084.3 902.0,1082.7 901.0,1076.5 900.0,1066.6 899.0,1054.0 898.0,1039.7 897.0,1024.7 896.0,1010.1 895.0,1017.2 894.0,1022.8 893.0,1024.6 892.0,1024.9 891.0,1025.2 890.0,1025.4 889.0,1025.9 888.0,1028.6 887.0,1034.6 886.0,1042.9 885.0,1053.0 884.0,1064.1 883.0,1075.5 882.0,1086.5 881.0,1096.4 880.0,1104.5 879.0,1110.0 878.0,1112.3 877.0,1112.3 876.0,1112.3 875.0,1112.3 874.0,1112.3 873.0,1112.3 872.0,1112.3 871.0,1112.3 870.0,1112.3 869.0,1112.3 868.0,1111.1 867.0,1107.4 866.0,1101.4 865.0,1093.6 864.0,1084.4 863.0,1074.2 862.0,1063.5 861.0,1052.5 860.0,1041.8 859.0,1031.7 858.0,1022.6 857.0,1015.5 856.0,1015.5 855.0,1015.5 854.0,1015.5 853.0,1015.5 852.0,1015.5 851.0,1015.5 850.0,1015.5 849.0,1015.5 848.0,1025.2 847.0,1039.6 846.0,1053.5 845.0,1065.7 844.0,1075.2 843.0,1081.0 842.0,1082.2 841.0,1082.2 840.0,1082.2 839.0,1082.2 838.0,1082.2 837.0,1082.2 836.0,1082.2 835.0,1082.2 834.0,1082.2 833.0,1082.2 832.0,1080.6 831.0,1077.3 830.0,1072.4 829.0,1066.2 828.0,1058.9 827.0,1050.6 826.0,1041.7 825.0,1032.3 824.0,1022.7 823.0,1013.0 822.0,1003.5 821.0,994.4 820.0,985.9 819.0,978.3 818.0,971.7 817.0,966.4 816.0,966.1 815.0,966.1 814.0,966.1 813.0,966.1 812.0,966.1 811.0,966.1 810.0,966.1 809.0,966.1 808.0,966.1 807.0,966.1 806.0,974.1 805.0,983.8 804.0,994.8 803.0,1006.7 802.0,1019.2 801.0,1031.9 800.0,1044.6 799.0,1057.0 798.0,1068.7 797.0,1079.5 796.0,1089.0 795.0,1096.9 794.0,1103.0 793.0,1106.8 792.0,1108.2 791.0,1108.2 790.0,1108.2 789.0,1108.2 788.0,1108.2 787.0,1108.2 786.0,1108.2 785.0,1108.2 784.0,1108.2 783.0,1108.2 782.0,1106.4 781.0,1101.4 780.0,1093.8 779.0,1084.3 778.0,1073.5 777.0,1062.0 776.0,1050.5 775.0,1039.6 774.0,1029.9 773.0,1022.1 772.0,1016.7 771.0,1014.5 770.0,1014.0 769.0,1013.6 768.0,1013.0 767.0,1015.8 766.0,1025.4 765.0,1036.6 764.0,1049.0 763.0,1061.9 762.0,1074.7 761.0,1086.8 760.0,1097.6 759.0,1106.5 758.0,1112.9 757.0,1116.2 756.0,1116.2 755.0,1116.2 754.0,1116.2 753.0,1116.2 752.0,1116.2 751.0,1116.2 750.0,1116.2 749.0,1116.2 748.0,1116.2 747.0,1115.8 746.0,1111.9 745.0,1105.2 744.0,1096.5 743.0,1086.6 742.0,1076.2 741.0,1081.3 740.0,1091.7 739.0,1101.7 738.0,1110.5 737.0,1117.5 736.0,1122.1 735.0,1123.5 734.0,1123.5 733.0,1123.5 732.0,1123.5 731.0,1123.5 730.0,1123.5 729.0,1123.5 728.0,1123.5 727.0,1123.5 726.0,1123.5 725.0,1120.3 724.0,1112.4 723.0,1100.8 722.0,1086.3 721.0,1069.9 720.0,1052.4 719.0,1034.6 718.0,1017.7 717.0,1002.3 716.0,989.4 715.0,979.9 714.0,974.8 713.0,974.1 712.0,974.1 711.0,974.1 710.0,974.1 709.0,974.0 708.0,973.1 707.0,971.4 706.0,969.0 705.0,966.6 704.0,972.8 703.0,980.0 702.0,988.0 701.0,996.7 700.0,1005.8 699.0,1015.3 698.0,1024.8 697.0,1034.2 696.0,1043.4 695.0,1052.2 694.0,1060.3 693.0,1067.5 692.0,1073.8 691.0,1078.9 690.0,1082.5 689.0,1084.6 688.0,1085.1 687.0,1085.1 686.0,1085.1 685.0,1085.1 684.0,1085.1 683.0,1085.1 682.0,1085.1 681.0,1085.1 680.0,1085.1 679.0,1085.1 678.0,1084.9 677.0,1084.5 676.0,1083.8 675.0,1082.9 674.0,1081.8 673.0,1080.5 672.0,1079.1 671.0,1077.4 670.0,1075.5 669.0,1068.9 668.0,1056.9 667.0,1041.2 666.0,1023.5 665.0,1005.5 664.0,999.8 663.0,1009.6 662.0,1019.6 661.0,1029.5 660.0,1039.1 659.0,1048.0 658.0,1055.9 657.0,1062.6 656.0,1067.7 655.0,1070.8 654.0,1071.8 653.0,1071.8 652.0,1071.8 651.0,1071.8 650.0,1071.8 649.0,1071.8 648.0,1071.8 647.0,1071.8 646.0,1071.8 645.0,1071.8 644.0,1070.3 643.0,1066.7 642.0,1061.7 641.0,1055.7 640.0,1059.8 639.0,1066.7 638.0,1072.5 637.0,1076.6 636.0,1078.1 635.0,1078.1 634.0,1078.1 633.0,1078.1 632.0,1078.1 631.0,1078.1 630.0,1078.1 629.0,1078.1 628.0,1078.1 627.0,1078.1 626.0,1077.0 625.0,1073.8 624.0,1068.9 623.0,1062.8 622.0,1055.6 621.0,1047.8 620.0,1039.8 619.0,1031.9 618.0,1024.4 617.0,1017.7 616.0,1012.2 615.0,1008.2 614.0,1006.0 613.0,1004.9 612.0,1004.0 611.0,1003.2 610.0,1002.1 609.0,1000.5 608.0,998.3 607.0,995.6 606.0,992.4 605.0,988.9 604.0,985.2 603.0,981.3 602.0,977.3 601.0,973.3 600.0,969.4 599.0,966.1 598.0,966.2 597.0,974.4 596.0,983.4 595.0,992.7 594.0,1001.9 593.0,1010.3 592.0,1017.6 591.0,1023.2 590.0,1026.6 589.0,1027.6 588.0,1027.9 587.0,1028.3 586.0,1029.3 585.0,1031.5 584.0,1034.9 583.0,1039.1 582.0,1044.0 581.0,1049.3 580.0,1054.8 579.0,1060.3 578.0,1065.7 577.0,1070.6 576.0,1074.8 575.0,1078.2 574.0,1080.5 573.0,1081.6 572.0,1081.6 571.0,1081.6 570.0,1081.6 569.0,1081.6 568.0,1081.6 567.0,1081.6 566.0,1081.6 565.0,1081.6 564.0,1081.6 563.0,1081.1 562.0,1079.3 561.0,1082.8 560.0,1091.8 559.0,1099.6 558.0,1104.4 557.0,1104.9 556.0,1104.9 555.0,1104.9 554.0,1104.9 553.0,1104.9 552.0,1104.9 551.0,1104.9 550.0,1104.9 549.0,1104.9 548.0,1104.9 547.0,1100.7 546.0,1092.8 545.0,1082.3 544.0,1070.1 543.0,1057.5 542.0,1056.4 541.0,1061.5 540.0,1063.5 539.0,1063.5 538.0,1063.5 537.0,1063.5 536.0,1063.5 535.0,1063.5 534.0,1063.5 533.0,1063.5 532.0,1063.5 531.0,1063.5 530.0,1061.8 529.0,1057.4 528.0,1058.9 527.0,1061.9 526.0,1061.9 525.0,1061.9 524.0,1061.9 523.0,1061.9 522.0,1061.9 521.0,1061.9 520.0,1061.9 519.0,1061.9 518.0,1061.9 517.0,1061.3 516.0,1057.9 515.0,1052.2 514.0,1045.1 513.0,1037.2 512.0,1029.1 511.0,1021.6 510.0,1015.3 509.0,1010.9 508.0,1009.0 507.0,1009.0 506.0,1009.0 505.0,1009.0 504.0,1008.3 503.0,1006.7 502.0,1004.1 501.0,1000.9 500.0,997.1 499.0,992.8 498.0,988.3 497.0,983.6 496.0,979.0 495.0,974.5 494.0,970.2 493.0,966.5 492.0,966.1 491.0,966.1 490.0,966.1 489.0,966.1 488.0,968.7 487.0,972.9 486.0,978.0 485.0,983.7 484.0,990.0 483.0,996.6 482.0,1003.4 481.0,1010.2 480.0,1016.9 479.0,1023.3 478.0,1029.3 477.0,1034.6 476.0,1039.2 475.0,1042.8 474.0,1045.3 473.0,1046.6 472.0,1046.6 471.0,1046.6 470.0,1046.6 469.0,1046.6 468.0,1046.6 467.0,1046.6 466.0,1046.6 465.0,1046.6 464.0,1046.6 463.0,1046.5 462.0,1048.8 461.0,1054.4 460.0,1059.5 459.0,1063.3 458.0,1064.9 457.0,1064.9 456.0,1064.9 455.0,1064.9 454.0,1064.9 453.0,1064.9 452.0,1064.9 451.0,1064.9 450.0,1064.9 449.0,1064.9 448.0,1063.6 447.0,1059.7 446.0,1053.8 445.0,1046.8 444.0,1039.2 443.0,1042.2 442.0,1049.2 441.0,1056.4 440.0,1063.7 439.0,1070.9 438.0,1077.6 437.0,1083.7 436.0,1088.9 435.0,1093.0 434.0,1095.7 433.0,1097.0 432.0,1097.0 431.0,1097.0 430.0,1097.0 429.0,1097.0 428.0,1097.0 427.0,1097.0 426.0,1097.0 425.0,1097.0 424.0,1097.0 423.0,1096.5 422.0,1094.8 421.0,1092.1 420.0,1088.7 419.0,1089.4 418.0,1098.9 417.0,1107.1 416.0,1112.4 415.0,1113.5 414.0,1113.5 413.0,1113.5 412.0,1113.5 411.0,1113.5 410.0,1113.5 409.0,1113.5 408.0,1113.5 407.0,1113.5 406.0,1113.5 405.0,1110.2 404.0,1103.5 403.0,1094.3 402.0,1083.8 401.0,1072.7 400.0,1062.0 399.0,1052.7 398.0,1045.7 397.0,1042.0 396.0,1040.1 395.0,1038.8 394.0,1037.4 393.0,1035.5 392.0,1032.4 391.0,1028.0 390.0,1022.4 389.0,1015.9 388.0,1008.9 387.0,1001.4 386.0,993.7 385.0,986.2 384.0,979.0 383.0,972.3 382.0,971.0 381.0,976.5 380.0,982.6 379.0,989.3 378.0,996.5 377.0,1004.0 376.0,1011.8 375.0,1019.8 374.0,1027.9 373.0,1036.0 372.0,1044.1 371.0,1052.0 370.0,1059.7 369.0,1067.0 368.0,1074.0 367.0,1080.4 366.0,1086.2 365.0,1091.4 364.0,1095.8 363.0,1099.3 362.0,1101.9 361.0,1103.5 360.0,1104.0 359.0,1104.0 358.0,1104.0 357.0,1104.0 356.0,1104.0 355.0,1104.0 354.0,1104.0 353.0,1104.0 352.0,1104.0 351.0,1104.0 350.0,1102.3 349.0,1098.2 348.0,1091.9 347.0,1083.8 346.0,1074.2 345.0,1063.3 344.0,1051.7 343.0,1039.5 342.0,1027.1 341.0,1014.8 340.0,1003.0 339.0,992.0 338.0,982.6 337.0,991.7 336.0,1001.8 335.0,1012.5 334.0,1023.6 333.0,1034.8 332.0,1045.8 331.0,1056.4 330.0,1066.3 329.0,1075.2 328.0,1082.9 327.0,1089.0 326.0,1093.4 325.0,1095.7 324.0,1095.7 323.0,1095.7 322.0,1095.7 321.0,1095.7 320.0,1095.7 319.0,1095.7 318.0,1095.7 317.0,1095.7 316.0,1095.7 315.0,1095.7 314.0,1093.5 313.0,1089.4 312.0,1083.8 311.0,1077.1 310.0,1069.7 309.0,1061.9 308.0,1054.1 307.0,1062.0 306.0,1070.8 305.0,1076.6 304.0,1077.5 303.0,1077.5 302.0,1077.5 301.0,1077.5 300.0,1077.5 299.0,1077.5 298.0,1077.5 297.0,1077.5 296.0,1077.5 295.0,1077.5 294.0,1071.7 293.0,1060.8 292.0,1047.3 291.0,1033.6 290.0,1022.4 289.0,1018.3 288.0,1018.3 287.0,1018.3 286.0,1018.3 285.0,1018.3 284.0,1018.3 283.0,1018.3 282.0,1018.3 281.0,1016.8 280.0,1014.0 279.0,1010.0 278.0,1005.1 277.0,999.5 276.0,993.4 275.0,987.0 274.0,980.6 273.0,974.4 272.0,973.5 271.0,982.0 270.0,991.4 269.0,1001.5 268.0,1012.0 267.0,1022.7 266.0,1033.3 265.0,1043.6 264.0,1053.2 263.0,1062.0 262.0,1069.6 261.0,1075.8 260.0,1080.4 259.0,1083.0 258.0,1083.3 257.0,1083.3 256.0,1083.3 255.0,1083.3 254.0,1083.3 253.0,1083.3 252.0,1083.3 251.0,1083.3 250.0,1083.3 249.0,1083.3 248.0,1078.7 247.0,1069.7 246.0,1058.3 245.0,1054.5 244.0,1054.5 243.0,1054.5 242.0,1054.5 241.0,1054.5 240.0,1054.5 239.0,1054.5 238.0,1054.5 237.0,1054.5 236.0,1054.5 235.0,1052.8 234.0,1046.4 233.0,1041.9 232.0,1056.7 231.0,1071.9 230.0,1086.8 229.0,1100.5 228.0,1112.2 227.0,1121.2 226.0,1126.5 225.0,1127.5 224.0,1127.5 223.0,1127.5 222.0,1127.5 221.0,1127.5 220.0,1127.5 219.0,1127.5 218.0,1127.5 217.0,1127.5 216.0,1127.5 215.0,1123.7 214.0,1116.7 213.0,1111.5 212.0,1111.5 211.0,1111.5 210.0,1111.5 209.0,1111.5 208.0,1111.5 207.0,1111.5 206.0,1111.5 205.0,1111.5 204.0,1111.5 203.0,1114.0 202.0,1116.6 201.0,1117.9 200.0,1117.9 199.0,1117.9 198.0,1117.9 197.0,1117.9 196.0,1117.9 195.0,1117.9 194.0,1117.9 193.0,1117.9 192.0,1117.9 191.0,1116.1 190.0,1109.5 189.0,1098.9 188.0,1085.4 187.0,1070.0 186.0,1053.8 185.0,1045.1 184.0,1056.4 183.0,1062.8 182.0,1062.8 181.0,1062.8 180.0,1062.8 179.0,1062.8 178.0,1062.8 177.0,1062.8 176.0,1062.8 175.0,1062.8 174.0,1062.8 173.0,1062.8 172.0,1059.1 171.0,1052.7 170.0,1044.0 169.0,1033.7 168.0,1022.3 167.0,1010.4 166.0,998.4 165.0,987.0 164.0,991.3 163.0,1002.6 162.0,1014.4 161.0,1026.5 160.0,1038.4 159.0,1049.9 158.0,1060.5 157.0,1069.8 156.0,1077.5 155.0,1083.2 154.0,1086.5 153.0,1086.9 152.0,1086.9 151.0,1086.9 150.0,1086.9 149.0,1086.9 148.0,1086.9 147.0,1086.9 146.0,1086.9 145.0,1086.9 144.0,1086.9 143.0,1082.8 142.0,1074.3 141.0,1062.9 140.0,1049.5 139.0,1058.4 138.0,1076.2 137.0,1089.7 136.0,1096.1 135.0,1096.1 134.0,1096.1 133.0,1096.1 132.0,1096.1 131.0,1096.1 130.0,1096.1 129.0,1096.1 128.0,1096.1 127.0,1096.1 126.0,1094.5 125.0,1088.4 124.0,1091.4 123.0,1103.6 122.0,1117.2 121.0,1132.3 120.0,1148.7 119.0,1166.2 118.0,1184.8 117.0,1204.3 116.0,1226.9 115.0,1263.1 114.0,1304.3 113.0,1304.3 112.0,1304.3 111.0,1304.3 110.0,1304.3 109.0,1304.3" fill="url(#gB)" stroke="none"/>
<clipPath id="vcB"><polygon points="106.0,1269.1 109.0,1269.1 111.0,1199.5 113.0,1161.5 115.0,1129.1 117.0,1100.7 119.0,1077.5 121.0,1060.2 123.0,1049.9 125.0,1047.6 127.0,1058.8 129.0,1074.8 131.0,1081.7 133.0,1063.8 135.0,1030.1 137.0,999.7 139.0,991.3 141.0,1004.2 143.0,1027.1 145.0,1051.8 147.0,1069.7 149.0,1073.1 151.0,1064.9 153.0,1049.6 155.0,1029.8 157.0,1008.2 159.0,987.4 161.0,972.1 163.0,972.1 165.0,972.1 167.0,972.1 169.0,983.5 171.0,1004.5 173.0,1025.6 175.0,1042.6 177.0,1051.7 179.0,1046.0 181.0,1023.4 183.0,999.9 185.0,992.3 187.0,1004.8 189.0,1029.3 191.0,1058.3 193.0,1084.2 195.0,1099.7 197.0,1100.1 199.0,1094.9 201.0,1089.7 203.0,1089.2 205.0,1092.4 207.0,1095.4 209.0,1093.7 211.0,1085.9 213.0,1078.7 215.0,1079.7 217.0,1092.6 219.0,1106.5 221.0,1109.1 223.0,1096.2 225.0,1073.3 227.0,1046.2 229.0,1020.7 231.0,1002.6 233.0,997.8 235.0,1009.6 237.0,1028.6 239.0,1042.7 241.0,1041.7 243.0,1030.2 245.0,1019.2 247.0,1020.1 249.0,1036.9 251.0,1058.0 253.0,1070.2 255.0,1067.6 257.0,1057.9 259.0,1043.1 261.0,1025.2 263.0,1006.0 265.0,987.4 267.0,972.1 269.0,972.1 271.0,972.1 273.0,972.1 275.0,972.1 277.0,972.2 279.0,983.5 281.0,994.7 283.0,1004.2 285.0,1010.4 287.0,1011.7 289.0,1010.7 291.0,1009.4 293.0,1009.6 295.0,1025.5 297.0,1050.0 299.0,1065.0 301.0,1059.0 303.0,1041.8 305.0,1025.3 307.0,1020.5 309.0,1026.2 311.0,1037.2 313.0,1050.9 315.0,1064.6 317.0,1075.7 319.0,1081.3 321.0,1079.3 323.0,1069.8 325.0,1054.9 327.0,1036.4 329.0,1016.4 331.0,996.8 333.0,979.6 335.0,972.1 337.0,972.1 339.0,972.1 341.0,972.1 343.0,988.0 345.0,1008.6 347.0,1030.7 349.0,1052.2 351.0,1070.6 353.0,1083.6 355.0,1088.8 357.0,1087.0 359.0,1081.4 361.0,1072.8 363.0,1061.8 365.0,1048.9 367.0,1034.9 369.0,1020.3 371.0,1005.8 373.0,992.1 375.0,979.6 377.0,972.1 379.0,972.1 381.0,972.1 383.0,972.1 385.0,972.1 387.0,972.1 389.0,982.8 391.0,996.5 393.0,1009.6 395.0,1020.4 397.0,1027.2 399.0,1030.1 401.0,1033.0 403.0,1042.6 405.0,1060.6 407.0,1080.1 409.0,1094.4 411.0,1096.4 413.0,1084.2 415.0,1067.5 417.0,1057.5 419.0,1059.1 421.0,1064.5 423.0,1071.5 425.0,1078.1 427.0,1082.1 429.0,1081.4 431.0,1075.2 433.0,1065.0 435.0,1052.6 437.0,1039.5 439.0,1027.3 441.0,1017.8 443.0,1012.6 445.0,1014.1 447.0,1023.9 449.0,1037.3 451.0,1049.0 453.0,1053.6 455.0,1048.8 457.0,1039.1 459.0,1030.1 461.0,1027.3 463.0,1029.9 465.0,1034.1 467.0,1037.0 469.0,1036.0 471.0,1030.5 473.0,1021.6 475.0,1010.4 477.0,998.2 479.0,986.2 481.0,975.4 483.0,972.1 485.0,972.1 487.0,972.1 489.0,972.1 491.0,972.1 493.0,972.1 495.0,972.1 497.0,972.1 499.0,972.2 501.0,980.5 503.0,988.7 505.0,996.0 507.0,1001.2 509.0,1003.3 511.0,1003.3 513.0,1005.0 515.0,1014.6 517.0,1028.7 519.0,1042.2 521.0,1050.4 523.0,1048.2 525.0,1036.9 527.0,1026.4 529.0,1026.2 531.0,1035.6 533.0,1046.9 535.0,1052.4 537.0,1046.0 539.0,1032.4 541.0,1019.5 543.0,1015.6 545.0,1026.5 547.0,1046.9 549.0,1069.2 551.0,1085.8 553.0,1089.2 555.0,1077.9 557.0,1061.7 559.0,1051.5 561.0,1052.8 563.0,1058.0 565.0,1064.1 567.0,1068.2 569.0,1067.7 571.0,1062.6 573.0,1054.3 575.0,1044.5 577.0,1034.8 579.0,1026.6 581.0,1021.6 583.0,1020.4 585.0,1019.2 587.0,1011.1 589.0,996.9 591.0,980.2 593.0,972.1 595.0,972.1 597.0,972.1 599.0,972.1 601.0,972.1 603.0,972.1 605.0,972.1 607.0,978.4 609.0,985.3 611.0,991.2 613.0,995.7 615.0,998.1 617.0,999.6 619.0,1002.6 621.0,1011.1 623.0,1023.9 625.0,1038.3 627.0,1051.7 629.0,1061.6 631.0,1065.5 633.0,1060.5 635.0,1049.0 637.0,1036.2 639.0,1027.3 641.0,1027.0 643.0,1034.5 645.0,1045.4 647.0,1055.2 649.0,1059.8 651.0,1056.1 653.0,1045.6 655.0,1030.4 657.0,1012.8 659.0,995.1 661.0,979.4 663.0,972.1 665.0,972.1 667.0,973.1 669.0,1000.2 671.0,1032.3 673.0,1057.2 675.0,1064.9 677.0,1067.7 679.0,1069.8 681.0,1071.2 683.0,1071.8 685.0,1069.5 687.0,1061.6 689.0,1049.5 691.0,1034.3 693.0,1017.5 695.0,1000.5 697.0,984.4 699.0,972.1 701.0,972.1 703.0,972.1 705.0,972.1 707.0,972.1 709.0,972.1 711.0,972.1 713.0,972.1 715.0,972.1 717.0,972.1 719.0,977.2 721.0,997.3 723.0,1026.4 725.0,1058.1 727.0,1086.0 729.0,1103.5 731.0,1105.1 733.0,1094.7 735.0,1077.7 737.0,1059.1 739.0,1043.7 741.0,1036.1 743.0,1040.6 745.0,1054.9 747.0,1073.1 749.0,1089.9 751.0,1099.4 753.0,1096.8 755.0,1083.1 757.0,1062.4 759.0,1039.3 761.0,1018.0 763.0,1003.0 765.0,998.3 767.0,999.9 769.0,1002.9 771.0,1005.9 773.0,1007.4 775.0,1008.3 777.0,1015.1 779.0,1030.8 781.0,1051.0 783.0,1071.1 785.0,1086.5 787.0,1092.6 789.0,1087.9 791.0,1075.3 793.0,1057.1 795.0,1035.4 797.0,1012.5 799.0,990.6 801.0,972.1 803.0,972.1 805.0,972.1 807.0,972.1 809.0,972.1 811.0,972.1 813.0,972.1 815.0,972.1 817.0,972.1 819.0,972.1 821.0,972.1 823.0,975.7 825.0,990.2 827.0,1006.9 829.0,1024.3 831.0,1040.8 833.0,1054.8 835.0,1064.8 837.0,1069.2 839.0,1062.9 841.0,1043.3 843.0,1017.9 845.0,994.2 847.0,979.7 849.0,981.9 851.0,997.3 853.0,1009.2 855.0,1007.0 857.0,1001.1 859.0,1000.4 861.0,1008.7 863.0,1023.7 865.0,1042.5 867.0,1062.0 869.0,1079.5 871.0,1091.9 873.0,1096.3 875.0,1089.3 877.0,1073.1 879.0,1052.9 881.0,1033.8 883.0,1021.0 885.0,1018.1 887.0,1017.6 889.0,1015.8 891.0,1003.2 893.0,985.8 895.0,973.3 897.0,975.2 899.0,992.2 901.0,1017.5 903.0,1043.8 905.0,1064.1 907.0,1071.1 909.0,1062.2 911.0,1042.4 913.0,1017.2 915.0,991.7 917.0,972.1 919.0,972.1 921.0,972.1 923.0,972.1 925.0,972.1 927.0,972.1 929.0,972.1 931.0,972.1 933.0,972.2 935.0,984.0 937.0,998.2 939.0,1013.6 941.0,1029.4 943.0,1044.5 945.0,1057.8 947.0,1068.4 949.0,1075.3 951.0,1077.4 953.0,1074.6 955.0,1068.4 957.0,1060.6 959.0,1053.1 961.0,1047.6 963.0,1046.1 965.0,1048.2 967.0,1052.2 969.0,1056.9 971.0,1061.1 973.0,1063.6 975.0,1063.6 977.0,1062.2 979.0,1061.2 981.0,1062.9 983.0,1068.8 985.0,1077.7 987.0,1087.8 989.0,1097.8 991.0,1105.9 993.0,1110.7 995.0,1110.1 997.0,1101.3 999.0,1087.4 1001.0,1072.3 1003.0,1060.0 1005.0,1054.3 1007.0,1057.1 1009.0,1064.4 1011.0,1071.8 1013.0,1074.9 1015.0,1067.2 1017.0,1048.8 1019.0,1024.3 1021.0,998.5 1023.0,976.2 1025.0,972.1 1027.0,972.1 1029.0,972.1 1031.0,972.1 1033.0,972.1 1035.0,972.1 1037.0,972.1 1039.0,972.1 1041.0,975.4 1043.0,994.7 1045.0,1016.8 1047.0,1038.3 1049.0,1055.4 1051.0,1064.8 1053.0,1063.6 1055.0,1054.9 1057.0,1042.3 1059.0,1029.3 1061.0,1019.3 1063.0,1015.9 1065.0,1020.6 1067.0,1030.3 1069.0,1040.7 1071.0,1047.6 1073.0,1045.7 1075.0,1032.4 1077.0,1021.4 1079.0,1023.3 1081.0,1030.6 1083.0,1035.8 1085.0,1036.6 1087.0,1037.8 1089.0,1050.0 1091.0,1073.2 1093.0,1101.0 1095.0,1127.2 1097.0,1145.5 1099.0,1149.9 1101.0,1140.1 1103.0,1120.2 1105.0,1094.2 1107.0,1066.1 1109.0,1039.5 1111.0,1018.5 1113.0,1006.9 1115.0,1006.0 1117.0,1006.8 1119.0,1006.6 1121.0,1003.4 1123.0,997.9 1125.0,990.8 1127.0,982.9 1129.0,974.9 1131.0,972.1 1133.0,972.1 1135.0,972.1 1137.0,972.1 1139.0,972.1 1141.0,972.1 1143.0,972.1 1145.0,972.1 1147.0,972.1 1149.0,981.4 1151.0,1002.2 1153.0,1025.1 1155.0,1046.8 1157.0,1064.4 1159.0,1074.7 1161.0,1075.2 1163.0,1069.1 1165.0,1059.6 1167.0,1049.8 1169.0,1038.1 1171.0,1023.0 1173.0,1007.1 1175.0,992.7 1177.0,982.6 1179.0,979.3 1181.0,984.1 1183.0,996.4 1185.0,1015.6 1187.0,1040.8 1189.0,1071.6 1191.0,1107.1 1194.0,1107.1 1194.0,1212.5 106.0,1212.5"/></clipPath>
<polyline clip-path="url(#vcB)" points="109.5,678.2 110.6,677.1 111.8,677.2 112.9,678.3 114.1,680.6 115.2,684.0 116.3,688.5 117.5,694.1 118.6,700.7 119.7,708.4 120.9,717.1 122.0,726.7 123.2,737.2 124.3,748.6 125.4,760.8 126.6,773.7 127.7,787.4 128.9,801.7 130.0,816.6 131.1,832.1 132.3,848.0 133.4,864.2 134.6,880.8 135.7,897.6 136.8,914.6 138.0,931.7 139.1,948.8 140.2,965.8 141.4,982.7 142.5,999.4 143.7,1015.8 144.8,1031.9 145.9,1047.6 147.1,1062.8 148.2,1077.4 149.4,1091.4 150.5,1104.7 151.6,1117.3 152.8,1129.1 153.9,1140.0 155.1,1150.1 156.2,1159.2 157.3,1167.3 158.5,1174.5 159.6,1180.6 160.7,1185.6 161.9,1189.5 163.0,1192.4 164.2,1194.1 165.3,1194.7 166.4,1194.1 167.6,1192.5 168.7,1189.7 169.9,1185.8 171.0,1180.8 172.1,1174.8 173.3,1167.7 174.4,1159.6 175.6,1150.6 176.7,1140.6 177.8,1129.7 179.0,1118.0 180.1,1105.5 181.2,1092.3 182.4,1078.3 183.5,1063.8 184.7,1048.7 185.8,1033.2 186.9,1017.2 188.1,1000.9 189.2,984.3 190.4,967.5 191.5,950.6 192.6,933.6 193.8,916.6 194.9,899.8 196.1,883.1 197.2,866.7 198.3,850.6 199.5,834.8 200.6,819.6 201.7,804.8 202.9,790.7 204.0,777.1 205.2,764.3 206.3,752.3 207.4,741.1 208.6,730.8 209.7,721.4 210.9,712.9 212.0,705.4 213.1,699.0 214.3,693.6 215.4,689.3 216.6,686.1 217.7,684.0 218.8,683.0 220.0,683.2 221.1,684.4 222.2,686.8 223.4,690.4 224.5,695.0 225.7,700.6 226.8,707.4 227.9,715.1 229.1,723.9 230.2,733.6 231.4,744.2 232.5,755.7 233.6,768.0 234.8,781.0 235.9,794.7 237.1,809.1 238.2,824.1 239.3,839.6 240.5,855.5 241.6,871.8 242.7,888.4 243.9,905.2 245.0,922.2 246.2,939.3 247.3,956.4 248.4,973.4 249.6,990.3 250.7,1007.0 251.9,1023.4 253.0,1039.4 254.1,1055.0 255.3,1070.2 256.4,1084.7 257.6,1098.6 258.7,1111.9 259.8,1124.4 261.0,1136.1 262.1,1147.0 263.2,1156.9 264.4,1166.0 265.5,1174.0 266.7,1181.0 267.8,1187.0 268.9,1192.0 270.1,1195.8 271.2,1198.5 272.4,1200.1 273.5,1200.6 274.6,1199.9 275.8,1198.2 276.9,1195.3 278.1,1191.3 279.2,1186.2 280.3,1180.1 281.5,1172.9 282.6,1164.7 283.7,1155.5 284.9,1145.5 286.0,1134.5 287.2,1122.7 288.3,1110.1 289.4,1096.8 290.6,1082.8 291.7,1068.2 292.9,1053.1 294.0,1037.5 295.1,1021.5 296.3,1005.1 297.4,988.5 298.6,971.7 299.7,954.8 300.8,937.8 302.0,920.9 303.1,904.0 304.2,887.4 305.4,871.0 306.5,854.9 307.7,839.2 308.8,824.0 309.9,809.3 311.1,795.2 312.2,781.8 313.4,769.0 314.5,757.1 315.6,746.0 316.8,735.7 317.9,726.4 319.1,718.0 320.2,710.6 321.3,704.3 322.5,699.0 323.6,694.8 324.7,691.7 325.9,689.7 327.0,688.9 328.2,689.2 329.3,690.5 330.4,693.1 331.6,696.7 332.7,701.4 333.9,707.2 335.0,714.0 336.1,721.9 337.3,730.7 338.4,740.5 339.6,751.2 340.7,762.8 341.8,775.1 343.0,788.3 344.1,802.1 345.2,816.5 346.4,831.5 347.5,847.1 348.7,863.0 349.8,879.4 350.9,896.0 352.1,912.8 353.2,929.8 354.4,946.9 355.5,964.0 356.6,981.0 357.8,997.9 358.9,1014.6 360.1,1030.9 361.2,1046.9 362.3,1062.5 363.5,1077.6 364.6,1092.1 365.7,1105.9 366.9,1119.1 368.0,1131.5 369.2,1143.2 370.3,1153.9 371.4,1163.8 372.6,1172.7 373.7,1180.7 374.9,1187.6 376.0,1193.5 377.1,1198.3 378.3,1202.0 379.4,1204.6 380.6,1206.1 381.7,1206.5 382.8,1205.7 384.0,1203.8 385.1,1200.8 386.2,1196.7 387.4,1191.5 388.5,1185.3 389.7,1178.0 390.8,1169.7 391.9,1160.5 393.1,1150.3 394.2,1139.3 395.4,1127.4 396.5,1114.7 397.6,1101.4 398.8,1087.3 399.9,1072.7 401.1,1057.5 402.2,1041.8 403.3,1025.8 404.5,1009.4 405.6,992.8 406.7,975.9 407.9,959.0 409.0,942.0 410.2,925.1 411.3,908.3 412.4,891.6 413.6,875.3 414.7,859.2 415.9,843.6 417.0,828.4 418.1,813.8 419.3,799.7 420.4,786.4 421.6,773.7 422.7,761.8 423.8,750.8 425.0,740.7 426.1,731.4 427.2,723.2 428.4,715.9 429.5,709.6 430.7,704.5 431.8,700.4 432.9,697.4 434.1,695.5 435.2,694.8 436.4,695.2 437.5,696.7 438.6,699.3 439.8,703.0 440.9,707.9 442.1,713.8 443.2,720.7 444.3,728.7 445.5,737.6 446.6,747.5 447.7,758.3 448.9,769.9 450.0,782.3 451.2,795.5 452.3,809.4 453.4,823.9 454.6,839.0 455.7,854.6 456.9,870.6 458.0,886.9 459.1,903.6 460.3,920.5 461.4,937.5 462.6,954.6 463.7,971.7 464.8,988.7 466.0,1005.5 467.1,1022.1 468.2,1038.5 469.4,1054.4 470.5,1069.9 471.7,1085.0 472.8,1099.4 473.9,1113.2 475.1,1126.3 476.2,1138.6 477.4,1150.2 478.5,1160.9 479.6,1170.7 480.8,1179.5 481.9,1187.3 483.1,1194.2 484.2,1199.9 485.3,1204.6 486.5,1208.3 487.6,1210.8 488.7,1212.1 489.9,1212.4 491.0,1211.5 492.2,1209.5 493.3,1206.4 494.4,1202.2 495.6,1196.9 496.7,1190.5 497.9,1183.2 499.0,1174.8 500.1,1165.4 501.3,1155.2 502.4,1144.0 503.6,1132.1 504.7,1119.3 505.8,1105.9 507.0,1091.8 508.1,1077.1 509.2,1061.9 510.4,1046.2 511.5,1030.1 512.7,1013.6 513.8,996.9 514.9,980.0 516.1,963.0 517.2,945.9 518.4,928.9 519.5,912.1 520.6,895.4 521.8,879.0 522.9,862.9 524.1,847.3 525.2,832.1 526.3,817.4 527.5,803.4 528.6,790.0 529.7,777.4 530.9,765.6 532.0,754.5 533.2,744.4 534.3,735.2 535.4,727.0 536.6,719.7 537.7,713.6 538.9,708.4 540.0,704.4 541.1,701.4 542.3,699.6 543.4,698.9 544.6,699.4 545.7,700.9 546.8,703.6 548.0,707.4 549.1,712.2 550.2,718.2 551.4,725.2 552.5,733.2 553.7,742.1 554.8,752.1 555.9,762.9 557.1,774.5 558.2,787.0 559.4,800.2 560.5,814.1 561.6,828.6 562.8,843.6 563.9,859.2 565.1,875.1 566.2,891.5 567.3,908.1 568.5,924.9 569.6,941.9 570.7,958.9 571.9,976.0 573.0,992.9 574.2,1009.7 575.3,1026.2 576.4,1042.4 577.6,1058.3 578.7,1073.7 579.9,1088.6 581.0,1102.9 582.1,1116.6 583.3,1129.5 584.4,1141.8 585.6,1153.1 586.7,1163.7 587.8,1173.3 589.0,1182.0 590.1,1189.7 591.2,1196.3 592.4,1201.9 593.5,1206.5 594.7,1209.9 595.8,1212.2 596.9,1213.4 598.1,1213.5 599.2,1212.5 600.4,1210.3 601.5,1207.0 602.6,1202.6 603.8,1197.2 604.9,1190.6 606.1,1183.1 607.2,1174.5 608.3,1165.1 609.5,1154.6 610.6,1143.4 611.7,1131.3 612.9,1118.4 614.0,1104.8 615.2,1090.6 616.3,1075.8 617.4,1060.4 618.6,1044.6 619.7,1028.4 620.9,1011.9 622.0,995.2 623.1,978.3 624.3,961.3 625.4,944.2 626.6,927.3 627.7,910.4 628.8,893.7 630.0,877.4 631.1,861.3 632.2,845.7 633.4,830.6 634.5,816.0 635.7,802.0 636.8,788.7 637.9,776.2 639.1,764.4 640.2,753.5 641.4,743.4 642.5,734.3 643.6,726.2 644.8,719.1 645.9,713.0 647.1,708.0 648.2,704.0 649.3,701.2 650.5,699.5 651.6,698.9 652.7,699.5 653.9,701.1 655.0,703.9 656.2,707.8 657.3,712.8 658.4,718.8 659.6,725.9 660.7,734.0 661.9,743.1 663.0,753.1 664.1,764.0 665.3,775.7 666.4,788.3 667.6,801.5 668.7,815.5 669.8,830.0 671.0,845.1 672.1,860.7 673.2,876.8 674.4,893.1 675.5,909.8 676.7,926.6 677.8,943.6 678.9,960.6 680.1,977.7 681.2,994.6 682.4,1011.3 683.5,1027.8 684.6,1044.0 685.8,1059.8 686.9,1075.2 688.1,1090.0 689.2,1104.3 690.3,1117.9 691.5,1130.8 692.6,1142.9 693.7,1154.2 694.9,1164.7 696.0,1174.2 697.2,1182.8 698.3,1190.4 699.4,1196.9 700.6,1202.4 701.7,1206.9 702.9,1210.2 704.0,1212.4 705.1,1213.5 706.3,1213.5 707.4,1212.3 708.6,1210.0 709.7,1206.6 710.8,1202.1 712.0,1196.6 713.1,1189.9 714.2,1182.3 715.4,1173.6 716.5,1164.1 717.7,1153.5 718.8,1142.2 719.9,1130.0 721.1,1117.1 722.2,1103.4 723.4,1089.1 724.5,1074.3 725.6,1058.9 726.8,1043.0 727.9,1026.8 729.1,1010.3 730.2,993.5 731.3,976.6 732.5,959.6 733.6,942.5 734.7,925.6 735.9,908.7 737.0,892.1 738.2,875.7 739.3,859.7 740.4,844.2 741.6,829.1 742.7,814.6 743.9,800.7 745.0,787.4 746.1,775.0 747.3,763.3 748.4,752.4 749.6,742.5 750.7,733.5 751.8,725.4 753.0,718.4 754.1,712.4 755.2,707.5 756.4,703.7 757.5,701.0 758.7,699.4 759.8,698.9 760.9,699.6 762.1,701.4 763.2,704.3 764.4,708.3 765.5,713.3 766.6,719.5 767.8,726.7 768.9,734.9 770.1,744.1 771.2,754.2 772.3,765.1 773.5,777.0 774.6,789.6 775.7,802.9 776.9,816.9 778.0,831.5 779.2,846.7 780.3,862.3 781.4,878.4 782.6,894.8 783.7,911.5 784.9,928.3 786.0,945.3 787.1,962.3 788.3,979.4 789.4,996.3 790.6,1013.0 791.7,1029.5 792.8,1045.6 794.0,1061.4 795.1,1076.7 796.2,1091.5 797.4,1105.7 798.5,1119.2 799.7,1132.0 800.8,1144.1 801.9,1155.3 803.1,1165.7 804.2,1175.1 805.4,1183.6 806.5,1191.1 807.6,1197.5 808.8,1202.9 809.9,1207.2 811.1,1210.5 812.2,1212.6 813.3,1213.5 814.5,1213.4 815.6,1212.1 816.7,1209.7 817.9,1206.2 819.0,1201.6 820.2,1195.9 821.3,1189.2 822.4,1181.5 823.6,1172.7 824.7,1163.0 825.9,1152.5 827.0,1141.0 828.1,1128.7 829.3,1115.7 830.4,1102.0 831.6,1087.7 832.7,1072.7 833.8,1057.3 835.0,1041.4 836.1,1025.2 837.2,1008.6 838.4,991.8 839.5,974.9 840.7,957.9 841.8,940.8 842.9,923.9 844.1,907.0 845.2,890.4 846.4,874.1 847.5,858.2 848.6,842.6 849.8,827.6 850.9,813.2 852.1,799.3 853.2,786.2 854.3,773.8 855.5,762.2 856.6,751.4 857.7,741.5 858.9,732.6 860.0,724.7 861.2,717.8 862.3,711.9 863.4,707.1 864.6,703.4 865.7,700.8 866.9,699.3 868.0,698.9 869.1,699.7 870.3,701.6 871.4,704.6 872.6,708.7 873.7,713.9 874.8,720.2 876.0,727.5 877.1,735.8 878.2,745.0 879.4,755.2 880.5,766.3 881.7,778.2 882.8,790.9 883.9,804.3 885.1,818.3 886.2,833.0 887.4,848.2 888.5,863.9 889.6,880.0 890.8,896.4 891.9,913.1 893.1,930.0 894.2,947.0 895.3,964.0 896.5,981.0 897.6,997.9 898.7,1014.7 899.9,1031.1 901.0,1047.2 902.2,1063.0 903.3,1078.2 904.4,1092.9 905.6,1107.1 906.7,1120.5 907.9,1133.3 909.0,1145.3 910.1,1156.4 911.3,1166.7 912.4,1176.0 913.6,1184.4 914.7,1191.8 915.8,1198.1 917.0,1203.4 918.1,1207.6 919.2,1210.7 920.4,1212.7 921.5,1213.6 922.7,1213.3 923.8,1211.9 924.9,1209.4 926.1,1205.8 927.2,1201.1 928.4,1195.3 929.5,1188.5 930.6,1180.6 931.8,1171.8 932.9,1162.0 934.1,1151.3 935.2,1139.8 936.3,1127.5 937.5,1114.4 938.6,1100.6 939.7,1086.2 940.9,1071.2 942.0,1055.7 943.2,1039.8 944.3,1023.5 945.4,1006.9 946.6,990.1 947.7,973.2 948.9,956.2 950.0,939.1 951.1,922.2 952.3,905.4 953.4,888.8 954.6,872.5 955.7,856.6 956.8,841.1 958.0,826.1 959.1,811.7 960.2,798.0 961.4,784.9 962.5,772.6 963.7,761.0 964.8,750.4 965.9,740.6 967.1,731.8 968.2,724.0 969.4,717.1 970.5,711.4 971.6,706.7 972.8,703.1 973.9,700.6 975.1,699.2 976.2,699.0 977.3,699.8 978.5,701.8 979.6,705.0 980.7,709.2 981.9,714.5 983.0,720.9 984.2,728.2 985.3,736.6 986.4,746.0 987.6,756.3 988.7,767.4 989.9,779.4 991.0,792.2 992.1,805.6 993.3,819.8 994.4,834.5 995.6,849.8 996.7,865.5 997.8,881.6 999.0,898.1 1000.1,914.8 1001.2,931.7 1002.4,948.7 1003.5,965.7 1004.7,982.7 1005.8,999.6 1006.9,1016.3 1008.1,1032.7 1009.2,1048.8 1010.4,1064.5 1011.5,1079.7 1012.6,1094.4 1013.8,1108.5 1014.9,1121.8 1016.1,1134.5 1017.2,1146.4 1018.3,1157.5 1019.5,1167.6 1020.6,1176.9 1021.7,1185.2 1022.9,1192.5 1024.0,1198.7 1025.2,1203.9 1026.3,1208.0 1027.4,1211.0 1028.6,1212.8 1029.7,1213.6 1030.9,1213.2 1032.0,1211.7 1033.1,1209.1 1034.3,1205.4 1035.4,1200.6 1036.6,1194.7 1037.7,1187.7 1038.8,1179.8 1040.0,1170.9 1041.1,1161.0 1042.2,1150.2 1043.4,1138.6 1044.5,1126.2 1045.7,1113.0 1046.8,1099.2 1047.9,1084.7 1049.1,1069.7 1050.2,1054.2 1051.4,1038.2 1052.5,1021.9 1053.6,1005.3 1054.8,988.4 1055.9,971.5 1057.1,954.5 1058.2,937.4 1059.3,920.5 1060.5,903.7 1061.6,887.2 1062.7,870.9 1063.9,855.0 1065.0,839.6 1066.2,824.7 1067.3,810.3 1068.4,796.6 1069.6,783.6 1070.7,771.4 1071.9,759.9 1073.0,749.4 1074.1,739.7 1075.3,731.0 1076.4,723.2 1077.6,716.5 1078.7,710.9 1079.8,706.3 1081.0,702.8 1082.1,700.4 1083.2,699.1 1084.4,699.0 1085.5,700.0 1086.7,702.1 1087.8,705.3 1088.9,709.7 1090.1,715.1 1091.2,721.5 1092.4,729.0 1093.5,737.5 1094.6,747.0 1095.8,757.4 1096.9,768.6 1098.1,780.7 1099.2,793.5 1100.3,807.0 1101.5,821.2 1102.6,836.0 1103.7,851.3 1104.9,867.1 1106.0,883.3 1107.2,899.8 1108.3,916.5 1109.4,933.4 1110.6,950.4 1111.7,967.5 1112.9,984.4 1114.0,1001.3 1115.1,1018.0 1116.3,1034.4 1117.4,1050.4 1118.6,1066.1 1119.7,1081.2 1120.8,1095.8 1122.0,1109.8 1123.1,1123.1 1124.2,1135.7 1125.4,1147.6 1126.5,1158.5 1127.7,1168.6 1128.8,1177.8 1129.9,1185.9 1131.1,1193.1 1132.2,1199.3 1133.4,1204.3 1134.5,1208.3 1135.6,1211.2 1136.8,1213.0 1137.9,1213.6 1139.1,1213.1 1140.2,1211.5 1141.3,1208.8 1142.5,1204.9 1143.6,1200.0 1144.7,1194.0 1145.9,1187.0 1147.0,1178.9 1148.2,1169.9 1149.3,1160.0 1150.4,1149.1 1151.6,1137.4 1152.7,1124.9 1153.9,1111.7 1155.0,1097.8 1156.1,1083.2 1157.3,1068.2 1158.4,1052.6 1159.6,1036.6 1160.7,1020.2 1161.8,1003.6 1163.0,986.8 1164.1,969.8 1165.2,952.7 1166.4,935.7 1167.5,918.8 1168.7,902.0 1169.8,885.5 1170.9,869.3 1172.1,853.5 1173.2,838.1 1174.4,823.2 1175.5,808.9 1176.6,795.3 1177.8,782.4 1178.9,770.2 1180.1,758.8 1181.2,748.4 1182.3,738.8 1183.5,730.1 1184.6,722.5 1185.7,715.9 1186.9,710.3 1188.0,705.9 1189.2,702.5 1190.3,700.2" fill="none" stroke="#000" stroke-width="5" stroke-linejoin="round"/>
<polyline points="109.0,600.0 110.0,641.2 111.0,677.4 112.0,700.0 113.0,719.5 114.0,738.1 115.0,755.6 116.0,772.0 117.0,787.1 118.0,800.7 119.0,812.9 120.0,823.4 121.0,832.1 122.0,838.8 123.0,843.5 124.0,846.1 125.0,846.0 126.0,841.5 127.0,833.7 128.0,824.5 129.0,815.9 130.0,809.8 131.0,808.2 132.0,814.6 133.0,828.1 134.0,845.9 135.0,865.5 136.0,884.2 137.0,899.3 138.0,908.1 139.0,908.6 140.0,903.5 141.0,894.4 142.0,882.4 143.0,868.8 144.0,854.8 145.0,841.4 146.0,830.0 147.0,821.5 148.0,817.4 149.0,817.8 150.0,821.1 151.0,826.8 152.0,834.5 153.0,843.8 154.0,854.4 155.0,865.9 156.0,877.8 157.0,889.9 158.0,901.7 159.0,913.0 160.0,923.2 161.0,932.1 162.0,939.2 163.0,944.2 164.0,946.8 165.0,946.4 166.0,942.7 167.0,936.3 168.0,927.6 169.0,917.3 170.0,905.9 171.0,893.9 172.0,882.0 173.0,870.6 174.0,860.3 175.0,851.6 176.0,845.2 177.0,841.5 178.0,841.5 179.0,847.9 180.0,859.2 181.0,873.0 182.0,887.1 183.0,899.1 184.0,906.6 185.0,907.5 186.0,902.8 187.0,893.6 188.0,881.2 189.0,866.4 190.0,850.5 191.0,834.3 192.0,818.9 193.0,805.4 194.0,794.8 195.0,788.2 196.0,786.4 197.0,787.7 198.0,790.3 199.0,793.6 200.0,796.8 201.0,799.3 202.0,800.4 203.0,799.9 204.0,798.3 205.0,796.3 206.0,794.4 207.0,793.0 208.0,792.8 209.0,794.9 210.0,798.8 211.0,803.5 212.0,808.1 213.0,811.5 214.0,812.9 215.0,810.4 216.0,804.2 217.0,796.0 218.0,787.6 219.0,780.6 220.0,776.8 221.0,777.8 222.0,783.1 223.0,792.1 224.0,803.8 225.0,817.5 226.0,832.4 227.0,847.6 228.0,862.4 229.0,876.0 230.0,887.5 231.0,896.1 232.0,901.0 233.0,901.4 234.0,896.7 235.0,888.4 236.0,878.0 237.0,867.2 238.0,857.9 239.0,851.5 240.0,849.8 241.0,852.6 242.0,858.4 243.0,865.4 244.0,872.3 245.0,877.6 246.0,879.7 247.0,876.7 248.0,868.8 249.0,858.0 250.0,846.0 251.0,834.6 252.0,825.6 253.0,821.0 254.0,821.3 255.0,823.9 256.0,828.5 257.0,834.7 258.0,842.3 259.0,851.1 260.0,860.7 261.0,871.0 262.0,881.6 263.0,892.3 264.0,902.8 265.0,912.9 266.0,922.3 267.0,930.8 268.0,938.0 269.0,943.8 270.0,947.8 271.0,949.8 272.0,949.7 273.0,948.0 274.0,944.9 275.0,940.7 276.0,935.6 277.0,929.9 278.0,923.7 279.0,917.3 280.0,910.9 281.0,904.8 282.0,899.2 283.0,894.3 284.0,890.3 285.0,887.5 286.0,886.0 287.0,886.0 288.0,886.4 289.0,887.1 290.0,887.8 291.0,888.5 292.0,888.9 293.0,888.4 294.0,881.9 295.0,870.7 296.0,857.0 297.0,843.5 298.0,832.6 299.0,826.8 300.0,827.7 301.0,833.5 302.0,842.3 303.0,852.5 304.0,862.6 305.0,870.9 306.0,875.8 307.0,876.2 308.0,874.0 309.0,869.9 310.0,864.3 311.0,857.6 312.0,850.2 313.0,842.4 314.0,834.6 315.0,827.2 316.0,820.5 317.0,814.9 318.0,810.8 319.0,808.6 320.0,808.6 321.0,810.9 322.0,815.3 323.0,821.4 324.0,829.1 325.0,838.0 326.0,847.9 327.0,858.5 328.0,869.5 329.0,880.7 330.0,891.8 331.0,902.5 332.0,912.6 333.0,921.7 334.0,929.6 335.0,936.1 336.0,940.9 337.0,943.6 338.0,944.1 339.0,941.9 340.0,937.3 341.0,930.6 342.0,922.2 343.0,912.3 344.0,901.3 345.0,889.5 346.0,877.2 347.0,864.8 348.0,852.6 349.0,841.0 350.0,830.1 351.0,820.5 352.0,812.4 353.0,806.1 354.0,802.0 355.0,800.3 356.0,800.8 357.0,802.4 358.0,805.0 359.0,808.5 360.0,812.9 361.0,818.1 362.0,823.9 363.0,830.3 364.0,837.3 365.0,844.6 366.0,852.3 367.0,860.2 368.0,868.3 369.0,876.4 370.0,884.5 371.0,892.5 372.0,900.3 373.0,907.8 374.0,915.0 375.0,921.7 376.0,927.8 377.0,933.3 378.0,938.1 379.0,942.1 380.0,945.2 381.0,947.3 382.0,948.3 383.0,948.1 384.0,946.1 385.0,942.6 386.0,937.8 387.0,932.0 388.0,925.3 389.0,918.1 390.0,910.6 391.0,902.9 392.0,895.4 393.0,888.4 394.0,881.9 395.0,876.3 396.0,871.9 397.0,868.8 398.0,866.9 399.0,865.5 400.0,864.2 401.0,862.3 402.0,858.6 403.0,851.6 404.0,842.3 405.0,831.6 406.0,820.5 407.0,810.0 408.0,800.8 409.0,794.1 410.0,790.8 411.0,791.9 412.0,797.2 413.0,805.4 414.0,814.9 415.0,824.0 416.0,831.2 417.0,835.1 418.0,834.9 419.0,833.3 420.0,830.7 421.0,827.3 422.0,823.5 423.0,819.5 424.0,815.6 425.0,812.2 426.0,809.5 427.0,807.8 428.0,807.3 429.0,808.6 430.0,811.3 431.0,815.4 432.0,820.6 433.0,826.7 434.0,833.4 435.0,840.6 436.0,847.9 437.0,855.1 438.0,862.1 439.0,868.6 440.0,874.4 441.0,879.2 442.0,882.8 443.0,884.9 444.0,885.4 445.0,883.3 446.0,878.7 447.0,872.4 448.0,865.1 449.0,857.5 450.0,850.5 451.0,844.6 452.0,840.7 453.0,839.4 454.0,841.0 455.0,844.8 456.0,849.9 457.0,855.5 458.0,861.0 459.0,865.5 460.0,868.3 461.0,868.7 462.0,867.6 463.0,865.8 464.0,863.4 465.0,861.1 466.0,859.1 467.0,857.8 468.0,857.7 469.0,859.0 470.0,861.5 471.0,865.1 472.0,869.7 473.0,875.0 474.0,881.0 475.0,887.4 476.0,894.1 477.0,900.9 478.0,907.7 479.0,914.3 480.0,920.6 481.0,926.3 482.0,931.4 483.0,935.6 484.0,938.9 485.0,940.9 486.0,941.9 487.0,942.8 488.0,943.5 489.0,944.2 490.0,944.8 491.0,945.2 492.0,945.5 493.0,945.6 494.0,945.0 495.0,943.5 496.0,941.0 497.0,937.8 498.0,934.1 499.0,929.8 500.0,925.3 501.0,920.7 502.0,916.0 503.0,911.5 504.0,907.2 505.0,903.4 506.0,900.2 507.0,897.6 508.0,896.0 509.0,895.3 510.0,895.3 511.0,895.3 512.0,895.3 513.0,893.4 514.0,889.0 515.0,882.7 516.0,875.2 517.0,867.1 518.0,859.2 519.0,852.1 520.0,846.4 521.0,843.0 522.0,842.4 523.0,845.4 524.0,851.1 525.0,857.9 526.0,864.6 527.0,869.6 528.0,871.6 529.0,869.9 530.0,865.5 531.0,859.5 532.0,852.9 533.0,846.9 534.0,842.5 535.0,840.8 536.0,842.8 537.0,847.9 538.0,855.0 539.0,863.0 540.0,870.8 541.0,877.3 542.0,881.3 543.0,881.6 544.0,877.4 545.0,869.5 546.0,859.0 547.0,846.8 548.0,834.2 549.0,822.0 550.0,811.5 551.0,803.6 552.0,799.4 553.0,799.9 554.0,804.7 555.0,812.5 556.0,821.5 557.0,830.4 558.0,837.7 559.0,841.8 560.0,841.9 561.0,840.3 562.0,837.8 563.0,834.5 564.0,831.1 565.0,827.8 566.0,825.0 567.0,823.2 568.0,822.7 569.0,823.8 570.0,826.1 571.0,829.5 572.0,833.7 573.0,838.6 574.0,844.0 575.0,849.5 576.0,855.0 577.0,860.3 578.0,865.2 579.0,869.4 580.0,872.8 581.0,875.0 582.0,876.0 583.0,876.4 584.0,876.7 585.0,877.7 586.0,881.1 587.0,886.7 588.0,894.0 589.0,902.4 590.0,911.6 591.0,920.9 592.0,929.9 593.0,938.1 594.0,944.9 595.0,949.8 596.0,952.4 597.0,952.5 598.0,951.6 599.0,950.0 600.0,947.9 601.0,945.2 602.0,942.1 603.0,938.6 604.0,934.9 605.0,931.0 606.0,927.0 607.0,923.0 608.0,919.1 609.0,915.4 610.0,911.9 611.0,908.7 612.0,906.0 613.0,903.8 614.0,902.2 615.0,901.1 616.0,900.3 617.0,899.4 618.0,898.3 619.0,896.1 620.0,892.1 621.0,886.6 622.0,879.9 623.0,872.4 624.0,864.5 625.0,856.5 626.0,848.7 627.0,841.5 628.0,835.4 629.0,830.5 630.0,827.3 631.0,826.2 632.0,827.7 633.0,831.8 634.0,837.6 635.0,844.5 636.0,851.9 637.0,858.8 638.0,864.6 639.0,868.7 640.0,870.2 641.0,868.9 642.0,865.5 643.0,860.6 644.0,854.8 645.0,848.6 646.0,842.6 647.0,837.6 648.0,834.0 649.0,832.5 650.0,833.5 651.0,836.6 652.0,841.7 653.0,848.4 654.0,856.3 655.0,865.2 656.0,874.8 657.0,884.7 658.0,894.7 659.0,904.5 660.0,913.6 661.0,921.9 662.0,928.9 663.0,934.5 664.0,938.3 665.0,940.0 666.0,937.6 667.0,928.9 668.0,915.4 669.0,898.8 670.0,880.8 671.0,863.1 672.0,847.4 673.0,835.4 674.0,828.8 675.0,826.9 676.0,825.2 677.0,823.8 678.0,822.5 679.0,821.4 680.0,820.5 681.0,819.8 682.0,819.4 683.0,819.2 684.0,819.7 685.0,821.8 686.0,825.4 687.0,830.5 688.0,836.8 689.0,844.0 690.0,852.1 691.0,860.9 692.0,870.1 693.0,879.5 694.0,889.0 695.0,898.5 696.0,907.6 697.0,916.3 698.0,924.3 699.0,931.5 700.0,937.7 701.0,942.6 702.0,946.1 703.0,948.1 704.0,948.3 705.0,947.4 706.0,945.7 707.0,943.3 708.0,940.7 709.0,937.9 710.0,935.3 711.0,932.9 712.0,931.2 713.0,930.3 714.0,930.2 715.0,930.2 716.0,930.2 717.0,930.2 718.0,929.5 719.0,924.4 720.0,914.9 721.0,902.0 722.0,886.6 723.0,869.7 724.0,851.9 725.0,834.4 726.0,818.0 727.0,803.5 728.0,791.9 729.0,784.0 730.0,780.8 731.0,782.2 732.0,786.8 733.0,793.8 734.0,802.6 735.0,812.6 736.0,823.0 737.0,833.3 738.0,842.6 739.0,850.5 740.0,856.1 741.0,858.8 742.0,858.1 743.0,853.8 744.0,846.9 745.0,838.0 746.0,828.1 747.0,817.7 748.0,807.8 749.0,799.1 750.0,792.4 751.0,788.5 752.0,788.1 753.0,791.4 754.0,797.8 755.0,806.7 756.0,817.5 757.0,829.6 758.0,842.4 759.0,855.3 760.0,867.7 761.0,878.9 762.0,888.5 763.0,895.7 764.0,900.0 765.0,900.9 766.0,900.3 767.0,899.1 768.0,897.5 769.0,895.8 770.0,894.0 771.0,892.5 772.0,891.3 773.0,890.7 774.0,890.3 775.0,889.8 776.0,887.6 777.0,882.2 778.0,874.4 779.0,864.7 780.0,853.8 781.0,842.3 782.0,830.8 783.0,820.0 784.0,810.5 785.0,802.9 786.0,797.9 787.0,796.1 788.0,797.5 789.0,801.3 790.0,807.4 791.0,815.3 792.0,824.8 793.0,835.6 794.0,847.3 795.0,859.7 796.0,872.4 797.0,885.1 798.0,897.6 799.0,909.5 800.0,920.5 801.0,930.2 802.0,938.5 803.0,944.9 804.0,949.3 805.0,951.1 806.0,951.0 807.0,950.2 808.0,949.0 809.0,947.7 810.0,946.4 811.0,945.2 812.0,944.4 813.0,944.2 814.0,944.2 815.0,944.2 816.0,944.2 817.0,944.2 818.0,944.2 819.0,943.8 820.0,941.7 821.0,937.9 822.0,932.6 823.0,926.0 824.0,918.4 825.0,909.9 826.0,900.8 827.0,891.3 828.0,881.6 829.0,872.0 830.0,862.6 831.0,853.7 832.0,845.4 833.0,838.1 834.0,831.9 835.0,827.0 836.0,823.7 837.0,822.1 838.0,823.3 839.0,829.1 840.0,838.6 841.0,850.8 842.0,864.7 843.0,879.1 844.0,893.0 845.0,905.4 846.0,915.3 847.0,921.5 848.0,923.1 849.0,919.1 850.0,911.3 851.0,902.0 852.0,893.8 853.0,888.8 854.0,888.8 855.0,891.2 856.0,894.6 857.0,897.7 858.0,899.4 859.0,898.6 860.0,895.1 861.0,889.3 862.0,881.7 863.0,872.6 864.0,862.5 865.0,851.8 866.0,840.8 867.0,830.1 868.0,819.9 869.0,810.7 870.0,802.9 871.0,796.9 872.0,793.2 873.0,792.0 874.0,794.3 875.0,799.8 876.0,807.9 877.0,817.8 878.0,828.8 879.0,840.2 880.0,851.3 881.0,861.4 882.0,869.7 883.0,875.7 884.0,878.4 885.0,878.9 886.0,879.1 887.0,879.4 888.0,879.7 889.0,881.5 890.0,887.1 891.0,895.4 892.0,905.1 893.0,914.8 894.0,923.1 895.0,928.6 896.0,930.1 897.0,926.5 898.0,918.7 899.0,907.6 900.0,894.2 901.0,879.6 902.0,864.6 903.0,850.3 904.0,837.7 905.0,827.8 906.0,821.6 907.0,820.0 908.0,823.0 909.0,829.9 910.0,839.7 911.0,851.8 912.0,865.5 913.0,879.9 914.0,894.4 915.0,908.2 916.0,920.5 917.0,930.6 918.0,937.7 919.0,941.2 920.0,941.1 921.0,939.9 922.0,938.4 923.0,937.4 924.0,937.4 925.0,938.8 926.0,940.8 927.0,942.8 928.0,944.1 929.0,943.9 930.0,942.3 931.0,939.3 932.0,935.1 933.0,929.9 934.0,923.7 935.0,916.7 936.0,909.1 937.0,901.0 938.0,892.5 939.0,883.8 940.0,875.0 941.0,866.3 942.0,857.8 943.0,849.6 944.0,841.9 945.0,834.8 946.0,828.4 947.0,823.0 948.0,818.5 949.0,815.3 950.0,813.4 951.0,812.9 952.0,813.9 953.0,816.1 954.0,819.2 955.0,823.0 956.0,827.3 957.0,831.7 958.0,836.0 959.0,840.0 960.0,843.5 961.0,846.0 962.0,847.5 963.0,847.7 964.0,846.9 965.0,845.5 966.0,843.4 967.0,841.0 968.0,838.4 969.0,835.8 970.0,833.3 971.0,831.1 972.0,829.4 973.0,828.3 974.0,828.0 975.0,828.4 976.0,829.0 977.0,829.8 978.0,830.5 979.0,831.0 980.0,830.7 981.0,829.1 982.0,826.3 983.0,822.5 984.0,817.9 985.0,812.7 986.0,807.1 987.0,801.4 988.0,795.7 989.0,790.4 990.0,785.5 991.0,781.3 992.0,778.1 993.0,775.9 994.0,775.2 995.0,776.6 996.0,780.6 997.0,786.4 998.0,793.7 999.0,801.9 1000.0,810.3 1001.0,818.6 1002.0,826.1 1003.0,832.3 1004.0,836.7 1005.0,838.6 1006.0,838.0 1007.0,835.5 1008.0,831.8 1009.0,827.4 1010.0,823.0 1011.0,819.2 1012.0,816.6 1013.0,815.7 1014.0,818.2 1015.0,824.3 1016.0,833.4 1017.0,844.8 1018.0,857.9 1019.0,872.0 1020.0,886.5 1021.0,900.6 1022.0,913.9 1023.0,925.5 1024.0,934.8 1025.0,941.3 1026.0,944.1 1027.0,943.9 1028.0,942.8 1029.0,941.4 1030.0,940.2 1031.0,939.5 1032.0,939.7 1033.0,940.5 1034.0,941.5 1035.0,942.6 1036.0,943.6 1037.0,944.2 1038.0,943.9 1039.0,940.6 1040.0,934.6 1041.0,926.3 1042.0,916.2 1043.0,904.9 1044.0,892.7 1045.0,880.3 1046.0,868.0 1047.0,856.4 1048.0,846.1 1049.0,837.4 1050.0,830.9 1051.0,827.0 1052.0,826.3 1053.0,828.3 1054.0,832.3 1055.0,837.9 1056.0,844.6 1057.0,851.9 1058.0,859.4 1059.0,866.4 1060.0,872.6 1061.0,877.5 1062.0,880.6 1063.0,881.3 1064.0,879.7 1065.0,876.1 1066.0,871.1 1067.0,865.3 1068.0,859.4 1069.0,853.8 1070.0,849.2 1071.0,846.1 1072.0,845.1 1073.0,848.2 1074.0,854.8 1075.0,863.0 1076.0,870.5 1077.0,875.2 1078.0,875.5 1079.0,873.1 1080.0,869.3 1081.0,865.0 1082.0,861.3 1083.0,859.2 1084.0,858.7 1085.0,858.4 1086.0,858.0 1087.0,857.0 1088.0,852.2 1089.0,843.4 1090.0,831.6 1091.0,817.7 1092.0,802.4 1093.0,786.8 1094.0,771.6 1095.0,757.7 1096.0,746.0 1097.0,737.3 1098.0,732.5 1099.0,732.4 1100.0,736.2 1101.0,743.4 1102.0,753.3 1103.0,765.4 1104.0,779.3 1105.0,794.3 1106.0,809.9 1107.0,825.6 1108.0,840.8 1109.0,855.1 1110.0,867.8 1111.0,878.4 1112.0,886.5 1113.0,891.3 1114.0,892.6 1115.0,892.3 1116.0,891.9 1117.0,891.4 1118.0,891.2 1119.0,891.7 1120.0,893.0 1121.0,895.2 1122.0,897.9 1123.0,901.3 1124.0,905.1 1125.0,909.2 1126.0,913.5 1127.0,918.0 1128.0,922.5 1129.0,926.9 1130.0,931.0 1131.0,934.9 1132.0,938.3 1133.0,941.2 1134.0,943.5 1135.0,945.0 1136.0,945.7 1137.0,945.3 1138.0,944.0 1139.0,942.6 1140.0,941.6 1141.0,941.7 1142.0,942.9 1143.0,944.3 1144.0,945.5 1145.0,945.4 1146.0,942.6 1147.0,937.1 1148.0,929.3 1149.0,919.7 1150.0,908.6 1151.0,896.5 1152.0,883.9 1153.0,871.1 1154.0,858.7 1155.0,846.9 1156.0,836.4 1157.0,827.4 1158.0,820.5 1159.0,816.0 1160.0,814.4 1161.0,815.4 1162.0,818.2 1163.0,822.2 1164.0,827.2 1165.0,832.8 1166.0,838.4 1167.0,843.7 1168.0,849.5 1169.0,856.6 1170.0,864.7 1171.0,873.4 1172.0,882.3 1173.0,891.1 1174.0,899.5 1175.0,907.0 1176.0,913.4 1177.0,918.3 1178.0,921.2 1179.0,922.0 1180.0,920.4 1181.0,916.6 1182.0,910.8 1183.0,902.9 1184.0,893.2 1185.0,881.7 1186.0,868.5 1187.0,853.6 1188.0,837.2 1189.0,819.5 1190.0,800.3 1191.0,780.0" fill="none" stroke="#0000ff" stroke-width="5" stroke-linejoin="round"/>
<polyline points="109.5,827.8 110.6,827.4 111.8,827.1 112.9,827.0 114.1,827.1 115.2,827.3 116.3,827.8 117.5,828.4 118.6,829.1 119.7,830.1 120.9,831.1 122.0,832.4 123.2,833.8 124.3,835.3 125.4,837.0 126.6,838.8 127.7,840.7 128.9,842.8 130.0,844.9 131.1,847.1 132.3,849.5 133.4,851.9 134.6,854.3 135.7,856.8 136.8,859.4 138.0,862.0 139.1,864.6 140.2,867.2 141.4,869.8 142.5,872.4 143.7,875.0 144.8,877.5 145.9,880.0 147.1,882.5 148.2,884.8 149.4,887.1 150.5,889.3 151.6,891.4 152.8,893.4 153.9,895.2 155.1,897.0 156.2,898.6 157.3,900.1 158.5,901.4 159.6,902.6 160.7,903.6 161.9,904.4 163.0,905.1 164.2,905.6 165.3,906.0 166.4,906.1 167.6,906.1 168.7,906.0 169.9,905.6 171.0,905.1 172.1,904.4 173.3,903.5 174.4,902.5 175.6,901.4 176.7,900.0 177.8,898.6 179.0,896.9 180.1,895.2 181.2,893.3 182.4,891.3 183.5,889.2 184.7,887.0 185.8,884.8 186.9,882.4 188.1,880.0 189.2,877.5 190.4,874.9 191.5,872.4 192.6,869.8 193.8,867.1 194.9,864.5 196.1,861.9 197.2,859.3 198.3,856.8 199.5,854.2 200.6,851.8 201.7,849.4 202.9,847.1 204.0,844.8 205.2,842.7 206.3,840.7 207.4,838.7 208.6,836.9 209.7,835.3 210.9,833.7 212.0,832.4 213.1,831.1 214.3,830.0 215.4,829.1 216.6,828.4 217.7,827.8 218.8,827.3 220.0,827.1 221.1,827.0 222.2,827.1 223.4,827.4 224.5,827.8 225.7,828.4 226.8,829.2 227.9,830.2 229.1,831.3 230.2,832.5 231.4,833.9 232.5,835.5 233.6,837.2 234.8,839.0 235.9,840.9 237.1,843.0 238.2,845.1 239.3,847.4 240.5,849.7 241.6,852.1 242.7,854.6 243.9,857.1 245.0,859.6 246.2,862.2 247.3,864.8 248.4,867.5 249.6,870.1 250.7,872.7 251.9,875.3 253.0,877.8 254.1,880.3 255.3,882.7 256.4,885.1 257.6,887.3 258.7,889.5 259.8,891.6 261.0,893.6 262.1,895.4 263.2,897.2 264.4,898.8 265.5,900.2 266.7,901.5 267.8,902.7 268.9,903.7 270.1,904.5 271.2,905.2 272.4,905.7 273.5,906.0 274.6,906.1 275.8,906.1 276.9,905.9 278.1,905.6 279.2,905.0 280.3,904.3 281.5,903.4 282.6,902.4 283.7,901.2 284.9,899.9 286.0,898.4 287.2,896.8 288.3,895.0 289.4,893.1 290.6,891.1 291.7,889.0 292.9,886.8 294.0,884.5 295.1,882.2 296.3,879.7 297.4,877.2 298.6,874.7 299.7,872.1 300.8,869.5 302.0,866.9 303.1,864.3 304.2,861.6 305.4,859.1 306.5,856.5 307.7,854.0 308.8,851.5 309.9,849.2 311.1,846.8 312.2,844.6 313.4,842.5 314.5,840.5 315.6,838.6 316.8,836.8 317.9,835.1 319.1,833.6 320.2,832.2 321.3,831.0 322.5,829.9 323.6,829.0 324.7,828.3 325.9,827.7 327.0,827.3 328.2,827.1 329.3,827.0 330.4,827.1 331.6,827.4 332.7,827.9 333.9,828.5 335.0,829.3 336.1,830.3 337.3,831.4 338.4,832.7 339.6,834.1 340.7,835.6 341.8,837.3 343.0,839.2 344.1,841.1 345.2,843.2 346.4,845.3 347.5,847.6 348.7,849.9 349.8,852.3 350.9,854.8 352.1,857.3 353.2,859.9 354.4,862.5 355.5,865.1 356.6,867.7 357.8,870.3 358.9,872.9 360.1,875.5 361.2,878.0 362.3,880.5 363.5,882.9 364.6,885.3 365.7,887.6 366.9,889.7 368.0,891.8 369.2,893.8 370.3,895.6 371.4,897.3 372.6,898.9 373.7,900.3 374.9,901.6 376.0,902.8 377.1,903.7 378.3,904.6 379.4,905.2 380.6,905.7 381.7,906.0 382.8,906.1 384.0,906.1 385.1,905.9 386.2,905.5 387.4,905.0 388.5,904.2 389.7,903.4 390.8,902.3 391.9,901.1 393.1,899.7 394.2,898.2 395.4,896.6 396.5,894.8 397.6,892.9 398.8,890.9 399.9,888.8 401.1,886.6 402.2,884.3 403.3,881.9 404.5,879.5 405.6,877.0 406.7,874.4 407.9,871.8 409.0,869.2 410.2,866.6 411.3,864.0 412.4,861.4 413.6,858.8 414.7,856.3 415.9,853.7 417.0,851.3 418.1,848.9 419.3,846.6 420.4,844.4 421.6,842.3 422.7,840.3 423.8,838.4 425.0,836.6 426.1,835.0 427.2,833.5 428.4,832.1 429.5,830.9 430.7,829.8 431.8,828.9 432.9,828.2 434.1,827.7 435.2,827.3 436.4,827.1 437.5,827.0 438.6,827.2 439.8,827.5 440.9,827.9 442.1,828.6 443.2,829.4 444.3,830.4 445.5,831.5 446.6,832.8 447.7,834.2 448.9,835.8 450.0,837.5 451.2,839.4 452.3,841.3 453.4,843.4 454.6,845.6 455.7,847.8 456.9,850.2 458.0,852.6 459.1,855.1 460.3,857.6 461.4,860.2 462.6,862.8 463.7,865.4 464.8,868.0 466.0,870.6 467.1,873.2 468.2,875.8 469.4,878.3 470.5,880.8 471.7,883.2 472.8,885.5 473.9,887.8 475.1,889.9 476.2,892.0 477.4,894.0 478.5,895.8 479.6,897.5 480.8,899.1 481.9,900.5 483.1,901.8 484.2,902.9 485.3,903.8 486.5,904.6 487.6,905.3 488.7,905.7 489.9,906.0 491.0,906.1 492.2,906.1 493.3,905.9 494.4,905.5 495.6,904.9 496.7,904.2 497.9,903.3 499.0,902.2 500.1,901.0 501.3,899.6 502.4,898.1 503.6,896.4 504.7,894.7 505.8,892.7 507.0,890.7 508.1,888.6 509.2,886.4 510.4,884.1 511.5,881.7 512.7,879.2 513.8,876.7 514.9,874.2 516.1,871.6 517.2,869.0 518.4,866.4 519.5,863.7 520.6,861.1 521.8,858.5 522.9,856.0 524.1,853.5 525.2,851.1 526.3,848.7 527.5,846.4 528.6,844.2 529.7,842.1 530.9,840.1 532.0,838.2 533.2,836.4 534.3,834.8 535.4,833.3 536.6,832.0 537.7,830.8 538.9,829.7 540.0,828.9 541.1,828.2 542.3,827.6 543.4,827.2 544.6,827.0 545.7,827.0 546.8,827.2 548.0,827.5 549.1,828.0 550.2,828.7 551.4,829.5 552.5,830.5 553.7,831.6 554.8,832.9 555.9,834.4 557.1,836.0 558.2,837.7 559.4,839.5 560.5,841.5 561.6,843.6 562.8,845.8 563.9,848.0 565.1,850.4 566.2,852.8 567.3,855.3 568.5,857.8 569.6,860.4 570.7,863.0 571.9,865.6 573.0,868.3 574.2,870.9 575.3,873.5 576.4,876.0 577.6,878.5 578.7,881.0 579.9,883.4 581.0,885.7 582.1,888.0 583.3,890.2 584.4,892.2 585.6,894.1 586.7,896.0 587.8,897.6 589.0,899.2 590.1,900.6 591.2,901.9 592.4,903.0 593.5,903.9 594.7,904.7 595.8,905.3 596.9,905.8 598.1,906.0 599.2,906.1 600.4,906.1 601.5,905.8 602.6,905.4 603.8,904.8 604.9,904.1 606.1,903.2 607.2,902.1 608.3,900.8 609.5,899.5 610.6,897.9 611.7,896.3 612.9,894.5 614.0,892.5 615.2,890.5 616.3,888.4 617.4,886.1 618.6,883.8 619.7,881.4 620.9,879.0 622.0,876.5 623.1,873.9 624.3,871.3 625.4,868.7 626.6,866.1 627.7,863.5 628.8,860.9 630.0,858.3 631.1,855.7 632.2,853.3 633.4,850.8 634.5,848.5 635.7,846.2 636.8,844.0 637.9,841.9 639.1,839.9 640.2,838.0 641.4,836.3 642.5,834.6 643.6,833.2 644.8,831.8 645.9,830.7 647.1,829.6 648.2,828.8 649.3,828.1 650.5,827.6 651.6,827.2 652.7,827.0 653.9,827.0 655.0,827.2 656.2,827.5 657.3,828.0 658.4,828.7 659.6,829.6 660.7,830.6 661.9,831.7 663.0,833.1 664.1,834.5 665.3,836.1 666.4,837.9 667.6,839.7 668.7,841.7 669.8,843.8 671.0,846.0 672.1,848.3 673.2,850.6 674.4,853.1 675.5,855.6 676.7,858.1 677.8,860.7 678.9,863.3 680.1,865.9 681.2,868.5 682.4,871.1 683.5,873.7 684.6,876.3 685.8,878.8 686.9,881.3 688.1,883.7 689.2,886.0 690.3,888.2 691.5,890.4 692.6,892.4 693.7,894.3 694.9,896.1 696.0,897.8 697.2,899.3 698.3,900.7 699.4,902.0 700.6,903.1 701.7,904.0 702.9,904.8 704.0,905.4 705.1,905.8 706.3,906.1 707.4,906.1 708.6,906.1 709.7,905.8 710.8,905.4 712.0,904.8 713.1,904.0 714.2,903.1 715.4,902.0 716.5,900.7 717.7,899.3 718.8,897.8 719.9,896.1 721.1,894.3 722.2,892.3 723.4,890.3 724.5,888.2 725.6,885.9 726.8,883.6 727.9,881.2 729.1,878.7 730.2,876.2 731.3,873.6 732.5,871.1 733.6,868.4 734.7,865.8 735.9,863.2 737.0,860.6 738.2,858.0 739.3,855.5 740.4,853.0 741.6,850.6 742.7,848.2 743.9,845.9 745.0,843.8 746.1,841.7 747.3,839.7 748.4,837.8 749.6,836.1 750.7,834.5 751.8,833.0 753.0,831.7 754.1,830.6 755.2,829.5 756.4,828.7 757.5,828.0 758.7,827.5 759.8,827.2 760.9,827.0 762.1,827.0 763.2,827.2 764.4,827.6 765.5,828.1 766.6,828.8 767.8,829.7 768.9,830.7 770.1,831.9 771.2,833.2 772.3,834.7 773.5,836.3 774.6,838.1 775.7,839.9 776.9,841.9 778.0,844.0 779.2,846.2 780.3,848.5 781.4,850.9 782.6,853.3 783.7,855.8 784.9,858.4 786.0,860.9 787.1,863.5 788.3,866.2 789.4,868.8 790.6,871.4 791.7,874.0 792.8,876.5 794.0,879.0 795.1,881.5 796.2,883.9 797.4,886.2 798.5,888.4 799.7,890.6 800.8,892.6 801.9,894.5 803.1,896.3 804.2,898.0 805.4,899.5 806.5,900.9 807.6,902.1 808.8,903.2 809.9,904.1 811.1,904.8 812.2,905.4 813.3,905.8 814.5,906.1 815.6,906.1 816.7,906.0 817.9,905.8 819.0,905.3 820.2,904.7 821.3,903.9 822.4,903.0 823.6,901.8 824.7,900.6 825.9,899.2 827.0,897.6 828.1,895.9 829.3,894.1 830.4,892.1 831.6,890.1 832.7,887.9 833.8,885.7 835.0,883.4 836.1,880.9 837.2,878.5 838.4,876.0 839.5,873.4 840.7,870.8 841.8,868.2 842.9,865.6 844.1,862.9 845.2,860.4 846.4,857.8 847.5,855.2 848.6,852.8 849.8,850.3 850.9,848.0 852.1,845.7 853.2,843.5 854.3,841.5 855.5,839.5 856.6,837.6 857.7,835.9 858.9,834.3 860.0,832.9 861.2,831.6 862.3,830.4 863.4,829.5 864.6,828.6 865.7,828.0 866.9,827.5 868.0,827.2 869.1,827.0 870.3,827.1 871.4,827.3 872.6,827.6 873.7,828.2 874.8,828.9 876.0,829.8 877.1,830.8 878.2,832.0 879.4,833.3 880.5,834.8 881.7,836.5 882.8,838.2 883.9,840.1 885.1,842.1 886.2,844.2 887.4,846.5 888.5,848.7 889.6,851.1 890.8,853.6 891.9,856.1 893.1,858.6 894.2,861.2 895.3,863.8 896.5,866.4 897.6,869.0 898.7,871.6 899.9,874.2 901.0,876.8 902.2,879.3 903.3,881.7 904.4,884.1 905.6,886.4 906.7,888.7 907.9,890.8 909.0,892.8 910.1,894.7 911.3,896.5 912.4,898.1 913.6,899.6 914.7,901.0 915.8,902.2 917.0,903.3 918.1,904.2 919.2,904.9 920.4,905.5 921.5,905.9 922.7,906.1 923.8,906.1 924.9,906.0 926.1,905.7 927.2,905.3 928.4,904.6 929.5,903.8 930.6,902.8 931.8,901.7 932.9,900.4 934.1,899.0 935.2,897.4 936.3,895.7 937.5,893.9 938.6,891.9 939.7,889.9 940.9,887.7 942.0,885.5 943.2,883.1 944.3,880.7 945.4,878.2 946.6,875.7 947.7,873.1 948.9,870.5 950.0,867.9 951.1,865.3 952.3,862.7 953.4,860.1 954.6,857.5 955.7,855.0 956.8,852.5 958.0,850.1 959.1,847.8 960.2,845.5 961.4,843.3 962.5,841.3 963.7,839.3 964.8,837.5 965.9,835.8 967.1,834.2 968.2,832.8 969.4,831.5 970.5,830.3 971.6,829.4 972.8,828.6 973.9,827.9 975.1,827.4 976.2,827.1 977.3,827.0 978.5,827.1 979.6,827.3 980.7,827.7 981.9,828.2 983.0,829.0 984.2,829.9 985.3,830.9 986.4,832.1 987.6,833.5 988.7,835.0 989.9,836.6 991.0,838.4 992.1,840.3 993.3,842.3 994.4,844.5 995.6,846.7 996.7,849.0 997.8,851.4 999.0,853.8 1000.1,856.3 1001.2,858.9 1002.4,861.5 1003.5,864.1 1004.7,866.7 1005.8,869.3 1006.9,871.9 1008.1,874.5 1009.2,877.0 1010.4,879.5 1011.5,882.0 1012.6,884.4 1013.8,886.7 1014.9,888.9 1016.1,891.0 1017.2,893.0 1018.3,894.9 1019.5,896.7 1020.6,898.3 1021.7,899.8 1022.9,901.1 1024.0,902.3 1025.2,903.4 1026.3,904.3 1027.4,905.0 1028.6,905.5 1029.7,905.9 1030.9,906.1 1032.0,906.1 1033.1,906.0 1034.3,905.7 1035.4,905.2 1036.6,904.5 1037.7,903.7 1038.8,902.7 1040.0,901.6 1041.1,900.3 1042.2,898.9 1043.4,897.3 1044.5,895.6 1045.7,893.7 1046.8,891.7 1047.9,889.7 1049.1,887.5 1050.2,885.2 1051.4,882.9 1052.5,880.5 1053.6,878.0 1054.8,875.4 1055.9,872.9 1057.1,870.3 1058.2,867.7 1059.3,865.0 1060.5,862.4 1061.6,859.8 1062.7,857.3 1063.9,854.7 1065.0,852.3 1066.2,849.9 1067.3,847.5 1068.4,845.3 1069.6,843.1 1070.7,841.1 1071.9,839.1 1073.0,837.3 1074.1,835.6 1075.3,834.0 1076.4,832.6 1077.6,831.3 1078.7,830.2 1079.8,829.3 1081.0,828.5 1082.1,827.9 1083.2,827.4 1084.4,827.1 1085.5,827.0 1086.7,827.1 1087.8,827.3 1088.9,827.7 1090.1,828.3 1091.2,829.0 1092.4,830.0 1093.5,831.0 1094.6,832.3 1095.8,833.6 1096.9,835.2 1098.1,836.8 1099.2,838.6 1100.3,840.5 1101.5,842.5 1102.6,844.7 1103.7,846.9 1104.9,849.2 1106.0,851.6 1107.2,854.1 1108.3,856.6 1109.4,859.1 1110.6,861.7 1111.7,864.3 1112.9,866.9 1114.0,869.6 1115.1,872.2 1116.3,874.7 1117.4,877.3 1118.6,879.8 1119.7,882.2 1120.8,884.6 1122.0,886.9 1123.1,889.1 1124.2,891.2 1125.4,893.2 1126.5,895.1 1127.7,896.8 1128.8,898.4 1129.9,899.9 1131.1,901.3 1132.2,902.4 1133.4,903.5 1134.5,904.3 1135.6,905.0 1136.8,905.6 1137.9,905.9 1139.1,906.1 1140.2,906.1 1141.3,906.0 1142.5,905.6 1143.6,905.1 1144.7,904.5 1145.9,903.6 1147.0,902.6 1148.2,901.5 1149.3,900.2 1150.4,898.7 1151.6,897.1 1152.7,895.4 1153.9,893.5 1155.0,891.5 1156.1,889.5 1157.3,887.3 1158.4,885.0 1159.6,882.6 1160.7,880.2 1161.8,877.7 1163.0,875.2 1164.1,872.6 1165.2,870.0 1166.4,867.4 1167.5,864.8 1168.7,862.2 1169.8,859.6 1170.9,857.0 1172.1,854.5 1173.2,852.0 1174.4,849.6 1175.5,847.3 1176.6,845.1 1177.8,842.9 1178.9,840.9 1180.1,838.9 1181.2,837.1 1182.3,835.4 1183.5,833.9 1184.6,832.5 1185.7,831.2 1186.9,830.1 1188.0,829.2 1189.2,828.4 1190.3,827.8" fill="none" stroke="#ff0000" stroke-width="5" stroke-linejoin="round"/>
</g>
<polygon points="155.8,753.7 168.6,815.0 161.0,816.5 177.0,836.7 183.6,811.8 176.0,813.4 163.2,752.1" fill="#548235"/>
<path d="M108.4,694.8 L1176.3,694.8" fill="none" stroke="#222" stroke-width="1.8"/>
<path d="M108.4,1209.5 L1176.3,1209.5" fill="none" stroke="#222" stroke-width="1.8"/>
<path d="M1176.3,694.8 L1190.3,694.8 L1190.3,1209.5 L1176.3,1209.5" fill="none" stroke="#c00" stroke-width="1.6"/>
<line x1="217.6" y1="1209.5" x2="217.6" y2="1198.5" stroke="#000" stroke-width="1.6"/>
<line x1="217.6" y1="694.8" x2="217.6" y2="705.8" stroke="#000" stroke-width="1.6"/>
<line x1="325.7" y1="1209.5" x2="325.7" y2="1198.5" stroke="#000" stroke-width="1.6"/>
<line x1="325.7" y1="694.8" x2="325.7" y2="705.8" stroke="#000" stroke-width="1.6"/>
<line x1="433.7" y1="1209.5" x2="433.7" y2="1198.5" stroke="#000" stroke-width="1.6"/>
<line x1="433.7" y1="694.8" x2="433.7" y2="705.8" stroke="#000" stroke-width="1.6"/>
<line x1="541.8" y1="1209.5" x2="541.8" y2="1198.5" stroke="#000" stroke-width="1.6"/>
<line x1="541.8" y1="694.8" x2="541.8" y2="705.8" stroke="#000" stroke-width="1.6"/>
<line x1="649.9" y1="1209.5" x2="649.9" y2="1198.5" stroke="#000" stroke-width="1.6"/>
<line x1="649.9" y1="694.8" x2="649.9" y2="705.8" stroke="#000" stroke-width="1.6"/>
<line x1="758.0" y1="1209.5" x2="758.0" y2="1198.5" stroke="#000" stroke-width="1.6"/>
<line x1="758.0" y1="694.8" x2="758.0" y2="705.8" stroke="#000" stroke-width="1.6"/>
<line x1="866.1" y1="1209.5" x2="866.1" y2="1198.5" stroke="#000" stroke-width="1.6"/>
<line x1="866.1" y1="694.8" x2="866.1" y2="705.8" stroke="#000" stroke-width="1.6"/>
<line x1="974.1" y1="1209.5" x2="974.1" y2="1198.5" stroke="#000" stroke-width="1.6"/>
<line x1="974.1" y1="694.8" x2="974.1" y2="705.8" stroke="#000" stroke-width="1.6"/>
<line x1="1082.2" y1="1209.5" x2="1082.2" y2="1198.5" stroke="#000" stroke-width="1.6"/>
<line x1="1082.2" y1="694.8" x2="1082.2" y2="705.8" stroke="#000" stroke-width="1.6"/>
<line x1="1190.3" y1="797.7" x2="1179.3" y2="797.7" stroke="#000" stroke-width="1.6"/>
<line x1="1190.3" y1="1003.6" x2="1179.3" y2="1003.6" stroke="#000" stroke-width="1.6"/>
<line x1="1190.3" y1="1209.5" x2="1179.3" y2="1209.5" stroke="#000" stroke-width="1.6"/>
<line x1="1190.3" y1="694.8" x2="1179.3" y2="694.8" stroke="#d00" stroke-width="1.6"/>
<line x1="1190.3" y1="823.5" x2="1179.3" y2="823.5" stroke="#d00" stroke-width="1.6"/>
<line x1="1190.3" y1="952.1" x2="1179.3" y2="952.1" stroke="#d00" stroke-width="1.6"/>
<line x1="1190.3" y1="1080.8" x2="1179.3" y2="1080.8" stroke="#d00" stroke-width="1.6"/>
<line x1="1190.3" y1="1209.5" x2="1179.3" y2="1209.5" stroke="#d00" stroke-width="1.6"/>
<text x="109.5" y="1243.5" font-family="'Liberation Serif', serif" font-weight="bold" font-size="29.5" text-anchor="middle">5</text>
<text x="217.6" y="1243.5" font-family="'Liberation Serif', serif" font-weight="bold" font-size="29.5" text-anchor="middle">5.1</text>
<text x="325.7" y="1243.5" font-family="'Liberation Serif', serif" font-weight="bold" font-size="29.5" text-anchor="middle">5.2</text>
<text x="433.7" y="1243.5" font-family="'Liberation Serif', serif" font-weight="bold" font-size="29.5" text-anchor="middle">5.3</text>
<text x="541.8" y="1243.5" font-family="'Liberation Serif', serif" font-weight="bold" font-size="29.5" text-anchor="middle">5.4</text>
<text x="649.9" y="1243.5" font-family="'Liberation Serif', serif" font-weight="bold" font-size="29.5" text-anchor="middle">5.5</text>
<text x="758.0" y="1243.5" font-family="'Liberation Serif', serif" font-weight="bold" font-size="29.5" text-anchor="middle">5.6</text>
<text x="866.1" y="1243.5" font-family="'Liberation Serif', serif" font-weight="bold" font-size="29.5" text-anchor="middle">5.7</text>
<text x="974.1" y="1243.5" font-family="'Liberation Serif', serif" font-weight="bold" font-size="29.5" text-anchor="middle">5.8</text>
<text x="1082.2" y="1243.5" font-family="'Liberation Serif', serif" font-weight="bold" font-size="29.5" text-anchor="middle">5.9</text>
<text x="1190.3" y="1243.5" font-family="'Liberation Serif', serif" font-weight="bold" font-size="29.5" text-anchor="middle">6</text>
<text x="102.5" y="809.0" font-family="'Liberation Serif', serif" font-weight="bold" font-size="29.5" text-anchor="end">30</text>
<text x="102.5" y="1014.9" font-family="'Liberation Serif', serif" font-weight="bold" font-size="29.5" text-anchor="end">-10</text>
<text x="102.5" y="1220.8" font-family="'Liberation Serif', serif" font-weight="bold" font-size="29.5" text-anchor="end">-50</text>
<text x="1197.8" y="706.1" font-family="'Liberation Serif', serif" font-weight="bold" font-size="29.5" fill="#e00000">40</text>
<text x="1197.8" y="834.8" font-family="'Liberation Serif', serif" font-weight="bold" font-size="29.5" fill="#e00000">20</text>
<text x="1197.8" y="963.4" font-family="'Liberation Serif', serif" font-weight="bold" font-size="29.5" fill="#e00000">0</text>
<text x="1197.8" y="1092.1" font-family="'Liberation Serif', serif" font-weight="bold" font-size="29.5" fill="#e00000">-20</text>
<text x="1197.8" y="1220.8" font-family="'Liberation Serif', serif" font-weight="bold" font-size="29.5" fill="#e00000">-40</text>
<text x="649.5" y="683.3" font-family="'Liberation Serif', serif" font-weight="bold" font-size="28.5" text-anchor="middle">f=10Hz</text>
<text x="649.9" y="1277.6" font-family="'Liberation Serif', serif" font-weight="bold" font-size="28.5" text-anchor="middle">Time (s)</text>
<text transform="translate(53.3,952.9) rotate(-90)" font-family="'Liberation Serif', serif" font-weight="bold" font-size="28.5" text-anchor="middle">Low-frequency current signal (mV)</text>
<text transform="translate(1266.5,956.4) rotate(-90)" font-family="'Liberation Serif', serif" font-weight="bold" font-size="29.1" fill="#e00000" text-anchor="middle">Acoustoelectric signal (uV)</text>
<line x1="836.4" y1="678.4" x2="865.4" y2="678.4" stroke="#000" stroke-width="4.4"/>
<text x="867.4" y="687.7" font-family="'Liberation Serif', serif" font-weight="bold" font-size="28.5">Vi</text>
<line x1="900.4" y1="678.4" x2="928.4" y2="678.4" stroke="#eee" stroke-width="2"/>
<text x="933.4" y="687.7" font-family="'Liberation Serif', serif" font-weight="bold" font-size="28.5">Vae</text>
<line x1="983.4" y1="678.4" x2="1011.4" y2="678.4" stroke="#00f" stroke-width="5"/>
<text x="1014.4" y="687.7" font-family="'Liberation Serif', serif" font-weight="bold" font-size="28.5">DAE</text>
<line x1="1079.4" y1="678.4" x2="1107.4" y2="678.4" stroke="#f00" stroke-width="5"/>
<text x="1109.4" y="687.7" font-family="'Liberation Serif', serif" font-weight="bold" font-size="28.5">aDAF</text>
<text x="10.2" y="656.2" font-family="'Liberation Sans', sans-serif" font-weight="bold" font-size="42">B</text>
<clipPath id="clipC"><rect x="115.3" y="1340.3" width="1082.2" height="518.2"/></clipPath>
<line x1="117.8" y1="1340.3" x2="117.8" y2="1858.5" stroke="#000" stroke-width="2.2"/>
<line x1="117.8" y1="1340.3" x2="128.8" y2="1340.3" stroke="#000" stroke-width="1.6"/>
<line x1="117.8" y1="1599.4" x2="128.8" y2="1599.4" stroke="#000" stroke-width="1.6"/>
<line x1="117.8" y1="1858.5" x2="128.8" y2="1858.5" stroke="#000" stroke-width="1.6"/>
<g clip-path="url(#clipC)">
<polyline points="117.8,1639.3 118.9,1661.1 120.1,1682.6 121.2,1703.3 122.3,1723.4 123.5,1742.5 124.6,1760.5 125.7,1777.3 126.9,1792.9 128.0,1807.0 129.2,1819.5 130.3,1830.5 131.4,1839.7 132.6,1847.1 133.7,1852.7 134.8,1856.5 136.0,1858.3 137.1,1858.2 138.2,1856.2 139.4,1852.3 140.5,1846.5 141.6,1838.9 142.8,1829.5 143.9,1818.5 145.0,1805.7 146.2,1791.5 147.3,1775.9 148.4,1758.9 149.6,1740.8 150.7,1721.6 151.9,1701.5 153.0,1680.6 154.1,1659.2 155.3,1637.3 156.4,1615.1 157.5,1592.8 158.7,1570.6 159.8,1548.5 160.9,1526.9 162.1,1505.8 163.2,1485.3 164.3,1465.8 165.5,1447.2 166.6,1429.7 167.7,1413.5 168.9,1398.7 170.0,1385.3 171.1,1373.6 172.3,1363.5 173.4,1355.2 174.6,1348.6 175.7,1344.0 176.8,1341.2 178.0,1340.3 179.1,1341.3 180.2,1344.3 181.4,1349.2 182.5,1355.9 183.6,1364.4 184.8,1374.6 185.9,1386.5 187.0,1400.0 188.2,1414.9 189.3,1431.3 190.4,1448.8 191.6,1467.5 192.7,1487.2 193.9,1507.7 195.0,1528.8 196.1,1550.5 197.3,1572.6 198.4,1594.8 199.5,1617.1 200.7,1639.3 201.8,1661.1 202.9,1682.6 204.1,1703.3 205.2,1723.4 206.3,1742.5 207.5,1760.5 208.6,1777.3 209.7,1792.9 210.9,1807.0 212.0,1819.5 213.1,1830.5 214.3,1839.7 215.4,1847.1 216.6,1852.7 217.7,1856.5 218.8,1858.3 220.0,1858.2 221.1,1856.2 222.2,1852.3 223.4,1846.5 224.5,1838.9 225.6,1829.5 226.8,1818.5 227.9,1805.7 229.0,1791.5 230.2,1775.9 231.3,1758.9 232.4,1740.8 233.6,1721.6 234.7,1701.5 235.8,1680.6 237.0,1659.2 238.1,1637.3 239.3,1615.1 240.4,1592.8 241.5,1570.6 242.7,1548.5 243.8,1526.9 244.9,1505.8 246.1,1485.3 247.2,1465.8 248.3,1447.2 249.5,1429.7 250.6,1413.5 251.7,1398.7 252.9,1385.3 254.0,1373.6 255.1,1363.5 256.3,1355.2 257.4,1348.6 258.6,1344.0 259.7,1341.2 260.8,1340.3 262.0,1341.3 263.1,1344.3 264.2,1349.2 265.4,1355.9 266.5,1364.4 267.6,1374.6 268.8,1386.5 269.9,1400.0 271.0,1414.9 272.2,1431.3 273.3,1448.8 274.4,1467.5 275.6,1487.2 276.7,1507.7 277.8,1528.8 279.0,1550.5 280.1,1572.6 281.3,1594.8 282.4,1617.1 283.5,1639.3 284.7,1661.1 285.8,1682.6 286.9,1703.3 288.1,1723.4 289.2,1742.5 290.3,1760.5 291.5,1777.3 292.6,1792.9 293.7,1807.0 294.9,1819.5 296.0,1830.5 297.1,1839.7 298.3,1847.1 299.4,1852.7 300.5,1856.5 301.7,1858.3 302.8,1858.2 304.0,1856.2 305.1,1852.3 306.2,1846.5 307.4,1838.9 308.5,1829.5 309.6,1818.5 310.8,1805.7 311.9,1791.5 313.0,1775.9 314.2,1758.9 315.3,1740.8 316.4,1721.6 317.6,1701.5 318.7,1680.6 319.8,1659.2 321.0,1637.3 322.1,1615.1 323.3,1592.8 324.4,1570.6 325.5,1548.5 326.7,1526.9 327.8,1505.8 328.9,1485.3 330.1,1465.8 331.2,1447.2 332.3,1429.7 333.5,1413.5 334.6,1398.7 335.7,1385.3 336.9,1373.6 338.0,1363.5 339.1,1355.2 340.3,1348.6 341.4,1344.0 342.5,1341.2 343.7,1340.3 344.8,1341.3 346.0,1344.3 347.1,1349.2 348.2,1355.9 349.4,1364.4 350.5,1374.6 351.6,1386.5 352.8,1400.0 353.9,1414.9 355.0,1431.3 356.2,1448.8 357.3,1467.5 358.4,1487.2 359.6,1507.7 360.7,1528.8 361.8,1550.5 363.0,1572.6 364.1,1594.8 365.2,1617.1 366.4,1639.3 367.5,1661.1 368.7,1682.6 369.8,1703.3 370.9,1723.4 372.1,1742.5 373.2,1760.5 374.3,1777.3 375.5,1792.9 376.6,1807.0 377.7,1819.5 378.9,1830.5 380.0,1839.7 381.1,1847.1 382.3,1852.7 383.4,1856.5 384.5,1858.3 385.7,1858.2 386.8,1856.2 388.0,1852.3 389.1,1846.5 390.2,1838.9 391.4,1829.5 392.5,1818.5 393.6,1805.7 394.8,1791.5 395.9,1775.9 397.0,1758.9 398.2,1740.8 399.3,1721.6 400.4,1701.5 401.6,1680.6 402.7,1659.2 403.8,1637.3 405.0,1615.1 406.1,1592.8 407.2,1570.6 408.4,1548.5 409.5,1526.9 410.7,1505.8 411.8,1485.3 412.9,1465.8 414.1,1447.2 415.2,1429.7 416.3,1413.5 417.5,1398.7 418.6,1385.3 419.7,1373.6 420.9,1363.5 422.0,1355.2 423.1,1348.6 424.3,1344.0 425.4,1341.2 426.5,1340.3 427.7,1341.3 428.8,1344.3 429.9,1349.2 431.1,1355.9 432.2,1364.4 433.4,1374.6 434.5,1386.5 435.6,1400.0 436.8,1414.9 437.9,1431.3 439.0,1448.8 440.2,1467.5 441.3,1487.2 442.4,1507.7 443.6,1528.8 444.7,1550.5 445.8,1572.6 447.0,1594.8 448.1,1617.1 449.2,1639.3 450.4,1661.1 451.5,1682.6 452.7,1703.3 453.8,1723.4 454.9,1742.5 456.1,1760.5 457.2,1777.3 458.3,1792.9 459.5,1807.0 460.6,1819.5 461.7,1830.5 462.9,1839.7 464.0,1847.1 465.1,1852.7 466.3,1856.5 467.4,1858.3 468.5,1858.2 469.7,1856.2 470.8,1852.3 471.9,1846.5 473.1,1838.9 474.2,1829.5 475.4,1818.5 476.5,1805.7 477.6,1791.5 478.8,1775.9 479.9,1758.9 481.0,1740.8 482.2,1721.6 483.3,1701.5 484.4,1680.6 485.6,1659.2 486.7,1637.3 487.8,1615.1 489.0,1592.8 490.1,1570.6 491.2,1548.5 492.4,1526.9 493.5,1505.8 494.6,1485.3 495.8,1465.8 496.9,1447.2 498.1,1429.7 499.2,1413.5 500.3,1398.7 501.5,1385.3 502.6,1373.6 503.7,1363.5 504.9,1355.2 506.0,1348.6 507.1,1344.0 508.3,1341.2 509.4,1340.3 510.5,1341.3 511.7,1344.3 512.8,1349.2 513.9,1355.9 515.1,1364.4 516.2,1374.6 517.4,1386.5 518.5,1400.0 519.6,1414.9 520.8,1431.3 521.9,1448.8 523.0,1467.5 524.2,1487.2 525.3,1507.7 526.4,1528.8 527.6,1550.5 528.7,1572.6 529.8,1594.8 531.0,1617.1 532.1,1639.3 533.2,1661.1 534.4,1682.6 535.5,1703.3 536.6,1723.4 537.8,1742.5 538.9,1760.5 540.1,1777.3 541.2,1792.9 542.3,1807.0 543.5,1819.5 544.6,1830.5 545.7,1839.7 546.9,1847.1 548.0,1852.7 549.1,1856.5 550.3,1858.3 551.4,1858.2 552.5,1856.2 553.7,1852.3 554.8,1846.5 555.9,1838.9 557.1,1829.5 558.2,1818.5 559.3,1805.7 560.5,1791.5 561.6,1775.9 562.8,1758.9 563.9,1740.8 565.0,1721.6 566.2,1701.5 567.3,1680.6 568.4,1659.2 569.6,1637.3 570.7,1615.1 571.8,1592.8 573.0,1570.6 574.1,1548.5 575.2,1526.9 576.4,1505.8 577.5,1485.3 578.6,1465.8 579.8,1447.2 580.9,1429.7 582.1,1413.5 583.2,1398.7 584.3,1385.3 585.5,1373.6 586.6,1363.5 587.7,1355.2 588.9,1348.6 590.0,1344.0 591.1,1341.2 592.3,1340.3 593.4,1341.3 594.5,1344.3 595.7,1349.2 596.8,1355.9 597.9,1364.4 599.1,1374.6 600.2,1386.5 601.3,1400.0 602.5,1414.9 603.6,1431.3 604.8,1448.8 605.9,1467.5 607.0,1487.2 608.2,1507.7 609.3,1528.8 610.4,1550.5 611.6,1572.6 612.7,1594.8 613.8,1617.1 615.0,1639.3 616.1,1661.1 617.2,1682.6 618.4,1703.3 619.5,1723.4 620.6,1742.5 621.8,1760.5 622.9,1777.3 624.0,1792.9 625.2,1807.0 626.3,1819.5 627.5,1830.5 628.6,1839.7 629.7,1847.1 630.9,1852.7 632.0,1856.5 633.1,1858.3 634.3,1858.2 635.4,1856.2 636.5,1852.3 637.7,1846.5 638.8,1838.9 639.9,1829.5 641.1,1818.5 642.2,1805.7 643.3,1791.5 644.5,1775.9 645.6,1758.9 646.8,1740.8 647.9,1721.6 649.0,1701.5 650.2,1680.6 651.3,1659.2 652.4,1637.3 653.6,1615.1 654.7,1592.8 655.8,1570.6 657.0,1548.5 658.1,1526.9 659.2,1505.8 660.4,1485.3 661.5,1465.8 662.6,1447.2 663.8,1429.7 664.9,1413.5 666.0,1398.7 667.2,1385.3 668.3,1373.6 669.5,1363.5 670.6,1355.2 671.7,1348.6 672.9,1344.0 674.0,1341.2 675.1,1340.3 676.3,1341.3 677.4,1344.3 678.5,1349.2 679.7,1355.9 680.8,1364.4 681.9,1374.6 683.1,1386.5 684.2,1400.0 685.3,1414.9 686.5,1431.3 687.6,1448.8 688.8,1467.5 689.9,1487.2 691.0,1507.7 692.2,1528.8 693.3,1550.5 694.4,1572.6 695.6,1594.8 696.7,1617.1 697.8,1639.3 699.0,1661.1 700.1,1682.6 701.2,1703.3 702.4,1723.4 703.5,1742.5 704.6,1760.5 705.8,1777.3 706.9,1792.9 708.0,1807.0 709.2,1819.5 710.3,1830.5 711.5,1839.7 712.6,1847.1 713.7,1852.7 714.9,1856.5 716.0,1858.3 717.1,1858.2 718.3,1856.2 719.4,1852.3 720.5,1846.5 721.7,1838.9 722.8,1829.5 723.9,1818.5 725.1,1805.7 726.2,1791.5 727.3,1775.9 728.5,1758.9 729.6,1740.8 730.7,1721.6 731.9,1701.5 733.0,1680.6 734.2,1659.2 735.3,1637.3 736.4,1615.1 737.6,1592.8 738.7,1570.6 739.8,1548.5 741.0,1526.9 742.1,1505.8 743.2,1485.3 744.4,1465.8 745.5,1447.2 746.6,1429.7 747.8,1413.5 748.9,1398.7 750.0,1385.3 751.2,1373.6 752.3,1363.5 753.5,1355.2 754.6,1348.6 755.7,1344.0 756.9,1341.2 758.0,1340.3 759.1,1341.3 760.3,1344.3 761.4,1349.2 762.5,1355.9 763.7,1364.4 764.8,1374.6 765.9,1386.5 767.1,1400.0 768.2,1414.9 769.3,1431.3 770.5,1448.8 771.6,1467.5 772.7,1487.2 773.9,1507.7 775.0,1528.8 776.2,1550.5 777.3,1572.6 778.4,1594.8 779.6,1617.1 780.7,1639.3 781.8,1661.1 783.0,1682.6 784.1,1703.3 785.2,1723.4 786.4,1742.5 787.5,1760.5 788.6,1777.3 789.8,1792.9 790.9,1807.0 792.0,1819.5 793.2,1830.5 794.3,1839.7 795.4,1847.1 796.6,1852.7 797.7,1856.5 798.9,1858.3 800.0,1858.2 801.1,1856.2 802.3,1852.3 803.4,1846.5 804.5,1838.9 805.7,1829.5 806.8,1818.5 807.9,1805.7 809.1,1791.5 810.2,1775.9 811.3,1758.9 812.5,1740.8 813.6,1721.6 814.7,1701.5 815.9,1680.6 817.0,1659.2 818.2,1637.3 819.3,1615.1 820.4,1592.8 821.6,1570.6 822.7,1548.5 823.8,1526.9 825.0,1505.8 826.1,1485.3 827.2,1465.8 828.4,1447.2 829.5,1429.7 830.6,1413.5 831.8,1398.7 832.9,1385.3 834.0,1373.6 835.2,1363.5 836.3,1355.2 837.4,1348.6 838.6,1344.0 839.7,1341.2 840.9,1340.3 842.0,1341.3 843.1,1344.3 844.3,1349.2 845.4,1355.9 846.5,1364.4 847.7,1374.6 848.8,1386.5 849.9,1400.0 851.1,1414.9 852.2,1431.3 853.3,1448.8 854.5,1467.5 855.6,1487.2 856.7,1507.7 857.9,1528.8 859.0,1550.5 860.1,1572.6 861.3,1594.8 862.4,1617.1 863.6,1639.3 864.7,1661.1 865.8,1682.6 867.0,1703.3 868.1,1723.4 869.2,1742.5 870.4,1760.5 871.5,1777.3 872.6,1792.9 873.8,1807.0 874.9,1819.5 876.0,1830.5 877.2,1839.7 878.3,1847.1 879.4,1852.7 880.6,1856.5 881.7,1858.3 882.9,1858.2 884.0,1856.2 885.1,1852.3 886.3,1846.5 887.4,1838.9 888.5,1829.5 889.7,1818.5 890.8,1805.7 891.9,1791.5 893.1,1775.9 894.2,1758.9 895.3,1740.8 896.5,1721.6 897.6,1701.5 898.7,1680.6 899.9,1659.2 901.0,1637.3 902.1,1615.1 903.3,1592.8 904.4,1570.6 905.6,1548.5 906.7,1526.9 907.8,1505.8 909.0,1485.3 910.1,1465.8 911.2,1447.2 912.4,1429.7 913.5,1413.5 914.6,1398.7 915.8,1385.3 916.9,1373.6 918.0,1363.5 919.2,1355.2 920.3,1348.6 921.4,1344.0 922.6,1341.2 923.7,1340.3 924.8,1341.3 926.0,1344.3 927.1,1349.2 928.3,1355.9 929.4,1364.4 930.5,1374.6 931.7,1386.5 932.8,1400.0 933.9,1414.9 935.1,1431.3 936.2,1448.8 937.3,1467.5 938.5,1487.2 939.6,1507.7 940.7,1528.8 941.9,1550.5 943.0,1572.6 944.1,1594.8 945.3,1617.1 946.4,1639.3 947.6,1661.1 948.7,1682.6 949.8,1703.3 951.0,1723.4 952.1,1742.5 953.2,1760.5 954.4,1777.3 955.5,1792.9 956.6,1807.0 957.8,1819.5 958.9,1830.5 960.0,1839.7 961.2,1847.1 962.3,1852.7 963.4,1856.5 964.6,1858.3 965.7,1858.2 966.8,1856.2 968.0,1852.3 969.1,1846.5 970.3,1838.9 971.4,1829.5 972.5,1818.5 973.7,1805.7 974.8,1791.5 975.9,1775.9 977.1,1758.9 978.2,1740.8 979.3,1721.6 980.5,1701.5 981.6,1680.6 982.7,1659.2 983.9,1637.3 985.0,1615.1 986.1,1592.8 987.3,1570.6 988.4,1548.5 989.5,1526.9 990.7,1505.8 991.8,1485.3 993.0,1465.8 994.1,1447.2 995.2,1429.7 996.4,1413.5 997.5,1398.7 998.6,1385.3 999.8,1373.6 1000.9,1363.5 1002.0,1355.2 1003.2,1348.6 1004.3,1344.0 1005.4,1341.2 1006.6,1340.3 1007.7,1341.3 1008.8,1344.3 1010.0,1349.2 1011.1,1355.9 1012.3,1364.4 1013.4,1374.6 1014.5,1386.5 1015.7,1400.0 1016.8,1414.9 1017.9,1431.3 1019.1,1448.8 1020.2,1467.5 1021.3,1487.2 1022.5,1507.7 1023.6,1528.8 1024.7,1550.5 1025.9,1572.6 1027.0,1594.8 1028.1,1617.1 1029.3,1639.3 1030.4,1661.1 1031.5,1682.6 1032.7,1703.3 1033.8,1723.4 1035.0,1742.5 1036.1,1760.5 1037.2,1777.3 1038.4,1792.9 1039.5,1807.0 1040.6,1819.5 1041.8,1830.5 1042.9,1839.7 1044.0,1847.1 1045.2,1852.7 1046.3,1856.5 1047.4,1858.3 1048.6,1858.2 1049.7,1856.2 1050.8,1852.3 1052.0,1846.5 1053.1,1838.9 1054.2,1829.5 1055.4,1818.5 1056.5,1805.7 1057.7,1791.5 1058.8,1775.9 1059.9,1758.9 1061.1,1740.8 1062.2,1721.6 1063.3,1701.5 1064.5,1680.6 1065.6,1659.2 1066.7,1637.3 1067.9,1615.1 1069.0,1592.8 1070.1,1570.6 1071.3,1548.5 1072.4,1526.9 1073.5,1505.8 1074.7,1485.3 1075.8,1465.8 1077.0,1447.2 1078.1,1429.7 1079.2,1413.5 1080.4,1398.7 1081.5,1385.3 1082.6,1373.6 1083.8,1363.5 1084.9,1355.2 1086.0,1348.6 1087.2,1344.0 1088.3,1341.2 1089.4,1340.3 1090.6,1341.3 1091.7,1344.3 1092.8,1349.2 1094.0,1355.9 1095.1,1364.4 1096.2,1374.6 1097.4,1386.5 1098.5,1400.0 1099.7,1414.9 1100.8,1431.3 1101.9,1448.8 1103.1,1467.5 1104.2,1487.2 1105.3,1507.7 1106.5,1528.8 1107.6,1550.5 1108.7,1572.6 1109.9,1594.8 1111.0,1617.1 1112.1,1639.3 1113.3,1661.1 1114.4,1682.6 1115.5,1703.3 1116.7,1723.4 1117.8,1742.5 1118.9,1760.5 1120.1,1777.3 1121.2,1792.9 1122.4,1807.0 1123.5,1819.5 1124.6,1830.5 1125.8,1839.7 1126.9,1847.1 1128.0,1852.7 1129.2,1856.5 1130.3,1858.3 1131.4,1858.2 1132.6,1856.2 1133.7,1852.3 1134.8,1846.5 1136.0,1838.9 1137.1,1829.5 1138.2,1818.5 1139.4,1805.7 1140.5,1791.5 1141.7,1775.9 1142.8,1758.9 1143.9,1740.8 1145.1,1721.6 1146.2,1701.5 1147.3,1680.6 1148.5,1659.2 1149.6,1637.3 1150.7,1615.1 1151.9,1592.8 1153.0,1570.6 1154.1,1548.5 1155.3,1526.9 1156.4,1505.8 1157.5,1485.3 1158.7,1465.8 1159.8,1447.2 1160.9,1429.7 1162.1,1413.5 1163.2,1398.7 1164.4,1385.3 1165.5,1373.6 1166.6,1363.5 1167.8,1355.2 1168.9,1348.6 1170.0,1344.0 1171.2,1341.2 1172.3,1340.3 1173.4,1341.3 1174.6,1344.3 1175.7,1349.2 1176.8,1355.9 1178.0,1364.4 1179.1,1374.6 1180.2,1386.5 1181.4,1400.0 1182.5,1414.9 1183.6,1431.3 1184.8,1448.8 1185.9,1467.5 1187.1,1487.2 1188.2,1507.7 1189.3,1528.8 1190.5,1550.5 1191.6,1572.6 1192.7,1594.8 1193.9,1617.1 1195.0,1639.3" fill="none" stroke="#000" stroke-width="5" stroke-linejoin="round"/>
<linearGradient id="gC" gradientUnits="userSpaceOnUse" x1="0" y1="1400.5" x2="0" y2="1798.3"><stop offset="0" stop-color="#fbfbfb"/><stop offset="0.324" stop-color="#f4f4f4"/><stop offset="0.437" stop-color="#f0f0f0"/><stop offset="0.750" stop-color="#f0f0f0"/><stop offset="1" stop-color="#f7f7f7"/></linearGradient>
<polygon points="117.0,1515.7 118.0,1526.8 119.0,1537.9 120.0,1548.6 121.0,1558.5 122.0,1567.0 123.0,1573.8 124.0,1578.5 125.0,1580.5 126.0,1580.5 127.0,1580.1 128.0,1579.6 129.0,1578.8 130.0,1577.8 131.0,1576.8 132.0,1575.7 133.0,1574.5 134.0,1573.4 135.0,1572.3 136.0,1571.3 137.0,1570.4 138.0,1569.7 139.0,1569.2 140.0,1568.9 141.0,1569.3 142.0,1571.2 143.0,1574.3 144.0,1578.1 145.0,1582.0 146.0,1585.5 147.0,1588.0 148.0,1588.9 149.0,1587.3 150.0,1582.8 151.0,1575.7 152.0,1566.5 153.0,1555.5 154.0,1543.1 155.0,1529.7 156.0,1515.6 157.0,1501.3 158.0,1487.2 159.0,1473.5 160.0,1460.8 161.0,1449.3 162.0,1439.5 163.0,1431.8 164.0,1426.5 165.0,1423.9 166.0,1424.5 167.0,1427.8 168.0,1433.1 169.0,1439.9 170.0,1447.5 171.0,1455.5 172.0,1463.1 173.0,1469.7 174.0,1474.9 175.0,1477.9 176.0,1478.2 177.0,1476.4 178.0,1472.8 179.0,1467.8 180.0,1461.7 181.0,1454.9 182.0,1447.7 183.0,1440.5 184.0,1433.6 185.0,1427.2 186.0,1421.9 187.0,1417.8 188.0,1415.4 189.0,1415.0 190.0,1417.4 191.0,1422.4 192.0,1429.6 193.0,1438.9 194.0,1449.7 195.0,1461.8 196.0,1474.9 197.0,1488.5 198.0,1502.4 199.0,1516.1 200.0,1529.4 201.0,1542.0 202.0,1553.4 203.0,1563.3 204.0,1571.4 205.0,1577.3 206.0,1580.8 207.0,1581.5 208.0,1581.3 209.0,1581.0 210.0,1580.5 211.0,1579.9 212.0,1579.4 213.0,1578.9 214.0,1578.4 215.0,1578.1 216.0,1578.0 217.0,1578.2 218.0,1578.6 219.0,1579.3 220.0,1580.1 221.0,1581.1 222.0,1582.2 223.0,1583.4 224.0,1584.5 225.0,1585.7 226.0,1586.7 227.0,1587.6 228.0,1588.3 229.0,1588.8 230.0,1589.0 231.0,1588.0 232.0,1583.9 233.0,1577.3 234.0,1568.3 235.0,1557.5 236.0,1545.2 237.0,1531.8 238.0,1517.7 239.0,1503.2 240.0,1488.8 241.0,1474.9 242.0,1461.8 243.0,1449.9 244.0,1439.6 245.0,1431.3 246.0,1425.4 247.0,1422.2 248.0,1422.1 249.0,1424.6 250.0,1429.0 251.0,1434.7 252.0,1441.4 253.0,1448.4 254.0,1455.2 255.0,1461.3 256.0,1466.2 257.0,1469.3 258.0,1470.1 259.0,1468.7 260.0,1465.8 261.0,1461.4 262.0,1455.9 263.0,1449.6 264.0,1442.8 265.0,1435.6 266.0,1428.4 267.0,1421.5 268.0,1415.2 269.0,1409.6 270.0,1405.1 271.0,1402.0 272.0,1400.5 273.0,1401.3 274.0,1405.2 275.0,1412.1 276.0,1421.5 277.0,1432.9 278.0,1445.9 279.0,1460.2 280.0,1475.3 281.0,1490.9 282.0,1506.4 283.0,1521.5 284.0,1535.8 285.0,1548.8 286.0,1560.2 287.0,1569.6 288.0,1576.5 289.0,1580.4 290.0,1581.3 291.0,1581.1 292.0,1580.7 293.0,1580.2 294.0,1579.7 295.0,1579.4 296.0,1579.3 297.0,1579.8 298.0,1580.8 299.0,1582.0 300.0,1583.3 301.0,1584.3 302.0,1584.8 303.0,1584.8 304.0,1584.6 305.0,1584.4 306.0,1584.0 307.0,1583.6 308.0,1583.1 309.0,1582.5 310.0,1581.8 311.0,1581.1 312.0,1580.3 313.0,1579.5 314.0,1577.8 315.0,1573.7 316.0,1567.5 317.0,1559.4 318.0,1549.9 319.0,1539.1 320.0,1527.4 321.0,1515.1 322.0,1502.5 323.0,1489.9 324.0,1477.7 325.0,1466.0 326.0,1455.3 327.0,1445.7 328.0,1437.7 329.0,1431.5 330.0,1427.5 331.0,1425.9 332.0,1426.9 333.0,1430.1 334.0,1435.0 335.0,1441.2 336.0,1448.1 337.0,1455.4 338.0,1462.5 339.0,1468.9 340.0,1474.3 341.0,1478.0 342.0,1479.7 343.0,1479.2 344.0,1477.0 345.0,1473.4 346.0,1468.7 347.0,1463.2 348.0,1457.2 349.0,1450.9 350.0,1444.8 351.0,1439.0 352.0,1433.8 353.0,1429.7 354.0,1426.7 355.0,1425.3 356.0,1426.0 357.0,1429.5 358.0,1435.6 359.0,1443.8 360.0,1453.9 361.0,1465.4 362.0,1478.0 363.0,1491.3 364.0,1505.0 365.0,1518.6 366.0,1531.9 367.0,1544.4 368.0,1555.8 369.0,1565.7 370.0,1573.8 371.0,1579.6 372.0,1582.8 373.0,1583.4 374.0,1583.2 375.0,1582.8 376.0,1582.4 377.0,1582.1 378.0,1582.0 379.0,1582.3 380.0,1583.0 381.0,1584.0 382.0,1584.9 383.0,1585.7 384.0,1586.2 385.0,1586.2 386.0,1586.0 387.0,1585.7 388.0,1585.2 389.0,1584.7 390.0,1584.0 391.0,1583.2 392.0,1582.3 393.0,1581.3 394.0,1580.2 395.0,1579.1 396.0,1577.9 397.0,1575.4 398.0,1570.5 399.0,1563.7 400.0,1555.0 401.0,1545.0 402.0,1533.8 403.0,1521.7 404.0,1509.2 405.0,1496.4 406.0,1483.6 407.0,1471.3 408.0,1459.6 409.0,1448.9 410.0,1439.4 411.0,1431.6 412.0,1425.6 413.0,1421.7 414.0,1420.4 415.0,1421.8 416.0,1425.8 417.0,1431.8 418.0,1439.1 419.0,1447.3 420.0,1455.7 421.0,1463.9 422.0,1471.2 423.0,1477.2 424.0,1481.2 425.0,1482.6 426.0,1481.2 427.0,1477.3 428.0,1471.5 429.0,1464.2 430.0,1455.9 431.0,1447.2 432.0,1438.5 433.0,1430.4 434.0,1423.3 435.0,1417.8 436.0,1414.4 437.0,1413.6 438.0,1415.8 439.0,1420.8 440.0,1428.4 441.0,1438.1 442.0,1449.5 443.0,1462.4 444.0,1476.2 445.0,1490.8 446.0,1505.6 447.0,1520.3 448.0,1534.6 449.0,1548.1 450.0,1560.4 451.0,1571.2 452.0,1580.1 453.0,1586.7 454.0,1590.7 455.0,1591.7 456.0,1591.1 457.0,1589.7 458.0,1588.0 459.0,1586.1 460.0,1584.3 461.0,1582.9 462.0,1582.1 463.0,1582.2 464.0,1583.1 465.0,1584.3 466.0,1585.5 467.0,1586.2 468.0,1585.9 469.0,1584.8 470.0,1583.3 471.0,1582.0 472.0,1581.3 473.0,1581.8 474.0,1583.1 475.0,1585.1 476.0,1587.4 477.0,1589.7 478.0,1591.6 479.0,1592.8 480.0,1592.9 481.0,1590.3 482.0,1584.6 483.0,1576.2 484.0,1565.7 485.0,1553.5 486.0,1539.8 487.0,1525.2 488.0,1510.0 489.0,1494.7 490.0,1479.6 491.0,1465.3 492.0,1452.0 493.0,1440.2 494.0,1430.3 495.0,1422.7 496.0,1417.9 497.0,1416.2 498.0,1417.5 499.0,1421.1 500.0,1426.6 501.0,1433.2 502.0,1440.7 503.0,1448.4 504.0,1455.9 505.0,1462.5 506.0,1468.0 507.0,1471.6 508.0,1472.9 509.0,1471.8 510.0,1468.9 511.0,1464.5 512.0,1458.9 513.0,1452.5 514.0,1445.6 515.0,1438.7 516.0,1432.0 517.0,1426.0 518.0,1420.9 519.0,1417.2 520.0,1415.2 521.0,1415.1 522.0,1417.1 523.0,1420.7 524.0,1425.9 525.0,1432.5 526.0,1440.4 527.0,1449.3 528.0,1459.1 529.0,1469.6 530.0,1480.6 531.0,1492.1 532.0,1503.7 533.0,1515.4 534.0,1526.9 535.0,1538.1 536.0,1548.9 537.0,1559.0 538.0,1568.3 539.0,1576.6 540.0,1583.7 541.0,1589.5 542.0,1593.8 543.0,1595.4 544.0,1595.4 545.0,1595.4 546.0,1595.1 547.0,1593.0 548.0,1590.4 549.0,1587.5 550.0,1584.5 551.0,1581.6 552.0,1579.1 553.0,1577.0 554.0,1575.6 555.0,1575.1 556.0,1576.0 557.0,1578.5 558.0,1581.8 559.0,1585.4 560.0,1588.6 561.0,1590.9 562.0,1591.7 563.0,1589.9 564.0,1585.4 565.0,1578.4 566.0,1569.5 567.0,1558.8 568.0,1546.8 569.0,1533.7 570.0,1520.0 571.0,1506.0 572.0,1492.1 573.0,1478.5 574.0,1465.6 575.0,1453.9 576.0,1443.5 577.0,1434.9 578.0,1428.4 579.0,1424.4 580.0,1423.2 581.0,1425.0 582.0,1429.3 583.0,1435.5 584.0,1443.1 585.0,1451.5 586.0,1460.1 587.0,1468.4 588.0,1475.8 589.0,1481.7 590.0,1485.5 591.0,1486.7 592.0,1485.0 593.0,1480.9 594.0,1475.0 595.0,1467.6 596.0,1459.3 597.0,1450.7 598.0,1442.2 599.0,1434.3 600.0,1427.5 601.0,1422.5 602.0,1419.5 603.0,1419.2 604.0,1421.8 605.0,1426.9 606.0,1434.3 607.0,1443.6 608.0,1454.4 609.0,1466.5 610.0,1479.6 611.0,1493.2 612.0,1507.0 613.0,1520.8 614.0,1534.2 615.0,1546.9 616.0,1558.6 617.0,1568.8 618.0,1577.4 619.0,1583.9 620.0,1588.0 621.0,1589.5 622.0,1588.7 623.0,1586.5 624.0,1583.6 625.0,1580.4 626.0,1577.6 627.0,1575.7 628.0,1575.1 629.0,1575.4 630.0,1576.0 631.0,1576.9 632.0,1578.0 633.0,1579.3 634.0,1580.7 635.0,1582.2 636.0,1583.8 637.0,1585.2 638.0,1586.6 639.0,1587.9 640.0,1588.9 641.0,1589.7 642.0,1590.2 643.0,1590.2 644.0,1588.3 645.0,1583.7 646.0,1576.9 647.0,1568.1 648.0,1557.8 649.0,1546.1 650.0,1533.4 651.0,1520.1 652.0,1506.4 653.0,1492.7 654.0,1479.2 655.0,1466.4 656.0,1454.5 657.0,1443.8 658.0,1434.7 659.0,1427.5 660.0,1422.5 661.0,1419.9 662.0,1420.0 663.0,1421.9 664.0,1425.1 665.0,1429.4 666.0,1434.6 667.0,1440.3 668.0,1446.3 669.0,1452.3 670.0,1458.0 671.0,1463.2 672.0,1467.5 673.0,1470.7 674.0,1472.6 675.0,1472.7 676.0,1470.3 677.0,1465.8 678.0,1459.5 679.0,1452.0 680.0,1443.9 681.0,1435.5 682.0,1427.4 683.0,1420.0 684.0,1413.9 685.0,1409.5 686.0,1407.4 687.0,1408.1 688.0,1411.6 689.0,1417.6 690.0,1426.0 691.0,1436.2 692.0,1447.9 693.0,1460.9 694.0,1474.8 695.0,1489.3 696.0,1503.9 697.0,1518.5 698.0,1532.6 699.0,1545.9 700.0,1558.0 701.0,1568.8 702.0,1577.7 703.0,1584.5 704.0,1588.8 705.0,1590.3 706.0,1590.0 707.0,1589.3 708.0,1588.1 709.0,1586.6 710.0,1584.8 711.0,1582.7 712.0,1580.5 713.0,1578.1 714.0,1575.7 715.0,1573.3 716.0,1570.9 717.0,1568.7 718.0,1566.6 719.0,1564.8 720.0,1563.3 721.0,1562.2 722.0,1561.5 723.0,1561.3 724.0,1562.3 725.0,1564.7 726.0,1567.7 727.0,1571.0 728.0,1573.9 729.0,1575.9 730.0,1576.4 731.0,1573.9 732.0,1568.0 733.0,1559.4 734.0,1548.4 735.0,1535.6 736.0,1521.5 737.0,1506.5 738.0,1491.2 739.0,1475.9 740.0,1461.3 741.0,1447.8 742.0,1435.9 743.0,1426.0 744.0,1418.7 745.0,1414.4 746.0,1413.6 747.0,1415.7 748.0,1420.0 749.0,1426.1 750.0,1433.4 751.0,1441.4 752.0,1449.7 753.0,1457.8 754.0,1465.1 755.0,1471.3 756.0,1475.8 757.0,1478.2 758.0,1477.9 759.0,1475.1 760.0,1470.2 761.0,1463.9 762.0,1456.5 763.0,1448.7 764.0,1440.8 765.0,1433.5 766.0,1427.3 767.0,1422.6 768.0,1420.0 769.0,1420.1 770.0,1423.0 771.0,1428.5 772.0,1436.3 773.0,1445.9 774.0,1457.1 775.0,1469.5 776.0,1482.8 777.0,1496.6 778.0,1510.6 779.0,1524.4 780.0,1537.7 781.0,1550.1 782.0,1561.3 783.0,1570.9 784.0,1578.7 785.0,1584.2 786.0,1587.1 787.0,1587.3 788.0,1585.9 789.0,1583.6 790.0,1580.7 791.0,1577.7 792.0,1575.0 793.0,1573.0 794.0,1572.3 795.0,1572.7 796.0,1573.9 797.0,1575.6 798.0,1577.8 799.0,1580.2 800.0,1582.8 801.0,1585.4 802.0,1587.9 803.0,1590.0 804.0,1591.7 805.0,1592.8 806.0,1593.1 807.0,1591.7 808.0,1588.2 809.0,1582.8 810.0,1575.6 811.0,1567.1 812.0,1557.2 813.0,1546.4 814.0,1534.7 815.0,1522.5 816.0,1509.9 817.0,1497.2 818.0,1484.5 819.0,1472.2 820.0,1460.4 821.0,1449.4 822.0,1439.3 823.0,1430.5 824.0,1423.0 825.0,1417.2 826.0,1413.3 827.0,1411.5 828.0,1412.1 829.0,1415.5 830.0,1421.1 831.0,1428.4 832.0,1437.0 833.0,1446.3 834.0,1455.9 835.0,1465.2 836.0,1473.8 837.0,1481.1 838.0,1486.7 839.0,1490.1 840.0,1490.6 841.0,1488.1 842.0,1482.9 843.0,1475.5 844.0,1466.6 845.0,1456.8 846.0,1446.7 847.0,1436.8 848.0,1427.7 849.0,1420.0 850.0,1414.3 851.0,1411.1 852.0,1411.0 853.0,1413.5 854.0,1418.1 855.0,1424.7 856.0,1433.0 857.0,1442.7 858.0,1453.6 859.0,1465.3 860.0,1477.8 861.0,1490.6 862.0,1503.5 863.0,1516.3 864.0,1528.8 865.0,1540.5 866.0,1551.4 867.0,1561.1 868.0,1569.4 869.0,1576.0 870.0,1580.6 871.0,1583.1 872.0,1583.4 873.0,1583.4 874.0,1583.4 875.0,1583.4 876.0,1583.4 877.0,1583.4 878.0,1583.4 879.0,1583.4 880.0,1583.4 881.0,1583.4 882.0,1583.4 883.0,1583.4 884.0,1583.4 885.0,1583.6 886.0,1584.1 887.0,1584.7 888.0,1585.4 889.0,1586.1 890.0,1586.8 891.0,1587.3 892.0,1587.5 893.0,1586.7 894.0,1583.6 895.0,1578.4 896.0,1571.4 897.0,1562.8 898.0,1553.0 899.0,1542.3 900.0,1530.8 901.0,1518.9 902.0,1506.8 903.0,1494.9 904.0,1483.4 905.0,1472.5 906.0,1462.6 907.0,1453.9 908.0,1446.7 909.0,1441.3 910.0,1438.0 911.0,1437.0 912.0,1438.2 913.0,1441.1 914.0,1445.4 915.0,1450.6 916.0,1456.5 917.0,1462.7 918.0,1468.8 919.0,1474.4 920.0,1479.2 921.0,1482.8 922.0,1484.9 923.0,1485.1 924.0,1482.9 925.0,1478.6 926.0,1472.7 927.0,1465.6 928.0,1457.9 929.0,1449.9 930.0,1442.2 931.0,1435.1 932.0,1429.2 933.0,1424.9 934.0,1422.7 935.0,1423.0 936.0,1425.7 937.0,1430.5 938.0,1437.3 939.0,1445.7 940.0,1455.5 941.0,1466.4 942.0,1478.2 943.0,1490.5 944.0,1503.1 945.0,1515.8 946.0,1528.2 947.0,1540.1 948.0,1551.3 949.0,1561.5 950.0,1570.3 951.0,1577.6 952.0,1583.1 953.0,1586.5 954.0,1587.5 955.0,1587.5 956.0,1587.5 957.0,1587.4 958.0,1587.3 959.0,1587.2 960.0,1587.1 961.0,1587.0 962.0,1586.8 963.0,1586.7 964.0,1586.5 965.0,1586.3 966.0,1586.0 967.0,1585.8 968.0,1585.5 969.0,1585.2 970.0,1584.9 971.0,1584.6 972.0,1584.2 973.0,1583.9 974.0,1583.5 975.0,1582.3 976.0,1578.8 977.0,1573.1 978.0,1565.7 979.0,1556.7 980.0,1546.3 981.0,1535.0 982.0,1522.9 983.0,1510.4 984.0,1497.6 985.0,1484.9 986.0,1472.5 987.0,1460.8 988.0,1449.9 989.0,1440.1 990.0,1431.8 991.0,1425.1 992.0,1420.4 993.0,1417.9 994.0,1417.9 995.0,1420.0 996.0,1423.8 997.0,1429.0 998.0,1435.3 999.0,1442.4 1000.0,1449.7 1001.0,1457.1 1002.0,1464.2 1003.0,1470.6 1004.0,1475.9 1005.0,1479.9 1006.0,1482.2 1007.0,1482.4 1008.0,1479.8 1009.0,1475.0 1010.0,1468.4 1011.0,1460.5 1012.0,1452.1 1013.0,1443.6 1014.0,1435.5 1015.0,1428.5 1016.0,1423.0 1017.0,1419.7 1018.0,1419.2 1019.0,1422.0 1020.0,1428.1 1021.0,1436.8 1022.0,1447.8 1023.0,1460.6 1024.0,1474.6 1025.0,1489.3 1026.0,1504.4 1027.0,1519.4 1028.0,1533.7 1029.0,1546.8 1030.0,1558.4 1031.0,1567.8 1032.0,1574.8 1033.0,1578.6 1034.0,1579.2 1035.0,1578.0 1036.0,1576.1 1037.0,1573.7 1038.0,1571.6 1039.0,1570.0 1040.0,1569.6 1041.0,1570.4 1042.0,1572.0 1043.0,1574.2 1044.0,1576.6 1045.0,1579.1 1046.0,1581.2 1047.0,1582.7 1048.0,1583.4 1049.0,1583.4 1050.0,1583.3 1051.0,1583.2 1052.0,1583.0 1053.0,1582.8 1054.0,1582.5 1055.0,1582.2 1056.0,1581.9 1057.0,1581.5 1058.0,1581.1 1059.0,1580.6 1060.0,1579.0 1061.0,1574.6 1062.0,1567.9 1063.0,1559.1 1064.0,1548.7 1065.0,1537.0 1066.0,1524.3 1067.0,1511.0 1068.0,1497.5 1069.0,1484.1 1070.0,1471.2 1071.0,1459.1 1072.0,1448.2 1073.0,1438.8 1074.0,1431.3 1075.0,1426.1 1076.0,1423.4 1077.0,1423.7 1078.0,1426.5 1079.0,1431.4 1080.0,1437.8 1081.0,1445.1 1082.0,1453.0 1083.0,1460.8 1084.0,1468.0 1085.0,1474.1 1086.0,1478.6 1087.0,1481.0 1088.0,1480.8 1089.0,1478.6 1090.0,1474.6 1091.0,1469.2 1092.0,1462.8 1093.0,1455.6 1094.0,1447.9 1095.0,1440.2 1096.0,1432.6 1097.0,1425.6 1098.0,1419.4 1099.0,1414.5 1100.0,1411.0 1101.0,1409.3 1102.0,1410.0 1103.0,1413.9 1104.0,1420.5 1105.0,1429.6 1106.0,1440.6 1107.0,1453.2 1108.0,1467.0 1109.0,1481.6 1110.0,1496.6 1111.0,1511.6 1112.0,1526.1 1113.0,1539.8 1114.0,1552.3 1115.0,1563.2 1116.0,1572.1 1117.0,1578.5 1118.0,1582.1 1119.0,1582.9 1120.0,1583.3 1121.0,1583.6 1122.0,1583.9 1123.0,1584.2 1124.0,1584.4 1125.0,1584.6 1126.0,1584.8 1127.0,1584.9 1128.0,1585.0 1129.0,1585.0 1130.0,1585.0 1131.0,1584.9 1132.0,1584.8 1133.0,1584.6 1134.0,1584.4 1135.0,1584.2 1136.0,1583.9 1137.0,1583.5 1138.0,1583.1 1139.0,1582.7 1140.0,1582.2 1141.0,1581.7 1142.0,1581.2 1143.0,1580.6 1144.0,1579.6 1145.0,1576.1 1146.0,1570.1 1147.0,1562.0 1148.0,1552.0 1149.0,1540.7 1150.0,1528.3 1151.0,1515.3 1152.0,1502.1 1153.0,1488.9 1154.0,1476.1 1155.0,1464.3 1156.0,1453.6 1157.0,1444.5 1158.0,1437.4 1159.0,1432.6 1160.0,1430.5 1161.0,1431.2 1162.0,1434.1 1163.0,1438.8 1164.0,1444.8 1165.0,1451.6 1166.0,1458.8 1167.0,1466.0 1168.0,1472.6 1169.0,1478.3 1170.0,1482.5 1171.0,1484.8 1172.0,1484.8 1173.0,1482.9 1174.0,1479.3 1175.0,1474.4 1176.0,1468.6 1177.0,1462.2 1178.0,1455.5 1179.0,1448.9 1180.0,1442.7 1181.0,1437.3 1182.0,1433.0 1183.0,1430.2 1184.0,1429.2 1185.0,1430.4 1186.0,1434.1 1187.0,1439.9 1188.0,1447.8 1189.0,1457.6 1190.0,1469.1 1191.0,1482.2 1192.0,1496.7 1193.0,1512.4 1194.0,1529.2 1195.0,1546.9 1195.0,1651.9 1194.0,1669.6 1193.0,1686.4 1192.0,1702.1 1191.0,1716.6 1190.0,1729.7 1189.0,1741.2 1188.0,1751.0 1187.0,1758.9 1186.0,1764.7 1185.0,1768.4 1184.0,1769.6 1183.0,1768.6 1182.0,1765.8 1181.0,1761.5 1180.0,1756.1 1179.0,1749.9 1178.0,1743.3 1177.0,1736.6 1176.0,1730.2 1175.0,1724.4 1174.0,1719.5 1173.0,1715.9 1172.0,1714.0 1171.0,1714.0 1170.0,1716.3 1169.0,1720.5 1168.0,1726.2 1167.0,1732.8 1166.0,1740.0 1165.0,1747.2 1164.0,1754.0 1163.0,1760.0 1162.0,1764.7 1161.0,1767.6 1160.0,1768.3 1159.0,1766.2 1158.0,1761.4 1157.0,1754.3 1156.0,1745.2 1155.0,1734.5 1154.0,1722.7 1153.0,1709.9 1152.0,1696.7 1151.0,1683.5 1150.0,1670.5 1149.0,1658.1 1148.0,1646.8 1147.0,1636.8 1146.0,1628.7 1145.0,1622.7 1144.0,1619.2 1143.0,1618.2 1142.0,1617.6 1141.0,1617.1 1140.0,1616.6 1139.0,1616.1 1138.0,1615.7 1137.0,1615.3 1136.0,1614.9 1135.0,1614.6 1134.0,1614.4 1133.0,1614.2 1132.0,1614.0 1131.0,1613.9 1130.0,1613.8 1129.0,1613.8 1128.0,1613.8 1127.0,1613.9 1126.0,1614.0 1125.0,1614.2 1124.0,1614.4 1123.0,1614.6 1122.0,1614.9 1121.0,1615.2 1120.0,1615.5 1119.0,1615.9 1118.0,1616.7 1117.0,1620.3 1116.0,1626.7 1115.0,1635.6 1114.0,1646.5 1113.0,1659.0 1112.0,1672.7 1111.0,1687.2 1110.0,1702.2 1109.0,1717.2 1108.0,1731.8 1107.0,1745.6 1106.0,1758.2 1105.0,1769.2 1104.0,1778.3 1103.0,1784.9 1102.0,1788.8 1101.0,1789.5 1100.0,1787.8 1099.0,1784.3 1098.0,1779.4 1097.0,1773.2 1096.0,1766.2 1095.0,1758.6 1094.0,1750.9 1093.0,1743.2 1092.0,1736.0 1091.0,1729.6 1090.0,1724.2 1089.0,1720.2 1088.0,1718.0 1087.0,1717.8 1086.0,1720.2 1085.0,1724.7 1084.0,1730.8 1083.0,1738.0 1082.0,1745.8 1081.0,1753.7 1080.0,1761.0 1079.0,1767.4 1078.0,1772.3 1077.0,1775.1 1076.0,1775.4 1075.0,1772.7 1074.0,1767.5 1073.0,1760.0 1072.0,1750.6 1071.0,1739.7 1070.0,1727.6 1069.0,1714.7 1068.0,1701.3 1067.0,1687.8 1066.0,1674.5 1065.0,1661.8 1064.0,1650.1 1063.0,1639.7 1062.0,1630.9 1061.0,1624.2 1060.0,1619.8 1059.0,1618.2 1058.0,1617.7 1057.0,1617.3 1056.0,1616.9 1055.0,1616.6 1054.0,1616.3 1053.0,1616.0 1052.0,1615.8 1051.0,1615.6 1050.0,1615.5 1049.0,1615.4 1048.0,1615.4 1047.0,1616.1 1046.0,1617.6 1045.0,1619.7 1044.0,1622.2 1043.0,1624.6 1042.0,1626.8 1041.0,1628.4 1040.0,1629.2 1039.0,1628.8 1038.0,1627.2 1037.0,1625.1 1036.0,1622.7 1035.0,1620.8 1034.0,1619.6 1033.0,1620.2 1032.0,1624.0 1031.0,1631.0 1030.0,1640.4 1029.0,1652.0 1028.0,1665.1 1027.0,1679.4 1026.0,1694.4 1025.0,1709.5 1024.0,1724.2 1023.0,1738.2 1022.0,1751.0 1021.0,1762.0 1020.0,1770.7 1019.0,1776.8 1018.0,1779.6 1017.0,1779.1 1016.0,1775.8 1015.0,1770.3 1014.0,1763.3 1013.0,1755.2 1012.0,1746.7 1011.0,1738.3 1010.0,1730.4 1009.0,1723.8 1008.0,1719.0 1007.0,1716.4 1006.0,1716.6 1005.0,1718.9 1004.0,1722.9 1003.0,1728.2 1002.0,1734.6 1001.0,1741.7 1000.0,1749.1 999.0,1756.4 998.0,1763.5 997.0,1769.8 996.0,1775.0 995.0,1778.8 994.0,1780.9 993.0,1780.9 992.0,1778.4 991.0,1773.7 990.0,1767.0 989.0,1758.7 988.0,1748.9 987.0,1738.0 986.0,1726.3 985.0,1713.9 984.0,1701.2 983.0,1688.4 982.0,1675.9 981.0,1663.8 980.0,1652.5 979.0,1642.1 978.0,1633.1 977.0,1625.7 976.0,1620.0 975.0,1616.5 974.0,1615.3 973.0,1614.9 972.0,1614.6 971.0,1614.2 970.0,1613.9 969.0,1613.6 968.0,1613.3 967.0,1613.0 966.0,1612.8 965.0,1612.5 964.0,1612.3 963.0,1612.1 962.0,1612.0 961.0,1611.8 960.0,1611.7 959.0,1611.6 958.0,1611.5 957.0,1611.4 956.0,1611.3 955.0,1611.3 954.0,1611.3 953.0,1612.3 952.0,1615.7 951.0,1621.2 950.0,1628.5 949.0,1637.3 948.0,1647.5 947.0,1658.7 946.0,1670.6 945.0,1683.0 944.0,1695.7 943.0,1708.3 942.0,1720.6 941.0,1732.4 940.0,1743.3 939.0,1753.1 938.0,1761.5 937.0,1768.3 936.0,1773.1 935.0,1775.8 934.0,1776.1 933.0,1773.9 932.0,1769.6 931.0,1763.7 930.0,1756.6 929.0,1748.9 928.0,1740.9 927.0,1733.2 926.0,1726.1 925.0,1720.2 924.0,1715.9 923.0,1713.7 922.0,1713.9 921.0,1716.0 920.0,1719.6 919.0,1724.4 918.0,1730.0 917.0,1736.1 916.0,1742.3 915.0,1748.2 914.0,1753.4 913.0,1757.7 912.0,1760.6 911.0,1761.8 910.0,1760.8 909.0,1757.5 908.0,1752.1 907.0,1744.9 906.0,1736.2 905.0,1726.3 904.0,1715.4 903.0,1703.9 902.0,1692.0 901.0,1679.9 900.0,1668.0 899.0,1656.5 898.0,1645.8 897.0,1636.0 896.0,1627.4 895.0,1620.4 894.0,1615.2 893.0,1612.1 892.0,1611.3 891.0,1611.5 890.0,1612.0 889.0,1612.7 888.0,1613.4 887.0,1614.1 886.0,1614.7 885.0,1615.2 884.0,1615.4 883.0,1615.4 882.0,1615.4 881.0,1615.4 880.0,1615.4 879.0,1615.4 878.0,1615.4 877.0,1615.4 876.0,1615.4 875.0,1615.4 874.0,1615.4 873.0,1615.4 872.0,1615.4 871.0,1615.7 870.0,1618.2 869.0,1622.8 868.0,1629.4 867.0,1637.7 866.0,1647.4 865.0,1658.3 864.0,1670.0 863.0,1682.5 862.0,1695.3 861.0,1708.2 860.0,1721.0 859.0,1733.5 858.0,1745.2 857.0,1756.1 856.0,1765.8 855.0,1774.1 854.0,1780.7 853.0,1785.3 852.0,1787.8 851.0,1787.7 850.0,1784.5 849.0,1778.8 848.0,1771.1 847.0,1762.0 846.0,1752.1 845.0,1742.0 844.0,1732.2 843.0,1723.3 842.0,1715.9 841.0,1710.7 840.0,1708.2 839.0,1708.7 838.0,1712.1 837.0,1717.7 836.0,1725.0 835.0,1733.6 834.0,1742.9 833.0,1752.5 832.0,1761.8 831.0,1770.4 830.0,1777.7 829.0,1783.3 828.0,1786.7 827.0,1787.3 826.0,1785.5 825.0,1781.6 824.0,1775.8 823.0,1768.3 822.0,1759.5 821.0,1749.4 820.0,1738.4 819.0,1726.6 818.0,1714.3 817.0,1701.6 816.0,1688.9 815.0,1676.3 814.0,1664.1 813.0,1652.4 812.0,1641.6 811.0,1631.7 810.0,1623.2 809.0,1616.0 808.0,1610.6 807.0,1607.1 806.0,1605.7 805.0,1606.0 804.0,1607.1 803.0,1608.8 802.0,1610.9 801.0,1613.4 800.0,1616.0 799.0,1618.6 798.0,1621.0 797.0,1623.2 796.0,1624.9 795.0,1626.1 794.0,1626.5 793.0,1625.8 792.0,1623.8 791.0,1621.1 790.0,1618.1 789.0,1615.2 788.0,1612.9 787.0,1611.5 786.0,1611.7 785.0,1614.6 784.0,1620.1 783.0,1627.9 782.0,1637.5 781.0,1648.7 780.0,1661.1 779.0,1674.4 778.0,1688.2 777.0,1702.2 776.0,1716.0 775.0,1729.3 774.0,1741.7 773.0,1752.9 772.0,1762.5 771.0,1770.3 770.0,1775.8 769.0,1778.7 768.0,1778.8 767.0,1776.2 766.0,1771.5 765.0,1765.3 764.0,1758.0 763.0,1750.1 762.0,1742.3 761.0,1734.9 760.0,1728.6 759.0,1723.7 758.0,1720.9 757.0,1720.6 756.0,1723.0 755.0,1727.5 754.0,1733.7 753.0,1741.0 752.0,1749.1 751.0,1757.4 750.0,1765.4 749.0,1772.7 748.0,1778.8 747.0,1783.1 746.0,1785.2 745.0,1784.4 744.0,1780.1 743.0,1772.8 742.0,1762.9 741.0,1751.0 740.0,1737.5 739.0,1722.9 738.0,1707.6 737.0,1692.3 736.0,1677.3 735.0,1663.2 734.0,1650.4 733.0,1639.4 732.0,1630.8 731.0,1624.9 730.0,1622.4 729.0,1622.9 728.0,1624.9 727.0,1627.8 726.0,1631.1 725.0,1634.1 724.0,1636.5 723.0,1637.5 722.0,1637.3 721.0,1636.6 720.0,1635.5 719.0,1634.0 718.0,1632.2 717.0,1630.1 716.0,1627.9 715.0,1625.5 714.0,1623.1 713.0,1620.7 712.0,1618.3 711.0,1616.1 710.0,1614.0 709.0,1612.2 708.0,1610.7 707.0,1609.5 706.0,1608.8 705.0,1608.5 704.0,1610.0 703.0,1614.3 702.0,1621.1 701.0,1630.0 700.0,1640.8 699.0,1652.9 698.0,1666.2 697.0,1680.3 696.0,1694.9 695.0,1709.5 694.0,1724.0 693.0,1737.9 692.0,1750.9 691.0,1762.6 690.0,1772.8 689.0,1781.2 688.0,1787.2 687.0,1790.7 686.0,1791.4 685.0,1789.3 684.0,1784.9 683.0,1778.8 682.0,1771.4 681.0,1763.3 680.0,1754.9 679.0,1746.8 678.0,1739.3 677.0,1733.0 676.0,1728.5 675.0,1726.1 674.0,1726.2 673.0,1728.1 672.0,1731.3 671.0,1735.6 670.0,1740.8 669.0,1746.5 668.0,1752.5 667.0,1758.5 666.0,1764.2 665.0,1769.4 664.0,1773.7 663.0,1776.9 662.0,1778.8 661.0,1778.9 660.0,1776.3 659.0,1771.3 658.0,1764.1 657.0,1755.0 656.0,1744.3 655.0,1732.4 654.0,1719.6 653.0,1706.1 652.0,1692.4 651.0,1678.7 650.0,1665.4 649.0,1652.7 648.0,1641.0 647.0,1630.7 646.0,1621.9 645.0,1615.1 644.0,1610.5 643.0,1608.6 642.0,1608.6 641.0,1609.1 640.0,1609.9 639.0,1610.9 638.0,1612.2 637.0,1613.6 636.0,1615.0 635.0,1616.6 634.0,1618.1 633.0,1619.5 632.0,1620.8 631.0,1621.9 630.0,1622.8 629.0,1623.4 628.0,1623.7 627.0,1623.1 626.0,1621.2 625.0,1618.4 624.0,1615.2 623.0,1612.3 622.0,1610.1 621.0,1609.3 620.0,1610.8 619.0,1614.9 618.0,1621.4 617.0,1630.0 616.0,1640.2 615.0,1651.9 614.0,1664.6 613.0,1678.0 612.0,1691.8 611.0,1705.6 610.0,1719.2 609.0,1732.3 608.0,1744.4 607.0,1755.2 606.0,1764.5 605.0,1771.9 604.0,1777.0 603.0,1779.6 602.0,1779.3 601.0,1776.3 600.0,1771.3 599.0,1764.5 598.0,1756.6 597.0,1748.1 596.0,1739.5 595.0,1731.2 594.0,1723.8 593.0,1717.9 592.0,1713.8 591.0,1712.1 590.0,1713.3 589.0,1717.1 588.0,1723.0 587.0,1730.4 586.0,1738.7 585.0,1747.3 584.0,1755.7 583.0,1763.3 582.0,1769.5 581.0,1773.8 580.0,1775.6 579.0,1774.4 578.0,1770.4 577.0,1763.9 576.0,1755.3 575.0,1744.9 574.0,1733.2 573.0,1720.3 572.0,1706.7 571.0,1692.8 570.0,1678.8 569.0,1665.1 568.0,1652.0 567.0,1640.0 566.0,1629.3 565.0,1620.4 564.0,1613.4 563.0,1608.9 562.0,1607.1 561.0,1607.9 560.0,1610.2 559.0,1613.4 558.0,1617.0 557.0,1620.3 556.0,1622.8 555.0,1623.7 554.0,1623.2 553.0,1621.8 552.0,1619.7 551.0,1617.2 550.0,1614.3 549.0,1611.3 548.0,1608.4 547.0,1605.8 546.0,1604.4 545.0,1604.4 544.0,1604.4 543.0,1604.4 542.0,1605.0 541.0,1609.3 540.0,1615.1 539.0,1622.2 538.0,1630.5 537.0,1639.8 536.0,1649.9 535.0,1660.7 534.0,1671.9 533.0,1683.4 532.0,1695.1 531.0,1706.7 530.0,1718.2 529.0,1729.2 528.0,1739.7 527.0,1749.5 526.0,1758.4 525.0,1766.3 524.0,1772.9 523.0,1778.1 522.0,1781.7 521.0,1783.7 520.0,1783.6 519.0,1781.6 518.0,1777.9 517.0,1772.8 516.0,1766.8 515.0,1760.1 514.0,1753.2 513.0,1746.3 512.0,1739.9 511.0,1734.3 510.0,1729.9 509.0,1727.0 508.0,1725.9 507.0,1727.2 506.0,1730.8 505.0,1736.3 504.0,1742.9 503.0,1750.4 502.0,1758.1 501.0,1765.6 500.0,1772.2 499.0,1777.7 498.0,1781.3 497.0,1782.6 496.0,1780.9 495.0,1776.1 494.0,1768.5 493.0,1758.6 492.0,1746.8 491.0,1733.5 490.0,1719.2 489.0,1704.1 488.0,1688.8 487.0,1673.6 486.0,1659.0 485.0,1645.3 484.0,1633.1 483.0,1622.6 482.0,1614.2 481.0,1608.5 480.0,1605.9 479.0,1606.0 478.0,1607.2 477.0,1609.1 476.0,1611.4 475.0,1613.7 474.0,1615.7 473.0,1617.0 472.0,1617.5 471.0,1616.8 470.0,1615.5 469.0,1614.0 468.0,1612.9 467.0,1612.6 466.0,1613.3 465.0,1614.5 464.0,1615.7 463.0,1616.6 462.0,1616.7 461.0,1615.9 460.0,1614.5 459.0,1612.7 458.0,1610.8 457.0,1609.1 456.0,1607.7 455.0,1607.1 454.0,1608.1 453.0,1612.1 452.0,1618.7 451.0,1627.6 450.0,1638.4 449.0,1650.7 448.0,1664.2 447.0,1678.5 446.0,1693.2 445.0,1708.0 444.0,1722.6 443.0,1736.4 442.0,1749.3 441.0,1760.7 440.0,1770.4 439.0,1778.0 438.0,1783.0 437.0,1785.2 436.0,1784.4 435.0,1781.0 434.0,1775.5 433.0,1768.4 432.0,1760.3 431.0,1751.6 430.0,1742.9 429.0,1734.6 428.0,1727.3 427.0,1721.5 426.0,1717.6 425.0,1716.2 424.0,1717.6 423.0,1721.6 422.0,1727.6 421.0,1734.9 420.0,1743.1 419.0,1751.5 418.0,1759.7 417.0,1767.0 416.0,1773.0 415.0,1777.0 414.0,1778.4 413.0,1777.1 412.0,1773.2 411.0,1767.2 410.0,1759.4 409.0,1749.9 408.0,1739.2 407.0,1727.5 406.0,1715.2 405.0,1702.4 404.0,1689.6 403.0,1677.1 402.0,1665.0 401.0,1653.8 400.0,1643.8 399.0,1635.1 398.0,1628.3 397.0,1623.4 396.0,1620.9 395.0,1619.7 394.0,1618.6 393.0,1617.5 392.0,1616.5 391.0,1615.6 390.0,1614.8 389.0,1614.1 388.0,1613.6 387.0,1613.1 386.0,1612.8 385.0,1612.6 384.0,1612.6 383.0,1613.1 382.0,1613.9 381.0,1614.8 380.0,1615.8 379.0,1616.5 378.0,1616.8 377.0,1616.7 376.0,1616.4 375.0,1616.0 374.0,1615.6 373.0,1615.4 372.0,1616.0 371.0,1619.2 370.0,1625.0 369.0,1633.1 368.0,1643.0 367.0,1654.4 366.0,1666.9 365.0,1680.2 364.0,1693.8 363.0,1707.5 362.0,1720.8 361.0,1733.4 360.0,1744.9 359.0,1755.0 358.0,1763.2 357.0,1769.3 356.0,1772.8 355.0,1773.5 354.0,1772.1 353.0,1769.1 352.0,1765.0 351.0,1759.8 350.0,1754.0 349.0,1747.9 348.0,1741.6 347.0,1735.6 346.0,1730.1 345.0,1725.4 344.0,1721.8 343.0,1719.6 342.0,1719.1 341.0,1720.8 340.0,1724.5 339.0,1729.9 338.0,1736.3 337.0,1743.4 336.0,1750.7 335.0,1757.6 334.0,1763.8 333.0,1768.7 332.0,1771.9 331.0,1772.9 330.0,1771.3 329.0,1767.3 328.0,1761.1 327.0,1753.1 326.0,1743.5 325.0,1732.8 324.0,1721.1 323.0,1708.9 322.0,1696.3 321.0,1683.7 320.0,1671.4 319.0,1659.7 318.0,1648.9 317.0,1639.4 316.0,1631.3 315.0,1625.1 314.0,1621.0 313.0,1619.3 312.0,1618.5 311.0,1617.7 310.0,1617.0 309.0,1616.3 308.0,1615.7 307.0,1615.2 306.0,1614.8 305.0,1614.4 304.0,1614.2 303.0,1614.0 302.0,1614.0 301.0,1614.5 300.0,1615.5 299.0,1616.8 298.0,1618.0 297.0,1619.0 296.0,1619.5 295.0,1619.4 294.0,1619.1 293.0,1618.6 292.0,1618.1 291.0,1617.7 290.0,1617.5 289.0,1618.4 288.0,1622.3 287.0,1629.2 286.0,1638.6 285.0,1650.0 284.0,1663.0 283.0,1677.3 282.0,1692.4 281.0,1708.0 280.0,1723.5 279.0,1738.6 278.0,1752.9 277.0,1765.9 276.0,1777.3 275.0,1786.7 274.0,1793.6 273.0,1797.5 272.0,1798.3 271.0,1796.8 270.0,1793.7 269.0,1789.2 268.0,1783.6 267.0,1777.3 266.0,1770.4 265.0,1763.2 264.0,1756.0 263.0,1749.2 262.0,1742.9 261.0,1737.4 260.0,1733.0 259.0,1730.1 258.0,1728.7 257.0,1729.5 256.0,1732.6 255.0,1737.5 254.0,1743.6 253.0,1750.4 252.0,1757.4 251.0,1764.1 250.0,1769.8 249.0,1774.2 248.0,1776.7 247.0,1776.6 246.0,1773.4 245.0,1767.5 244.0,1759.2 243.0,1748.9 242.0,1737.0 241.0,1723.9 240.0,1710.0 239.0,1695.6 238.0,1681.1 237.0,1667.0 236.0,1653.6 235.0,1641.3 234.0,1630.5 233.0,1621.5 232.0,1614.9 231.0,1610.8 230.0,1609.8 229.0,1610.0 228.0,1610.5 227.0,1611.2 226.0,1612.1 225.0,1613.1 224.0,1614.3 223.0,1615.4 222.0,1616.6 221.0,1617.7 220.0,1618.7 219.0,1619.5 218.0,1620.2 217.0,1620.6 216.0,1620.8 215.0,1620.7 214.0,1620.4 213.0,1619.9 212.0,1619.4 211.0,1618.9 210.0,1618.3 209.0,1617.8 208.0,1617.5 207.0,1617.3 206.0,1618.0 205.0,1621.5 204.0,1627.4 203.0,1635.5 202.0,1645.4 201.0,1656.8 200.0,1669.4 199.0,1682.7 198.0,1696.4 197.0,1710.3 196.0,1723.9 195.0,1737.0 194.0,1749.1 193.0,1759.9 192.0,1769.2 191.0,1776.4 190.0,1781.4 189.0,1783.8 188.0,1783.4 187.0,1781.0 186.0,1776.9 185.0,1771.6 184.0,1765.2 183.0,1758.3 182.0,1751.1 181.0,1743.9 180.0,1737.1 179.0,1731.0 178.0,1726.0 177.0,1722.4 176.0,1720.6 175.0,1720.9 174.0,1723.9 173.0,1729.1 172.0,1735.7 171.0,1743.3 170.0,1751.3 169.0,1758.9 168.0,1765.7 167.0,1771.0 166.0,1774.3 165.0,1774.9 164.0,1772.3 163.0,1767.0 162.0,1759.3 161.0,1749.5 160.0,1738.0 159.0,1725.3 158.0,1711.6 157.0,1697.5 156.0,1683.2 155.0,1669.1 154.0,1655.7 153.0,1643.3 152.0,1632.3 151.0,1623.1 150.0,1616.0 149.0,1611.5 148.0,1609.9 147.0,1610.8 146.0,1613.3 145.0,1616.8 144.0,1620.7 143.0,1624.5 142.0,1627.6 141.0,1629.5 140.0,1629.9 139.0,1629.6 138.0,1629.1 137.0,1628.4 136.0,1627.5 135.0,1626.5 134.0,1625.4 133.0,1624.3 132.0,1623.1 131.0,1622.0 130.0,1621.0 129.0,1620.0 128.0,1619.2 127.0,1618.7 126.0,1618.3 125.0,1618.3 124.0,1620.3 123.0,1625.0 122.0,1631.8 121.0,1640.3 120.0,1650.2 119.0,1660.9 118.0,1672.0 117.0,1683.1" fill="url(#gC)" stroke="none"/>
<clipPath id="vcC"><polygon points="114.0,1666.4 117.0,1666.4 119.0,1648.6 121.0,1632.2 123.0,1623.4 125.0,1623.4 127.0,1623.4 129.0,1623.4 131.0,1623.4 133.0,1623.4 135.0,1623.4 137.0,1623.4 139.0,1623.6 141.0,1623.5 143.0,1623.4 145.0,1623.4 147.0,1623.4 149.0,1623.4 151.0,1623.4 153.0,1634.5 155.0,1655.2 157.0,1677.8 159.0,1700.1 161.0,1719.5 163.0,1733.5 165.0,1739.8 167.0,1736.7 169.0,1727.0 171.0,1714.6 173.0,1703.1 175.0,1696.6 177.0,1697.8 179.0,1704.7 181.0,1715.0 183.0,1726.5 185.0,1737.1 187.0,1744.7 189.0,1746.9 191.0,1741.0 193.0,1727.8 195.0,1709.4 197.0,1688.1 199.0,1666.0 201.0,1645.4 203.0,1628.3 205.0,1623.4 207.0,1623.4 209.0,1623.4 211.0,1623.4 213.0,1623.4 215.0,1623.4 217.0,1623.4 219.0,1623.4 221.0,1623.4 223.0,1623.4 225.0,1623.4 227.0,1623.4 229.0,1623.4 231.0,1623.4 233.0,1623.4 235.0,1632.9 237.0,1653.5 239.0,1676.3 241.0,1699.0 243.0,1719.0 245.0,1733.9 247.0,1741.2 249.0,1739.3 251.0,1731.1 253.0,1720.2 255.0,1709.9 257.0,1703.5 259.0,1703.9 261.0,1709.8 263.0,1719.2 265.0,1730.4 267.0,1741.7 269.0,1751.3 271.0,1757.3 273.0,1757.9 275.0,1749.2 277.0,1732.6 279.0,1710.8 281.0,1686.2 283.0,1661.7 285.0,1639.9 287.0,1623.4 289.0,1623.4 291.0,1623.4 293.0,1623.4 295.0,1623.4 297.0,1623.4 299.0,1623.4 301.0,1623.4 303.0,1623.4 305.0,1623.4 307.0,1623.4 309.0,1623.4 311.0,1623.4 313.0,1623.4 315.0,1623.4 317.0,1631.4 319.0,1647.6 321.0,1666.8 323.0,1687.0 325.0,1706.1 327.0,1722.3 329.0,1733.7 331.0,1738.2 333.0,1734.8 335.0,1726.0 337.0,1714.6 339.0,1703.8 341.0,1696.5 343.0,1695.5 345.0,1700.2 347.0,1708.4 349.0,1718.2 351.0,1727.7 353.0,1735.2 355.0,1738.7 357.0,1735.3 359.0,1723.9 361.0,1706.6 363.0,1685.9 365.0,1664.0 367.0,1643.4 369.0,1626.4 371.0,1623.4 373.0,1623.4 375.0,1623.4 377.0,1623.4 379.0,1623.4 381.0,1623.4 383.0,1623.4 385.0,1623.4 387.0,1623.4 389.0,1623.4 391.0,1623.4 393.0,1623.4 395.0,1623.4 397.0,1623.4 399.0,1628.0 401.0,1642.9 403.0,1661.5 405.0,1681.8 407.0,1701.9 409.0,1719.8 411.0,1733.7 413.0,1741.5 415.0,1741.4 417.0,1733.5 419.0,1721.1 421.0,1707.8 423.0,1697.2 425.0,1692.8 427.0,1697.1 429.0,1707.6 431.0,1721.2 433.0,1734.6 435.0,1744.7 437.0,1748.1 439.0,1742.3 441.0,1728.5 443.0,1709.0 445.0,1686.3 447.0,1662.7 449.0,1640.4 451.0,1623.4 453.0,1623.4 455.0,1623.4 457.0,1623.4 459.0,1623.4 461.0,1623.4 463.0,1623.4 465.0,1623.4 467.0,1623.4 469.0,1623.4 471.0,1623.4 473.0,1623.4 475.0,1623.4 477.0,1623.4 479.0,1623.4 481.0,1623.4 483.0,1623.4 485.0,1636.1 487.0,1658.8 489.0,1683.2 491.0,1706.7 493.0,1726.8 495.0,1740.7 497.0,1746.0 499.0,1742.0 501.0,1732.3 503.0,1720.2 505.0,1708.9 507.0,1701.7 509.0,1701.4 511.0,1707.3 513.0,1716.9 515.0,1728.0 517.0,1738.1 519.0,1745.2 521.0,1746.8 523.0,1742.4 525.0,1732.9 527.0,1719.5 529.0,1703.2 531.0,1685.3 533.0,1666.6 535.0,1648.4 537.0,1631.7 539.0,1623.4 541.0,1623.4 543.0,1623.4 545.0,1623.4 547.0,1623.4 549.0,1623.4 551.0,1623.4 553.0,1623.4 555.0,1623.4 557.0,1623.4 559.0,1623.4 561.0,1623.4 563.0,1623.4 565.0,1623.4 567.0,1631.9 569.0,1651.9 571.0,1674.1 573.0,1696.1 575.0,1715.8 577.0,1731.0 579.0,1739.4 581.0,1738.9 583.0,1730.5 585.0,1717.7 587.0,1704.2 589.0,1693.6 591.0,1689.6 593.0,1694.2 595.0,1704.9 597.0,1718.4 599.0,1731.5 601.0,1741.0 603.0,1743.5 605.0,1737.4 607.0,1724.1 609.0,1705.7 611.0,1684.4 613.0,1662.3 615.0,1641.4 617.0,1623.9 619.0,1623.4 621.0,1623.4 623.0,1623.4 625.0,1623.4 627.0,1623.4 629.0,1623.4 631.0,1623.4 633.0,1623.4 635.0,1623.4 637.0,1623.4 639.0,1623.4 641.0,1623.4 643.0,1623.4 645.0,1623.4 647.0,1624.4 649.0,1642.1 651.0,1662.9 653.0,1684.8 655.0,1705.8 657.0,1723.9 659.0,1736.9 661.0,1743.0 663.0,1741.4 665.0,1735.4 667.0,1726.7 669.0,1717.1 671.0,1708.4 673.0,1702.3 675.0,1700.8 677.0,1706.3 679.0,1717.3 681.0,1730.5 683.0,1742.9 685.0,1751.3 687.0,1752.5 689.0,1744.8 691.0,1730.0 693.0,1710.2 695.0,1687.5 697.0,1664.1 699.0,1642.2 701.0,1623.9 703.0,1623.4 705.0,1623.4 707.0,1623.4 709.0,1623.4 711.0,1623.4 713.0,1623.4 715.0,1623.4 717.0,1624.0 719.0,1627.1 721.0,1629.2 723.0,1629.9 725.0,1627.2 727.0,1623.4 729.0,1623.4 731.0,1623.4 733.0,1631.4 735.0,1650.4 737.0,1673.7 739.0,1698.2 741.0,1720.7 743.0,1738.1 745.0,1747.4 747.0,1746.3 749.0,1738.1 751.0,1725.8 753.0,1712.7 755.0,1701.9 757.0,1696.4 759.0,1698.8 761.0,1707.8 763.0,1720.0 765.0,1732.1 767.0,1740.8 769.0,1742.9 771.0,1736.1 773.0,1722.2 775.0,1703.3 777.0,1681.6 779.0,1659.4 781.0,1638.9 783.0,1623.4 785.0,1623.4 787.0,1623.4 789.0,1623.4 791.0,1623.4 793.0,1623.4 795.0,1623.4 797.0,1623.4 799.0,1623.4 801.0,1623.4 803.0,1623.4 805.0,1623.4 807.0,1623.4 809.0,1623.4 811.0,1625.3 813.0,1641.8 815.0,1660.9 817.0,1681.2 819.0,1701.2 821.0,1719.4 823.0,1734.6 825.0,1745.1 827.0,1749.7 829.0,1746.5 831.0,1736.2 833.0,1721.9 835.0,1706.7 837.0,1694.0 839.0,1686.9 841.0,1688.4 843.0,1698.5 845.0,1713.4 847.0,1729.5 849.0,1742.9 851.0,1750.0 853.0,1748.1 855.0,1739.1 857.0,1724.8 859.0,1706.6 861.0,1686.5 863.0,1665.9 865.0,1646.5 867.0,1630.0 869.0,1623.4 871.0,1623.4 873.0,1623.4 875.0,1623.4 877.0,1623.4 879.0,1623.4 881.0,1623.4 883.0,1623.4 885.0,1623.4 887.0,1623.4 889.0,1623.4 891.0,1623.4 893.0,1623.4 895.0,1623.4 897.0,1628.6 899.0,1645.1 901.0,1663.8 903.0,1683.0 905.0,1700.9 907.0,1715.8 909.0,1725.8 911.0,1729.3 913.0,1726.0 915.0,1718.4 917.0,1708.8 919.0,1699.4 921.0,1692.7 923.0,1690.8 925.0,1696.1 927.0,1706.4 929.0,1719.0 931.0,1730.8 933.0,1739.0 935.0,1740.6 937.0,1734.5 939.0,1722.3 941.0,1705.8 943.0,1686.5 945.0,1666.3 947.0,1646.8 949.0,1629.7 951.0,1623.4 953.0,1623.4 955.0,1623.4 957.0,1623.4 959.0,1623.4 961.0,1623.4 963.0,1623.4 965.0,1623.4 967.0,1623.4 969.0,1623.4 971.0,1623.4 973.0,1623.4 975.0,1623.4 977.0,1623.4 979.0,1633.6 981.0,1650.9 983.0,1670.6 985.0,1691.0 987.0,1710.3 989.0,1726.8 991.0,1738.8 993.0,1744.6 995.0,1743.0 997.0,1735.7 999.0,1725.0 1001.0,1713.2 1003.0,1702.5 1005.0,1695.0 1007.0,1693.0 1009.0,1698.9 1011.0,1710.5 1013.0,1724.1 1015.0,1736.2 1017.0,1743.1 1019.0,1741.3 1021.0,1729.4 1023.0,1710.5 1025.0,1687.4 1027.0,1663.4 1029.0,1641.5 1031.0,1624.6 1033.0,1623.4 1035.0,1623.4 1037.0,1623.4 1039.0,1623.4 1041.0,1623.4 1043.0,1623.4 1045.0,1623.4 1047.0,1623.4 1049.0,1623.4 1051.0,1623.4 1053.0,1623.4 1055.0,1623.4 1057.0,1623.4 1059.0,1623.4 1061.0,1623.4 1063.0,1631.6 1065.0,1649.3 1067.0,1670.1 1069.0,1691.6 1071.0,1711.6 1073.0,1727.9 1075.0,1738.1 1077.0,1740.0 1079.0,1733.8 1081.0,1722.8 1083.0,1710.3 1085.0,1699.6 1087.0,1694.1 1089.0,1696.1 1091.0,1703.5 1093.0,1714.5 1095.0,1726.8 1097.0,1738.4 1099.0,1747.4 1101.0,1751.5 1103.0,1747.8 1105.0,1735.3 1107.0,1716.3 1109.0,1693.6 1111.0,1669.7 1113.0,1647.1 1115.0,1628.4 1117.0,1623.4 1119.0,1623.4 1121.0,1623.4 1123.0,1623.4 1125.0,1623.4 1127.0,1623.4 1129.0,1623.4 1131.0,1623.4 1133.0,1623.4 1135.0,1623.4 1137.0,1623.4 1139.0,1623.4 1141.0,1623.4 1143.0,1623.4 1145.0,1623.4 1147.0,1629.4 1149.0,1646.4 1151.0,1666.6 1153.0,1687.8 1155.0,1707.5 1157.0,1723.3 1159.0,1732.9 1161.0,1734.0 1163.0,1727.9 1165.0,1717.6 1167.0,1706.1 1169.0,1696.3 1171.0,1691.1 1173.0,1692.6 1175.0,1699.4 1177.0,1709.2 1179.0,1719.8 1181.0,1729.1 1183.0,1734.7 1185.0,1734.6 1187.0,1727.0 1189.0,1712.8 1191.0,1693.2 1193.0,1669.0 1195.0,1641.4 1198.0,1641.4 1198.0,1861.5 114.0,1861.5"/></clipPath>
<polyline clip-path="url(#vcC)" points="117.8,1639.3 118.9,1661.1 120.1,1682.6 121.2,1703.3 122.3,1723.4 123.5,1742.5 124.6,1760.5 125.7,1777.3 126.9,1792.9 128.0,1807.0 129.2,1819.5 130.3,1830.5 131.4,1839.7 132.6,1847.1 133.7,1852.7 134.8,1856.5 136.0,1858.3 137.1,1858.2 138.2,1856.2 139.4,1852.3 140.5,1846.5 141.6,1838.9 142.8,1829.5 143.9,1818.5 145.0,1805.7 146.2,1791.5 147.3,1775.9 148.4,1758.9 149.6,1740.8 150.7,1721.6 151.9,1701.5 153.0,1680.6 154.1,1659.2 155.3,1637.3 156.4,1615.1 157.5,1592.8 158.7,1570.6 159.8,1548.5 160.9,1526.9 162.1,1505.8 163.2,1485.3 164.3,1465.8 165.5,1447.2 166.6,1429.7 167.7,1413.5 168.9,1398.7 170.0,1385.3 171.1,1373.6 172.3,1363.5 173.4,1355.2 174.6,1348.6 175.7,1344.0 176.8,1341.2 178.0,1340.3 179.1,1341.3 180.2,1344.3 181.4,1349.2 182.5,1355.9 183.6,1364.4 184.8,1374.6 185.9,1386.5 187.0,1400.0 188.2,1414.9 189.3,1431.3 190.4,1448.8 191.6,1467.5 192.7,1487.2 193.9,1507.7 195.0,1528.8 196.1,1550.5 197.3,1572.6 198.4,1594.8 199.5,1617.1 200.7,1639.3 201.8,1661.1 202.9,1682.6 204.1,1703.3 205.2,1723.4 206.3,1742.5 207.5,1760.5 208.6,1777.3 209.7,1792.9 210.9,1807.0 212.0,1819.5 213.1,1830.5 214.3,1839.7 215.4,1847.1 216.6,1852.7 217.7,1856.5 218.8,1858.3 220.0,1858.2 221.1,1856.2 222.2,1852.3 223.4,1846.5 224.5,1838.9 225.6,1829.5 226.8,1818.5 227.9,1805.7 229.0,1791.5 230.2,1775.9 231.3,1758.9 232.4,1740.8 233.6,1721.6 234.7,1701.5 235.8,1680.6 237.0,1659.2 238.1,1637.3 239.3,1615.1 240.4,1592.8 241.5,1570.6 242.7,1548.5 243.8,1526.9 244.9,1505.8 246.1,1485.3 247.2,1465.8 248.3,1447.2 249.5,1429.7 250.6,1413.5 251.7,1398.7 252.9,1385.3 254.0,1373.6 255.1,1363.5 256.3,1355.2 257.4,1348.6 258.6,1344.0 259.7,1341.2 260.8,1340.3 262.0,1341.3 263.1,1344.3 264.2,1349.2 265.4,1355.9 266.5,1364.4 267.6,1374.6 268.8,1386.5 269.9,1400.0 271.0,1414.9 272.2,1431.3 273.3,1448.8 274.4,1467.5 275.6,1487.2 276.7,1507.7 277.8,1528.8 279.0,1550.5 280.1,1572.6 281.3,1594.8 282.4,1617.1 283.5,1639.3 284.7,1661.1 285.8,1682.6 286.9,1703.3 288.1,1723.4 289.2,1742.5 290.3,1760.5 291.5,1777.3 292.6,1792.9 293.7,1807.0 294.9,1819.5 296.0,1830.5 297.1,1839.7 298.3,1847.1 299.4,1852.7 300.5,1856.5 301.7,1858.3 302.8,1858.2 304.0,1856.2 305.1,1852.3 306.2,1846.5 307.4,1838.9 308.5,1829.5 309.6,1818.5 310.8,1805.7 311.9,1791.5 313.0,1775.9 314.2,1758.9 315.3,1740.8 316.4,1721.6 317.6,1701.5 318.7,1680.6 319.8,1659.2 321.0,1637.3 322.1,1615.1 323.3,1592.8 324.4,1570.6 325.5,1548.5 326.7,1526.9 327.8,1505.8 328.9,1485.3 330.1,1465.8 331.2,1447.2 332.3,1429.7 333.5,1413.5 334.6,1398.7 335.7,1385.3 336.9,1373.6 338.0,1363.5 339.1,1355.2 340.3,1348.6 341.4,1344.0 342.5,1341.2 343.7,1340.3 344.8,1341.3 346.0,1344.3 347.1,1349.2 348.2,1355.9 349.4,1364.4 350.5,1374.6 351.6,1386.5 352.8,1400.0 353.9,1414.9 355.0,1431.3 356.2,1448.8 357.3,1467.5 358.4,1487.2 359.6,1507.7 360.7,1528.8 361.8,1550.5 363.0,1572.6 364.1,1594.8 365.2,1617.1 366.4,1639.3 367.5,1661.1 368.7,1682.6 369.8,1703.3 370.9,1723.4 372.1,1742.5 373.2,1760.5 374.3,1777.3 375.5,1792.9 376.6,1807.0 377.7,1819.5 378.9,1830.5 380.0,1839.7 381.1,1847.1 382.3,1852.7 383.4,1856.5 384.5,1858.3 385.7,1858.2 386.8,1856.2 388.0,1852.3 389.1,1846.5 390.2,1838.9 391.4,1829.5 392.5,1818.5 393.6,1805.7 394.8,1791.5 395.9,1775.9 397.0,1758.9 398.2,1740.8 399.3,1721.6 400.4,1701.5 401.6,1680.6 402.7,1659.2 403.8,1637.3 405.0,1615.1 406.1,1592.8 407.2,1570.6 408.4,1548.5 409.5,1526.9 410.7,1505.8 411.8,1485.3 412.9,1465.8 414.1,1447.2 415.2,1429.7 416.3,1413.5 417.5,1398.7 418.6,1385.3 419.7,1373.6 420.9,1363.5 422.0,1355.2 423.1,1348.6 424.3,1344.0 425.4,1341.2 426.5,1340.3 427.7,1341.3 428.8,1344.3 429.9,1349.2 431.1,1355.9 432.2,1364.4 433.4,1374.6 434.5,1386.5 435.6,1400.0 436.8,1414.9 437.9,1431.3 439.0,1448.8 440.2,1467.5 441.3,1487.2 442.4,1507.7 443.6,1528.8 444.7,1550.5 445.8,1572.6 447.0,1594.8 448.1,1617.1 449.2,1639.3 450.4,1661.1 451.5,1682.6 452.7,1703.3 453.8,1723.4 454.9,1742.5 456.1,1760.5 457.2,1777.3 458.3,1792.9 459.5,1807.0 460.6,1819.5 461.7,1830.5 462.9,1839.7 464.0,1847.1 465.1,1852.7 466.3,1856.5 467.4,1858.3 468.5,1858.2 469.7,1856.2 470.8,1852.3 471.9,1846.5 473.1,1838.9 474.2,1829.5 475.4,1818.5 476.5,1805.7 477.6,1791.5 478.8,1775.9 479.9,1758.9 481.0,1740.8 482.2,1721.6 483.3,1701.5 484.4,1680.6 485.6,1659.2 486.7,1637.3 487.8,1615.1 489.0,1592.8 490.1,1570.6 491.2,1548.5 492.4,1526.9 493.5,1505.8 494.6,1485.3 495.8,1465.8 496.9,1447.2 498.1,1429.7 499.2,1413.5 500.3,1398.7 501.5,1385.3 502.6,1373.6 503.7,1363.5 504.9,1355.2 506.0,1348.6 507.1,1344.0 508.3,1341.2 509.4,1340.3 510.5,1341.3 511.7,1344.3 512.8,1349.2 513.9,1355.9 515.1,1364.4 516.2,1374.6 517.4,1386.5 518.5,1400.0 519.6,1414.9 520.8,1431.3 521.9,1448.8 523.0,1467.5 524.2,1487.2 525.3,1507.7 526.4,1528.8 527.6,1550.5 528.7,1572.6 529.8,1594.8 531.0,1617.1 532.1,1639.3 533.2,1661.1 534.4,1682.6 535.5,1703.3 536.6,1723.4 537.8,1742.5 538.9,1760.5 540.1,1777.3 541.2,1792.9 542.3,1807.0 543.5,1819.5 544.6,1830.5 545.7,1839.7 546.9,1847.1 548.0,1852.7 549.1,1856.5 550.3,1858.3 551.4,1858.2 552.5,1856.2 553.7,1852.3 554.8,1846.5 555.9,1838.9 557.1,1829.5 558.2,1818.5 559.3,1805.7 560.5,1791.5 561.6,1775.9 562.8,1758.9 563.9,1740.8 565.0,1721.6 566.2,1701.5 567.3,1680.6 568.4,1659.2 569.6,1637.3 570.7,1615.1 571.8,1592.8 573.0,1570.6 574.1,1548.5 575.2,1526.9 576.4,1505.8 577.5,1485.3 578.6,1465.8 579.8,1447.2 580.9,1429.7 582.1,1413.5 583.2,1398.7 584.3,1385.3 585.5,1373.6 586.6,1363.5 587.7,1355.2 588.9,1348.6 590.0,1344.0 591.1,1341.2 592.3,1340.3 593.4,1341.3 594.5,1344.3 595.7,1349.2 596.8,1355.9 597.9,1364.4 599.1,1374.6 600.2,1386.5 601.3,1400.0 602.5,1414.9 603.6,1431.3 604.8,1448.8 605.9,1467.5 607.0,1487.2 608.2,1507.7 609.3,1528.8 610.4,1550.5 611.6,1572.6 612.7,1594.8 613.8,1617.1 615.0,1639.3 616.1,1661.1 617.2,1682.6 618.4,1703.3 619.5,1723.4 620.6,1742.5 621.8,1760.5 622.9,1777.3 624.0,1792.9 625.2,1807.0 626.3,1819.5 627.5,1830.5 628.6,1839.7 629.7,1847.1 630.9,1852.7 632.0,1856.5 633.1,1858.3 634.3,1858.2 635.4,1856.2 636.5,1852.3 637.7,1846.5 638.8,1838.9 639.9,1829.5 641.1,1818.5 642.2,1805.7 643.3,1791.5 644.5,1775.9 645.6,1758.9 646.8,1740.8 647.9,1721.6 649.0,1701.5 650.2,1680.6 651.3,1659.2 652.4,1637.3 653.6,1615.1 654.7,1592.8 655.8,1570.6 657.0,1548.5 658.1,1526.9 659.2,1505.8 660.4,1485.3 661.5,1465.8 662.6,1447.2 663.8,1429.7 664.9,1413.5 666.0,1398.7 667.2,1385.3 668.3,1373.6 669.5,1363.5 670.6,1355.2 671.7,1348.6 672.9,1344.0 674.0,1341.2 675.1,1340.3 676.3,1341.3 677.4,1344.3 678.5,1349.2 679.7,1355.9 680.8,1364.4 681.9,1374.6 683.1,1386.5 684.2,1400.0 685.3,1414.9 686.5,1431.3 687.6,1448.8 688.8,1467.5 689.9,1487.2 691.0,1507.7 692.2,1528.8 693.3,1550.5 694.4,1572.6 695.6,1594.8 696.7,1617.1 697.8,1639.3 699.0,1661.1 700.1,1682.6 701.2,1703.3 702.4,1723.4 703.5,1742.5 704.6,1760.5 705.8,1777.3 706.9,1792.9 708.0,1807.0 709.2,1819.5 710.3,1830.5 711.5,1839.7 712.6,1847.1 713.7,1852.7 714.9,1856.5 716.0,1858.3 717.1,1858.2 718.3,1856.2 719.4,1852.3 720.5,1846.5 721.7,1838.9 722.8,1829.5 723.9,1818.5 725.1,1805.7 726.2,1791.5 727.3,1775.9 728.5,1758.9 729.6,1740.8 730.7,1721.6 731.9,1701.5 733.0,1680.6 734.2,1659.2 735.3,1637.3 736.4,1615.1 737.6,1592.8 738.7,1570.6 739.8,1548.5 741.0,1526.9 742.1,1505.8 743.2,1485.3 744.4,1465.8 745.5,1447.2 746.6,1429.7 747.8,1413.5 748.9,1398.7 750.0,1385.3 751.2,1373.6 752.3,1363.5 753.5,1355.2 754.6,1348.6 755.7,1344.0 756.9,1341.2 758.0,1340.3 759.1,1341.3 760.3,1344.3 761.4,1349.2 762.5,1355.9 763.7,1364.4 764.8,1374.6 765.9,1386.5 767.1,1400.0 768.2,1414.9 769.3,1431.3 770.5,1448.8 771.6,1467.5 772.7,1487.2 773.9,1507.7 775.0,1528.8 776.2,1550.5 777.3,1572.6 778.4,1594.8 779.6,1617.1 780.7,1639.3 781.8,1661.1 783.0,1682.6 784.1,1703.3 785.2,1723.4 786.4,1742.5 787.5,1760.5 788.6,1777.3 789.8,1792.9 790.9,1807.0 792.0,1819.5 793.2,1830.5 794.3,1839.7 795.4,1847.1 796.6,1852.7 797.7,1856.5 798.9,1858.3 800.0,1858.2 801.1,1856.2 802.3,1852.3 803.4,1846.5 804.5,1838.9 805.7,1829.5 806.8,1818.5 807.9,1805.7 809.1,1791.5 810.2,1775.9 811.3,1758.9 812.5,1740.8 813.6,1721.6 814.7,1701.5 815.9,1680.6 817.0,1659.2 818.2,1637.3 819.3,1615.1 820.4,1592.8 821.6,1570.6 822.7,1548.5 823.8,1526.9 825.0,1505.8 826.1,1485.3 827.2,1465.8 828.4,1447.2 829.5,1429.7 830.6,1413.5 831.8,1398.7 832.9,1385.3 834.0,1373.6 835.2,1363.5 836.3,1355.2 837.4,1348.6 838.6,1344.0 839.7,1341.2 840.9,1340.3 842.0,1341.3 843.1,1344.3 844.3,1349.2 845.4,1355.9 846.5,1364.4 847.7,1374.6 848.8,1386.5 849.9,1400.0 851.1,1414.9 852.2,1431.3 853.3,1448.8 854.5,1467.5 855.6,1487.2 856.7,1507.7 857.9,1528.8 859.0,1550.5 860.1,1572.6 861.3,1594.8 862.4,1617.1 863.6,1639.3 864.7,1661.1 865.8,1682.6 867.0,1703.3 868.1,1723.4 869.2,1742.5 870.4,1760.5 871.5,1777.3 872.6,1792.9 873.8,1807.0 874.9,1819.5 876.0,1830.5 877.2,1839.7 878.3,1847.1 879.4,1852.7 880.6,1856.5 881.7,1858.3 882.9,1858.2 884.0,1856.2 885.1,1852.3 886.3,1846.5 887.4,1838.9 888.5,1829.5 889.7,1818.5 890.8,1805.7 891.9,1791.5 893.1,1775.9 894.2,1758.9 895.3,1740.8 896.5,1721.6 897.6,1701.5 898.7,1680.6 899.9,1659.2 901.0,1637.3 902.1,1615.1 903.3,1592.8 904.4,1570.6 905.6,1548.5 906.7,1526.9 907.8,1505.8 909.0,1485.3 910.1,1465.8 911.2,1447.2 912.4,1429.7 913.5,1413.5 914.6,1398.7 915.8,1385.3 916.9,1373.6 918.0,1363.5 919.2,1355.2 920.3,1348.6 921.4,1344.0 922.6,1341.2 923.7,1340.3 924.8,1341.3 926.0,1344.3 927.1,1349.2 928.3,1355.9 929.4,1364.4 930.5,1374.6 931.7,1386.5 932.8,1400.0 933.9,1414.9 935.1,1431.3 936.2,1448.8 937.3,1467.5 938.5,1487.2 939.6,1507.7 940.7,1528.8 941.9,1550.5 943.0,1572.6 944.1,1594.8 945.3,1617.1 946.4,1639.3 947.6,1661.1 948.7,1682.6 949.8,1703.3 951.0,1723.4 952.1,1742.5 953.2,1760.5 954.4,1777.3 955.5,1792.9 956.6,1807.0 957.8,1819.5 958.9,1830.5 960.0,1839.7 961.2,1847.1 962.3,1852.7 963.4,1856.5 964.6,1858.3 965.7,1858.2 966.8,1856.2 968.0,1852.3 969.1,1846.5 970.3,1838.9 971.4,1829.5 972.5,1818.5 973.7,1805.7 974.8,1791.5 975.9,1775.9 977.1,1758.9 978.2,1740.8 979.3,1721.6 980.5,1701.5 981.6,1680.6 982.7,1659.2 983.9,1637.3 985.0,1615.1 986.1,1592.8 987.3,1570.6 988.4,1548.5 989.5,1526.9 990.7,1505.8 991.8,1485.3 993.0,1465.8 994.1,1447.2 995.2,1429.7 996.4,1413.5 997.5,1398.7 998.6,1385.3 999.8,1373.6 1000.9,1363.5 1002.0,1355.2 1003.2,1348.6 1004.3,1344.0 1005.4,1341.2 1006.6,1340.3 1007.7,1341.3 1008.8,1344.3 1010.0,1349.2 1011.1,1355.9 1012.3,1364.4 1013.4,1374.6 1014.5,1386.5 1015.7,1400.0 1016.8,1414.9 1017.9,1431.3 1019.1,1448.8 1020.2,1467.5 1021.3,1487.2 1022.5,1507.7 1023.6,1528.8 1024.7,1550.5 1025.9,1572.6 1027.0,1594.8 1028.1,1617.1 1029.3,1639.3 1030.4,1661.1 1031.5,1682.6 1032.7,1703.3 1033.8,1723.4 1035.0,1742.5 1036.1,1760.5 1037.2,1777.3 1038.4,1792.9 1039.5,1807.0 1040.6,1819.5 1041.8,1830.5 1042.9,1839.7 1044.0,1847.1 1045.2,1852.7 1046.3,1856.5 1047.4,1858.3 1048.6,1858.2 1049.7,1856.2 1050.8,1852.3 1052.0,1846.5 1053.1,1838.9 1054.2,1829.5 1055.4,1818.5 1056.5,1805.7 1057.7,1791.5 1058.8,1775.9 1059.9,1758.9 1061.1,1740.8 1062.2,1721.6 1063.3,1701.5 1064.5,1680.6 1065.6,1659.2 1066.7,1637.3 1067.9,1615.1 1069.0,1592.8 1070.1,1570.6 1071.3,1548.5 1072.4,1526.9 1073.5,1505.8 1074.7,1485.3 1075.8,1465.8 1077.0,1447.2 1078.1,1429.7 1079.2,1413.5 1080.4,1398.7 1081.5,1385.3 1082.6,1373.6 1083.8,1363.5 1084.9,1355.2 1086.0,1348.6 1087.2,1344.0 1088.3,1341.2 1089.4,1340.3 1090.6,1341.3 1091.7,1344.3 1092.8,1349.2 1094.0,1355.9 1095.1,1364.4 1096.2,1374.6 1097.4,1386.5 1098.5,1400.0 1099.7,1414.9 1100.8,1431.3 1101.9,1448.8 1103.1,1467.5 1104.2,1487.2 1105.3,1507.7 1106.5,1528.8 1107.6,1550.5 1108.7,1572.6 1109.9,1594.8 1111.0,1617.1 1112.1,1639.3 1113.3,1661.1 1114.4,1682.6 1115.5,1703.3 1116.7,1723.4 1117.8,1742.5 1118.9,1760.5 1120.1,1777.3 1121.2,1792.9 1122.4,1807.0 1123.5,1819.5 1124.6,1830.5 1125.8,1839.7 1126.9,1847.1 1128.0,1852.7 1129.2,1856.5 1130.3,1858.3 1131.4,1858.2 1132.6,1856.2 1133.7,1852.3 1134.8,1846.5 1136.0,1838.9 1137.1,1829.5 1138.2,1818.5 1139.4,1805.7 1140.5,1791.5 1141.7,1775.9 1142.8,1758.9 1143.9,1740.8 1145.1,1721.6 1146.2,1701.5 1147.3,1680.6 1148.5,1659.2 1149.6,1637.3 1150.7,1615.1 1151.9,1592.8 1153.0,1570.6 1154.1,1548.5 1155.3,1526.9 1156.4,1505.8 1157.5,1485.3 1158.7,1465.8 1159.8,1447.2 1160.9,1429.7 1162.1,1413.5 1163.2,1398.7 1164.4,1385.3 1165.5,1373.6 1166.6,1363.5 1167.8,1355.2 1168.9,1348.6 1170.0,1344.0 1171.2,1341.2 1172.3,1340.3 1173.4,1341.3 1174.6,1344.3 1175.7,1349.2 1176.8,1355.9 1178.0,1364.4 1179.1,1374.6 1180.2,1386.5 1181.4,1400.0 1182.5,1414.9 1183.6,1431.3 1184.8,1448.8 1185.9,1467.5 1187.1,1487.2 1188.2,1507.7 1189.3,1528.8 1190.5,1550.5 1191.6,1572.6 1192.7,1594.8 1193.9,1617.1 1195.0,1639.3" fill="none" stroke="#000" stroke-width="5" stroke-linejoin="round"/>
<polyline points="117.0,1515.7 118.0,1526.8 119.0,1537.9 120.0,1548.6 121.0,1558.5 122.0,1567.0 123.0,1573.8 124.0,1578.5 125.0,1580.5 126.0,1580.5 127.0,1580.1 128.0,1579.6 129.0,1578.8 130.0,1577.8 131.0,1576.8 132.0,1575.7 133.0,1574.5 134.0,1573.4 135.0,1572.3 136.0,1571.3 137.0,1570.4 138.0,1569.7 139.0,1569.2 140.0,1568.9 141.0,1569.3 142.0,1571.2 143.0,1574.3 144.0,1578.1 145.0,1582.0 146.0,1585.5 147.0,1588.0 148.0,1588.9 149.0,1587.3 150.0,1582.8 151.0,1575.7 152.0,1566.5 153.0,1555.5 154.0,1543.1 155.0,1529.7 156.0,1515.6 157.0,1501.3 158.0,1487.2 159.0,1473.5 160.0,1460.8 161.0,1449.3 162.0,1439.5 163.0,1431.8 164.0,1426.5 165.0,1423.9 166.0,1424.5 167.0,1427.8 168.0,1433.1 169.0,1439.9 170.0,1447.5 171.0,1455.5 172.0,1463.1 173.0,1469.7 174.0,1474.9 175.0,1477.9 176.0,1478.2 177.0,1476.4 178.0,1472.8 179.0,1467.8 180.0,1461.7 181.0,1454.9 182.0,1447.7 183.0,1440.5 184.0,1433.6 185.0,1427.2 186.0,1421.9 187.0,1417.8 188.0,1415.4 189.0,1415.0 190.0,1417.4 191.0,1422.4 192.0,1429.6 193.0,1438.9 194.0,1449.7 195.0,1461.8 196.0,1474.9 197.0,1488.5 198.0,1502.4 199.0,1516.1 200.0,1529.4 201.0,1542.0 202.0,1553.4 203.0,1563.3 204.0,1571.4 205.0,1577.3 206.0,1580.8 207.0,1581.5 208.0,1581.3 209.0,1581.0 210.0,1580.5 211.0,1579.9 212.0,1579.4 213.0,1578.9 214.0,1578.4 215.0,1578.1 216.0,1578.0 217.0,1578.2 218.0,1578.6 219.0,1579.3 220.0,1580.1 221.0,1581.1 222.0,1582.2 223.0,1583.4 224.0,1584.5 225.0,1585.7 226.0,1586.7 227.0,1587.6 228.0,1588.3 229.0,1588.8 230.0,1589.0 231.0,1588.0 232.0,1583.9 233.0,1577.3 234.0,1568.3 235.0,1557.5 236.0,1545.2 237.0,1531.8 238.0,1517.7 239.0,1503.2 240.0,1488.8 241.0,1474.9 242.0,1461.8 243.0,1449.9 244.0,1439.6 245.0,1431.3 246.0,1425.4 247.0,1422.2 248.0,1422.1 249.0,1424.6 250.0,1429.0 251.0,1434.7 252.0,1441.4 253.0,1448.4 254.0,1455.2 255.0,1461.3 256.0,1466.2 257.0,1469.3 258.0,1470.1 259.0,1468.7 260.0,1465.8 261.0,1461.4 262.0,1455.9 263.0,1449.6 264.0,1442.8 265.0,1435.6 266.0,1428.4 267.0,1421.5 268.0,1415.2 269.0,1409.6 270.0,1405.1 271.0,1402.0 272.0,1400.5 273.0,1401.3 274.0,1405.2 275.0,1412.1 276.0,1421.5 277.0,1432.9 278.0,1445.9 279.0,1460.2 280.0,1475.3 281.0,1490.9 282.0,1506.4 283.0,1521.5 284.0,1535.8 285.0,1548.8 286.0,1560.2 287.0,1569.6 288.0,1576.5 289.0,1580.4 290.0,1581.3 291.0,1581.1 292.0,1580.7 293.0,1580.2 294.0,1579.7 295.0,1579.4 296.0,1579.3 297.0,1579.8 298.0,1580.8 299.0,1582.0 300.0,1583.3 301.0,1584.3 302.0,1584.8 303.0,1584.8 304.0,1584.6 305.0,1584.4 306.0,1584.0 307.0,1583.6 308.0,1583.1 309.0,1582.5 310.0,1581.8 311.0,1581.1 312.0,1580.3 313.0,1579.5 314.0,1577.8 315.0,1573.7 316.0,1567.5 317.0,1559.4 318.0,1549.9 319.0,1539.1 320.0,1527.4 321.0,1515.1 322.0,1502.5 323.0,1489.9 324.0,1477.7 325.0,1466.0 326.0,1455.3 327.0,1445.7 328.0,1437.7 329.0,1431.5 330.0,1427.5 331.0,1425.9 332.0,1426.9 333.0,1430.1 334.0,1435.0 335.0,1441.2 336.0,1448.1 337.0,1455.4 338.0,1462.5 339.0,1468.9 340.0,1474.3 341.0,1478.0 342.0,1479.7 343.0,1479.2 344.0,1477.0 345.0,1473.4 346.0,1468.7 347.0,1463.2 348.0,1457.2 349.0,1450.9 350.0,1444.8 351.0,1439.0 352.0,1433.8 353.0,1429.7 354.0,1426.7 355.0,1425.3 356.0,1426.0 357.0,1429.5 358.0,1435.6 359.0,1443.8 360.0,1453.9 361.0,1465.4 362.0,1478.0 363.0,1491.3 364.0,1505.0 365.0,1518.6 366.0,1531.9 367.0,1544.4 368.0,1555.8 369.0,1565.7 370.0,1573.8 371.0,1579.6 372.0,1582.8 373.0,1583.4 374.0,1583.2 375.0,1582.8 376.0,1582.4 377.0,1582.1 378.0,1582.0 379.0,1582.3 380.0,1583.0 381.0,1584.0 382.0,1584.9 383.0,1585.7 384.0,1586.2 385.0,1586.2 386.0,1586.0 387.0,1585.7 388.0,1585.2 389.0,1584.7 390.0,1584.0 391.0,1583.2 392.0,1582.3 393.0,1581.3 394.0,1580.2 395.0,1579.1 396.0,1577.9 397.0,1575.4 398.0,1570.5 399.0,1563.7 400.0,1555.0 401.0,1545.0 402.0,1533.8 403.0,1521.7 404.0,1509.2 405.0,1496.4 406.0,1483.6 407.0,1471.3 408.0,1459.6 409.0,1448.9 410.0,1439.4 411.0,1431.6 412.0,1425.6 413.0,1421.7 414.0,1420.4 415.0,1421.8 416.0,1425.8 417.0,1431.8 418.0,1439.1 419.0,1447.3 420.0,1455.7 421.0,1463.9 422.0,1471.2 423.0,1477.2 424.0,1481.2 425.0,1482.6 426.0,1481.2 427.0,1477.3 428.0,1471.5 429.0,1464.2 430.0,1455.9 431.0,1447.2 432.0,1438.5 433.0,1430.4 434.0,1423.3 435.0,1417.8 436.0,1414.4 437.0,1413.6 438.0,1415.8 439.0,1420.8 440.0,1428.4 441.0,1438.1 442.0,1449.5 443.0,1462.4 444.0,1476.2 445.0,1490.8 446.0,1505.6 447.0,1520.3 448.0,1534.6 449.0,1548.1 450.0,1560.4 451.0,1571.2 452.0,1580.1 453.0,1586.7 454.0,1590.7 455.0,1591.7 456.0,1591.1 457.0,1589.7 458.0,1588.0 459.0,1586.1 460.0,1584.3 461.0,1582.9 462.0,1582.1 463.0,1582.2 464.0,1583.1 465.0,1584.3 466.0,1585.5 467.0,1586.2 468.0,1585.9 469.0,1584.8 470.0,1583.3 471.0,1582.0 472.0,1581.3 473.0,1581.8 474.0,1583.1 475.0,1585.1 476.0,1587.4 477.0,1589.7 478.0,1591.6 479.0,1592.8 480.0,1592.9 481.0,1590.3 482.0,1584.6 483.0,1576.2 484.0,1565.7 485.0,1553.5 486.0,1539.8 487.0,1525.2 488.0,1510.0 489.0,1494.7 490.0,1479.6 491.0,1465.3 492.0,1452.0 493.0,1440.2 494.0,1430.3 495.0,1422.7 496.0,1417.9 497.0,1416.2 498.0,1417.5 499.0,1421.1 500.0,1426.6 501.0,1433.2 502.0,1440.7 503.0,1448.4 504.0,1455.9 505.0,1462.5 506.0,1468.0 507.0,1471.6 508.0,1472.9 509.0,1471.8 510.0,1468.9 511.0,1464.5 512.0,1458.9 513.0,1452.5 514.0,1445.6 515.0,1438.7 516.0,1432.0 517.0,1426.0 518.0,1420.9 519.0,1417.2 520.0,1415.2 521.0,1415.1 522.0,1417.1 523.0,1420.7 524.0,1425.9 525.0,1432.5 526.0,1440.4 527.0,1449.3 528.0,1459.1 529.0,1469.6 530.0,1480.6 531.0,1492.1 532.0,1503.7 533.0,1515.4 534.0,1526.9 535.0,1538.1 536.0,1548.9 537.0,1559.0 538.0,1568.3 539.0,1576.6 540.0,1583.7 541.0,1589.5 542.0,1593.8 543.0,1596.4 544.0,1597.2 545.0,1596.6 546.0,1595.1 547.0,1593.0 548.0,1590.4 549.0,1587.5 550.0,1584.5 551.0,1581.6 552.0,1579.1 553.0,1577.0 554.0,1575.6 555.0,1575.1 556.0,1576.0 557.0,1578.5 558.0,1581.8 559.0,1585.4 560.0,1588.6 561.0,1590.9 562.0,1591.7 563.0,1589.9 564.0,1585.4 565.0,1578.4 566.0,1569.5 567.0,1558.8 568.0,1546.8 569.0,1533.7 570.0,1520.0 571.0,1506.0 572.0,1492.1 573.0,1478.5 574.0,1465.6 575.0,1453.9 576.0,1443.5 577.0,1434.9 578.0,1428.4 579.0,1424.4 580.0,1423.2 581.0,1425.0 582.0,1429.3 583.0,1435.5 584.0,1443.1 585.0,1451.5 586.0,1460.1 587.0,1468.4 588.0,1475.8 589.0,1481.7 590.0,1485.5 591.0,1486.7 592.0,1485.0 593.0,1480.9 594.0,1475.0 595.0,1467.6 596.0,1459.3 597.0,1450.7 598.0,1442.2 599.0,1434.3 600.0,1427.5 601.0,1422.5 602.0,1419.5 603.0,1419.2 604.0,1421.8 605.0,1426.9 606.0,1434.3 607.0,1443.6 608.0,1454.4 609.0,1466.5 610.0,1479.6 611.0,1493.2 612.0,1507.0 613.0,1520.8 614.0,1534.2 615.0,1546.9 616.0,1558.6 617.0,1568.8 618.0,1577.4 619.0,1583.9 620.0,1588.0 621.0,1589.5 622.0,1588.7 623.0,1586.5 624.0,1583.6 625.0,1580.4 626.0,1577.6 627.0,1575.7 628.0,1575.1 629.0,1575.4 630.0,1576.0 631.0,1576.9 632.0,1578.0 633.0,1579.3 634.0,1580.7 635.0,1582.2 636.0,1583.8 637.0,1585.2 638.0,1586.6 639.0,1587.9 640.0,1588.9 641.0,1589.7 642.0,1590.2 643.0,1590.2 644.0,1588.3 645.0,1583.7 646.0,1576.9 647.0,1568.1 648.0,1557.8 649.0,1546.1 650.0,1533.4 651.0,1520.1 652.0,1506.4 653.0,1492.7 654.0,1479.2 655.0,1466.4 656.0,1454.5 657.0,1443.8 658.0,1434.7 659.0,1427.5 660.0,1422.5 661.0,1419.9 662.0,1420.0 663.0,1421.9 664.0,1425.1 665.0,1429.4 666.0,1434.6 667.0,1440.3 668.0,1446.3 669.0,1452.3 670.0,1458.0 671.0,1463.2 672.0,1467.5 673.0,1470.7 674.0,1472.6 675.0,1472.7 676.0,1470.3 677.0,1465.8 678.0,1459.5 679.0,1452.0 680.0,1443.9 681.0,1435.5 682.0,1427.4 683.0,1420.0 684.0,1413.9 685.0,1409.5 686.0,1407.4 687.0,1408.1 688.0,1411.6 689.0,1417.6 690.0,1426.0 691.0,1436.2 692.0,1447.9 693.0,1460.9 694.0,1474.8 695.0,1489.3 696.0,1503.9 697.0,1518.5 698.0,1532.6 699.0,1545.9 700.0,1558.0 701.0,1568.8 702.0,1577.7 703.0,1584.5 704.0,1588.8 705.0,1590.3 706.0,1590.0 707.0,1589.3 708.0,1588.1 709.0,1586.6 710.0,1584.8 711.0,1582.7 712.0,1580.5 713.0,1578.1 714.0,1575.7 715.0,1573.3 716.0,1570.9 717.0,1568.7 718.0,1566.6 719.0,1564.8 720.0,1563.3 721.0,1562.2 722.0,1561.5 723.0,1561.3 724.0,1562.3 725.0,1564.7 726.0,1567.7 727.0,1571.0 728.0,1573.9 729.0,1575.9 730.0,1576.4 731.0,1573.9 732.0,1568.0 733.0,1559.4 734.0,1548.4 735.0,1535.6 736.0,1521.5 737.0,1506.5 738.0,1491.2 739.0,1475.9 740.0,1461.3 741.0,1447.8 742.0,1435.9 743.0,1426.0 744.0,1418.7 745.0,1414.4 746.0,1413.6 747.0,1415.7 748.0,1420.0 749.0,1426.1 750.0,1433.4 751.0,1441.4 752.0,1449.7 753.0,1457.8 754.0,1465.1 755.0,1471.3 756.0,1475.8 757.0,1478.2 758.0,1477.9 759.0,1475.1 760.0,1470.2 761.0,1463.9 762.0,1456.5 763.0,1448.7 764.0,1440.8 765.0,1433.5 766.0,1427.3 767.0,1422.6 768.0,1420.0 769.0,1420.1 770.0,1423.0 771.0,1428.5 772.0,1436.3 773.0,1445.9 774.0,1457.1 775.0,1469.5 776.0,1482.8 777.0,1496.6 778.0,1510.6 779.0,1524.4 780.0,1537.7 781.0,1550.1 782.0,1561.3 783.0,1570.9 784.0,1578.7 785.0,1584.2 786.0,1587.1 787.0,1587.3 788.0,1585.9 789.0,1583.6 790.0,1580.7 791.0,1577.7 792.0,1575.0 793.0,1573.0 794.0,1572.3 795.0,1572.7 796.0,1573.9 797.0,1575.6 798.0,1577.8 799.0,1580.2 800.0,1582.8 801.0,1585.4 802.0,1587.9 803.0,1590.0 804.0,1591.7 805.0,1592.8 806.0,1593.1 807.0,1591.7 808.0,1588.2 809.0,1582.8 810.0,1575.6 811.0,1567.1 812.0,1557.2 813.0,1546.4 814.0,1534.7 815.0,1522.5 816.0,1509.9 817.0,1497.2 818.0,1484.5 819.0,1472.2 820.0,1460.4 821.0,1449.4 822.0,1439.3 823.0,1430.5 824.0,1423.0 825.0,1417.2 826.0,1413.3 827.0,1411.5 828.0,1412.1 829.0,1415.5 830.0,1421.1 831.0,1428.4 832.0,1437.0 833.0,1446.3 834.0,1455.9 835.0,1465.2 836.0,1473.8 837.0,1481.1 838.0,1486.7 839.0,1490.1 840.0,1490.6 841.0,1488.1 842.0,1482.9 843.0,1475.5 844.0,1466.6 845.0,1456.8 846.0,1446.7 847.0,1436.8 848.0,1427.7 849.0,1420.0 850.0,1414.3 851.0,1411.1 852.0,1411.0 853.0,1413.5 854.0,1418.1 855.0,1424.7 856.0,1433.0 857.0,1442.7 858.0,1453.6 859.0,1465.3 860.0,1477.8 861.0,1490.6 862.0,1503.5 863.0,1516.3 864.0,1528.8 865.0,1540.5 866.0,1551.4 867.0,1561.1 868.0,1569.4 869.0,1576.0 870.0,1580.6 871.0,1583.1 872.0,1583.4 873.0,1583.4 874.0,1583.4 875.0,1583.4 876.0,1583.4 877.0,1583.4 878.0,1583.4 879.0,1583.4 880.0,1583.4 881.0,1583.4 882.0,1583.4 883.0,1583.4 884.0,1583.4 885.0,1583.6 886.0,1584.1 887.0,1584.7 888.0,1585.4 889.0,1586.1 890.0,1586.8 891.0,1587.3 892.0,1587.5 893.0,1586.7 894.0,1583.6 895.0,1578.4 896.0,1571.4 897.0,1562.8 898.0,1553.0 899.0,1542.3 900.0,1530.8 901.0,1518.9 902.0,1506.8 903.0,1494.9 904.0,1483.4 905.0,1472.5 906.0,1462.6 907.0,1453.9 908.0,1446.7 909.0,1441.3 910.0,1438.0 911.0,1437.0 912.0,1438.2 913.0,1441.1 914.0,1445.4 915.0,1450.6 916.0,1456.5 917.0,1462.7 918.0,1468.8 919.0,1474.4 920.0,1479.2 921.0,1482.8 922.0,1484.9 923.0,1485.1 924.0,1482.9 925.0,1478.6 926.0,1472.7 927.0,1465.6 928.0,1457.9 929.0,1449.9 930.0,1442.2 931.0,1435.1 932.0,1429.2 933.0,1424.9 934.0,1422.7 935.0,1423.0 936.0,1425.7 937.0,1430.5 938.0,1437.3 939.0,1445.7 940.0,1455.5 941.0,1466.4 942.0,1478.2 943.0,1490.5 944.0,1503.1 945.0,1515.8 946.0,1528.2 947.0,1540.1 948.0,1551.3 949.0,1561.5 950.0,1570.3 951.0,1577.6 952.0,1583.1 953.0,1586.5 954.0,1587.5 955.0,1587.5 956.0,1587.5 957.0,1587.4 958.0,1587.3 959.0,1587.2 960.0,1587.1 961.0,1587.0 962.0,1586.8 963.0,1586.7 964.0,1586.5 965.0,1586.3 966.0,1586.0 967.0,1585.8 968.0,1585.5 969.0,1585.2 970.0,1584.9 971.0,1584.6 972.0,1584.2 973.0,1583.9 974.0,1583.5 975.0,1582.3 976.0,1578.8 977.0,1573.1 978.0,1565.7 979.0,1556.7 980.0,1546.3 981.0,1535.0 982.0,1522.9 983.0,1510.4 984.0,1497.6 985.0,1484.9 986.0,1472.5 987.0,1460.8 988.0,1449.9 989.0,1440.1 990.0,1431.8 991.0,1425.1 992.0,1420.4 993.0,1417.9 994.0,1417.9 995.0,1420.0 996.0,1423.8 997.0,1429.0 998.0,1435.3 999.0,1442.4 1000.0,1449.7 1001.0,1457.1 1002.0,1464.2 1003.0,1470.6 1004.0,1475.9 1005.0,1479.9 1006.0,1482.2 1007.0,1482.4 1008.0,1479.8 1009.0,1475.0 1010.0,1468.4 1011.0,1460.5 1012.0,1452.1 1013.0,1443.6 1014.0,1435.5 1015.0,1428.5 1016.0,1423.0 1017.0,1419.7 1018.0,1419.2 1019.0,1422.0 1020.0,1428.1 1021.0,1436.8 1022.0,1447.8 1023.0,1460.6 1024.0,1474.6 1025.0,1489.3 1026.0,1504.4 1027.0,1519.4 1028.0,1533.7 1029.0,1546.8 1030.0,1558.4 1031.0,1567.8 1032.0,1574.8 1033.0,1578.6 1034.0,1579.2 1035.0,1578.0 1036.0,1576.1 1037.0,1573.7 1038.0,1571.6 1039.0,1570.0 1040.0,1569.6 1041.0,1570.4 1042.0,1572.0 1043.0,1574.2 1044.0,1576.6 1045.0,1579.1 1046.0,1581.2 1047.0,1582.7 1048.0,1583.4 1049.0,1583.4 1050.0,1583.3 1051.0,1583.2 1052.0,1583.0 1053.0,1582.8 1054.0,1582.5 1055.0,1582.2 1056.0,1581.9 1057.0,1581.5 1058.0,1581.1 1059.0,1580.6 1060.0,1579.0 1061.0,1574.6 1062.0,1567.9 1063.0,1559.1 1064.0,1548.7 1065.0,1537.0 1066.0,1524.3 1067.0,1511.0 1068.0,1497.5 1069.0,1484.1 1070.0,1471.2 1071.0,1459.1 1072.0,1448.2 1073.0,1438.8 1074.0,1431.3 1075.0,1426.1 1076.0,1423.4 1077.0,1423.7 1078.0,1426.5 1079.0,1431.4 1080.0,1437.8 1081.0,1445.1 1082.0,1453.0 1083.0,1460.8 1084.0,1468.0 1085.0,1474.1 1086.0,1478.6 1087.0,1481.0 1088.0,1480.8 1089.0,1478.6 1090.0,1474.6 1091.0,1469.2 1092.0,1462.8 1093.0,1455.6 1094.0,1447.9 1095.0,1440.2 1096.0,1432.6 1097.0,1425.6 1098.0,1419.4 1099.0,1414.5 1100.0,1411.0 1101.0,1409.3 1102.0,1410.0 1103.0,1413.9 1104.0,1420.5 1105.0,1429.6 1106.0,1440.6 1107.0,1453.2 1108.0,1467.0 1109.0,1481.6 1110.0,1496.6 1111.0,1511.6 1112.0,1526.1 1113.0,1539.8 1114.0,1552.3 1115.0,1563.2 1116.0,1572.1 1117.0,1578.5 1118.0,1582.1 1119.0,1582.9 1120.0,1583.3 1121.0,1583.6 1122.0,1583.9 1123.0,1584.2 1124.0,1584.4 1125.0,1584.6 1126.0,1584.8 1127.0,1584.9 1128.0,1585.0 1129.0,1585.0 1130.0,1585.0 1131.0,1584.9 1132.0,1584.8 1133.0,1584.6 1134.0,1584.4 1135.0,1584.2 1136.0,1583.9 1137.0,1583.5 1138.0,1583.1 1139.0,1582.7 1140.0,1582.2 1141.0,1581.7 1142.0,1581.2 1143.0,1580.6 1144.0,1579.6 1145.0,1576.1 1146.0,1570.1 1147.0,1562.0 1148.0,1552.0 1149.0,1540.7 1150.0,1528.3 1151.0,1515.3 1152.0,1502.1 1153.0,1488.9 1154.0,1476.1 1155.0,1464.3 1156.0,1453.6 1157.0,1444.5 1158.0,1437.4 1159.0,1432.6 1160.0,1430.5 1161.0,1431.2 1162.0,1434.1 1163.0,1438.8 1164.0,1444.8 1165.0,1451.6 1166.0,1458.8 1167.0,1466.0 1168.0,1472.6 1169.0,1478.3 1170.0,1482.5 1171.0,1484.8 1172.0,1484.8 1173.0,1482.9 1174.0,1479.3 1175.0,1474.4 1176.0,1468.6 1177.0,1462.2 1178.0,1455.5 1179.0,1448.9 1180.0,1442.7 1181.0,1437.3 1182.0,1433.0 1183.0,1430.2 1184.0,1429.2 1185.0,1430.4 1186.0,1434.1 1187.0,1439.9 1188.0,1447.8 1189.0,1457.6 1190.0,1469.1 1191.0,1482.2 1192.0,1496.7 1193.0,1512.4 1194.0,1529.2 1195.0,1546.9" fill="none" stroke="#0000ff" stroke-width="5" stroke-linejoin="round"/>
<polyline points="117.8,1525.2 118.9,1532.2 120.1,1538.9 121.2,1545.5 122.3,1551.8 123.5,1557.8 124.6,1563.4 125.7,1568.7 126.9,1573.5 128.0,1577.8 129.2,1581.7 130.3,1585.0 131.4,1587.8 132.6,1590.0 133.7,1591.6 134.8,1592.6 136.0,1593.0 137.1,1592.8 138.2,1592.0 139.4,1590.6 140.5,1588.6 141.6,1586.0 142.8,1582.9 143.9,1579.2 145.0,1575.0 146.2,1570.3 147.3,1565.2 148.4,1559.7 149.6,1553.8 150.7,1547.6 151.9,1541.2 153.0,1534.5 154.1,1527.6 155.3,1520.6 156.4,1513.5 157.5,1506.4 158.7,1499.3 159.8,1492.4 160.9,1485.5 162.1,1478.8 163.2,1472.4 164.3,1466.2 165.5,1460.4 166.6,1455.0 167.7,1449.9 168.9,1445.3 170.0,1441.2 171.1,1437.6 172.3,1434.6 173.4,1432.1 174.6,1430.2 175.7,1428.9 176.8,1428.1 178.0,1428.0 179.1,1428.5 180.2,1429.7 181.4,1431.4 182.5,1433.7 183.6,1436.5 184.8,1440.0 185.9,1443.9 187.0,1448.3 188.2,1453.2 189.3,1458.5 190.4,1464.2 191.6,1470.3 192.7,1476.6 193.9,1483.2 195.0,1490.0 196.1,1497.0 197.3,1504.0 198.4,1511.1 199.5,1518.2 200.7,1525.2 201.8,1532.2 202.9,1538.9 204.1,1545.5 205.2,1551.8 206.3,1557.8 207.5,1563.4 208.6,1568.7 209.7,1573.5 210.9,1577.8 212.0,1581.7 213.1,1585.0 214.3,1587.8 215.4,1590.0 216.6,1591.6 217.7,1592.6 218.8,1593.0 220.0,1592.8 221.1,1592.0 222.2,1590.6 223.4,1588.6 224.5,1586.0 225.6,1582.9 226.8,1579.2 227.9,1575.0 229.0,1570.3 230.2,1565.2 231.3,1559.7 232.4,1553.8 233.6,1547.6 234.7,1541.2 235.8,1534.5 237.0,1527.6 238.1,1520.6 239.3,1513.5 240.4,1506.4 241.5,1499.3 242.7,1492.4 243.8,1485.5 244.9,1478.8 246.1,1472.4 247.2,1466.2 248.3,1460.4 249.5,1455.0 250.6,1449.9 251.7,1445.3 252.9,1441.2 254.0,1437.6 255.1,1434.6 256.3,1432.1 257.4,1430.2 258.6,1428.9 259.7,1428.1 260.8,1428.0 262.0,1428.5 263.1,1429.7 264.2,1431.4 265.4,1433.7 266.5,1436.5 267.6,1440.0 268.8,1443.9 269.9,1448.3 271.0,1453.2 272.2,1458.5 273.3,1464.2 274.4,1470.3 275.6,1476.6 276.7,1483.2 277.8,1490.0 279.0,1497.0 280.1,1504.0 281.3,1511.1 282.4,1518.2 283.5,1525.2 284.7,1532.2 285.8,1538.9 286.9,1545.5 288.1,1551.8 289.2,1557.8 290.3,1563.4 291.5,1568.7 292.6,1573.5 293.7,1577.8 294.9,1581.7 296.0,1585.0 297.1,1587.8 298.3,1590.0 299.4,1591.6 300.5,1592.6 301.7,1593.0 302.8,1592.8 304.0,1592.0 305.1,1590.6 306.2,1588.6 307.4,1586.0 308.5,1582.9 309.6,1579.2 310.8,1575.0 311.9,1570.3 313.0,1565.2 314.2,1559.7 315.3,1553.8 316.4,1547.6 317.6,1541.2 318.7,1534.5 319.8,1527.6 321.0,1520.6 322.1,1513.5 323.3,1506.4 324.4,1499.3 325.5,1492.4 326.7,1485.5 327.8,1478.8 328.9,1472.4 330.1,1466.2 331.2,1460.4 332.3,1455.0 333.5,1449.9 334.6,1445.3 335.7,1441.2 336.9,1437.6 338.0,1434.6 339.1,1432.1 340.3,1430.2 341.4,1428.9 342.5,1428.1 343.7,1428.0 344.8,1428.5 346.0,1429.7 347.1,1431.4 348.2,1433.7 349.4,1436.5 350.5,1440.0 351.6,1443.9 352.8,1448.3 353.9,1453.2 355.0,1458.5 356.2,1464.2 357.3,1470.3 358.4,1476.6 359.6,1483.2 360.7,1490.0 361.8,1497.0 363.0,1504.0 364.1,1511.1 365.2,1518.2 366.4,1525.2 367.5,1532.2 368.7,1538.9 369.8,1545.5 370.9,1551.8 372.1,1557.8 373.2,1563.4 374.3,1568.7 375.5,1573.5 376.6,1577.8 377.7,1581.7 378.9,1585.0 380.0,1587.8 381.1,1590.0 382.3,1591.6 383.4,1592.6 384.5,1593.0 385.7,1592.8 386.8,1592.0 388.0,1590.6 389.1,1588.6 390.2,1586.0 391.4,1582.9 392.5,1579.2 393.6,1575.0 394.8,1570.3 395.9,1565.2 397.0,1559.7 398.2,1553.8 399.3,1547.6 400.4,1541.2 401.6,1534.5 402.7,1527.6 403.8,1520.6 405.0,1513.5 406.1,1506.4 407.2,1499.3 408.4,1492.4 409.5,1485.5 410.7,1478.8 411.8,1472.4 412.9,1466.2 414.1,1460.4 415.2,1455.0 416.3,1449.9 417.5,1445.3 418.6,1441.2 419.7,1437.6 420.9,1434.6 422.0,1432.1 423.1,1430.2 424.3,1428.9 425.4,1428.1 426.5,1428.0 427.7,1428.5 428.8,1429.7 429.9,1431.4 431.1,1433.7 432.2,1436.5 433.4,1440.0 434.5,1443.9 435.6,1448.3 436.8,1453.2 437.9,1458.5 439.0,1464.2 440.2,1470.3 441.3,1476.6 442.4,1483.2 443.6,1490.0 444.7,1497.0 445.8,1504.0 447.0,1511.1 448.1,1518.2 449.2,1525.2 450.4,1532.2 451.5,1538.9 452.7,1545.5 453.8,1551.8 454.9,1557.8 456.1,1563.4 457.2,1568.7 458.3,1573.5 459.5,1577.8 460.6,1581.7 461.7,1585.0 462.9,1587.8 464.0,1590.0 465.1,1591.6 466.3,1592.6 467.4,1593.0 468.5,1592.8 469.7,1592.0 470.8,1590.6 471.9,1588.6 473.1,1586.0 474.2,1582.9 475.4,1579.2 476.5,1575.0 477.6,1570.3 478.8,1565.2 479.9,1559.7 481.0,1553.8 482.2,1547.6 483.3,1541.2 484.4,1534.5 485.6,1527.6 486.7,1520.6 487.8,1513.5 489.0,1506.4 490.1,1499.3 491.2,1492.4 492.4,1485.5 493.5,1478.8 494.6,1472.4 495.8,1466.2 496.9,1460.4 498.1,1455.0 499.2,1449.9 500.3,1445.3 501.5,1441.2 502.6,1437.6 503.7,1434.6 504.9,1432.1 506.0,1430.2 507.1,1428.9 508.3,1428.1 509.4,1428.0 510.5,1428.5 511.7,1429.7 512.8,1431.4 513.9,1433.7 515.1,1436.5 516.2,1440.0 517.4,1443.9 518.5,1448.3 519.6,1453.2 520.8,1458.5 521.9,1464.2 523.0,1470.3 524.2,1476.6 525.3,1483.2 526.4,1490.0 527.6,1497.0 528.7,1504.0 529.8,1511.1 531.0,1518.2 532.1,1525.2 533.2,1532.2 534.4,1538.9 535.5,1545.5 536.6,1551.8 537.8,1557.8 538.9,1563.4 540.1,1568.7 541.2,1573.5 542.3,1577.8 543.5,1581.7 544.6,1585.0 545.7,1587.8 546.9,1590.0 548.0,1591.6 549.1,1592.6 550.3,1593.0 551.4,1592.8 552.5,1592.0 553.7,1590.6 554.8,1588.6 555.9,1586.0 557.1,1582.9 558.2,1579.2 559.3,1575.0 560.5,1570.3 561.6,1565.2 562.8,1559.7 563.9,1553.8 565.0,1547.6 566.2,1541.2 567.3,1534.5 568.4,1527.6 569.6,1520.6 570.7,1513.5 571.8,1506.4 573.0,1499.3 574.1,1492.4 575.2,1485.5 576.4,1478.8 577.5,1472.4 578.6,1466.2 579.8,1460.4 580.9,1455.0 582.1,1449.9 583.2,1445.3 584.3,1441.2 585.5,1437.6 586.6,1434.6 587.7,1432.1 588.9,1430.2 590.0,1428.9 591.1,1428.1 592.3,1428.0 593.4,1428.5 594.5,1429.7 595.7,1431.4 596.8,1433.7 597.9,1436.5 599.1,1440.0 600.2,1443.9 601.3,1448.3 602.5,1453.2 603.6,1458.5 604.8,1464.2 605.9,1470.3 607.0,1476.6 608.2,1483.2 609.3,1490.0 610.4,1497.0 611.6,1504.0 612.7,1511.1 613.8,1518.2 615.0,1525.2 616.1,1532.2 617.2,1538.9 618.4,1545.5 619.5,1551.8 620.6,1557.8 621.8,1563.4 622.9,1568.7 624.0,1573.5 625.2,1577.8 626.3,1581.7 627.5,1585.0 628.6,1587.8 629.7,1590.0 630.9,1591.6 632.0,1592.6 633.1,1593.0 634.3,1592.8 635.4,1592.0 636.5,1590.6 637.7,1588.6 638.8,1586.0 639.9,1582.9 641.1,1579.2 642.2,1575.0 643.3,1570.3 644.5,1565.2 645.6,1559.7 646.8,1553.8 647.9,1547.6 649.0,1541.2 650.2,1534.5 651.3,1527.6 652.4,1520.6 653.6,1513.5 654.7,1506.4 655.8,1499.3 657.0,1492.4 658.1,1485.5 659.2,1478.8 660.4,1472.4 661.5,1466.2 662.6,1460.4 663.8,1455.0 664.9,1449.9 666.0,1445.3 667.2,1441.2 668.3,1437.6 669.5,1434.6 670.6,1432.1 671.7,1430.2 672.9,1428.9 674.0,1428.1 675.1,1428.0 676.3,1428.5 677.4,1429.7 678.5,1431.4 679.7,1433.7 680.8,1436.5 681.9,1440.0 683.1,1443.9 684.2,1448.3 685.3,1453.2 686.5,1458.5 687.6,1464.2 688.8,1470.3 689.9,1476.6 691.0,1483.2 692.2,1490.0 693.3,1497.0 694.4,1504.0 695.6,1511.1 696.7,1518.2 697.8,1525.2 699.0,1532.2 700.1,1538.9 701.2,1545.5 702.4,1551.8 703.5,1557.8 704.6,1563.4 705.8,1568.7 706.9,1573.5 708.0,1577.8 709.2,1581.7 710.3,1585.0 711.5,1587.8 712.6,1590.0 713.7,1591.6 714.9,1592.6 716.0,1593.0 717.1,1592.8 718.3,1592.0 719.4,1590.6 720.5,1588.6 721.7,1586.0 722.8,1582.9 723.9,1579.2 725.1,1575.0 726.2,1570.3 727.3,1565.2 728.5,1559.7 729.6,1553.8 730.7,1547.6 731.9,1541.2 733.0,1534.5 734.2,1527.6 735.3,1520.6 736.4,1513.5 737.6,1506.4 738.7,1499.3 739.8,1492.4 741.0,1485.5 742.1,1478.8 743.2,1472.4 744.4,1466.2 745.5,1460.4 746.6,1455.0 747.8,1449.9 748.9,1445.3 750.0,1441.2 751.2,1437.6 752.3,1434.6 753.5,1432.1 754.6,1430.2 755.7,1428.9 756.9,1428.1 758.0,1428.0 759.1,1428.5 760.3,1429.7 761.4,1431.4 762.5,1433.7 763.7,1436.5 764.8,1440.0 765.9,1443.9 767.1,1448.3 768.2,1453.2 769.3,1458.5 770.5,1464.2 771.6,1470.3 772.7,1476.6 773.9,1483.2 775.0,1490.0 776.2,1497.0 777.3,1504.0 778.4,1511.1 779.6,1518.2 780.7,1525.2 781.8,1532.2 783.0,1538.9 784.1,1545.5 785.2,1551.8 786.4,1557.8 787.5,1563.4 788.6,1568.7 789.8,1573.5 790.9,1577.8 792.0,1581.7 793.2,1585.0 794.3,1587.8 795.4,1590.0 796.6,1591.6 797.7,1592.6 798.9,1593.0 800.0,1592.8 801.1,1592.0 802.3,1590.6 803.4,1588.6 804.5,1586.0 805.7,1582.9 806.8,1579.2 807.9,1575.0 809.1,1570.3 810.2,1565.2 811.3,1559.7 812.5,1553.8 813.6,1547.6 814.7,1541.2 815.9,1534.5 817.0,1527.6 818.2,1520.6 819.3,1513.5 820.4,1506.4 821.6,1499.3 822.7,1492.4 823.8,1485.5 825.0,1478.8 826.1,1472.4 827.2,1466.2 828.4,1460.4 829.5,1455.0 830.6,1449.9 831.8,1445.3 832.9,1441.2 834.0,1437.6 835.2,1434.6 836.3,1432.1 837.4,1430.2 838.6,1428.9 839.7,1428.1 840.9,1428.0 842.0,1428.5 843.1,1429.7 844.3,1431.4 845.4,1433.7 846.5,1436.5 847.7,1440.0 848.8,1443.9 849.9,1448.3 851.1,1453.2 852.2,1458.5 853.3,1464.2 854.5,1470.3 855.6,1476.6 856.7,1483.2 857.9,1490.0 859.0,1497.0 860.1,1504.0 861.3,1511.1 862.4,1518.2 863.6,1525.2 864.7,1532.2 865.8,1538.9 867.0,1545.5 868.1,1551.8 869.2,1557.8 870.4,1563.4 871.5,1568.7 872.6,1573.5 873.8,1577.8 874.9,1581.7 876.0,1585.0 877.2,1587.8 878.3,1590.0 879.4,1591.6 880.6,1592.6 881.7,1593.0 882.9,1592.8 884.0,1592.0 885.1,1590.6 886.3,1588.6 887.4,1586.0 888.5,1582.9 889.7,1579.2 890.8,1575.0 891.9,1570.3 893.1,1565.2 894.2,1559.7 895.3,1553.8 896.5,1547.6 897.6,1541.2 898.7,1534.5 899.9,1527.6 901.0,1520.6 902.1,1513.5 903.3,1506.4 904.4,1499.3 905.6,1492.4 906.7,1485.5 907.8,1478.8 909.0,1472.4 910.1,1466.2 911.2,1460.4 912.4,1455.0 913.5,1449.9 914.6,1445.3 915.8,1441.2 916.9,1437.6 918.0,1434.6 919.2,1432.1 920.3,1430.2 921.4,1428.9 922.6,1428.1 923.7,1428.0 924.8,1428.5 926.0,1429.7 927.1,1431.4 928.3,1433.7 929.4,1436.5 930.5,1440.0 931.7,1443.9 932.8,1448.3 933.9,1453.2 935.1,1458.5 936.2,1464.2 937.3,1470.3 938.5,1476.6 939.6,1483.2 940.7,1490.0 941.9,1497.0 943.0,1504.0 944.1,1511.1 945.3,1518.2 946.4,1525.2 947.6,1532.2 948.7,1538.9 949.8,1545.5 951.0,1551.8 952.1,1557.8 953.2,1563.4 954.4,1568.7 955.5,1573.5 956.6,1577.8 957.8,1581.7 958.9,1585.0 960.0,1587.8 961.2,1590.0 962.3,1591.6 963.4,1592.6 964.6,1593.0 965.7,1592.8 966.8,1592.0 968.0,1590.6 969.1,1588.6 970.3,1586.0 971.4,1582.9 972.5,1579.2 973.7,1575.0 974.8,1570.3 975.9,1565.2 977.1,1559.7 978.2,1553.8 979.3,1547.6 980.5,1541.2 981.6,1534.5 982.7,1527.6 983.9,1520.6 985.0,1513.5 986.1,1506.4 987.3,1499.3 988.4,1492.4 989.5,1485.5 990.7,1478.8 991.8,1472.4 993.0,1466.2 994.1,1460.4 995.2,1455.0 996.4,1449.9 997.5,1445.3 998.6,1441.2 999.8,1437.6 1000.9,1434.6 1002.0,1432.1 1003.2,1430.2 1004.3,1428.9 1005.4,1428.1 1006.6,1428.0 1007.7,1428.5 1008.8,1429.7 1010.0,1431.4 1011.1,1433.7 1012.3,1436.5 1013.4,1440.0 1014.5,1443.9 1015.7,1448.3 1016.8,1453.2 1017.9,1458.5 1019.1,1464.2 1020.2,1470.3 1021.3,1476.6 1022.5,1483.2 1023.6,1490.0 1024.7,1497.0 1025.9,1504.0 1027.0,1511.1 1028.1,1518.2 1029.3,1525.2 1030.4,1532.2 1031.5,1538.9 1032.7,1545.5 1033.8,1551.8 1035.0,1557.8 1036.1,1563.4 1037.2,1568.7 1038.4,1573.5 1039.5,1577.8 1040.6,1581.7 1041.8,1585.0 1042.9,1587.8 1044.0,1590.0 1045.2,1591.6 1046.3,1592.6 1047.4,1593.0 1048.6,1592.8 1049.7,1592.0 1050.8,1590.6 1052.0,1588.6 1053.1,1586.0 1054.2,1582.9 1055.4,1579.2 1056.5,1575.0 1057.7,1570.3 1058.8,1565.2 1059.9,1559.7 1061.1,1553.8 1062.2,1547.6 1063.3,1541.2 1064.5,1534.5 1065.6,1527.6 1066.7,1520.6 1067.9,1513.5 1069.0,1506.4 1070.1,1499.3 1071.3,1492.4 1072.4,1485.5 1073.5,1478.8 1074.7,1472.4 1075.8,1466.2 1077.0,1460.4 1078.1,1455.0 1079.2,1449.9 1080.4,1445.3 1081.5,1441.2 1082.6,1437.6 1083.8,1434.6 1084.9,1432.1 1086.0,1430.2 1087.2,1428.9 1088.3,1428.1 1089.4,1428.0 1090.6,1428.5 1091.7,1429.7 1092.8,1431.4 1094.0,1433.7 1095.1,1436.5 1096.2,1440.0 1097.4,1443.9 1098.5,1448.3 1099.7,1453.2 1100.8,1458.5 1101.9,1464.2 1103.1,1470.3 1104.2,1476.6 1105.3,1483.2 1106.5,1490.0 1107.6,1497.0 1108.7,1504.0 1109.9,1511.1 1111.0,1518.2 1112.1,1525.2 1113.3,1532.2 1114.4,1538.9 1115.5,1545.5 1116.7,1551.8 1117.8,1557.8 1118.9,1563.4 1120.1,1568.7 1121.2,1573.5 1122.4,1577.8 1123.5,1581.7 1124.6,1585.0 1125.8,1587.8 1126.9,1590.0 1128.0,1591.6 1129.2,1592.6 1130.3,1593.0 1131.4,1592.8 1132.6,1592.0 1133.7,1590.6 1134.8,1588.6 1136.0,1586.0 1137.1,1582.9 1138.2,1579.2 1139.4,1575.0 1140.5,1570.3 1141.7,1565.2 1142.8,1559.7 1143.9,1553.8 1145.1,1547.6 1146.2,1541.2 1147.3,1534.5 1148.5,1527.6 1149.6,1520.6 1150.7,1513.5 1151.9,1506.4 1153.0,1499.3 1154.1,1492.4 1155.3,1485.5 1156.4,1478.8 1157.5,1472.4 1158.7,1466.2 1159.8,1460.4 1160.9,1455.0 1162.1,1449.9 1163.2,1445.3 1164.4,1441.2 1165.5,1437.6 1166.6,1434.6 1167.8,1432.1 1168.9,1430.2 1170.0,1428.9 1171.2,1428.1 1172.3,1428.0 1173.4,1428.5 1174.6,1429.7 1175.7,1431.4 1176.8,1433.7 1178.0,1436.5 1179.1,1440.0 1180.2,1443.9 1181.4,1448.3 1182.5,1453.2 1183.6,1458.5 1184.8,1464.2 1185.9,1470.3 1187.1,1476.6 1188.2,1483.2 1189.3,1490.0 1190.5,1497.0 1191.6,1504.0 1192.7,1511.1 1193.9,1518.2 1195.0,1525.2" fill="none" stroke="#ff0000" stroke-width="5" stroke-linejoin="round"/>
</g>
<polygon points="115.3,1484.2 127.0,1547.7 119.4,1549.1 134.9,1569.6 142.0,1544.9 134.4,1546.3 122.7,1482.8" fill="#548235"/>
<path d="M116.7,1340.3 L1181.0,1340.3" fill="none" stroke="#222" stroke-width="1.8"/>
<path d="M116.7,1858.5 L1181.0,1858.5" fill="none" stroke="#222" stroke-width="1.8"/>
<path d="M1181.0,1340.3 L1195.0,1340.3 L1195.0,1858.5 L1181.0,1858.5" fill="none" stroke="#c00" stroke-width="1.6"/>
<line x1="225.5" y1="1858.5" x2="225.5" y2="1847.5" stroke="#000" stroke-width="1.6"/>
<line x1="225.5" y1="1340.3" x2="225.5" y2="1351.3" stroke="#000" stroke-width="1.6"/>
<line x1="333.2" y1="1858.5" x2="333.2" y2="1847.5" stroke="#000" stroke-width="1.6"/>
<line x1="333.2" y1="1340.3" x2="333.2" y2="1351.3" stroke="#000" stroke-width="1.6"/>
<line x1="441.0" y1="1858.5" x2="441.0" y2="1847.5" stroke="#000" stroke-width="1.6"/>
<line x1="441.0" y1="1340.3" x2="441.0" y2="1351.3" stroke="#000" stroke-width="1.6"/>
<line x1="548.7" y1="1858.5" x2="548.7" y2="1847.5" stroke="#000" stroke-width="1.6"/>
<line x1="548.7" y1="1340.3" x2="548.7" y2="1351.3" stroke="#000" stroke-width="1.6"/>
<line x1="656.4" y1="1858.5" x2="656.4" y2="1847.5" stroke="#000" stroke-width="1.6"/>
<line x1="656.4" y1="1340.3" x2="656.4" y2="1351.3" stroke="#000" stroke-width="1.6"/>
<line x1="764.1" y1="1858.5" x2="764.1" y2="1847.5" stroke="#000" stroke-width="1.6"/>
<line x1="764.1" y1="1340.3" x2="764.1" y2="1351.3" stroke="#000" stroke-width="1.6"/>
<line x1="871.8" y1="1858.5" x2="871.8" y2="1847.5" stroke="#000" stroke-width="1.6"/>
<line x1="871.8" y1="1340.3" x2="871.8" y2="1351.3" stroke="#000" stroke-width="1.6"/>
<line x1="979.6" y1="1858.5" x2="979.6" y2="1847.5" stroke="#000" stroke-width="1.6"/>
<line x1="979.6" y1="1340.3" x2="979.6" y2="1351.3" stroke="#000" stroke-width="1.6"/>
<line x1="1087.3" y1="1858.5" x2="1087.3" y2="1847.5" stroke="#000" stroke-width="1.6"/>
<line x1="1087.3" y1="1340.3" x2="1087.3" y2="1351.3" stroke="#000" stroke-width="1.6"/>
<line x1="1195.0" y1="1340.3" x2="1184.0" y2="1340.3" stroke="#000" stroke-width="1.6"/>
<line x1="1195.0" y1="1599.4" x2="1184.0" y2="1599.4" stroke="#000" stroke-width="1.6"/>
<line x1="1195.0" y1="1858.5" x2="1184.0" y2="1858.5" stroke="#000" stroke-width="1.6"/>
<line x1="1195.0" y1="1340.3" x2="1184.0" y2="1340.3" stroke="#d00" stroke-width="1.6"/>
<line x1="1195.0" y1="1469.8" x2="1184.0" y2="1469.8" stroke="#d00" stroke-width="1.6"/>
<line x1="1195.0" y1="1599.4" x2="1184.0" y2="1599.4" stroke="#d00" stroke-width="1.6"/>
<line x1="1195.0" y1="1729.0" x2="1184.0" y2="1729.0" stroke="#d00" stroke-width="1.6"/>
<line x1="1195.0" y1="1858.5" x2="1184.0" y2="1858.5" stroke="#d00" stroke-width="1.6"/>
<text x="117.8" y="1892.5" font-family="'Liberation Serif', serif" font-weight="bold" font-size="29.5" text-anchor="middle">5</text>
<text x="225.5" y="1892.5" font-family="'Liberation Serif', serif" font-weight="bold" font-size="29.5" text-anchor="middle">5.1</text>
<text x="333.2" y="1892.5" font-family="'Liberation Serif', serif" font-weight="bold" font-size="29.5" text-anchor="middle">5.2</text>
<text x="441.0" y="1892.5" font-family="'Liberation Serif', serif" font-weight="bold" font-size="29.5" text-anchor="middle">5.3</text>
<text x="548.7" y="1892.5" font-family="'Liberation Serif', serif" font-weight="bold" font-size="29.5" text-anchor="middle">5.4</text>
<text x="656.4" y="1892.5" font-family="'Liberation Serif', serif" font-weight="bold" font-size="29.5" text-anchor="middle">5.5</text>
<text x="764.1" y="1892.5" font-family="'Liberation Serif', serif" font-weight="bold" font-size="29.5" text-anchor="middle">5.6</text>
<text x="871.8" y="1892.5" font-family="'Liberation Serif', serif" font-weight="bold" font-size="29.5" text-anchor="middle">5.7</text>
<text x="979.6" y="1892.5" font-family="'Liberation Serif', serif" font-weight="bold" font-size="29.5" text-anchor="middle">5.8</text>
<text x="1087.3" y="1892.5" font-family="'Liberation Serif', serif" font-weight="bold" font-size="29.5" text-anchor="middle">5.9</text>
<text x="1195.0" y="1892.5" font-family="'Liberation Serif', serif" font-weight="bold" font-size="29.5" text-anchor="middle">6</text>
<text x="110.8" y="1351.6" font-family="'Liberation Serif', serif" font-weight="bold" font-size="29.5" text-anchor="end">200</text>
<text x="110.8" y="1610.7" font-family="'Liberation Serif', serif" font-weight="bold" font-size="29.5" text-anchor="end">0</text>
<text x="110.8" y="1869.8" font-family="'Liberation Serif', serif" font-weight="bold" font-size="29.5" text-anchor="end">-200</text>
<text x="1202.5" y="1351.6" font-family="'Liberation Serif', serif" font-weight="bold" font-size="29.5" fill="#e00000">200</text>
<text x="1202.5" y="1481.1" font-family="'Liberation Serif', serif" font-weight="bold" font-size="29.5" fill="#e00000">100</text>
<text x="1202.5" y="1610.7" font-family="'Liberation Serif', serif" font-weight="bold" font-size="29.5" fill="#e00000">0</text>
<text x="1202.5" y="1740.2" font-family="'Liberation Serif', serif" font-weight="bold" font-size="29.5" fill="#e00000">-100</text>
<text x="1202.5" y="1869.8" font-family="'Liberation Serif', serif" font-weight="bold" font-size="29.5" fill="#e00000">-200</text>
<text x="656" y="1328.8" font-family="'Liberation Serif', serif" font-weight="bold" font-size="28.5" text-anchor="middle">f=13Hz</text>
<text x="656.4" y="1927" font-family="'Liberation Serif', serif" font-weight="bold" font-size="28.5" text-anchor="middle">Time (s)</text>
<text transform="translate(48.2,1603.8) rotate(-90)" font-family="'Liberation Serif', serif" font-weight="bold" font-size="29.3" text-anchor="middle">Low-frequency current signal (mV)</text>
<text transform="translate(1286.3,1601.9) rotate(-90)" font-family="'Liberation Serif', serif" font-weight="bold" font-size="29.2" fill="#e00000" text-anchor="middle">Acoustoelectric signal (uV)</text>
<line x1="842.3" y1="1316.3" x2="871.3" y2="1316.3" stroke="#000" stroke-width="4.4"/>
<text x="873.3" y="1326.5" font-family="'Liberation Serif', serif" font-weight="bold" font-size="28.5">Vi</text>
<line x1="906.3" y1="1316.3" x2="934.3" y2="1316.3" stroke="#eee" stroke-width="2"/>
<text x="939.3" y="1326.5" font-family="'Liberation Serif', serif" font-weight="bold" font-size="28.5">Vae</text>
<line x1="989.3" y1="1316.3" x2="1017.3" y2="1316.3" stroke="#00f" stroke-width="5"/>
<text x="1020.3" y="1326.5" font-family="'Liberation Serif', serif" font-weight="bold" font-size="28.5">DAE</text>
<line x1="1085.3" y1="1316.3" x2="1113.3" y2="1316.3" stroke="#f00" stroke-width="5"/>
<text x="1115.3" y="1326.5" font-family="'Liberation Serif', serif" font-weight="bold" font-size="28.5">aDAF</text>
<text x="10.2" y="1299.3" font-family="'Liberation Sans', sans-serif" font-weight="bold" font-size="42">C</text>
<line x1="1229" y1="116.3" x2="1242" y2="116.3" stroke="#b00000" stroke-width="2.2"/>
</svg></body></html>
